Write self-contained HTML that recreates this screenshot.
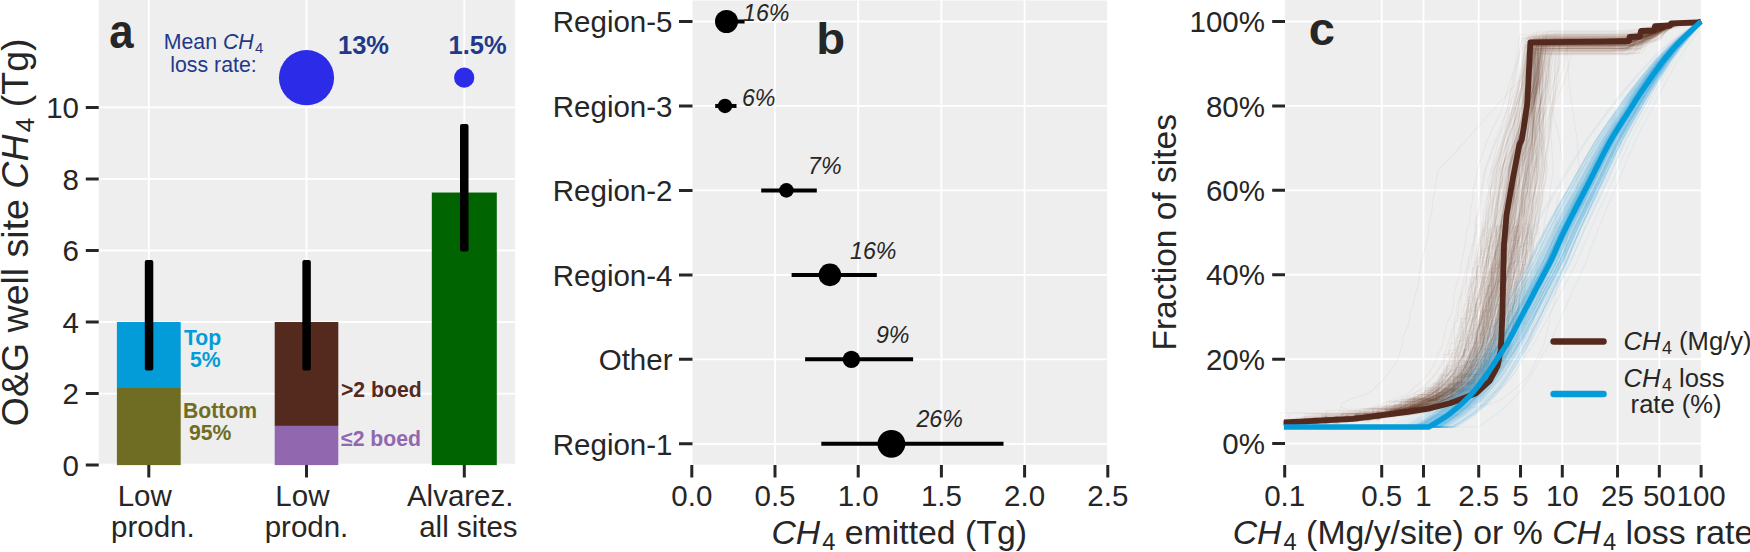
<!DOCTYPE html>
<html><head><meta charset="utf-8"><title>Figure</title>
<style>html,body{margin:0;padding:0;background:#fff;width:1750px;height:552px;overflow:hidden}svg{display:block}text{font-family:"Liberation Sans", Arial, Helvetica, sans-serif}</style>
</head><body>
<svg width="1750" height="552" viewBox="0 0 1750 552">
<defs><clipPath id="clipc"><rect x="1285.0" y="0" width="415.9" height="464.8"/></clipPath></defs>
<rect width="1750" height="552" fill="#fff"/>
<rect x="98.7" y="0" width="416.3" height="463.7" fill="#EEEEEE"/>
<path d="M98.7 393.56H515.0M98.7 322.02H515.0M98.7 250.48H515.0M98.7 178.94H515.0M98.7 107.4H515.0M148.8 0V463.7M306.5 0V463.7M464.3 0V463.7" stroke="#fff" stroke-width="1.8" fill="none"/>
<rect x="116.9" y="387.12" width="63.8" height="77.98" fill="#6F6D23"/>
<rect x="116.9" y="322.02" width="63.8" height="65.1" fill="#039CD9"/>
<rect x="274.7" y="425.9" width="63.6" height="39.2" fill="#9168B0"/>
<rect x="274.7" y="322.02" width="63.6" height="103.88" fill="#542A1E"/>
<rect x="431.8" y="192.53" width="65" height="272.57" fill="#006400"/>
<rect x="144.8" y="260.0" width="8.5" height="110.6" rx="2" fill="#000"/>
<rect x="302.35" y="260.0" width="8.5" height="110.4" rx="2" fill="#000"/>
<rect x="460" y="123.9" width="8.5" height="127.6" rx="2" fill="#000"/>
<circle cx="306.5" cy="77.7" r="27.6" fill="#2C2CE8"/>
<circle cx="464.2" cy="77.7" r="10.1" fill="#2C2CE8"/>
<path d="M85.8 465.1H98.7M85.8 393.56H98.7M85.8 322.02H98.7M85.8 250.48H98.7M85.8 178.94H98.7M85.8 107.4H98.7M148.8 465.1V477.6M306.5 465.1V477.6M464.3 465.1V477.6" stroke="#262626" stroke-width="3" fill="none"/>
<text x="79" y="475.7" text-anchor="end" font-size="29.5" fill="#262626">0</text>
<text x="79" y="404.16" text-anchor="end" font-size="29.5" fill="#262626">2</text>
<text x="79" y="332.62" text-anchor="end" font-size="29.5" fill="#262626">4</text>
<text x="79" y="261.08" text-anchor="end" font-size="29.5" fill="#262626">6</text>
<text x="79" y="189.54" text-anchor="end" font-size="29.5" fill="#262626">8</text>
<text x="79" y="118" text-anchor="end" font-size="29.5" fill="#262626">10</text>
<text x="148.8" y="505.7" text-anchor="middle" font-size="29.5" fill="#262626">Low&#160;</text>
<text x="148.8" y="536.9" text-anchor="middle" font-size="29.5" fill="#262626">&#160;prodn.</text>
<text x="306.5" y="505.7" text-anchor="middle" font-size="29.5" fill="#262626">Low&#160;</text>
<text x="306.5" y="536.9" text-anchor="middle" font-size="29.5" fill="#262626">prodn.</text>
<text x="464.3" y="505.7" text-anchor="middle" font-size="29.5" fill="#262626">Alvarez.&#160;</text>
<text x="464.3" y="536.9" text-anchor="middle" font-size="29.5" fill="#262626">&#160;all sites</text>
<text transform="translate(27.6 232.3) rotate(-90)" text-anchor="middle" font-size="37.5" fill="#262626">O&amp;G well site <tspan font-style="italic">CH</tspan><tspan font-size="26.25" dx="2.25" dy="6.26">4</tspan><tspan dy="-6.26"> (Tg)</tspan></text>
<text transform="translate(109.3 47.6) scale(0.93 1.03)" font-size="47" font-weight="bold" fill="#262626">a</text>
<text x="213.5" y="49" text-anchor="middle" font-size="21.3" fill="#22398A">Mean <tspan font-style="italic">CH</tspan><tspan font-size="14.91" dx="1.28" dy="3.56">4</tspan><tspan dy="-3.56"></tspan></text>
<text x="213.5" y="72.2" text-anchor="middle" font-size="21.3" fill="#22398A">loss rate:</text>
<text x="338" y="53.8" font-size="25.5" font-weight="bold" fill="#22398A">13%</text>
<text x="448.5" y="53.8" font-size="25.5" font-weight="bold" fill="#22398A">1.5%</text>
<text x="184" y="344.7" font-size="21.2" font-weight="bold" fill="#039CD9">Top</text>
<text x="184" y="367.1" font-size="21.2" font-weight="bold" fill="#039CD9">&#160;5%</text>
<text x="183" y="417.6" font-size="21.2" font-weight="bold" fill="#6F6D23">Bottom</text>
<text x="183" y="440" font-size="21.2" font-weight="bold" fill="#6F6D23">&#160;95%</text>
<text x="341" y="396.9" font-size="21.2" font-weight="bold" fill="#542A1E">&gt;2 boed</text>
<text x="341" y="445.5" font-size="21.2" font-weight="bold" fill="#9168B0">&#8804;2 boed</text>
<rect x="692.5" y="0.5" width="414.7" height="464.2" fill="#EEEEEE"/>
<path d="M692.5 21.5H1107.2M692.5 105.96H1107.2M692.5 190.42H1107.2M692.5 274.88H1107.2M692.5 359.34H1107.2M692.5 443.8H1107.2M775 0.5V464.7M858.2 0.5V464.7M941.4 0.5V464.7M1024.6 0.5V464.7" stroke="#fff" stroke-width="1.8" fill="none"/>
<path d="M717.0 21.5H744.6" stroke="#000" stroke-width="4"/>
<circle cx="726.5" cy="21.5" r="11.5" fill="#000"/>
<path d="M715.2 105.96H736.5" stroke="#000" stroke-width="4"/>
<circle cx="725.0" cy="105.96" r="7.2" fill="#000"/>
<path d="M761.2 190.42H816.8" stroke="#000" stroke-width="4"/>
<circle cx="786.4" cy="190.42" r="7.3" fill="#000"/>
<path d="M791.6 274.88H876.8" stroke="#000" stroke-width="4"/>
<circle cx="829.9" cy="274.88" r="11.3" fill="#000"/>
<path d="M805.1 359.34H913.1" stroke="#000" stroke-width="4"/>
<circle cx="851.4" cy="359.34" r="8.7" fill="#000"/>
<path d="M821.3 443.8H1003.5" stroke="#000" stroke-width="4"/>
<circle cx="891.4" cy="443.8" r="13.9" fill="#000"/>
<text x="743" y="21.4" font-size="23.2" font-style="italic" fill="#262626">16%</text>
<text x="741.9" y="106.2" font-size="23.2" font-style="italic" fill="#262626">6%</text>
<text x="808" y="173.9" font-size="23.2" font-style="italic" fill="#262626">7%</text>
<text x="850" y="258.5" font-size="23.2" font-style="italic" fill="#262626">16%</text>
<text x="875.9" y="343" font-size="23.2" font-style="italic" fill="#262626">9%</text>
<text x="916.4" y="427" font-size="23.2" font-style="italic" fill="#262626">26%</text>
<path d="M679 21.5H692.5M679 105.96H692.5M679 190.42H692.5M679 274.88H692.5M679 359.34H692.5M679 443.8H692.5M691.8 465.1V477.6M775 465.1V477.6M858.2 465.1V477.6M941.4 465.1V477.6M1024.6 465.1V477.6M1107.8 465.1V477.6" stroke="#262626" stroke-width="3" fill="none"/>
<text x="672.5" y="32.2" text-anchor="end" font-size="29.5" fill="#262626">Region-5</text>
<text x="672.5" y="116.66" text-anchor="end" font-size="29.5" fill="#262626">Region-3</text>
<text x="672.5" y="201.12" text-anchor="end" font-size="29.5" fill="#262626">Region-2</text>
<text x="672.5" y="285.58" text-anchor="end" font-size="29.5" fill="#262626">Region-4</text>
<text x="672.5" y="370.04" text-anchor="end" font-size="29.5" fill="#262626">Other</text>
<text x="672.5" y="454.5" text-anchor="end" font-size="29.5" fill="#262626">Region-1</text>
<text x="691.8" y="505.8" text-anchor="middle" font-size="29.5" fill="#262626">0.0</text>
<text x="775" y="505.8" text-anchor="middle" font-size="29.5" fill="#262626">0.5</text>
<text x="858.2" y="505.8" text-anchor="middle" font-size="29.5" fill="#262626">1.0</text>
<text x="941.4" y="505.8" text-anchor="middle" font-size="29.5" fill="#262626">1.5</text>
<text x="1024.6" y="505.8" text-anchor="middle" font-size="29.5" fill="#262626">2.0</text>
<text x="1107.8" y="505.8" text-anchor="middle" font-size="29.5" fill="#262626">2.5</text>
<text x="899.2" y="544.2" text-anchor="middle" font-size="33.8" fill="#262626"><tspan font-style="italic">CH</tspan><tspan font-size="23.66" dx="2.03" dy="5.64">4</tspan><tspan dy="-5.64"> emitted (Tg)</tspan></text>
<text transform="translate(816.2 53.9) scale(1.05 0.99)" font-size="45" font-weight="bold" fill="#262626">b</text>
<rect x="1285.0" y="0" width="415.9" height="464.8" fill="#EEEEEE"/>
<path d="M1285.0 443.6H1700.9M1285.0 359.18H1700.9M1285.0 274.76H1700.9M1285.0 190.34H1700.9M1285.0 105.92H1700.9M1285.0 21.5H1700.9M1381.72 0V464.8M1423.5 0V464.8M1478.73 0V464.8M1520.52 0V464.8M1562.3 0V464.8M1617.53 0V464.8M1659.32 0V464.8" stroke="#fff" stroke-width="1.8" fill="none"/>
<g stroke="#542A1E" stroke-opacity="0.042" stroke-width="1.1" fill="none"><path d="M1284.4 424.7 1294.9 422 1305.2 421.3 1315.4 420.6 1326.1 421.8 1336.9 420.1 1346.5 419.4 1358.5 420.1 1367.5 413.9 1379.6 418.7 1388.3 414 1397.7 413.2 1407 409.8 1415.9 406.9 1424.8 403.3 1434 399.2 1444 394.4 1452.5 388.5 1461.7 381.4 1467.8 373.2 1473.2 364.3 1477.9 354.8 1482.2 344.9 1483.2 334.8 1486.6 324.6 1488 314.4 1490.7 304.1 1493.1 293.9 1497.2 283.7 1498.1 273.4 1500 263.2 1501.9 252.9 1504.4 242.6 1507.6 232.3 1507.5 221.9 1509.6 211.6 1514 201.2 1514 190.8 1515.5 180.4 1516.4 170 1522 140 1525.4 110 1529.1 80 1535 41.6 1615.2 41.6 1644.4 32.5 1677.7 22.9 1701 21.5"/><path d="M1285 420 1293.3 422.7 1306.1 422.6 1313.9 417.3 1326.2 419.4 1335.5 421.2 1347.8 419.3 1357.6 418.9 1369.1 418.1 1378.7 416.7 1385.2 416.2 1394.8 413 1400.1 409.8 1408.6 406.9 1418.8 403.3 1426.3 399.2 1437.7 394.4 1447.3 388.5 1453.2 381.4 1462.1 373.2 1466.8 364.3 1470.7 354.8 1474.6 344.9 1477.6 334.8 1479.7 324.6 1483 314.4 1483.9 304.1 1486.5 293.9 1490 283.7 1491.6 273.4 1493.2 263.2 1496.8 252.9 1499.3 242.6 1499.6 232.3 1500.6 221.9 1503.3 211.6 1505 201.2 1506.4 190.8 1509.3 180.4 1508.9 170 1517.9 140 1528.5 110 1537.7 80 1542.8 36.7 1634 36.7 1648.9 32.5 1672.6 24.6 1701 21.5"/><path d="M1284.2 423.4 1294.8 422.1 1305.1 423.2 1314.7 421.8 1326.4 419.6 1337.1 421.9 1348 420.7 1357.3 417.6 1367.9 418.3 1378.7 415.6 1389.1 414.4 1396.8 414 1405.3 409.8 1415 406.9 1424.6 403.3 1434.5 399.2 1443.4 394.4 1453.5 388.5 1459.4 381.4 1466 373.2 1471.2 364.3 1475.9 354.8 1480.1 344.9 1482.6 334.8 1484 324.6 1487.6 314.4 1489.1 304.1 1492.4 293.9 1496 283.7 1498.5 273.4 1499.1 263.2 1502 252.9 1502.1 242.6 1505.3 232.3 1506.5 221.9 1508.1 211.6 1510.4 201.2 1512.2 190.8 1513.6 180.4 1515 170 1518.1 140 1523.9 110 1534 80 1537.3 38.6 1645.4 38.6 1645.2 32.4 1674.1 24.1 1701 21.5"/><path d="M1282.8 420.7 1295 420.9 1304.2 419.5 1316.5 422.2 1327.1 419.1 1336.4 418.1 1347.5 421.4 1356.7 420.5 1368.6 416.9 1376.7 418 1390.5 413.3 1403.6 412.8 1417 409.8 1427.4 406.9 1439.9 403.3 1449.8 399.2 1458.5 394.4 1465.8 388.5 1473.1 381.4 1481.1 373.2 1485.9 364.3 1490.4 354.8 1494.9 344.9 1496.4 334.8 1497.2 324.6 1501.2 314.4 1502.5 304.1 1506.9 293.9 1508.9 283.7 1510.5 273.4 1513.3 263.2 1516.2 252.9 1517.6 242.6 1520.5 232.3 1521.2 221.9 1523.7 211.6 1525.7 201.2 1527.4 190.8 1527.1 180.4 1529.9 170 1535 140 1546.3 110 1549.6 80 1556.8 37.6 1627.9 37.6 1647.8 31.9 1669.6 24.2 1701 21.5"/><path d="M1284 420.6 1294.7 421.1 1304.7 419.8 1315.3 421.3 1325.6 419.4 1336.2 419.3 1348.3 417.1 1357.3 418.4 1366.1 415.2 1378.6 414.1 1394 413.7 1410 410.5 1427.3 409.8 1445 406.9 1455.6 403.3 1467 399.2 1471.9 394.4 1481.8 388.5 1490.6 381.4 1497.6 373.2 1501.2 364.3 1506.5 354.8 1510 344.9 1512.2 334.8 1515.1 324.6 1517.5 314.4 1520.2 304.1 1521.5 293.9 1523.3 283.7 1527.3 273.4 1529 263.2 1531.2 252.9 1532.3 242.6 1536.4 232.3 1538.4 221.9 1539.4 211.6 1540.3 201.2 1542.8 190.8 1543.3 180.4 1542.7 170 1540.6 140 1538.7 110 1540 80 1538.4 44.5 1625.5 44.5 1644 36.9 1677.8 25.3 1701 21.5"/><path d="M1284.7 423.2 1293.8 421.1 1307.1 423.4 1316 417.2 1326.4 421.2 1337.8 420.4 1346.9 419.8 1355.8 419.8 1368.1 416.1 1379.3 418.6 1388 413.2 1400.2 412.5 1410.4 409.8 1420.6 406.9 1433.2 403.3 1442 399.2 1449.4 394.4 1457.9 388.5 1468.1 381.4 1474.1 373.2 1480.3 364.3 1483.9 354.8 1486.1 344.9 1489.8 334.8 1490.3 324.6 1493.9 314.4 1496.9 304.1 1499.7 293.9 1501.1 283.7 1503.9 273.4 1506.7 263.2 1508.9 252.9 1511.1 242.6 1512.6 232.3 1514 221.9 1516.6 211.6 1517.6 201.2 1518.5 190.8 1520.1 180.4 1522.2 170 1524.6 140 1526.8 110 1528.3 80 1530.1 43.8 1619.2 43.8 1654.3 36.2 1673.7 23.8 1701 21.5"/><path d="M1283.2 423.8 1293.8 420.1 1304.9 423.1 1315.4 422.3 1324.9 419.5 1335.8 419.5 1347.1 419.4 1357.6 418.1 1367.2 417.5 1378.5 417.5 1388.6 413.7 1401.3 412.3 1414.4 409.8 1424.9 406.9 1435.9 403.3 1444.9 399.2 1454.6 394.4 1465.1 388.5 1470.3 381.4 1476.8 373.2 1482.7 364.3 1488 354.8 1490.7 344.9 1493.6 334.8 1496.2 324.6 1498 314.4 1501.6 304.1 1502.8 293.9 1505.7 283.7 1508 273.4 1510.4 263.2 1512.6 252.9 1515 242.6 1516.3 232.3 1518.4 221.9 1520.7 211.6 1521.7 201.2 1523.3 190.8 1525.8 180.4 1524.9 170 1525.7 140 1531 110 1531.2 80 1534 38.6 1618.7 38.6 1653.7 38 1677.2 23.8 1701 21.5"/><path d="M1284.9 421.7 1294.3 419.6 1305.6 423.1 1313.9 421 1326.4 417.8 1335 418.2 1346.4 416.9 1357.4 418.6 1368.3 418.2 1379.5 417.6 1386.9 413.5 1396.5 410.6 1406.7 409.8 1416 406.9 1426 403.3 1434 399.2 1443.9 394.4 1453.5 388.5 1461.1 381.4 1467.6 373.2 1473.3 364.3 1477.2 354.8 1481.9 344.9 1484.4 334.8 1486.5 324.6 1488.6 314.4 1491.4 304.1 1491.7 293.9 1495.4 283.7 1498.6 273.4 1499.7 263.2 1503.3 252.9 1505.3 242.6 1505.9 232.3 1508.6 221.9 1510.2 211.6 1512.5 201.2 1514.2 190.8 1515.2 180.4 1516 170 1521.1 140 1523.7 110 1525.4 80 1529.1 42.7 1618.5 42.7 1643.6 34.1 1667.6 23.9 1701 21.5"/><path d="M1284.1 424.3 1296.6 422.6 1304.9 419.1 1315.8 422.7 1325.8 420.3 1337 420.8 1346.7 418.3 1357.2 414.5 1367.5 419 1379.4 412.8 1387.1 413.9 1395.1 413.6 1403.6 409.8 1412.6 406.9 1421.8 403.3 1430.6 399.2 1441.3 394.4 1449.8 388.5 1458.1 381.4 1463.8 373.2 1470.4 364.3 1474.3 354.8 1477.7 344.9 1480.6 334.8 1481.5 324.6 1486.8 314.4 1489.2 304.1 1489.8 293.9 1490.9 283.7 1494.8 273.4 1498 263.2 1497.2 252.9 1503.4 242.6 1502.8 232.3 1504.8 221.9 1506.3 211.6 1508.8 201.2 1510.4 190.8 1511.7 180.4 1513.5 170 1519.8 140 1525.7 110 1533.3 80 1536 46.5 1630.5 46.5 1660 38.5 1669.7 24.5 1701 21.5"/><path d="M1284.9 422.3 1294.4 421.9 1304.9 420.1 1315.5 419 1325.9 420.9 1336.8 419.4 1346.2 419.3 1357 420.6 1368.4 417 1377.9 414.8 1383.9 413.7 1390.5 413 1396.3 409.8 1403 406.9 1409 403.3 1419.2 399.2 1432.1 394.4 1437 388.5 1445.8 381.4 1452.9 373.2 1458.5 364.3 1463.2 354.8 1466.2 344.9 1469.4 334.8 1471.6 324.6 1474.7 314.4 1475 304.1 1478.1 293.9 1481.2 283.7 1482.7 273.4 1485.1 263.2 1488.6 252.9 1489.6 242.6 1492.5 232.3 1494.4 221.9 1495.7 211.6 1497.5 201.2 1498.6 190.8 1499.1 180.4 1501.7 170 1509.8 140 1518 110 1522.4 80 1529.3 40.4 1632.5 40.4 1644.7 37.4 1672.6 23.8 1701 21.5"/><path d="M1284.3 421 1294.7 423.9 1305 424.3 1314.8 423.6 1324.3 420.5 1336.8 420.8 1347.7 417.6 1355.6 417.8 1366.7 417.3 1377.4 415.5 1393.2 414.5 1408.6 414.1 1424.3 409.8 1440.3 406.9 1452.6 403.3 1461.9 399.2 1470.8 394.4 1478.3 388.5 1485.7 381.4 1493.5 373.2 1498.7 364.3 1502 354.8 1505.8 344.9 1509.2 334.8 1512.5 324.6 1514.6 314.4 1516.4 304.1 1516.7 293.9 1521.5 283.7 1522.4 273.4 1524.4 263.2 1527.4 252.9 1530.1 242.6 1531.9 232.3 1535.6 221.9 1535.1 211.6 1536.3 201.2 1539.4 190.8 1540.2 180.4 1541.2 170 1545.2 140 1545.3 110 1545.4 80 1547 42.7 1634.2 42.7 1640 35.2 1674.9 24.6 1701 21.5"/><path d="M1283.5 423 1295.2 422.1 1305.2 420.8 1315.7 423.6 1325.4 424 1335.9 419.8 1347 420.6 1356.4 415.1 1368.3 418.4 1378.8 419.8 1393.9 414.6 1410.9 412.8 1427.8 409.8 1441.5 406.9 1454.2 403.3 1461.4 399.2 1472.5 394.4 1480.2 388.5 1488.9 381.4 1496.5 373.2 1500.4 364.3 1504.6 354.8 1507.9 344.9 1510.4 334.8 1513.1 324.6 1516.6 314.4 1518.5 304.1 1520.8 293.9 1523 283.7 1526.3 273.4 1528.3 263.2 1530 252.9 1532.6 242.6 1533.8 232.3 1534.8 221.9 1538.6 211.6 1539.4 201.2 1539.9 190.8 1543 180.4 1544 170 1548.2 140 1552.2 110 1554.3 80 1556.5 51 1627 51 1653.8 35.9 1672.1 23.7 1701 21.5"/><path d="M1284.1 422.9 1295.8 423.5 1304.5 421.2 1317.5 420.2 1325.5 420.2 1335.7 419.8 1347 419.2 1355.6 415.8 1366.4 418.2 1378.3 412.2 1390 415.7 1401 412.2 1413.6 409.8 1422.2 406.9 1434.5 403.3 1444.6 399.2 1454.4 394.4 1461.6 388.5 1467.9 381.4 1476.2 373.2 1480.5 364.3 1485.7 354.8 1490.2 344.9 1491.4 334.8 1495.9 324.6 1497.8 314.4 1499.9 304.1 1502 293.9 1503.8 283.7 1507 273.4 1509.2 263.2 1510.6 252.9 1513.1 242.6 1516.8 232.3 1516.8 221.9 1519.3 211.6 1520.2 201.2 1522.2 190.8 1523.6 180.4 1523.7 170 1525.8 140 1525.1 110 1529.4 80 1529.6 39.5 1622.7 39.5 1653.1 30.3 1667.2 25.4 1701 21.5"/><path d="M1283.3 422.4 1294.4 421.4 1305 422.9 1316.4 423.7 1325.3 419.8 1334.4 422.6 1346.3 419 1357.8 416.2 1368.2 417.1 1376.8 416.3 1393.6 411.4 1408.4 412.5 1423 409.8 1437.8 406.9 1450 403.3 1458.5 399.2 1467.4 394.4 1475 388.5 1483.6 381.4 1489 373.2 1495.1 364.3 1501 354.8 1503.5 344.9 1505.8 334.8 1507.5 324.6 1510.3 314.4 1513.4 304.1 1516.4 293.9 1518.3 283.7 1520.8 273.4 1522.7 263.2 1526 252.9 1526.6 242.6 1528.4 232.3 1531.3 221.9 1532.3 211.6 1533.7 201.2 1535 190.8 1536.8 180.4 1539 170 1539.4 140 1538.8 110 1536.8 80 1538.1 37 1633.4 37 1646 31.4 1675.2 25.3 1701 21.5"/><path d="M1284.4 424.2 1294.3 421.1 1304.7 419.1 1316.3 422.5 1325.9 421.2 1337.6 419.8 1347 420.3 1356.9 418.9 1367.1 418.4 1377.7 416 1386.7 412.2 1394 412.8 1402 409.8 1409.2 406.9 1418.3 403.3 1428 399.2 1438.5 394.4 1447 388.5 1455.8 381.4 1461.8 373.2 1466.9 364.3 1470 354.8 1475.1 344.9 1478.3 334.8 1480.1 324.6 1484.1 314.4 1486.5 304.1 1488.4 293.9 1489.7 283.7 1493.9 273.4 1495.1 263.2 1495.4 252.9 1499.9 242.6 1499.6 232.3 1501.4 221.9 1504.9 211.6 1506.9 201.2 1507.4 190.8 1509.6 180.4 1511.2 170 1522.9 140 1529.4 110 1540.9 80 1547 44.4 1625.3 44.4 1648.2 36.4 1678.4 24.2 1701 21.5"/><path d="M1284 422.6 1294.7 421.7 1304.2 420.6 1315 420.2 1325 421.4 1335.4 420.8 1346.1 419.6 1358.5 418.5 1367.2 417.2 1378.4 413.3 1387.6 414.5 1397.4 412.3 1408 409.8 1417.5 406.9 1427.2 403.3 1436.6 399.2 1445.5 394.4 1454.4 388.5 1461.9 381.4 1468.4 373.2 1474.1 364.3 1477.3 354.8 1481.9 344.9 1485 334.8 1486.7 324.6 1489.9 314.4 1492.7 304.1 1494.5 293.9 1498.7 283.7 1497.3 273.4 1501.6 263.2 1502.5 252.9 1506.8 242.6 1510 232.3 1507.6 221.9 1511.4 211.6 1513.4 201.2 1514.3 190.8 1516.5 180.4 1515.8 170 1522.8 140 1527.8 110 1535.5 80 1539.2 44.9 1624.6 44.9 1644.9 36.4 1663 24 1701 21.5"/><path d="M1284.6 422.8 1294.7 422.7 1305.4 423.8 1315 421.8 1325.6 420.6 1336 417.7 1346.7 417.1 1358.6 416.3 1367.5 417.7 1378 418 1389.2 412.1 1401.2 411.8 1413.7 409.8 1421.4 406.9 1431.8 403.3 1441.9 399.2 1450.1 394.4 1460.2 388.5 1468.5 381.4 1475.3 373.2 1479.9 364.3 1483.9 354.8 1488.6 344.9 1491.3 334.8 1492.6 324.6 1494.8 314.4 1497 304.1 1500.2 293.9 1502.3 283.7 1505.3 273.4 1507.9 263.2 1508.3 252.9 1511.6 242.6 1513.5 232.3 1514.6 221.9 1516.7 211.6 1519.4 201.2 1519.8 190.8 1521.3 180.4 1522.6 170 1526.9 140 1527.2 110 1530.7 80 1534 40.8 1630.8 40.8 1644.8 36.6 1672.3 24.7 1701 21.5"/><path d="M1284.9 424.2 1295.5 420.5 1304.5 422.4 1316.6 421.3 1325.3 419.9 1335.9 418.5 1348.1 418.1 1357.4 421.5 1368.8 417.7 1377.8 416.5 1389.1 415.2 1398 412.4 1406.6 409.8 1415.1 406.9 1425.1 403.3 1435.5 399.2 1442.9 394.4 1452.7 388.5 1460.7 381.4 1466.6 373.2 1472.4 364.3 1477.7 354.8 1482.2 344.9 1483.9 334.8 1486.1 324.6 1487.1 314.4 1492.3 304.1 1493.1 293.9 1495.4 283.7 1496.9 273.4 1500.1 263.2 1501.4 252.9 1504.4 242.6 1506.6 232.3 1508 221.9 1509.9 211.6 1510.6 201.2 1514 190.8 1513.9 180.4 1514.5 170 1517.5 140 1522.2 110 1526.9 80 1529.5 39.2 1619.7 39.2 1656.6 32.8 1674.7 23.8 1701 21.5"/><path d="M1283.9 423.2 1295.8 424.7 1304.5 420.3 1316.9 420.6 1326.5 422.2 1335.8 419 1345.8 420.7 1357.3 419.4 1366.8 418.2 1377.6 415.6 1388 413.9 1400.3 411.8 1410.2 409.8 1421.4 406.9 1430.8 403.3 1441.1 399.2 1450 394.4 1459.3 388.5 1466 381.4 1473 373.2 1478.6 364.3 1484.1 354.8 1486.7 344.9 1488.4 334.8 1490.8 324.6 1494.1 314.4 1496.3 304.1 1498.3 293.9 1500.8 283.7 1504.2 273.4 1504.6 263.2 1508.4 252.9 1510 242.6 1513.3 232.3 1512.5 221.9 1515.9 211.6 1517 201.2 1518.8 190.8 1520.6 180.4 1523.3 170 1524.6 140 1530.3 110 1530.2 80 1534.3 45.7 1627.3 45.7 1656.2 37.2 1675.9 24.2 1701 21.5"/><path d="M1284.6 423.2 1294.2 424.7 1304.5 422.7 1316.4 420.7 1326.6 418.8 1337.2 420.1 1345.6 420 1356.7 420.1 1367.3 416.9 1378.5 415.4 1391.4 413.4 1405.1 412.2 1417.9 409.8 1428.6 406.9 1442.7 403.3 1451.4 399.2 1458.5 394.4 1468.7 388.5 1476.7 381.4 1483.7 373.2 1487.6 364.3 1494.1 354.8 1496.3 344.9 1501.1 334.8 1501.6 324.6 1504.7 314.4 1506.3 304.1 1508 293.9 1512.1 283.7 1514.4 273.4 1517.2 263.2 1518.9 252.9 1519.7 242.6 1520.7 232.3 1523.3 221.9 1525 211.6 1526.5 201.2 1529.2 190.8 1530.5 180.4 1531.6 170 1532.5 140 1533.9 110 1534.7 80 1533.7 42.3 1623.2 42.3 1656.6 31.6 1672.5 25.1 1701 21.5"/><path d="M1283.7 422.2 1293.9 422 1305.4 423 1314.5 421.1 1325.5 418.1 1336.9 419.1 1346.7 416 1357.8 418.3 1368.4 416.4 1379.4 416.4 1383.3 414.9 1388.5 411.4 1393.3 409.8 1397.1 406.9 1405.1 403.3 1415 399.2 1427.1 394.4 1433.8 388.5 1441.1 381.4 1448.5 373.2 1453.6 364.3 1456.4 354.8 1463.2 344.9 1464.8 334.8 1465.6 324.6 1468.9 314.4 1472 304.1 1473.9 293.9 1476.2 283.7 1479.1 273.4 1481.9 263.2 1484.2 252.9 1485.6 242.6 1487.6 232.3 1487.9 221.9 1489.6 211.6 1492.4 201.2 1493.5 190.8 1495.6 180.4 1496.3 170 1503.2 140 1513.2 110 1524.3 80 1530.2 42.4 1628 42.4 1649.3 32.6 1678.3 25.3 1701 21.5"/><path d="M1284.7 421.2 1293.9 421.1 1304.5 423.7 1316.1 422 1326.2 418.1 1336 419 1346.1 419.8 1356.8 417.1 1367 414.1 1378.7 417.9 1385.2 412.8 1389 412.5 1398.1 409.8 1403.3 406.9 1412.2 403.3 1422.3 399.2 1432.5 394.4 1439.9 388.5 1448.8 381.4 1455.2 373.2 1458.9 364.3 1464.3 354.8 1467 344.9 1470.8 334.8 1473.8 324.6 1475 314.4 1476.6 304.1 1481.6 293.9 1483.2 283.7 1486.5 273.4 1486.6 263.2 1490.7 252.9 1493.6 242.6 1495.4 232.3 1495.4 221.9 1497.4 211.6 1498.7 201.2 1501.2 190.8 1502.8 180.4 1503.5 170 1514.5 140 1525.9 110 1535 80 1542.4 46.7 1639.4 46.7 1645.3 39.1 1673.4 25.8 1701 21.5"/><path d="M1284.3 423.5 1293 421.2 1304.3 420.7 1315.2 422.5 1325.8 418.7 1335.3 420.5 1346.1 418.5 1358.3 420.2 1368.9 415.4 1379.5 415.7 1387.8 414.2 1396.2 412.3 1403.7 409.8 1411.7 406.9 1420.4 403.3 1430.8 399.2 1441.3 394.4 1448.5 388.5 1457.1 381.4 1462.8 373.2 1468.3 364.3 1472.4 354.8 1478.5 344.9 1480.1 334.8 1482.2 324.6 1485.7 314.4 1485.7 304.1 1489.7 293.9 1491.5 283.7 1494.9 273.4 1495.7 263.2 1499 252.9 1500.9 242.6 1503.9 232.3 1504.2 221.9 1506.2 211.6 1508.2 201.2 1509.8 190.8 1511.4 180.4 1512.6 170 1523.1 140 1527.2 110 1532.6 80 1538.6 49.2 1635.4 49.2 1649.7 36.4 1666.2 25.4 1701 21.5"/><path d="M1284.4 425.2 1293.2 421.9 1303.4 422.9 1314.9 420.7 1326 421.3 1336.2 419.8 1346.5 419.2 1356.4 418.3 1366.3 416.4 1379.8 416 1384.3 414.6 1390.9 409.7 1397.5 409.8 1404.9 406.9 1413.1 403.3 1422.4 399.2 1432.1 394.4 1440.7 388.5 1450.4 381.4 1456 373.2 1460.7 364.3 1464.2 354.8 1468.3 344.9 1474.2 334.8 1473.7 324.6 1477.1 314.4 1479.7 304.1 1481.7 293.9 1484 283.7 1485.5 273.4 1488.1 263.2 1492.5 252.9 1492.6 242.6 1495.7 232.3 1495.4 221.9 1498.3 211.6 1500.3 201.2 1502.5 190.8 1502.3 180.4 1505.2 170 1513.1 140 1517 110 1523.2 80 1529.2 39.3 1627.9 39.3 1647.3 27.7 1668 22.5 1701 21.5"/><path d="M1284.6 421.2 1293.9 422.5 1304.7 421.2 1313.8 420.7 1325.9 420.4 1336.5 421 1348.6 417.3 1356.6 419 1366.1 415.6 1377.5 414.3 1386.5 412.4 1395.4 412.7 1406 409.8 1412.1 406.9 1423.1 403.3 1432.8 399.2 1442.5 394.4 1452.2 388.5 1458.9 381.4 1466.2 373.2 1470.1 364.3 1474.2 354.8 1479.8 344.9 1481.7 334.8 1482.9 324.6 1486.4 314.4 1489.5 304.1 1490.5 293.9 1493.8 283.7 1494.9 273.4 1498.7 263.2 1500.7 252.9 1502.4 242.6 1504.1 232.3 1506 221.9 1508.9 211.6 1510.4 201.2 1509.4 190.8 1511.7 180.4 1513.9 170 1519.2 140 1525.1 110 1522.9 80 1527.1 37.9 1620.9 37.9 1654.9 32.8 1675.4 24.1 1701 21.5"/><path d="M1285.2 423.1 1296 425.1 1306.3 423.3 1315.6 421.3 1325.8 419.4 1336.4 418.8 1348.2 419.8 1357 415.3 1367.8 416.5 1377.4 414.2 1390.2 415.1 1406.3 416.1 1420.5 409.8 1434.4 406.9 1447 403.3 1455.6 399.2 1463.9 394.4 1472.1 388.5 1479.7 381.4 1487.9 373.2 1493.1 364.3 1498.1 354.8 1500 344.9 1503.1 334.8 1504.8 324.6 1508.8 314.4 1509.3 304.1 1513.2 293.9 1516 283.7 1518.6 273.4 1519 263.2 1522.9 252.9 1523.5 242.6 1525.3 232.3 1526.6 221.9 1530.3 211.6 1532.3 201.2 1532.1 190.8 1533.5 180.4 1535.3 170 1544.2 140 1550.3 110 1560 80 1567.5 48 1636.3 48 1646.4 41.2 1669.2 23.5 1701 21.5"/><path d="M1284.7 422.2 1293.5 424.5 1304.1 421.7 1315.5 421 1326.8 418.1 1335.7 420.1 1346.8 420.4 1356.1 419.5 1367.1 416.7 1379.8 416.7 1381.8 415.4 1386.1 413.9 1390.4 409.8 1393.5 406.9 1400.3 403.3 1410.5 399.2 1419.9 394.4 1430.5 388.5 1439.2 381.4 1444.3 373.2 1449.5 364.3 1454.9 354.8 1458.8 344.9 1461 334.8 1462.1 324.6 1465.6 314.4 1468.5 304.1 1471.2 293.9 1471.8 283.7 1475.6 273.4 1478.8 263.2 1481.3 252.9 1481 242.6 1483 232.3 1485.5 221.9 1486.9 211.6 1488.7 201.2 1490.7 190.8 1492.5 180.4 1493.4 170 1504.8 140 1514.5 110 1525.2 80 1533.3 38.3 1651 38.3 1646 34.6 1673.3 22.8 1701 21.5"/><path d="M1283.4 422.2 1294.3 422.3 1307.4 422.7 1316.1 419.8 1325.4 420 1336.6 418.2 1348.2 418.2 1358.2 414.7 1367.8 417.6 1378.4 416.8 1384.9 414.5 1388.8 411.1 1394 409.8 1401.8 406.9 1409.8 403.3 1419.1 399.2 1429.2 394.4 1438.1 388.5 1447.7 381.4 1454.2 373.2 1458.4 364.3 1463.9 354.8 1465.1 344.9 1467.6 334.8 1471.3 324.6 1473.4 314.4 1476.1 304.1 1479 293.9 1483.6 283.7 1483.1 273.4 1486 263.2 1488.4 252.9 1490.1 242.6 1492.8 232.3 1495.2 221.9 1494.5 211.6 1497.3 201.2 1498.5 190.8 1500.5 180.4 1500.5 170 1515.4 140 1526.7 110 1538.2 80 1547.5 31.4 1611.4 31.4 1643.5 28.5 1666.3 23.1 1701 21.5"/><path d="M1284.4 424.2 1295.1 422.9 1305.5 423.1 1316.4 423.5 1326 420.6 1336.6 420.7 1346.7 421.8 1356.7 418.8 1367.5 416.5 1378.4 418.5 1390.1 413.1 1402.9 410.7 1417.5 409.8 1427.7 406.9 1439.8 403.3 1449.6 399.2 1458.3 394.4 1467.8 388.5 1474.7 381.4 1480.4 373.2 1486.3 364.3 1491.3 354.8 1493.9 344.9 1496.8 334.8 1499.9 324.6 1501.9 314.4 1506.1 304.1 1506.6 293.9 1509.7 283.7 1510.9 273.4 1514 263.2 1516.5 252.9 1518 242.6 1520.3 232.3 1521.8 221.9 1524.5 211.6 1524.4 201.2 1526.9 190.8 1529.1 180.4 1529.6 170 1534.5 140 1541.3 110 1538.6 80 1541.3 44.4 1630.8 44.4 1644.9 35.3 1680.3 25.5 1701 21.5"/><path d="M1284.1 423 1294.7 421.1 1305 421.8 1315.9 419.5 1326.3 421.9 1336.9 419.2 1346.5 418.7 1358 420.5 1367.7 416.2 1378.6 416.2 1389.6 413.1 1402.6 413.2 1414 409.8 1426.2 406.9 1438.1 403.3 1446.3 399.2 1456.2 394.4 1465.1 388.5 1472.4 381.4 1478.3 373.2 1484.6 364.3 1488.8 354.8 1492.9 344.9 1494.7 334.8 1498.7 324.6 1499 314.4 1502.6 304.1 1505.1 293.9 1508.2 283.7 1509.3 273.4 1512.6 263.2 1513.9 252.9 1517 242.6 1519.6 232.3 1519.7 221.9 1522.1 211.6 1522.6 201.2 1525.7 190.8 1527.4 180.4 1528 170 1535.2 140 1539.6 110 1543.7 80 1546.1 45 1615.2 45 1656.5 34.6 1667.1 25.1 1701 21.5"/><path d="M1284.6 421.2 1294.5 420.5 1304.8 425.6 1315.7 421.3 1326.4 421.4 1336.8 419.9 1346.7 420.9 1358.1 418.3 1368 415.6 1377.6 413.6 1394.1 416.7 1412.4 412.1 1428.1 409.8 1445.8 406.9 1458 403.3 1466.4 399.2 1474.5 394.4 1483.8 388.5 1491.4 381.4 1498.2 373.2 1503.8 364.3 1507.8 354.8 1510.6 344.9 1512.6 334.8 1515.7 324.6 1519.5 314.4 1522.4 304.1 1524.2 293.9 1525.5 283.7 1526.9 273.4 1531.3 263.2 1531.9 252.9 1534.6 242.6 1537.9 232.3 1537.9 221.9 1539.8 211.6 1542.2 201.2 1542.9 190.8 1545.6 180.4 1547.8 170 1543.5 140 1542.9 110 1539.8 80 1538.3 50.8 1610.5 50.8 1652.2 38.4 1670.8 22.8 1701 21.5"/><path d="M1283.7 422.9 1293.6 423.1 1305.4 421.8 1316.8 420.6 1327 419.6 1337 416.9 1347.1 418.8 1357 417.3 1367.6 416.1 1376.5 415 1390.2 413.5 1402.5 412 1416.6 409.8 1428.2 406.9 1438.7 403.3 1449.9 399.2 1458.2 394.4 1466.9 388.5 1474.8 381.4 1480.1 373.2 1485.9 364.3 1491.3 354.8 1493.5 344.9 1496.6 334.8 1499.5 324.6 1502 314.4 1503.9 304.1 1507.2 293.9 1508.6 283.7 1511.7 273.4 1514.3 263.2 1516.2 252.9 1518.3 242.6 1518.7 232.3 1520.3 221.9 1522.6 211.6 1525.1 201.2 1527.5 190.8 1526.8 180.4 1529.6 170 1533 140 1537.7 110 1540.3 80 1542.6 39.3 1636.3 39.3 1653.3 31.2 1675.7 24.1 1701 21.5"/><path d="M1283.5 421.8 1294.5 423.6 1304.9 421.9 1315 423.9 1326.6 420 1336.5 418.6 1347.5 419 1357 418.8 1369.8 417.1 1377.8 415.2 1390.7 413.3 1401.1 413.9 1412.8 409.8 1424.5 406.9 1436.1 403.3 1445.9 399.2 1453.5 394.4 1462.1 388.5 1471.4 381.4 1477.3 373.2 1481.6 364.3 1488.9 354.8 1492.5 344.9 1495.5 334.8 1496.6 324.6 1498.2 314.4 1501 304.1 1504.8 293.9 1505.9 283.7 1507.3 273.4 1511.5 263.2 1513.8 252.9 1514.3 242.6 1516.3 232.3 1519.3 221.9 1519.2 211.6 1522.4 201.2 1523.4 190.8 1525.9 180.4 1525.9 170 1530.9 140 1531.7 110 1531.4 80 1534.6 39.2 1623.8 39.2 1646.9 33.5 1674.1 22.8 1701 21.5"/><path d="M1284.6 422.4 1295.3 420 1305.5 421.5 1313.9 422.6 1326.2 420.5 1335.6 419.1 1348.1 417.8 1354.6 416.9 1366.9 417 1377.9 414.5 1384.3 415.8 1389.8 415.2 1396.4 409.8 1401.8 406.9 1411.7 403.3 1421.2 399.2 1430.4 394.4 1440.5 388.5 1446.2 381.4 1453.5 373.2 1460.7 364.3 1464 354.8 1466.7 344.9 1471 334.8 1473.8 324.6 1475.5 314.4 1476.5 304.1 1480 293.9 1482.9 283.7 1485.6 273.4 1488.8 263.2 1489.3 252.9 1491.2 242.6 1493.4 232.3 1496.1 221.9 1496.1 211.6 1499.6 201.2 1497.9 190.8 1502.2 180.4 1502.6 170 1509 140 1517.4 110 1524.7 80 1529.7 46.4 1632.1 46.4 1642.1 34.9 1664.3 26.5 1701 21.5"/><path d="M1283.8 423.3 1293.8 422.3 1304.9 420.8 1316.9 419.2 1325.3 421 1337.3 418.7 1346.7 417.9 1356.6 420.2 1367.8 416.5 1378.5 417.3 1389.2 414.8 1397.9 413.1 1408.1 409.8 1417.1 406.9 1425.3 403.3 1436 399.2 1445.2 394.4 1455.5 388.5 1461.9 381.4 1467.8 373.2 1475.1 364.3 1478.1 354.8 1482.3 344.9 1484.7 334.8 1487.6 324.6 1490.6 314.4 1491.5 304.1 1493.9 293.9 1497.5 283.7 1499 273.4 1501.7 263.2 1504.5 252.9 1505 242.6 1508.4 232.3 1509.1 221.9 1510.6 211.6 1512.3 201.2 1516 190.8 1516.3 180.4 1517.7 170 1521.8 140 1527.6 110 1535 80 1536.9 50.4 1635.9 50.4 1652.3 38.1 1671.1 22.8 1701 21.5"/><path d="M1283.4 425.9 1293.1 422.6 1305 422.7 1315.1 421.9 1326.6 420.2 1336.1 419.5 1346.1 418.7 1357.1 418.5 1368.9 419.1 1377.9 416.8 1391.9 415.4 1405.7 412.6 1419.2 409.8 1432.6 406.9 1445.1 403.3 1455.1 399.2 1462.9 394.4 1471.4 388.5 1479 381.4 1485 373.2 1489.5 364.3 1495.9 354.8 1499 344.9 1501.2 334.8 1503.4 324.6 1507.6 314.4 1507.6 304.1 1512.8 293.9 1514.2 283.7 1518 273.4 1517.8 263.2 1520.6 252.9 1522.2 242.6 1524.6 232.3 1526.1 221.9 1527.4 211.6 1530.5 201.2 1530.5 190.8 1532.3 180.4 1534.7 170 1536.7 140 1536.8 110 1536.7 80 1539.5 40.8 1627.3 40.8 1658.2 33.5 1667.6 25 1701 21.5"/><path d="M1283.7 423.8 1294.7 423.1 1304.4 421.4 1315.1 419.8 1325.7 419.2 1336.4 421 1347.2 419.1 1357.8 418 1367.2 414.5 1379.3 416.4 1384.6 414.8 1393.4 412.2 1401.3 409.8 1407.9 406.9 1416.3 403.3 1426.5 399.2 1437.8 394.4 1445.1 388.5 1452.5 381.4 1460.1 373.2 1467.2 364.3 1469.4 354.8 1474.5 344.9 1476.6 334.8 1479.2 324.6 1482.5 314.4 1483.1 304.1 1486.1 293.9 1488.2 283.7 1491.3 273.4 1493.3 263.2 1495.6 252.9 1498.1 242.6 1499.1 232.3 1501.2 221.9 1502.3 211.6 1505.4 201.2 1506.6 190.8 1508.9 180.4 1507.8 170 1517.4 140 1521.9 110 1527.8 80 1534.4 42.8 1641.3 42.8 1648.8 34.9 1668.8 25.9 1701 21.5"/><path d="M1284.6 423.3 1295.6 424.1 1305.4 425 1315.5 420.5 1325.7 419 1336.4 417 1346.8 419.7 1358.2 417.7 1368.9 416.2 1378.1 413.1 1389.6 413.1 1403.6 413 1413.6 409.8 1426.8 406.9 1437.4 403.3 1446.5 399.2 1455.5 394.4 1463.9 388.5 1471.4 381.4 1477 373.2 1483.9 364.3 1489.5 354.8 1493.1 344.9 1494.5 334.8 1496.6 324.6 1499.5 314.4 1502.8 304.1 1504.7 293.9 1506.3 283.7 1509.5 273.4 1511.3 263.2 1514.1 252.9 1515.4 242.6 1516.5 232.3 1519.4 221.9 1521.7 211.6 1521.8 201.2 1524.2 190.8 1526.5 180.4 1527 170 1531.8 140 1535.1 110 1535.2 80 1538.9 52.9 1639.1 52.9 1645 36.7 1674.9 25.3 1701 21.5"/><path d="M1283.5 423.4 1294.1 422 1305.7 421.9 1315.7 420.9 1326.5 420 1335.6 420.8 1347.4 417.6 1357.5 418.5 1368.1 421.8 1378.4 415.9 1385.6 413.4 1390.7 411.6 1399.8 409.8 1406 406.9 1415.6 403.3 1425.6 399.2 1436.4 394.4 1445.9 388.5 1451.9 381.4 1457.7 373.2 1463.1 364.3 1469.5 354.8 1471.5 344.9 1474.7 334.8 1477.8 324.6 1479.8 314.4 1482.2 304.1 1484.7 293.9 1485.3 283.7 1489 273.4 1492 263.2 1492.7 252.9 1494.6 242.6 1498 232.3 1499.2 221.9 1501.4 211.6 1501.2 201.2 1504.2 190.8 1505.1 180.4 1507.9 170 1521.4 140 1528.8 110 1539.9 80 1548.4 41 1630.5 41 1655.5 32.7 1673.3 22.7 1701 21.5"/><path d="M1285.6 421 1293.5 422.4 1305.3 422.8 1315.2 420.8 1325.8 419.6 1334.4 421.2 1347.1 419.3 1356.9 418.6 1367.8 417.1 1379.1 413.4 1384.8 412.7 1389.8 414.4 1394.7 409.8 1400.8 406.9 1408.7 403.3 1419.5 399.2 1428.7 394.4 1436.8 388.5 1446.2 381.4 1452.1 373.2 1457.7 364.3 1463.3 354.8 1465.3 344.9 1468.4 334.8 1471.3 324.6 1474 314.4 1475.7 304.1 1479.2 293.9 1482.5 283.7 1482.8 273.4 1486.9 263.2 1486.1 252.9 1490.8 242.6 1491.3 232.3 1493.5 221.9 1494.8 211.6 1496.2 201.2 1497.3 190.8 1499.5 180.4 1502.3 170 1512.3 140 1521 110 1529.2 80 1538.1 41.3 1640.1 41.3 1648.7 35.4 1670.1 23 1701 21.5"/><path d="M1284.6 421.6 1294.1 420.5 1304.8 421.2 1315.7 422.4 1327.5 419.8 1336.3 420.5 1346.4 420.6 1357.9 418.2 1368.8 416.2 1378.1 415.2 1392.3 412.3 1407.2 413.6 1422.5 409.8 1437.4 406.9 1448.5 403.3 1458.4 399.2 1465.1 394.4 1474.2 388.5 1480.9 381.4 1490.6 373.2 1496 364.3 1498.8 354.8 1502 344.9 1505.5 334.8 1506.9 324.6 1511 314.4 1514.3 304.1 1513.5 293.9 1516.6 283.7 1520.4 273.4 1522.9 263.2 1524.6 252.9 1526.3 242.6 1527.9 232.3 1529.8 221.9 1531 211.6 1532.8 201.2 1534.3 190.8 1537.4 180.4 1536.2 170 1537.1 140 1538.5 110 1542.8 80 1546.1 35.7 1630.9 35.7 1647.8 30.4 1668.3 24.1 1701 21.5"/><path d="M1284.6 424 1294.3 418.7 1304.9 421.3 1315.2 420.7 1324.6 419.6 1337.8 422 1346.6 418 1357.7 419.7 1368.4 415.5 1378.4 416.1 1385.2 416 1389.4 414 1393.5 409.8 1399.8 406.9 1406.2 403.3 1416.5 399.2 1427.8 394.4 1435 388.5 1442.9 381.4 1448.7 373.2 1455.7 364.3 1460 354.8 1463.3 344.9 1466.7 334.8 1467.2 324.6 1471.3 314.4 1473.8 304.1 1475.8 293.9 1479 283.7 1482.1 273.4 1482.8 263.2 1484.6 252.9 1486.9 242.6 1489.3 232.3 1491.4 221.9 1492 211.6 1495.1 201.2 1495.1 190.8 1498 180.4 1499.3 170 1507.6 140 1515 110 1523.2 80 1528.4 53.4 1633.8 53.4 1649.6 37.6 1669.2 24.6 1701 21.5"/><path d="M1284 424.6 1294.6 422.8 1305 423.1 1316.4 420.9 1326.6 419.3 1336.4 418.1 1346.5 423.5 1356.7 420.1 1368 417.6 1376.6 416.2 1391.5 413.3 1407.1 411.7 1424 409.8 1438.6 406.9 1447.5 403.3 1458.2 399.2 1465.9 394.4 1475.3 388.5 1481.6 381.4 1488.4 373.2 1495 364.3 1498.9 354.8 1503.9 344.9 1505.6 334.8 1508.5 324.6 1510.4 314.4 1513.8 304.1 1516.4 293.9 1517.8 283.7 1519.9 273.4 1523 263.2 1524.9 252.9 1527.6 242.6 1528.8 232.3 1530.5 221.9 1532.8 211.6 1533.1 201.2 1534.4 190.8 1537.2 180.4 1538.2 170 1539.6 140 1539 110 1542.9 80 1541.2 46.9 1612.4 46.9 1640.7 35.4 1679.6 23.6 1701 21.5"/><path d="M1281.9 420.8 1293.6 424.4 1303.5 423.1 1316.3 421.8 1326.5 419.7 1336.4 420.1 1347.2 420 1357.2 417.2 1367.4 417.8 1377 414.1 1387.7 413.4 1397.4 408.4 1406.8 409.8 1416.2 406.9 1426.7 403.3 1434.2 399.2 1445 394.4 1454.3 388.5 1462 381.4 1469.2 373.2 1474.6 364.3 1477.5 354.8 1482.3 344.9 1484.3 334.8 1486.4 324.6 1490.7 314.4 1491.4 304.1 1493.6 293.9 1496.3 283.7 1498.3 273.4 1502.1 263.2 1503.8 252.9 1506.6 242.6 1507.7 232.3 1508.7 221.9 1511.7 211.6 1512 201.2 1513.7 190.8 1515.5 180.4 1517.2 170 1525.5 140 1531.5 110 1536.3 80 1543.3 40.1 1620.6 40.1 1650.3 33.1 1673.2 24.5 1701 21.5"/><path d="M1283.7 421.3 1294.9 420.7 1304.4 420.6 1314.6 419.9 1327.1 420.3 1337.7 420 1345.5 418.1 1358.7 419.8 1367.7 416.8 1379.2 416.6 1388.6 415.9 1399.3 410.8 1408.5 409.8 1418.3 406.9 1431.7 403.3 1439.7 399.2 1450.1 394.4 1457.6 388.5 1465.3 381.4 1471.9 373.2 1477.5 364.3 1480.8 354.8 1485.3 344.9 1488.9 334.8 1492.3 324.6 1492.7 314.4 1495.8 304.1 1498.3 293.9 1501.3 283.7 1502.9 273.4 1504.6 263.2 1508.4 252.9 1509.3 242.6 1511 232.3 1515 221.9 1513.3 211.6 1516 201.2 1516.8 190.8 1520.3 180.4 1520 170 1522.9 140 1526.1 110 1528.4 80 1531.3 45 1623.7 45 1649.4 34.4 1670.9 23.1 1701 21.5"/><path d="M1285.1 422.3 1294.6 423.5 1304.9 423.3 1315.5 422.1 1326 418.3 1335.7 424.4 1347.1 420.9 1358.3 420.7 1368.3 416.3 1378.3 413.1 1387.3 415.6 1394.6 412.5 1405.7 409.8 1414.7 406.9 1422.4 403.3 1432.2 399.2 1441 394.4 1450.4 388.5 1459.3 381.4 1467.1 373.2 1470.1 364.3 1476.5 354.8 1479.3 344.9 1481.4 334.8 1486 324.6 1484.8 314.4 1489.1 304.1 1491.6 293.9 1495.5 283.7 1497.6 273.4 1500.3 263.2 1500.8 252.9 1503.5 242.6 1505.7 232.3 1506.8 221.9 1508.4 211.6 1509.6 201.2 1511 190.8 1511.9 180.4 1515.9 170 1521.2 140 1525 110 1529.4 80 1532.5 32.9 1640.3 32.9 1646.5 29.7 1669.1 24 1701 21.5"/><path d="M1284.2 424.3 1294.4 422.9 1304.7 420.9 1315.5 420.3 1326.2 420.1 1336 419.7 1346 420.1 1357.9 414.8 1367.9 416.6 1378.7 418.9 1385.7 414.1 1392.6 412.7 1401 409.8 1407.7 406.9 1416.4 403.3 1425.2 399.2 1436.1 394.4 1444.2 388.5 1452.3 381.4 1460.4 373.2 1464.8 364.3 1468.6 354.8 1471.9 344.9 1474.3 334.8 1477.6 324.6 1482 314.4 1482.7 304.1 1485 293.9 1486.7 283.7 1489.6 273.4 1493 263.2 1495.2 252.9 1496.3 242.6 1497.7 232.3 1500.6 221.9 1503.6 211.6 1505.7 201.2 1506.1 190.8 1506.6 180.4 1508.6 170 1513.9 140 1520.1 110 1526.3 80 1529.5 39.3 1638 39.3 1650.8 35.7 1663.5 25.5 1701 21.5"/><path d="M1283.4 421.5 1293.6 426 1306.3 421.8 1316 419.7 1323.8 417.8 1336.5 421.9 1346.9 417.6 1357.2 416.7 1366.7 416.8 1377.9 414.7 1389.4 412.9 1402.2 414.3 1413.8 409.8 1427.5 406.9 1434.9 403.3 1446.1 399.2 1453.8 394.4 1463.3 388.5 1471.2 381.4 1478.1 373.2 1484.2 364.3 1487.3 354.8 1490.3 344.9 1493.9 334.8 1496.7 324.6 1498.4 314.4 1502.1 304.1 1505 293.9 1505 283.7 1508.7 273.4 1511.6 263.2 1511.5 252.9 1515.2 242.6 1516.7 232.3 1517.5 221.9 1521.4 211.6 1522.1 201.2 1523.2 190.8 1525.4 180.4 1527.1 170 1531.7 140 1532.7 110 1537.1 80 1540.3 45.8 1628.9 45.8 1660.5 31 1670.5 23 1701 21.5"/><path d="M1284.2 424.3 1295.5 421.1 1305.7 421.9 1316.2 420.3 1326.6 421.5 1336.5 419.3 1346.8 420.1 1358.5 418 1368.5 417.3 1379.8 417.7 1383.9 414.9 1386.8 409.9 1391.7 409.8 1394.3 406.9 1402 403.3 1413 399.2 1423.6 394.4 1431.1 388.5 1440.6 381.4 1446 373.2 1452.6 364.3 1455.4 354.8 1458.6 344.9 1462.1 334.8 1465.7 324.6 1466 314.4 1469.1 304.1 1473.1 293.9 1476.6 283.7 1476.8 273.4 1478.6 263.2 1481.2 252.9 1483 242.6 1486.7 232.3 1487.8 221.9 1488.2 211.6 1491.2 201.2 1490.4 190.8 1493.7 180.4 1495.2 170 1503 140 1508.4 110 1519.1 80 1524.3 38.3 1621.2 38.3 1653 33.8 1669.3 22.8 1701 21.5"/><path d="M1283.4 420.8 1294.3 422.6 1304.5 420 1315.6 418.6 1326.4 421.2 1337.7 421.1 1347.2 419.4 1357.4 416.3 1369 417.9 1378 414.2 1390 415 1398.5 413.2 1411.3 409.8 1420.1 406.9 1430.4 403.3 1439.5 399.2 1448.6 394.4 1458.6 388.5 1467.8 381.4 1472.1 373.2 1477.5 364.3 1482.7 354.8 1485.3 344.9 1488.9 334.8 1491.5 324.6 1492.5 314.4 1494.9 304.1 1498 293.9 1501 283.7 1503 273.4 1506.1 263.2 1506.2 252.9 1509.7 242.6 1510.7 232.3 1513 221.9 1514.9 211.6 1515.5 201.2 1517.7 190.8 1518.5 180.4 1521.1 170 1527 140 1530.4 110 1537.7 80 1539.8 40.6 1623.7 40.6 1649.6 35.4 1668 23.8 1701 21.5"/><path d="M1283.7 423.4 1293.8 421.7 1303.6 420.4 1315 422.6 1325.6 420.8 1336.2 417.8 1347.4 421.9 1357.9 420 1368.3 418.6 1379.9 413.4 1385.6 412 1393.6 411.6 1400.3 409.8 1408.5 406.9 1418.4 403.3 1427.7 399.2 1438.2 394.4 1445.5 388.5 1453.5 381.4 1460.9 373.2 1466.1 364.3 1470.6 354.8 1473 344.9 1475.7 334.8 1478 324.6 1482 314.4 1482.7 304.1 1485.9 293.9 1488.3 283.7 1490.4 273.4 1492.6 263.2 1495.4 252.9 1496.5 242.6 1499 232.3 1501.7 221.9 1502 211.6 1504.9 201.2 1506.6 190.8 1508.6 180.4 1507.9 170 1522.4 140 1531.9 110 1540.5 80 1548.8 48.2 1634.7 48.2 1645.3 38 1669.8 23.6 1701 21.5"/><path d="M1283.9 421.4 1294.3 421.7 1305.2 421.1 1317.8 418.8 1326.9 419.8 1336.2 421.1 1346.9 417.3 1357.7 417.9 1366.2 417.5 1377.4 414.8 1388.6 414.7 1397.9 415.4 1408.2 409.8 1417 406.9 1427.4 403.3 1436.8 399.2 1444.7 394.4 1453.8 388.5 1461.7 381.4 1470.9 373.2 1474.8 364.3 1479.2 354.8 1482.4 344.9 1486.4 334.8 1488.2 324.6 1491.9 314.4 1493.6 304.1 1496.6 293.9 1497.6 283.7 1500.4 273.4 1502.1 263.2 1504.5 252.9 1505.3 242.6 1508.1 232.3 1509.6 221.9 1511.5 211.6 1514.6 201.2 1515.4 190.8 1517.7 180.4 1518.9 170 1524.3 140 1531.6 110 1535.3 80 1539.9 47.8 1624.4 47.8 1660.5 39.7 1668.2 25.7 1701 21.5"/><path d="M1283.3 425.6 1295.4 423.7 1305.6 421 1315.4 420.2 1326 418.7 1336.2 419.1 1347.3 418.2 1357.7 419 1368.3 418.4 1377.6 416.1 1391 415.9 1403.9 412.7 1416.3 409.8 1430 406.9 1440.6 403.3 1450.8 399.2 1458.9 394.4 1468 388.5 1475.9 381.4 1481.6 373.2 1488.5 364.3 1491.9 354.8 1497.5 344.9 1499.5 334.8 1501.6 324.6 1503.7 314.4 1507.1 304.1 1508.6 293.9 1509.5 283.7 1513.6 273.4 1515.6 263.2 1515.7 252.9 1518.3 242.6 1522.6 232.3 1523.5 221.9 1524.4 211.6 1525.2 201.2 1527.4 190.8 1530.9 180.4 1529.5 170 1532.5 140 1533.2 110 1537.6 80 1538.6 54.8 1632.5 54.8 1647.1 41.7 1666 24.5 1701 21.5"/><path d="M1284.2 424 1293.4 425.9 1306.4 421.7 1314.5 421.3 1326.3 417.2 1336.4 417.6 1347.3 421 1358.2 416 1368.9 418.5 1378 416.6 1392.1 413.8 1403.9 411.4 1417.7 409.8 1427.9 406.9 1441.4 403.3 1449.3 399.2 1459.3 394.4 1466 388.5 1474.3 381.4 1481.1 373.2 1487.8 364.3 1490.3 354.8 1495.6 344.9 1497.4 334.8 1501.3 324.6 1502.6 314.4 1505.6 304.1 1507.4 293.9 1511.3 283.7 1512 273.4 1514.6 263.2 1518.4 252.9 1518.9 242.6 1521.3 232.3 1521.9 221.9 1524.4 211.6 1524.1 201.2 1527.5 190.8 1528.4 180.4 1529.3 170 1536.1 140 1538.5 110 1548.5 80 1550 48.5 1623.3 48.5 1649.4 37 1667.6 22.4 1701 21.5"/><path d="M1284.9 423 1294.4 422.1 1305 423.8 1316.4 419.3 1326.5 419.2 1336.6 420.1 1347.6 420.2 1356.5 418 1368.2 416.9 1379.5 413.8 1386.9 414.5 1393.8 412 1401.6 409.8 1409.6 406.9 1417.9 403.3 1427.8 399.2 1440.1 394.4 1446.4 388.5 1454.9 381.4 1461.9 373.2 1465.9 364.3 1471.7 354.8 1474.1 344.9 1475.4 334.8 1479.9 324.6 1479.9 314.4 1484.6 304.1 1487.6 293.9 1490.8 283.7 1492.3 273.4 1495 263.2 1496.8 252.9 1498.4 242.6 1501.1 232.3 1501.7 221.9 1503.9 211.6 1504.8 201.2 1506.7 190.8 1508.7 180.4 1508.5 170 1516.1 140 1525.5 110 1527.7 80 1534.3 38.2 1626.6 38.2 1643.4 31.9 1669 24.9 1701 21.5"/><path d="M1283.5 421.9 1293.3 422.1 1305.8 420.8 1314 424.2 1327.4 421.5 1336 418 1345.6 419.8 1358.4 416.7 1367.8 416.8 1378.1 416.6 1389.5 413.3 1397.9 413.8 1406.4 409.8 1415.7 406.9 1424.4 403.3 1435.9 399.2 1444.3 394.4 1452.8 388.5 1461.1 381.4 1467 373.2 1472.4 364.3 1477.4 354.8 1482.3 344.9 1483.8 334.8 1486.8 324.6 1487.8 314.4 1489.8 304.1 1495 293.9 1495.7 283.7 1497.2 273.4 1500.6 263.2 1503.4 252.9 1503.6 242.6 1506.1 232.3 1508.8 221.9 1509.6 211.6 1512.5 201.2 1514.2 190.8 1515.3 180.4 1516.2 170 1519.4 140 1523 110 1524.9 80 1527.7 39.9 1634.6 39.9 1644.8 38.5 1673.3 24.8 1701 21.5"/><path d="M1283.8 422.3 1294.6 422.3 1305.8 418.8 1316.8 421 1326.5 421.8 1336 420.9 1345.9 419.3 1356.7 419.7 1368.9 415.3 1378.4 414.7 1389.3 414 1403.8 413.8 1415 409.8 1427.5 406.9 1439.6 403.3 1448 399.2 1458.2 394.4 1467 388.5 1473.6 381.4 1479.1 373.2 1485.1 364.3 1490.4 354.8 1493.1 344.9 1496.1 334.8 1498.9 324.6 1499.8 314.4 1503.1 304.1 1505.5 293.9 1507.4 283.7 1510.7 273.4 1512.5 263.2 1514.7 252.9 1518.2 242.6 1520.1 232.3 1520.5 221.9 1522 211.6 1522.8 201.2 1524.2 190.8 1528.4 180.4 1528.7 170 1534.7 140 1536.1 110 1541.1 80 1543.2 35.9 1634 35.9 1639.2 29.7 1671.2 24.4 1701 21.5"/><path d="M1284.8 423.6 1292.9 422.3 1304.5 420 1314.6 422.2 1325.7 423.3 1336.8 417 1347.6 420.9 1357.4 416.4 1369.2 415.3 1378.2 413.1 1386.7 411.8 1397.7 413.9 1405.7 409.8 1413.9 406.9 1424.4 403.3 1434.4 399.2 1442.6 394.4 1451.6 388.5 1460.1 381.4 1467.3 373.2 1472.4 364.3 1477.1 354.8 1479.3 344.9 1481.1 334.8 1485.8 324.6 1487.3 314.4 1490.3 304.1 1492.5 293.9 1495.5 283.7 1496.9 273.4 1501 263.2 1502.1 252.9 1504.5 242.6 1506.4 232.3 1508.5 221.9 1509.7 211.6 1509.7 201.2 1512.1 190.8 1515.6 180.4 1516 170 1520.6 140 1525.2 110 1529.8 80 1534.5 45.3 1635.9 45.3 1658.4 36.9 1673.9 25.8 1701 21.5"/><path d="M1283.1 423.1 1294.3 420.8 1304.9 423.7 1315.9 420.8 1324.9 419 1337 418.9 1346.6 422.4 1355.4 419.5 1365.9 415.1 1380.3 417.4 1391.7 415.3 1405.5 411.3 1417.2 409.8 1430.8 406.9 1442.8 403.3 1452.5 399.2 1461.4 394.4 1469.2 388.5 1477.6 381.4 1483.5 373.2 1488.2 364.3 1493.2 354.8 1497.4 344.9 1499.8 334.8 1501.9 324.6 1504.8 314.4 1508.3 304.1 1509 293.9 1510 283.7 1514.4 273.4 1514.8 263.2 1520 252.9 1520.3 242.6 1522.8 232.3 1524.3 221.9 1526.3 211.6 1528 201.2 1530.3 190.8 1530 180.4 1532.1 170 1535 140 1533 110 1534.6 80 1539.5 41.2 1627.3 41.2 1650.5 34.6 1675.3 25.5 1701 21.5"/><path d="M1284.3 423.4 1295.3 424.5 1302.6 422.6 1316.7 419.7 1324.5 420.9 1336.7 420.3 1346 418.3 1357.5 419.3 1369.6 417.6 1377.8 412.4 1386.2 414 1391.8 410.7 1398.8 409.8 1403.1 406.9 1413.2 403.3 1422.8 399.2 1433.4 394.4 1442.8 388.5 1449.4 381.4 1456.2 373.2 1462.4 364.3 1464.9 354.8 1469.4 344.9 1472.5 334.8 1475.7 324.6 1476.7 314.4 1480.4 304.1 1482.4 293.9 1483.3 283.7 1485.7 273.4 1488 263.2 1491.5 252.9 1493.6 242.6 1495.9 232.3 1497.7 221.9 1498.3 211.6 1501.2 201.2 1502.6 190.8 1503.9 180.4 1505.4 170 1514.7 140 1523.6 110 1533.9 80 1541.7 44.8 1629 44.8 1646 35.8 1668 24.2 1701 21.5"/><path d="M1282.9 421.6 1293.5 421.6 1305.1 423.4 1314.9 422.1 1326.2 421.5 1336.4 417.7 1347.8 420 1356.4 418.2 1367.6 420.6 1379.5 416 1386.2 415.3 1394.2 413.2 1401.4 409.8 1408.3 406.9 1416.5 403.3 1426.6 399.2 1436.4 394.4 1446.5 388.5 1454.7 381.4 1462.1 373.2 1466.5 364.3 1472.5 354.8 1475.6 344.9 1477 334.8 1479.1 324.6 1482.2 314.4 1484 304.1 1486.4 293.9 1489.1 283.7 1491.9 273.4 1492.2 263.2 1496.1 252.9 1498.1 242.6 1500.6 232.3 1500.9 221.9 1503.8 211.6 1504.2 201.2 1505.8 190.8 1507.4 180.4 1509.8 170 1516.6 140 1520.8 110 1527.8 80 1530.5 48.9 1639.6 48.9 1659.2 38.1 1673.1 24.4 1701 21.5"/><path d="M1283.7 422.2 1294.1 422.7 1306 421.5 1315.2 421.6 1325.8 417.6 1336.6 419.2 1346.4 420 1357.4 417.4 1366.1 414.6 1378.3 415.7 1385.9 414.6 1391.8 410.3 1397.8 409.8 1405.1 406.9 1412.8 403.3 1424 399.2 1432.7 394.4 1441 388.5 1450 381.4 1455.3 373.2 1463.6 364.3 1466 354.8 1470.2 344.9 1472.9 334.8 1474.9 324.6 1476.6 314.4 1478.9 304.1 1483.5 293.9 1485.9 283.7 1489.2 273.4 1488.7 263.2 1492.5 252.9 1494.1 242.6 1496.6 232.3 1497.3 221.9 1500 211.6 1501.7 201.2 1503.1 190.8 1505.3 180.4 1505.5 170 1520 140 1523.4 110 1537.6 80 1545.6 39.5 1622.4 39.5 1654.2 33.3 1674.9 24.1 1701 21.5"/><path d="M1282.8 423.3 1293.1 424.4 1304.1 421 1315.4 421.7 1325.3 419.5 1335.9 416 1346.4 420 1358.2 417.1 1367 418.6 1377.9 417.9 1393.1 414.9 1410.1 412.5 1427.2 409.8 1442.7 406.9 1454.6 403.3 1464.2 399.2 1473.2 394.4 1481.1 388.5 1488.3 381.4 1493.8 373.2 1501 364.3 1504.5 354.8 1507.2 344.9 1511.3 334.8 1513.1 324.6 1516.2 314.4 1518.8 304.1 1520.7 293.9 1522.8 283.7 1525.5 273.4 1530.1 263.2 1529.5 252.9 1531.4 242.6 1533.5 232.3 1535 221.9 1537.3 211.6 1538.6 201.2 1541 190.8 1542.4 180.4 1544.6 170 1542.5 140 1535.8 110 1537.7 80 1535.8 44.5 1625.9 44.5 1648.5 34.3 1669.5 24.7 1701 21.5"/><path d="M1283.7 421.5 1294.4 421.7 1305.6 421.2 1315.6 420.8 1326.2 419.5 1337.3 417.6 1346.6 418 1357.9 418.3 1368.2 416.7 1377.7 414.2 1389.9 413.4 1402.5 412.7 1415.1 409.8 1426 406.9 1436 403.3 1445.4 399.2 1455.2 394.4 1464.1 388.5 1473.1 381.4 1478.2 373.2 1485.1 364.3 1489.6 354.8 1490.8 344.9 1495.4 334.8 1497.8 324.6 1500.4 314.4 1501.8 304.1 1504.9 293.9 1506.1 283.7 1508.8 273.4 1511.2 263.2 1514.8 252.9 1515.2 242.6 1518 232.3 1519.1 221.9 1520.2 211.6 1522.6 201.2 1524.5 190.8 1524.9 180.4 1527.5 170 1531.6 140 1534 110 1536 80 1539.9 38.6 1616.6 38.6 1649.5 32.9 1670.2 24.2 1701 21.5"/><path d="M1284.3 424.3 1295.1 422.9 1305.5 421 1315.6 422.4 1326.3 417 1336.8 419.2 1346.8 419.5 1358.7 415.4 1367.2 420 1377.9 418.7 1380.6 413.1 1378.6 413.7 1379.4 409.8 1377.4 406.9 1383.6 403.3 1392.8 399.2 1407.2 394.4 1412.8 388.5 1422.1 381.4 1429.1 373.2 1434.3 364.3 1438.1 354.8 1442.4 344.9 1444.3 334.8 1446.5 324.6 1451.3 314.4 1453.6 304.1 1453.9 293.9 1456.8 283.7 1460.2 273.4 1461.5 263.2 1463.4 252.9 1465.6 242.6 1466.2 232.3 1469.5 221.9 1470.4 211.6 1472.5 201.2 1473.1 190.8 1475.7 180.4 1477 170 1487.2 140 1501.8 110 1510.4 80 1522.5 47 1617.8 47 1649.8 40.2 1674.6 22.2 1701 21.5"/><path d="M1284 423.4 1294.1 422.7 1305.5 424.1 1313.8 419.3 1325 421.8 1338.4 420.1 1347 420.7 1355.4 417.9 1365.4 417.4 1377.9 415.2 1381.4 413.4 1383.3 412.2 1384.1 409.8 1387.1 406.9 1391.5 403.3 1402.2 399.2 1412.7 394.4 1423 388.5 1430.5 381.4 1436.4 373.2 1442.6 364.3 1447.6 354.8 1450.9 344.9 1452.6 334.8 1455 324.6 1458.4 314.4 1458.8 304.1 1461.8 293.9 1465 283.7 1467.5 273.4 1470.8 263.2 1473 252.9 1473.9 242.6 1475.8 232.3 1476.2 221.9 1478.8 211.6 1480.8 201.2 1482 190.8 1483.7 180.4 1485.7 170 1496.8 140 1512.6 110 1520.8 80 1531.5 40.2 1616.2 40.2 1646.7 35.1 1675.8 23.6 1701 21.5"/><path d="M1284.6 424.2 1294.6 421.4 1307 422.8 1314.9 418.2 1325.7 421.2 1335.3 419 1346.9 419.1 1358.6 415.9 1367.1 420.3 1377 416.1 1401.6 415.8 1426.2 413.2 1453.2 409.8 1477 406.9 1492.8 403.3 1501.3 399.2 1507.8 394.4 1515.6 388.5 1523.1 381.4 1529.9 373.2 1534.5 364.3 1538.9 354.8 1543.7 344.9 1546.4 334.8 1548.7 324.6 1550.1 314.4 1553.9 304.1 1555.7 293.9 1557.3 283.7 1561.6 273.4 1564.9 263.2 1565.4 252.9 1566.7 242.6 1567.4 232.3 1571.8 221.9 1572.9 211.6 1575.1 201.2 1577.5 190.8 1577 180.4 1579 170 1577.2 140 1572.6 110 1568.7 80 1567.1 38.3 1628.8 38.3 1647.8 34 1673.1 24.7 1701 21.5"/><path d="M1284.9 423.9 1295.5 421.7 1304.2 423.6 1315 421.5 1325.8 420.5 1336.2 419 1345.5 421.8 1357.5 415.4 1367.1 415.5 1377.7 412.1 1391.4 416.7 1403.9 413.3 1417.5 409.8 1428.8 406.9 1441.6 403.3 1449 399.2 1458.5 394.4 1467.3 388.5 1476.3 381.4 1482 373.2 1487.4 364.3 1491.3 354.8 1495.5 344.9 1498.2 334.8 1501.2 324.6 1504.2 314.4 1506.1 304.1 1507.9 293.9 1510.1 283.7 1513.9 273.4 1515.1 263.2 1517.2 252.9 1520.6 242.6 1522.3 232.3 1523.3 221.9 1524.4 211.6 1525.7 201.2 1528.6 190.8 1528.9 180.4 1531.5 170 1535.2 140 1537.4 110 1540 80 1541.7 43.5 1630.6 43.5 1641.5 33.1 1671.4 25.8 1701 21.5"/><path d="M1283.3 424.3 1296.2 421.9 1304.9 423 1316.5 419.3 1326.8 420.8 1337.8 420 1346.6 418.2 1357.1 417.5 1366.4 417.4 1377.7 417.7 1388.9 413.5 1398 412.9 1408.9 409.8 1418.5 406.9 1428 403.3 1437 399.2 1447.1 394.4 1454.2 388.5 1463.3 381.4 1469.4 373.2 1474.8 364.3 1479.3 354.8 1482.4 344.9 1485.4 334.8 1489.3 324.6 1490.3 314.4 1492 304.1 1495.9 293.9 1497.5 283.7 1499.7 273.4 1503.6 263.2 1504.7 252.9 1507.2 242.6 1508.8 232.3 1511.7 221.9 1512.6 211.6 1512.6 201.2 1516.6 190.8 1516.4 180.4 1518 170 1523.8 140 1529 110 1534.3 80 1538.9 42.7 1636 42.7 1656.1 35.6 1679.5 24.8 1701 21.5"/><path d="M1284.7 424.2 1293.7 422.2 1304.8 419.9 1315.5 420.4 1326.7 421.1 1335.8 419.9 1346.6 418.1 1357 419.8 1367.5 414.7 1377.7 417.1 1388 412.7 1393.5 411.7 1400.2 409.8 1408.9 406.9 1417.5 403.3 1427.4 399.2 1439 394.4 1445.7 388.5 1454.3 381.4 1460.9 373.2 1465.3 364.3 1469.8 354.8 1475 344.9 1477.1 334.8 1479.1 324.6 1480.7 314.4 1484.6 304.1 1486.7 293.9 1490.3 283.7 1492.1 273.4 1493.9 263.2 1495.7 252.9 1497.6 242.6 1499 232.3 1501.4 221.9 1503.1 211.6 1505 201.2 1506.9 190.8 1507.9 180.4 1508.7 170 1515.7 140 1524.3 110 1531.3 80 1536 50.5 1631.7 50.5 1647.5 39.8 1671.6 25.6 1701 21.5"/><path d="M1282.9 425 1294.2 422 1305.8 421.2 1314.2 421.8 1326.3 421.1 1336.3 420.3 1346.2 419 1358 413.7 1368.3 418.9 1379.5 415.5 1394.2 414.2 1409.4 412.8 1427.1 409.8 1443.1 406.9 1453 403.3 1464 399.2 1471.7 394.4 1480.5 388.5 1487 381.4 1496.3 373.2 1499.1 364.3 1504 354.8 1509.6 344.9 1511.3 334.8 1512.9 324.6 1515.4 314.4 1518.9 304.1 1520.2 293.9 1523.7 283.7 1525.9 273.4 1528.1 263.2 1530.7 252.9 1531.5 242.6 1532.8 232.3 1534.4 221.9 1537.3 211.6 1538.4 201.2 1541.8 190.8 1541.4 180.4 1544.9 170 1539.4 140 1539.9 110 1539.9 80 1535.9 43.3 1618.2 43.3 1653 37.7 1675.7 23 1701 21.5"/><path d="M1284.9 420.6 1294.8 421.8 1306.2 420.8 1314.9 419.2 1327.5 421.4 1335.6 419.3 1346.2 421.3 1357.7 415.2 1368 418.5 1378.3 416.6 1393.3 414.5 1409.6 411.2 1425.6 409.8 1441.2 406.9 1452.9 403.3 1462.1 399.2 1469.6 394.4 1479.2 388.5 1487.4 381.4 1491.4 373.2 1498.5 364.3 1504.4 354.8 1507.6 344.9 1509.1 334.8 1513.2 324.6 1513.8 314.4 1516.4 304.1 1520.8 293.9 1521.4 283.7 1523.9 273.4 1525.1 263.2 1527.8 252.9 1529.7 242.6 1532.4 232.3 1532.8 221.9 1536.8 211.6 1537.3 201.2 1538.7 190.8 1540.2 180.4 1542.8 170 1548.8 140 1551.9 110 1554.6 80 1555.1 41 1630 41 1651.9 31.1 1670.4 24.2 1701 21.5"/><path d="M1283.8 422.3 1294.9 422.3 1303.5 422.3 1317.1 422.7 1325.9 418.7 1337.3 420.7 1346.7 418.6 1358.1 418.1 1367.3 415.5 1378 415.5 1382.7 420.7 1385.8 409.7 1389.9 409.8 1394.8 406.9 1403.2 403.3 1410 399.2 1422 394.4 1431.7 388.5 1438.3 381.4 1445.9 373.2 1450.8 364.3 1456.4 354.8 1459.1 344.9 1463.1 334.8 1463.2 324.6 1467.6 314.4 1468.9 304.1 1472.4 293.9 1473.4 283.7 1476.9 273.4 1479.4 263.2 1481 252.9 1482 242.6 1484.1 232.3 1486 221.9 1488 211.6 1490.5 201.2 1490.4 190.8 1492.7 180.4 1494.4 170 1504.6 140 1509.4 110 1515.1 80 1521.7 38.7 1627.7 38.7 1651.7 35.3 1676.9 24.6 1701 21.5"/><path d="M1283.8 420.5 1294.2 420.1 1304.8 424.6 1315.7 420.9 1326.8 419.9 1336.7 420.1 1347.3 416.9 1357.9 419.5 1366 413.2 1377.6 418.1 1387.5 415.2 1396.9 413.5 1404.8 409.8 1413.6 406.9 1423.7 403.3 1433.6 399.2 1443.3 394.4 1451.8 388.5 1458.8 381.4 1466.6 373.2 1471.7 364.3 1476.6 354.8 1477.3 344.9 1482.9 334.8 1482.6 324.6 1487.2 314.4 1488.9 304.1 1491.9 293.9 1493.8 283.7 1496.3 273.4 1499 263.2 1501.3 252.9 1502.5 242.6 1503 232.3 1506.1 221.9 1508.8 211.6 1509.4 201.2 1512 190.8 1512.9 180.4 1513.9 170 1522.4 140 1529.6 110 1538.3 80 1542.6 51.2 1618.8 51.2 1654.7 37.4 1675.6 23.5 1701 21.5"/><path d="M1284.3 421.7 1293.4 423.2 1304.8 419.8 1316.6 421.6 1324.9 419.9 1335.8 421.6 1346.6 418.3 1357.7 420.6 1369 417.3 1378.1 415.1 1387.1 412.8 1393.9 413.3 1400.9 409.8 1406.9 406.9 1417.3 403.3 1426.7 399.2 1436.7 394.4 1445.7 388.5 1454.5 381.4 1459.3 373.2 1465 364.3 1470.3 354.8 1474.7 344.9 1476.1 334.8 1479.6 324.6 1482.5 314.4 1483.5 304.1 1486.3 293.9 1489.4 283.7 1491.3 273.4 1493 263.2 1495.6 252.9 1497.5 242.6 1499.6 232.3 1501.6 221.9 1503.2 211.6 1504.2 201.2 1506.2 190.8 1508 180.4 1509.1 170 1517.5 140 1532.1 110 1539.4 80 1547.7 41 1630.7 41 1653.7 33.6 1670.1 24.6 1701 21.5"/><path d="M1283.7 423.4 1295.4 420.6 1303.2 419.4 1315.7 421.2 1326.1 420.7 1336.1 417.7 1347.3 419.6 1357.8 420.1 1366.8 413.7 1376.8 419.1 1392.6 414.8 1409.2 413.3 1427.6 409.8 1440.2 406.9 1452.3 403.3 1461.6 399.2 1470.1 394.4 1479 388.5 1485.5 381.4 1493.9 373.2 1499.4 364.3 1503.2 354.8 1506.3 344.9 1509 334.8 1510.3 324.6 1514.7 314.4 1515.8 304.1 1518.5 293.9 1522 283.7 1522.9 273.4 1525.5 263.2 1528.8 252.9 1531.7 242.6 1531.5 232.3 1534.7 221.9 1535 211.6 1537.5 201.2 1539.1 190.8 1539.3 180.4 1542.6 170 1548 140 1550 110 1558.6 80 1559.3 43.3 1628.4 43.3 1652.6 32.6 1666.2 23.3 1701 21.5"/><path d="M1285.1 424.9 1294 421.8 1305.7 421.4 1317.2 421.8 1324.6 422.4 1334.2 419.3 1346.3 419.1 1356.8 417.5 1367.5 418.3 1377.5 415.4 1384 417.2 1385.7 412.3 1387 409.8 1390 406.9 1396.1 403.3 1407.7 399.2 1417.7 394.4 1425.3 388.5 1435.5 381.4 1442.4 373.2 1447.6 364.3 1451.8 354.8 1455.2 344.9 1458.8 334.8 1461.1 324.6 1461.3 314.4 1465.4 304.1 1467.2 293.9 1470.9 283.7 1471.8 273.4 1474 263.2 1475.3 252.9 1478.6 242.6 1480.7 232.3 1483.3 221.9 1483.8 211.6 1486.3 201.2 1488.8 190.8 1487.7 180.4 1491 170 1498.5 140 1507 110 1512.5 80 1519.9 34.8 1632.6 34.8 1654.5 29.4 1670.6 25.2 1701 21.5"/><path d="M1283.9 422.6 1295.5 422.2 1304.9 420.9 1315 420 1326 423.2 1337.3 420.1 1348.2 420.6 1357.5 418 1367 417.5 1378 413.5 1391 417.1 1406.6 413 1420.8 409.8 1434.4 406.9 1446.4 403.3 1456.6 399.2 1463.7 394.4 1473 388.5 1481.1 381.4 1486.5 373.2 1492.6 364.3 1496.3 354.8 1500.9 344.9 1502.9 334.8 1506.6 324.6 1507.6 314.4 1511.9 304.1 1512.7 293.9 1514.6 283.7 1516.9 273.4 1520.5 263.2 1521.5 252.9 1525.6 242.6 1527.1 232.3 1528.2 221.9 1528.4 211.6 1531.1 201.2 1532.2 190.8 1532.8 180.4 1536.1 170 1545.5 140 1553 110 1556.4 80 1563.2 40.3 1625.6 40.3 1650.8 34.2 1667.4 24.2 1701 21.5"/><path d="M1284.8 423.1 1293.4 424 1306.4 419.2 1317 421.9 1325.9 417.1 1335.4 418.4 1347.6 418.9 1357.6 418.4 1368.2 416.7 1379.4 412.5 1387.6 413.7 1397.5 414.2 1407.7 409.8 1416.2 406.9 1427.1 403.3 1436.8 399.2 1446 394.4 1454.8 388.5 1462.6 381.4 1470.2 373.2 1475.1 364.3 1479.9 354.8 1483.1 344.9 1486.9 334.8 1488.5 324.6 1491.1 314.4 1494.2 304.1 1496.7 293.9 1499 283.7 1499.8 273.4 1501.6 263.2 1507.1 252.9 1505.8 242.6 1508.2 232.3 1509.4 221.9 1512.5 211.6 1513.9 201.2 1513.6 190.8 1517.9 180.4 1518.1 170 1526.1 140 1534.2 110 1537.9 80 1544.3 48.2 1628.5 48.2 1649.1 37.3 1674.4 24.2 1701 21.5"/><path d="M1283.8 426.1 1293.8 422.2 1305.8 421.4 1315.4 420.6 1327 416.8 1337.4 421.4 1346.8 419.9 1356.6 419.9 1370.3 415.8 1379.4 415.8 1387.1 413.5 1396.1 410.3 1404 409.8 1415 406.9 1423.1 403.3 1433.2 399.2 1442.7 394.4 1451.6 388.5 1457.7 381.4 1464.7 373.2 1471.5 364.3 1476.3 354.8 1478.1 344.9 1481.3 334.8 1483.4 324.6 1487.3 314.4 1489.4 304.1 1491.5 293.9 1493.3 283.7 1496.5 273.4 1498.6 263.2 1500.2 252.9 1503 242.6 1504.1 232.3 1507.2 221.9 1508.6 211.6 1509.2 201.2 1511.8 190.8 1512.9 180.4 1513.8 170 1519.7 140 1528.3 110 1536 80 1539.2 34.7 1623.6 34.7 1650.1 31.2 1675.1 24.4 1701 21.5"/><path d="M1284.6 422.4 1295.4 423.4 1304.7 422.5 1316 419.6 1327.5 420 1335.6 420 1347.1 421.1 1358.5 417.7 1367.5 416.8 1378.1 414.5 1392.3 416.2 1407.9 411.8 1420.8 409.8 1436.7 406.9 1448.6 403.3 1456.1 399.2 1465.8 394.4 1475.4 388.5 1482.6 381.4 1488.8 373.2 1493.9 364.3 1497.9 354.8 1502.1 344.9 1505.6 334.8 1507.7 324.6 1510.3 314.4 1511.9 304.1 1514.2 293.9 1517.8 283.7 1519.2 273.4 1522.2 263.2 1523.2 252.9 1524.8 242.6 1527.6 232.3 1529.5 221.9 1528.6 211.6 1531.9 201.2 1534.4 190.8 1535.5 180.4 1536.3 170 1537.4 140 1531.7 110 1533.7 80 1533 45.6 1623.7 45.6 1650.7 40.8 1667.8 24.7 1701 21.5"/><path d="M1283.5 420.9 1292.6 420.4 1306.2 422.4 1315.6 420.4 1325.8 420.9 1335.3 418.6 1346.2 420.9 1356.5 420 1367.5 421.3 1378.2 415.9 1392.4 415.6 1405.6 410.6 1419.2 409.8 1432.8 406.9 1442.4 403.3 1451.8 399.2 1459.7 394.4 1470.1 388.5 1477.2 381.4 1483.6 373.2 1488.2 364.3 1494.9 354.8 1497.8 344.9 1499.9 334.8 1503.6 324.6 1504.1 314.4 1508 304.1 1508.8 293.9 1513.1 283.7 1514.1 273.4 1517.6 263.2 1518.5 252.9 1521.2 242.6 1523.7 232.3 1523.8 221.9 1526.3 211.6 1527.2 201.2 1530.1 190.8 1530.5 180.4 1532.2 170 1531.3 140 1533.3 110 1533.4 80 1534.3 48.8 1624.2 48.8 1647 36.3 1672.8 22.5 1701 21.5"/><path d="M1283.1 424.6 1294.1 421.5 1305.4 419.8 1316.2 421.8 1325.1 420.3 1335.9 418.4 1347.1 418.5 1358.1 418.3 1366.5 417.5 1378.8 416.4 1388.2 413.3 1399.5 411.8 1411 409.8 1423.2 406.9 1432.9 403.3 1444.3 399.2 1451.8 394.4 1458.9 388.5 1467.6 381.4 1475.8 373.2 1479.6 364.3 1484.5 354.8 1488.6 344.9 1491.8 334.8 1494.1 324.6 1495.6 314.4 1497.1 304.1 1500 293.9 1503.2 283.7 1503.9 273.4 1507.6 263.2 1510.9 252.9 1510.7 242.6 1514.1 232.3 1514.7 221.9 1516.4 211.6 1519 201.2 1520.7 190.8 1521.7 180.4 1523.6 170 1526.7 140 1530.3 110 1538 80 1538.4 51.6 1633.7 51.6 1651.7 38 1678.4 23.6 1701 21.5"/><path d="M1283.3 423.6 1294 421.7 1305.8 421.9 1315.4 421.3 1325 422.3 1335.8 421.7 1346.5 418.3 1358.6 418.5 1367.3 416.4 1378.7 418.7 1390.2 413.7 1400.4 411.2 1412.7 409.8 1424.3 406.9 1434 403.3 1445.2 399.2 1452.4 394.4 1461.2 388.5 1469.9 381.4 1476.5 373.2 1481.4 364.3 1486.9 354.8 1488.5 344.9 1493.7 334.8 1496.6 324.6 1498.9 314.4 1499.9 304.1 1503.7 293.9 1504.5 283.7 1507.9 273.4 1509 263.2 1511.5 252.9 1513.8 242.6 1513.9 232.3 1516.9 221.9 1520.1 211.6 1518 201.2 1522.3 190.8 1524.2 180.4 1525.3 170 1527.8 140 1526.2 110 1529.3 80 1532.1 49.9 1625.9 49.9 1645.3 38.8 1671.6 25.7 1701 21.5"/><path d="M1284.9 422 1294.6 423 1305 423 1315.9 419.5 1326.3 419.9 1337.6 415.6 1346.7 419.9 1358.2 416.8 1367.9 417.8 1377.8 416.9 1370.4 413.2 1361 411.1 1349.1 409.8 1340.4 406.9 1342.2 403.3 1350.6 399.2 1366.3 394.4 1374.2 388.5 1381.6 381.4 1388.7 373.2 1395.2 364.3 1399.4 354.8 1401.9 344.9 1403.6 334.8 1408.8 324.6 1409.8 314.4 1413.3 304.1 1415.6 293.9 1418.4 283.7 1419.3 273.4 1421.3 263.2 1423.8 252.9 1426.6 242.6 1428.4 232.3 1429.1 221.9 1432 211.6 1432.6 201.2 1434.8 190.8 1436.2 180.4 1438.3 170 1466.8 140 1492.6 110 1519.8 80 1540.1 39.9 1629.4 39.9 1642.4 34.6 1667.1 23.9 1701 21.5"/><path d="M1283.6 422.4 1293.8 422.3 1304.6 421.5 1314.4 421.3 1326.4 421.4 1336 418.1 1345.9 417.3 1356.9 417.7 1366.4 418.2 1377 414.9 1392.4 415.5 1409.9 411.7 1423.6 409.8 1438.7 406.9 1450.5 403.3 1460.2 399.2 1470.2 394.4 1476.1 388.5 1484.5 381.4 1490.6 373.2 1497.1 364.3 1500.8 354.8 1505.2 344.9 1506.7 334.8 1511.7 324.6 1512.6 314.4 1513.5 304.1 1517.8 293.9 1519.2 283.7 1521 273.4 1524.6 263.2 1526.1 252.9 1529.1 242.6 1530 232.3 1532.9 221.9 1534 211.6 1535.8 201.2 1537.2 190.8 1538.3 180.4 1539.8 170 1539.2 140 1543.2 110 1542.4 80 1539.9 46.5 1620.1 46.5 1647.6 38.9 1672.9 23.2 1701 21.5"/><path d="M1283.3 423.1 1294.8 424.1 1304.5 419.5 1314.4 422.6 1326.9 417.9 1336.7 418.8 1347.1 420.2 1357.2 418.1 1366.3 417.2 1379.5 415 1393.9 415 1411.7 411 1426.5 409.8 1441.5 406.9 1453.6 403.3 1463.3 399.2 1469.7 394.4 1480.2 388.5 1486.9 381.4 1494.2 373.2 1500.3 364.3 1503.9 354.8 1506.3 344.9 1509.5 334.8 1513.3 324.6 1516.3 314.4 1519.1 304.1 1519 293.9 1522.5 283.7 1524.8 273.4 1526.5 263.2 1529.1 252.9 1530.5 242.6 1533.3 232.3 1534.6 221.9 1536.4 211.6 1539.4 201.2 1539 190.8 1541.4 180.4 1542.4 170 1541.4 140 1540.9 110 1538.6 80 1539 42.7 1632.3 42.7 1641.2 32.6 1668.7 25.2 1701 21.5"/><path d="M1284.9 421 1293.8 419.9 1303.9 422.6 1316 420.8 1326.6 421.4 1336 419.7 1347.2 422 1357 418.8 1368.3 419 1378.6 417.5 1391.5 413.9 1405.6 412.2 1423.5 409.8 1436.3 406.9 1447.6 403.3 1457.4 399.2 1465.5 394.4 1473 388.5 1481.2 381.4 1488.2 373.2 1494 364.3 1497.7 354.8 1501.8 344.9 1504.1 334.8 1506.1 324.6 1509.1 314.4 1511.3 304.1 1515 293.9 1517.7 283.7 1519.5 273.4 1521.2 263.2 1523.2 252.9 1524.4 242.6 1527.1 232.3 1530.5 221.9 1531.9 211.6 1532.8 201.2 1534 190.8 1535.7 180.4 1537.5 170 1535 140 1535.1 110 1533.3 80 1532.9 45.1 1635.4 45.1 1655.6 33.6 1671.7 23.5 1701 21.5"/><path d="M1284.1 424.8 1295.3 423.3 1302.4 421.8 1315.7 421.2 1325.1 421.8 1336.1 419.6 1347.2 420.7 1357.1 416.7 1368.1 417.5 1376.8 415 1388.8 411.6 1400 410.4 1410 409.8 1418.7 406.9 1429.1 403.3 1438.6 399.2 1448.2 394.4 1455.6 388.5 1464.3 381.4 1472.1 373.2 1477.3 364.3 1483 354.8 1483.4 344.9 1488.8 334.8 1490.3 324.6 1491.6 314.4 1493.9 304.1 1497 293.9 1499.8 283.7 1501.8 273.4 1505.7 263.2 1506.6 252.9 1508.2 242.6 1509.9 232.3 1511.4 221.9 1514 211.6 1515.5 201.2 1516.6 190.8 1519 180.4 1519.7 170 1526 140 1527.7 110 1534.8 80 1535.4 48.2 1625 48.2 1649.1 39.9 1670.1 24 1701 21.5"/><path d="M1285.3 423.4 1294.1 423.1 1304.2 422.8 1315.1 421.5 1325.3 420.3 1337.2 419.5 1346.4 419.5 1358.1 417.9 1366.9 414.9 1377.2 417.5 1387.4 415 1397.3 412.6 1405.7 409.8 1413.7 406.9 1422.3 403.3 1433.7 399.2 1442.8 394.4 1452 388.5 1458.5 381.4 1465.8 373.2 1473 364.3 1475.3 354.8 1479.5 344.9 1483.2 334.8 1484.5 324.6 1487.3 314.4 1487.9 304.1 1492.5 293.9 1493.9 283.7 1497.6 273.4 1498.9 263.2 1500.9 252.9 1503.5 242.6 1504.9 232.3 1506.4 221.9 1509.7 211.6 1510.9 201.2 1511.8 190.8 1513.9 180.4 1515.4 170 1521.3 140 1526.5 110 1531.5 80 1534.5 43.3 1630.5 43.3 1647.6 34.1 1673.8 23.1 1701 21.5"/><path d="M1284.6 425.4 1294.9 425.3 1306.1 420 1316 421.6 1325.7 422.6 1336.9 417.7 1346.2 418.7 1358.3 418.8 1368.6 416.8 1379.3 415.5 1389.2 413.8 1398.6 412.8 1408.2 409.8 1419.2 406.9 1429.4 403.3 1437.7 399.2 1448 394.4 1456.5 388.5 1463.6 381.4 1469.5 373.2 1477.4 364.3 1480.7 354.8 1486.7 344.9 1489.2 334.8 1488.2 324.6 1492.8 314.4 1494.4 304.1 1497.4 293.9 1498.3 283.7 1502.5 273.4 1506.7 263.2 1505.4 252.9 1507.1 242.6 1509.9 232.3 1511.8 221.9 1513.9 211.6 1514.9 201.2 1516.8 190.8 1519.5 180.4 1520.2 170 1526.3 140 1532.1 110 1537.5 80 1542.6 42.5 1618 42.5 1647.3 35.2 1670.9 24.9 1701 21.5"/><path d="M1283.3 423.7 1294.1 420 1304.5 420.5 1314.6 420.4 1326.7 423.8 1337.8 419.2 1347.8 419 1357.7 417.3 1367.8 414.8 1379.7 414.8 1396.2 413.4 1414.8 410.6 1433 409.8 1452.5 406.9 1465.1 403.3 1472.8 399.2 1481.9 394.4 1489 388.5 1497.9 381.4 1504.6 373.2 1509.3 364.3 1514 354.8 1517.6 344.9 1520.9 334.8 1523.7 324.6 1526.6 314.4 1528.2 304.1 1531.8 293.9 1531.9 283.7 1536.4 273.4 1537.1 263.2 1540.1 252.9 1541.5 242.6 1543.5 232.3 1544.5 221.9 1547.2 211.6 1550.1 201.2 1550.2 190.8 1551.6 180.4 1553.2 170 1551.3 140 1550.1 110 1550.1 80 1547 42.1 1634.4 42.1 1644.5 32.5 1672.1 24.8 1701 21.5"/><path d="M1283.9 423.6 1294.2 422.5 1304.8 421.1 1314 420.5 1325 420.8 1336 418.6 1346.8 418.2 1357.7 417.7 1366.8 417.6 1377.2 413.1 1390.4 415 1404.3 410.6 1420.5 409.8 1432 406.9 1443.6 403.3 1452.4 399.2 1462.5 394.4 1471.1 388.5 1477.3 381.4 1483.4 373.2 1488.3 364.3 1494.5 354.8 1497.1 344.9 1499.4 334.8 1503.5 324.6 1505.5 314.4 1508.4 304.1 1509.3 293.9 1511.7 283.7 1515.1 273.4 1518.7 263.2 1520 252.9 1521.4 242.6 1524.2 232.3 1526 221.9 1526 211.6 1530.3 201.2 1531.1 190.8 1531.7 180.4 1533.6 170 1542.3 140 1543.3 110 1547.9 80 1550.8 49.2 1626.7 49.2 1641.9 38.2 1672.5 25 1701 21.5"/><path d="M1284.2 421 1294.5 423.6 1304.2 421.8 1314.9 419.7 1325.5 422.3 1337 419.8 1346.8 419.2 1357.6 418.5 1366.5 418.5 1377.6 412.2 1388.3 412.5 1396.9 412.1 1405.7 409.8 1415.6 406.9 1424.5 403.3 1434.2 399.2 1443.3 394.4 1452.5 388.5 1459.6 381.4 1467 373.2 1473.6 364.3 1477.8 354.8 1480.9 344.9 1482.3 334.8 1486.6 324.6 1489 314.4 1492.3 304.1 1491.3 293.9 1495.4 283.7 1497.5 273.4 1500.9 263.2 1501.5 252.9 1504 242.6 1508 232.3 1508.7 221.9 1508.1 211.6 1511.3 201.2 1513.9 190.8 1513.9 180.4 1516.4 170 1519 140 1524.5 110 1527.6 80 1528.2 36.1 1624.1 36.1 1644 33.8 1673 24 1701 21.5"/><path d="M1284.3 425.1 1294.3 420.3 1305.1 419.4 1315.2 421.4 1325.9 419.1 1337.9 422.2 1347.4 421.2 1357.6 418.6 1367.3 416.4 1378.6 415.4 1384 413.2 1390.4 409 1395.6 409.8 1402.7 406.9 1408.8 403.3 1420.4 399.2 1431.9 394.4 1439.1 388.5 1447.8 381.4 1454.1 373.2 1459 364.3 1462.6 354.8 1467 344.9 1470.4 334.8 1472.6 324.6 1475.1 314.4 1478.5 304.1 1480.4 293.9 1482.1 283.7 1485.1 273.4 1486.3 263.2 1487.4 252.9 1490.7 242.6 1493.8 232.3 1495.1 221.9 1496.8 211.6 1498.5 201.2 1499.3 190.8 1502.5 180.4 1502.5 170 1508 140 1517.5 110 1524 80 1526.7 44.9 1630.1 44.9 1658.2 34.7 1669.3 24 1701 21.5"/><path d="M1284.2 422.4 1294.6 419.8 1304 419.6 1316.2 421 1326.9 417.5 1336 421.9 1346.3 416.4 1356.8 417.7 1367.8 419 1379.3 418.1 1389.2 413.5 1398.8 410.1 1410.6 409.8 1420.8 406.9 1429.9 403.3 1438.8 399.2 1449.3 394.4 1457.8 388.5 1465.3 381.4 1470.8 373.2 1477.5 364.3 1481.3 354.8 1485.8 344.9 1488.5 334.8 1490.9 324.6 1492.7 314.4 1496.6 304.1 1498.3 293.9 1501.1 283.7 1503.1 273.4 1505.3 263.2 1507.3 252.9 1508.2 242.6 1509.5 232.3 1511.9 221.9 1514.8 211.6 1516.7 201.2 1517.7 190.8 1519.2 180.4 1522 170 1523.2 140 1528 110 1532.3 80 1533.6 34.5 1632.9 34.5 1652.7 30.3 1671.8 23.3 1701 21.5"/><path d="M1284.6 421.9 1293.8 419.9 1306.2 423.3 1315.1 418.4 1325.3 420.4 1337 421.2 1347.5 419.1 1356.9 414 1368.8 415.7 1378.4 417.6 1386.1 413.7 1396.8 410.6 1404.4 409.8 1415.2 406.9 1423 403.3 1432.9 399.2 1443.8 394.4 1451.4 388.5 1460.2 381.4 1464.2 373.2 1471.8 364.3 1477.4 354.8 1478.4 344.9 1480.2 334.8 1485 324.6 1488.3 314.4 1491 304.1 1490.9 293.9 1493 283.7 1494.5 273.4 1500.2 263.2 1502.7 252.9 1503.5 242.6 1505.4 232.3 1506.1 221.9 1508.8 211.6 1509.7 201.2 1511.8 190.8 1512.4 180.4 1514.4 170 1517.2 140 1527.3 110 1530.2 80 1531.5 45.5 1629.2 45.5 1641.2 38.2 1674.7 25.9 1701 21.5"/><path d="M1283.7 423.5 1295.4 423.1 1304.2 420.9 1316.3 420.9 1325.5 421.7 1337.3 422.9 1346.1 418 1356.8 418.7 1367.5 418.8 1376.2 417.3 1383.5 413.8 1389.2 412.5 1392.7 409.8 1399.3 406.9 1406.6 403.3 1415.4 399.2 1426.8 394.4 1434.5 388.5 1442.1 381.4 1449.4 373.2 1455.5 364.3 1459.7 354.8 1462.6 344.9 1464.9 334.8 1467.1 324.6 1472.1 314.4 1473.6 304.1 1475 293.9 1478.9 283.7 1480.8 273.4 1482.4 263.2 1484.5 252.9 1487.8 242.6 1489.1 232.3 1491.9 221.9 1492.6 211.6 1493.5 201.2 1495 190.8 1496.5 180.4 1498.7 170 1507.4 140 1511.9 110 1519.8 80 1525.5 45.9 1621.7 45.9 1640.4 37.4 1669.7 23.2 1701 21.5"/><path d="M1283.8 422.1 1293.6 421.9 1304.7 421.2 1316 421.2 1325.8 417.6 1337 420.3 1345.7 418.7 1357.9 417.8 1367.2 416.9 1377.5 416 1385.8 416 1392.8 409 1404.6 409.8 1412.6 406.9 1420.2 403.3 1430.7 399.2 1439.9 394.4 1447.3 388.5 1457 381.4 1462.5 373.2 1468.7 364.3 1472.9 354.8 1475.2 344.9 1479 334.8 1480.5 324.6 1485.3 314.4 1486.7 304.1 1488.9 293.9 1491.9 283.7 1494 273.4 1495.8 263.2 1497.3 252.9 1498.8 242.6 1501.3 232.3 1503 221.9 1505.2 211.6 1505.8 201.2 1508.8 190.8 1511 180.4 1510.5 170 1520.2 140 1525.6 110 1533.6 80 1538.7 44.4 1621.4 44.4 1644.7 38.3 1670.8 23.9 1701 21.5"/><path d="M1284.2 423.5 1294.5 424.2 1304.8 424.8 1316.1 420.7 1325.9 418.1 1335.9 419.4 1348.8 417.9 1358.1 418.3 1367.6 418.1 1376.7 417.2 1388.6 414.7 1395.6 412.4 1404.6 409.8 1412.1 406.9 1421.8 403.3 1431.8 399.2 1440.9 394.4 1450.2 388.5 1457.8 381.4 1464.7 373.2 1469 364.3 1473.8 354.8 1477.4 344.9 1481.4 334.8 1483.2 324.6 1484.2 314.4 1486.9 304.1 1491.7 293.9 1492.8 283.7 1493.9 273.4 1496.5 263.2 1499.6 252.9 1502.6 242.6 1504.6 232.3 1504.8 221.9 1506.6 211.6 1509.9 201.2 1509.3 190.8 1512.8 180.4 1513.3 170 1518.2 140 1519.8 110 1522.3 80 1527.4 49.2 1628.1 49.2 1655.9 39.1 1661.9 25.3 1701 21.5"/><path d="M1285.2 422.9 1294.9 423.5 1305.8 423 1316.7 422.8 1326.6 421 1336.1 420.3 1348.2 415.6 1357.7 417.4 1368.5 418.5 1378.1 419 1391.9 414.8 1407.9 412.9 1421.3 409.8 1436.6 406.9 1446.1 403.3 1456.8 399.2 1463.9 394.4 1475.3 388.5 1482.5 381.4 1489.1 373.2 1494.4 364.3 1497.8 354.8 1500.8 344.9 1503.9 334.8 1506 324.6 1509.2 314.4 1511.4 304.1 1514.7 293.9 1516 283.7 1519 273.4 1520.2 263.2 1523.5 252.9 1524.6 242.6 1527 232.3 1528.8 221.9 1530.3 211.6 1532.2 201.2 1534.5 190.8 1534.4 180.4 1534.9 170 1538.2 140 1545.2 110 1548 80 1549.9 54.8 1626.7 54.8 1661.6 38.2 1672.9 22.8 1701 21.5"/><path d="M1284 423.4 1295 421.8 1305.4 421.9 1316.8 421 1326.1 421.3 1337.4 418.5 1346.5 418.6 1355.7 420.1 1368.7 417.2 1380.9 417.7 1391.7 416.5 1403 410.2 1415.5 409.8 1426.5 406.9 1435.8 403.3 1446.4 399.2 1455.8 394.4 1464.7 388.5 1471.7 381.4 1477.8 373.2 1484.4 364.3 1487.6 354.8 1491.7 344.9 1495.1 334.8 1495.9 324.6 1499.8 314.4 1500.3 304.1 1503.5 293.9 1505.6 283.7 1508.9 273.4 1511.8 263.2 1513.4 252.9 1516.2 242.6 1517.4 232.3 1519 221.9 1521.2 211.6 1522.3 201.2 1524.1 190.8 1526.4 180.4 1526.7 170 1532 140 1534.6 110 1541.1 80 1545.6 37.7 1638.7 37.7 1655.3 33 1666.3 23 1701 21.5"/><path d="M1284.6 424.4 1292.4 423.1 1305.3 423.6 1316.3 421.1 1324.8 420.8 1335.5 416.7 1346.2 417.7 1356.4 416.7 1367.3 417.3 1377.2 417 1390.6 412.8 1402.4 410.9 1413.5 409.8 1424.8 406.9 1436.5 403.3 1444.1 399.2 1456 394.4 1463.3 388.5 1471 381.4 1477.3 373.2 1482.2 364.3 1486.5 354.8 1491.3 344.9 1493.4 334.8 1496.7 324.6 1500.3 314.4 1501.3 304.1 1504.1 293.9 1505.6 283.7 1507.5 273.4 1510.7 263.2 1514.3 252.9 1515.4 242.6 1516.9 232.3 1517.9 221.9 1520.1 211.6 1523 201.2 1523.6 190.8 1524 180.4 1525.9 170 1526.2 140 1532.1 110 1533.7 80 1536.4 46 1611.1 46 1646.6 33.3 1667.7 24.2 1701 21.5"/><path d="M1285.3 424.1 1294 420.9 1306.4 419.5 1315.2 420.7 1325.2 419.6 1336.4 423.2 1346.9 418.3 1357.5 419.6 1367.2 416.6 1376.9 416.9 1390 416.4 1399.9 415.4 1412.7 409.8 1422.9 406.9 1433 403.3 1442.7 399.2 1451.1 394.4 1461.3 388.5 1468 381.4 1474.5 373.2 1481 364.3 1485.1 354.8 1488.1 344.9 1491.1 334.8 1493.4 324.6 1497.3 314.4 1499.5 304.1 1500.5 293.9 1503.3 283.7 1506.8 273.4 1507.9 263.2 1511.7 252.9 1512.7 242.6 1514.7 232.3 1514.3 221.9 1518.3 211.6 1519.6 201.2 1521.3 190.8 1522.8 180.4 1524.3 170 1527.9 140 1529.2 110 1532.2 80 1536 47.4 1629.1 47.4 1635.2 37.8 1664 25 1701 21.5"/><path d="M1286.2 422.4 1293.8 422.3 1305.4 422.8 1315 420.6 1325.1 419.5 1336.3 420.4 1347.6 418.2 1356.5 420.6 1367.9 416.6 1378.4 415.8 1389.1 415.1 1398 411.7 1409.6 409.8 1418.9 406.9 1429.6 403.3 1437.8 399.2 1449.1 394.4 1457 388.5 1463.2 381.4 1471.8 373.2 1475.7 364.3 1481.1 354.8 1484.6 344.9 1487.6 334.8 1490.3 324.6 1490.8 314.4 1494.4 304.1 1496.2 293.9 1498.9 283.7 1501.8 273.4 1506.3 263.2 1506.2 252.9 1507.5 242.6 1512.3 232.3 1512.5 221.9 1513.5 211.6 1516.8 201.2 1517.7 190.8 1519.1 180.4 1518.8 170 1529.1 140 1537.4 110 1547.1 80 1551 42.3 1638 42.3 1646 34.3 1669 23.9 1701 21.5"/><path d="M1285.1 423.6 1294.2 423.1 1303.3 423.1 1315.5 422 1325.1 418.9 1335.9 419.7 1347.2 418.5 1357.7 419.2 1366.9 417 1377 415.1 1390.6 413.2 1403.2 413 1414.2 409.8 1425.1 406.9 1436.1 403.3 1446 399.2 1454.1 394.4 1462.3 388.5 1470 381.4 1478.5 373.2 1482.4 364.3 1486.7 354.8 1490 344.9 1492 334.8 1495.4 324.6 1498.5 314.4 1500.3 304.1 1502.4 293.9 1505.7 283.7 1508.1 273.4 1509.7 263.2 1512.5 252.9 1513.6 242.6 1516.9 232.3 1517.2 221.9 1519.4 211.6 1521.4 201.2 1522.5 190.8 1523.5 180.4 1527.5 170 1534.6 140 1538.3 110 1546.3 80 1550.4 34.5 1619.1 34.5 1651.1 31.9 1678.7 25.2 1701 21.5"/><path d="M1284.7 424.9 1295.2 423.1 1303.6 422.7 1315 422.7 1327 420 1335.7 419.3 1347.3 419.9 1356.6 418.7 1367.2 416.4 1379.1 415.8 1385.6 412.9 1397 409.8 1405.5 409.8 1413.2 406.9 1421.4 403.3 1431.7 399.2 1442.4 394.4 1451.6 388.5 1457.3 381.4 1464.7 373.2 1470.7 364.3 1475.6 354.8 1480.3 344.9 1482.6 334.8 1484 324.6 1485.1 314.4 1488.3 304.1 1490.1 293.9 1493 283.7 1495.3 273.4 1497.8 263.2 1500.4 252.9 1502 242.6 1504.8 232.3 1506.7 221.9 1506.6 211.6 1508 201.2 1510 190.8 1510.5 180.4 1513.8 170 1520.4 140 1522.1 110 1525.8 80 1526.9 43.7 1628.5 43.7 1635.3 34.2 1670.5 24 1701 21.5"/><path d="M1283.6 426.8 1294.7 420.1 1304.5 424 1314 421.3 1324.9 422.8 1336.1 418.3 1345.6 418 1355.4 417.5 1369.5 417.3 1378.1 414.2 1385.9 413.6 1391.6 414.2 1399.2 409.8 1404.7 406.9 1415.2 403.3 1423.6 399.2 1434.4 394.4 1442.8 388.5 1451.3 381.4 1457.5 373.2 1462.3 364.3 1467.6 354.8 1470.2 344.9 1473.4 334.8 1477.1 324.6 1477.4 314.4 1479.9 304.1 1482.7 293.9 1485 283.7 1488.8 273.4 1488.8 263.2 1494.1 252.9 1495.6 242.6 1495.8 232.3 1498.1 221.9 1499.4 211.6 1501.8 201.2 1503.4 190.8 1505 180.4 1506.5 170 1520.7 140 1530.4 110 1541.8 80 1550.5 42.2 1629.5 42.2 1650 34.5 1668.7 23.9 1701 21.5"/><path d="M1283.1 422.2 1295.7 421.5 1303.8 420.1 1315.6 421 1326.2 418.4 1336.7 420.9 1348.4 421.2 1356.3 418.9 1367 417.7 1378.8 415.5 1384.5 414.4 1395.1 411.4 1403.7 409.8 1410.8 406.9 1420 403.3 1430.3 399.2 1439.3 394.4 1449.1 388.5 1455.9 381.4 1462.6 373.2 1468.9 364.3 1473.9 354.8 1476.1 344.9 1479.3 334.8 1481.4 324.6 1482.8 314.4 1486.1 304.1 1490.7 293.9 1491 283.7 1494.2 273.4 1496.4 263.2 1499.1 252.9 1500.1 242.6 1502.6 232.3 1503.6 221.9 1507.4 211.6 1507.4 201.2 1508.6 190.8 1511.2 180.4 1511 170 1518.2 140 1527.7 110 1533.3 80 1539.8 54.1 1628.6 54.1 1635.5 40.2 1676.8 24 1701 21.5"/><path d="M1284.1 425.3 1294.3 421.8 1305.2 421.5 1315.2 419.8 1326.1 420.9 1337.9 419.7 1345.5 419.7 1359.2 417.6 1367.2 416.9 1376 415.4 1391.4 412 1405.7 410.9 1417.5 409.8 1431.8 406.9 1444 403.3 1454.6 399.2 1462.5 394.4 1470.4 388.5 1477.5 381.4 1484.3 373.2 1490.8 364.3 1494.1 354.8 1498.4 344.9 1501.6 334.8 1502.6 324.6 1505.3 314.4 1508.5 304.1 1510.5 293.9 1512.8 283.7 1514.8 273.4 1517.5 263.2 1521.2 252.9 1522.9 242.6 1522.4 232.3 1525.5 221.9 1527.2 211.6 1528.8 201.2 1529.3 190.8 1531.8 180.4 1533.5 170 1532.2 140 1535.5 110 1539.7 80 1541.1 44.5 1630.7 44.5 1645.3 35.4 1672.7 25.1 1701 21.5"/><path d="M1283.9 422.1 1294.6 420.5 1305.7 420.5 1316.7 421.4 1326.3 419.3 1335.8 420.4 1346.7 419 1356.2 417.7 1368.1 415.2 1377.4 414.2 1391.5 413.4 1403.8 411.4 1418.4 409.8 1430.4 406.9 1442.6 403.3 1454.1 399.2 1458.9 394.4 1468.5 388.5 1476.6 381.4 1483.6 373.2 1490.1 364.3 1493.4 354.8 1496.4 344.9 1498.7 334.8 1499.4 324.6 1503.3 314.4 1508.3 304.1 1508.4 293.9 1512.3 283.7 1514.6 273.4 1516.1 263.2 1517.4 252.9 1522.7 242.6 1523.3 232.3 1524.7 221.9 1524.8 211.6 1527.9 201.2 1528 190.8 1529.5 180.4 1532.3 170 1532.4 140 1531.9 110 1532.3 80 1532.1 44.2 1618.2 44.2 1651.5 35.2 1679.5 21.8 1701 21.5"/><path d="M1283.3 421.7 1294.4 425 1305.6 421.8 1314.7 423.9 1325.7 420.5 1336.1 421.7 1347 418.4 1357.5 416.7 1367 416.9 1376 417.6 1394.2 412.6 1407.5 409.9 1422.7 409.8 1437.4 406.9 1449.4 403.3 1457.4 399.2 1466 394.4 1474.7 388.5 1482.7 381.4 1491.2 373.2 1494.9 364.3 1499.4 354.8 1502.6 344.9 1506.4 334.8 1510.3 324.6 1511.6 314.4 1514.3 304.1 1514.6 293.9 1518.6 283.7 1520.2 273.4 1523.5 263.2 1525.6 252.9 1527.3 242.6 1527.3 232.3 1530.5 221.9 1531.7 211.6 1534.1 201.2 1535.3 190.8 1537.6 180.4 1537.1 170 1539.4 140 1539.9 110 1542 80 1543.3 42.6 1628.4 42.6 1647.3 36.9 1673 22.2 1701 21.5"/><path d="M1282.9 426.5 1293.6 424.5 1305.6 421.9 1316.2 418.7 1328 421.9 1336.7 423.4 1348.9 416.7 1357.4 415.7 1367.7 416.4 1379 415.8 1379.6 415.2 1381.4 413.6 1381.8 409.8 1383.2 406.9 1390.2 403.3 1399.9 399.2 1412 394.4 1421.4 388.5 1428.9 381.4 1435.3 373.2 1440.8 364.3 1444.8 354.8 1447.4 344.9 1451 334.8 1453.5 324.6 1456.1 314.4 1457.3 304.1 1460.7 293.9 1463.1 283.7 1465.1 273.4 1467.8 263.2 1470.3 252.9 1472.9 242.6 1475 232.3 1475.2 221.9 1478.2 211.6 1479.2 201.2 1480.8 190.8 1483.4 180.4 1484.6 170 1495.5 140 1507 110 1513.7 80 1522.3 37.4 1622 37.4 1649.3 30.2 1668.3 26.8 1701 21.5"/><path d="M1284.3 423.5 1294.7 424.5 1305.1 422 1315.4 421.1 1325.9 421.9 1336.4 419.9 1346.9 420.2 1357 419.6 1367.4 418.2 1379.8 416.2 1388.6 412.5 1399.6 412.2 1410 409.8 1418.9 406.9 1429.7 403.3 1440.4 399.2 1448.6 394.4 1456.7 388.5 1463.6 381.4 1471.2 373.2 1477.3 364.3 1481.7 354.8 1483.9 344.9 1486.8 334.8 1489.3 324.6 1491.7 314.4 1494.7 304.1 1497.5 293.9 1501.1 283.7 1502.2 273.4 1505.5 263.2 1505.2 252.9 1509.8 242.6 1511.1 232.3 1512.5 221.9 1514.5 211.6 1516 201.2 1518.6 190.8 1519.3 180.4 1518.8 170 1528.7 140 1539.1 110 1545 80 1552.2 50.9 1623.5 50.9 1649.9 38.3 1672.7 23.4 1701 21.5"/><path d="M1284.5 421.8 1293.7 423.9 1303.9 422.2 1316.4 421.7 1326.5 420.8 1336.7 417.9 1348.3 418.7 1357.1 418.6 1368.9 416.8 1378.2 417.5 1390.8 413.7 1402.3 412.4 1414 409.8 1425.7 406.9 1436.6 403.3 1445.7 399.2 1457.2 394.4 1463.6 388.5 1472.4 381.4 1477 373.2 1483.7 364.3 1489.9 354.8 1491.9 344.9 1493.6 334.8 1497 324.6 1498.5 314.4 1500.6 304.1 1505.9 293.9 1506.6 283.7 1509.5 273.4 1512.6 263.2 1513.3 252.9 1516 242.6 1517.8 232.3 1518.9 221.9 1520.9 211.6 1521.9 201.2 1523.2 190.8 1526.5 180.4 1527 170 1540.5 140 1551.5 110 1565.1 80 1571.9 52 1611.4 52 1642.7 39.6 1673.2 25.1 1701 21.5"/><path d="M1283.9 423.7 1294.2 422.4 1305.4 423.2 1314.9 422.6 1325.2 420.2 1336.5 420 1344.9 417.6 1357.2 419.6 1367.3 419.4 1376.8 416 1389.6 414.3 1400.4 413.6 1410.4 409.8 1422.2 406.9 1432.7 403.3 1441.3 399.2 1448.9 394.4 1458.4 388.5 1466.4 381.4 1472.8 373.2 1479.6 364.3 1483 354.8 1489.2 344.9 1490.4 334.8 1491.4 324.6 1494.7 314.4 1498.5 304.1 1500.2 293.9 1501.2 283.7 1505.2 273.4 1506.4 263.2 1510.7 252.9 1510.5 242.6 1513.3 232.3 1515 221.9 1516 211.6 1517.8 201.2 1520.4 190.8 1521.4 180.4 1522.5 170 1527.6 140 1530 110 1532.9 80 1534.9 51.6 1617.2 51.6 1645.1 39.6 1674.9 23.4 1701 21.5"/><path d="M1283.2 421.9 1294.6 423.4 1305.7 422.6 1315.6 422.5 1325.2 421 1336.1 418.1 1347 419.9 1357.8 420.3 1367.2 415.1 1378.2 418.3 1388.4 413.8 1401.7 412.8 1413.3 409.8 1425.4 406.9 1436.2 403.3 1444.4 399.2 1454.3 394.4 1462.1 388.5 1470.9 381.4 1478.1 373.2 1483.9 364.3 1486.7 354.8 1490.7 344.9 1494.6 334.8 1494.5 324.6 1500.6 314.4 1499.9 304.1 1504 293.9 1506 283.7 1507.5 273.4 1510.6 263.2 1512.5 252.9 1512.9 242.6 1517.1 232.3 1519 221.9 1521.6 211.6 1521.2 201.2 1522.8 190.8 1524.8 180.4 1525.3 170 1527 140 1529.4 110 1536.8 80 1534.3 43.7 1637.6 43.7 1656.3 35.6 1675.7 22 1701 21.5"/><path d="M1284.4 422.2 1294.8 422.6 1305.7 422.4 1316.2 420.9 1325.9 420.1 1335.4 419.6 1347.8 420.2 1356.7 418.7 1368.4 415.2 1378.5 416.4 1392.4 414.6 1404.5 409.2 1421.5 409.8 1433.4 406.9 1445.9 403.3 1455.6 399.2 1462.9 394.4 1470.7 388.5 1480.3 381.4 1485.8 373.2 1491.8 364.3 1496.2 354.8 1500.1 344.9 1503 334.8 1503.5 324.6 1506 314.4 1509.6 304.1 1511.9 293.9 1514.8 283.7 1516.5 273.4 1518.8 263.2 1522.7 252.9 1524.2 242.6 1525.9 232.3 1527.6 221.9 1527.9 211.6 1530.1 201.2 1531.6 190.8 1532.4 180.4 1534.1 170 1534.9 140 1534.9 110 1533.9 80 1534.3 37 1625.7 37 1650.8 33.2 1673.4 22.8 1701 21.5"/><path d="M1285.6 423.1 1295.5 423.3 1304.4 419.9 1315.9 423.2 1325.9 421.3 1337.4 419 1347.7 419 1357.2 416.9 1367.8 414.9 1377.4 413.8 1384 414 1388.9 410.4 1392.7 409.8 1397.5 406.9 1406.4 403.3 1414 399.2 1425.7 394.4 1434.3 388.5 1443.6 381.4 1450.2 373.2 1453.1 364.3 1458.7 354.8 1462.5 344.9 1464.9 334.8 1467.3 324.6 1470.7 314.4 1471.4 304.1 1474.2 293.9 1477.8 283.7 1479.2 273.4 1481.3 263.2 1483 252.9 1487 242.6 1487.4 232.3 1488.6 221.9 1491.7 211.6 1493.3 201.2 1494.5 190.8 1496.2 180.4 1496.9 170 1507.7 140 1519.8 110 1527.2 80 1535.8 48.7 1622.3 48.7 1634.3 37.6 1674.1 23.9 1701 21.5"/><path d="M1284.4 425 1293.6 422.3 1306.2 420.6 1315.6 421.3 1325.6 418.5 1335.9 418.3 1347.8 419.4 1357.9 416.5 1368.2 417.4 1379.1 414.8 1389.3 416.3 1400.4 410.9 1408.3 409.8 1418.2 406.9 1430 403.3 1439.3 399.2 1448.5 394.4 1456.2 388.5 1465.6 381.4 1472.4 373.2 1476.7 364.3 1481.1 354.8 1485.6 344.9 1487.9 334.8 1491 324.6 1492.1 314.4 1495.1 304.1 1496.9 293.9 1499.1 283.7 1501.7 273.4 1504 263.2 1506.9 252.9 1508.2 242.6 1510.4 232.3 1511.5 221.9 1512.9 211.6 1516.6 201.2 1516.2 190.8 1520 180.4 1520.8 170 1531.9 140 1542.2 110 1551.6 80 1559.7 39.9 1623.9 39.9 1647.3 35.9 1675.8 23.3 1701 21.5"/><path d="M1285 421.8 1294.6 420.3 1305.6 421.9 1315.9 418.9 1326.1 421.5 1336.7 420.9 1346.8 419.2 1356.7 419.7 1368.3 418.9 1377.2 418.1 1386.9 413 1393.8 411.3 1401.4 409.8 1410.4 406.9 1420 403.3 1429.1 399.2 1439.1 394.4 1447.9 388.5 1454.2 381.4 1460.3 373.2 1467.1 364.3 1470.8 354.8 1475.1 344.9 1477.7 334.8 1480.3 324.6 1482.7 314.4 1485.4 304.1 1489.3 293.9 1489.9 283.7 1492 273.4 1494.3 263.2 1497.3 252.9 1498.4 242.6 1501.1 232.3 1501.4 221.9 1503.2 211.6 1505 201.2 1507.2 190.8 1510.5 180.4 1509.2 170 1514.9 140 1520.3 110 1527.8 80 1531.6 45 1640.7 45 1645.3 37.9 1667.7 22 1701 21.5"/><path d="M1283.2 424.8 1293.6 422 1304.9 422.8 1315.1 419.9 1327.5 419.2 1337.1 419.6 1346.5 419 1357.2 418.7 1365.8 417.1 1378.3 414.5 1384.8 417.7 1392.7 413.2 1397.6 409.8 1403.1 406.9 1412.9 403.3 1421.1 399.2 1431.3 394.4 1441.2 388.5 1447.6 381.4 1454.3 373.2 1461.6 364.3 1463.7 354.8 1468.4 344.9 1471.3 334.8 1473.9 324.6 1475.1 314.4 1478.4 304.1 1480.7 293.9 1484.8 283.7 1486.4 273.4 1487.4 263.2 1490.9 252.9 1492.8 242.6 1494 232.3 1495.7 221.9 1497.3 211.6 1498 201.2 1500.3 190.8 1503 180.4 1504.9 170 1519.1 140 1525.7 110 1539.9 80 1549.2 41.2 1619.4 41.2 1638.3 35.7 1667.9 22.9 1701 21.5"/><path d="M1284.7 424.7 1293.4 421.2 1307.4 422.2 1315.6 420.8 1326.2 421.8 1336.2 417.5 1347.9 417 1357.1 416.7 1368.2 418.3 1378.1 414.2 1389.7 414.8 1401.9 409.5 1413.1 409.8 1424.4 406.9 1435.2 403.3 1445.1 399.2 1453.5 394.4 1462.5 388.5 1469.9 381.4 1476.4 373.2 1481.8 364.3 1486.6 354.8 1491 344.9 1493 334.8 1494.6 324.6 1497.2 314.4 1500.7 304.1 1502 293.9 1504.9 283.7 1507.9 273.4 1509.6 263.2 1512.6 252.9 1514.7 242.6 1515.1 232.3 1518.6 221.9 1520.4 211.6 1521.2 201.2 1521.3 190.8 1525.4 180.4 1525.3 170 1532.5 140 1535 110 1542.2 80 1543.7 40.5 1618.7 40.5 1646.3 35.4 1676.3 22.5 1701 21.5"/><path d="M1283.7 423.3 1294.8 422.9 1305.2 422.6 1315.1 420 1326.4 419.9 1336.4 420.7 1347.7 420.8 1356.8 417.7 1368.3 415.1 1377.3 416.8 1386.5 412.9 1395.9 413 1404.2 409.8 1411.3 406.9 1420.5 403.3 1430.1 399.2 1440.6 394.4 1447.4 388.5 1456.2 381.4 1463.8 373.2 1468.2 364.3 1473.3 354.8 1476.9 344.9 1480 334.8 1481.7 324.6 1483.7 314.4 1488.9 304.1 1488.7 293.9 1493 283.7 1492.7 273.4 1496.4 263.2 1498.4 252.9 1502.1 242.6 1504 232.3 1505 221.9 1505.1 211.6 1506.9 201.2 1508.5 190.8 1510.3 180.4 1512.4 170 1521.8 140 1527.8 110 1529 80 1536.5 41.8 1621.5 41.8 1655.6 33.7 1670.7 25.9 1701 21.5"/><path d="M1285.1 422.7 1294.8 420.5 1305.1 422.2 1315 421.6 1326.6 420.8 1335.9 419.5 1346.8 421.1 1358 417.5 1367.8 413.7 1378.6 414.4 1390.4 412.7 1401.8 415.2 1413.4 409.8 1423.6 406.9 1434.3 403.3 1444.2 399.2 1453.8 394.4 1463.4 388.5 1469 381.4 1475.5 373.2 1482.6 364.3 1485.8 354.8 1489.6 344.9 1493.8 334.8 1495.3 324.6 1498.1 314.4 1500.8 304.1 1502.4 293.9 1504.6 283.7 1507.6 273.4 1510.3 263.2 1509.7 252.9 1512 242.6 1514.9 232.3 1516.4 221.9 1520.9 211.6 1520.7 201.2 1520.5 190.8 1523.7 180.4 1526.6 170 1529.7 140 1531.5 110 1534.7 80 1536.4 39.5 1623.7 39.5 1646.9 32.6 1669.6 23.5 1701 21.5"/><path d="M1284.6 422.6 1294.2 421 1306.1 420 1315.6 419.1 1325.8 423.7 1338.3 419.1 1346.1 421.4 1356.7 415.6 1368.1 415.6 1377.1 417.5 1384.2 412.7 1390.5 411.9 1396.9 409.8 1401.6 406.9 1411.1 403.3 1420.3 399.2 1431.5 394.4 1439.6 388.5 1446.5 381.4 1453.5 373.2 1458.7 364.3 1461.9 354.8 1465.7 344.9 1470 334.8 1470 324.6 1473.7 314.4 1475.7 304.1 1479 293.9 1480.6 283.7 1484 273.4 1486 263.2 1488 252.9 1489.7 242.6 1490.5 232.3 1494.1 221.9 1494.7 211.6 1497.1 201.2 1499.2 190.8 1501.3 180.4 1502.5 170 1515.8 140 1527.3 110 1535.9 80 1543.5 36.1 1620.5 36.1 1645 32.4 1669.5 25 1701 21.5"/><path d="M1283.1 424 1293.9 421.4 1305.2 419.4 1315.6 419.7 1326.8 420.2 1336.4 421 1346.8 415.4 1356.8 418.4 1368.1 417.4 1378.7 417 1387.4 415.4 1398.1 411.3 1407.5 409.8 1416.5 406.9 1428.4 403.3 1435.9 399.2 1446.1 394.4 1454.3 388.5 1462.1 381.4 1467.7 373.2 1474.3 364.3 1479.8 354.8 1482.9 344.9 1484.7 334.8 1488.9 324.6 1488.8 314.4 1491.4 304.1 1494.5 293.9 1496.9 283.7 1500.1 273.4 1503.1 263.2 1504.3 252.9 1505.9 242.6 1507.5 232.3 1510.1 221.9 1509.9 211.6 1513.5 201.2 1513.5 190.8 1515.8 180.4 1517.8 170 1523.1 140 1527.4 110 1534.8 80 1538.6 39.4 1625.9 39.4 1649.9 32.2 1670 23.2 1701 21.5"/><path d="M1282.7 425.7 1296.4 423.2 1305 422.1 1315.5 420.2 1325.9 420.3 1337 420.8 1347.7 419.9 1356.6 420.2 1365.8 417.3 1378.5 415.1 1395.5 412.7 1409.9 411.5 1427.8 409.8 1444.5 406.9 1456.2 403.3 1466.2 399.2 1472.7 394.4 1481.5 388.5 1489.8 381.4 1495.2 373.2 1502 364.3 1505.9 354.8 1510.3 344.9 1511.8 334.8 1514.6 324.6 1517.1 314.4 1519.6 304.1 1521.5 293.9 1524.4 283.7 1525.9 273.4 1529.7 263.2 1532 252.9 1533.5 242.6 1535.3 232.3 1536.5 221.9 1538.1 211.6 1540.3 201.2 1541.4 190.8 1542.7 180.4 1545.3 170 1541 140 1539.6 110 1536.1 80 1535 41.1 1625.1 41.1 1652.2 34.4 1675 23.4 1701 21.5"/><path d="M1283.1 422.8 1294.5 424.3 1304.5 423.1 1316.1 418.9 1326 419.7 1338.1 419.4 1346.7 420.3 1355.9 417.4 1369 419.1 1377 418.5 1392.9 414.3 1408.3 411.6 1420.5 409.8 1436.8 406.9 1446.1 403.3 1458.7 399.2 1464.7 394.4 1472.3 388.5 1480.6 381.4 1487.4 373.2 1492.6 364.3 1496.8 354.8 1501.3 344.9 1504.2 334.8 1507.2 324.6 1509.9 314.4 1510.2 304.1 1513.4 293.9 1515 283.7 1517.5 273.4 1520.8 263.2 1523 252.9 1525 242.6 1525 232.3 1529.4 221.9 1530.7 211.6 1532.9 201.2 1534.1 190.8 1535.4 180.4 1536.8 170 1533.9 140 1537 110 1535.2 80 1535.9 45.7 1634.1 45.7 1634 35.5 1675 22.5 1701 21.5"/><path d="M1284.6 423 1295.7 424.1 1305 425.5 1315.2 420.2 1325.8 419.2 1336.1 419.7 1347.6 416.7 1356.3 417.1 1367.6 417.8 1377.7 418.1 1385.7 413.9 1393.5 413.9 1400.9 409.8 1407.8 406.9 1416.2 403.3 1426.4 399.2 1436.8 394.4 1444.9 388.5 1452.8 381.4 1458 373.2 1464.6 364.3 1470.4 354.8 1474.1 344.9 1475.7 334.8 1476.5 324.6 1482.1 314.4 1483 304.1 1487.4 293.9 1487.5 283.7 1490.9 273.4 1492 263.2 1495.8 252.9 1497.6 242.6 1497.8 232.3 1501.4 221.9 1504.3 211.6 1503.5 201.2 1504.3 190.8 1507 180.4 1508 170 1519.4 140 1526 110 1539 80 1544.8 37.9 1631.1 37.9 1656.2 32.1 1668.5 24.7 1701 21.5"/><path d="M1283.7 422.8 1295.1 422.7 1305.3 423.7 1314 422.1 1326.5 422.9 1335.5 424.4 1346.6 418.8 1357.7 418.2 1368.8 418.3 1378.3 413.6 1384.9 414.7 1390.7 411.9 1396.3 409.8 1401.7 406.9 1410 403.3 1419.9 399.2 1428.4 394.4 1440.1 388.5 1446.8 381.4 1453.6 373.2 1457.6 364.3 1462.5 354.8 1467.9 344.9 1469.5 334.8 1471.9 324.6 1474.8 314.4 1476.5 304.1 1480.1 293.9 1480.7 283.7 1484.1 273.4 1486.2 263.2 1488 252.9 1489.9 242.6 1491.6 232.3 1492.9 221.9 1495.7 211.6 1498.2 201.2 1499.2 190.8 1501.9 180.4 1501 170 1512 140 1523.7 110 1529.4 80 1538.7 41.7 1618.7 41.7 1637.9 34.1 1672.3 23.2 1701 21.5"/><path d="M1284 423.1 1292.9 422 1304.9 420.7 1314.4 421 1325.2 419.7 1335.2 419.6 1347.6 417.8 1357.6 416 1368.3 418 1378 417.2 1387.5 414.3 1399.1 412.2 1406.6 409.8 1417.9 406.9 1427.1 403.3 1436.1 399.2 1444.4 394.4 1453 388.5 1461 381.4 1469.9 373.2 1474.6 364.3 1478.1 354.8 1483.2 344.9 1486.2 334.8 1486.9 324.6 1490.4 314.4 1491.2 304.1 1495.1 293.9 1498.5 283.7 1498.4 273.4 1501.9 263.2 1503.6 252.9 1506 242.6 1508 232.3 1509.9 221.9 1512.1 211.6 1513.4 201.2 1515.4 190.8 1516.9 180.4 1518.5 170 1523.3 140 1527.1 110 1535.6 80 1536.3 45 1630 45 1635.7 36.1 1671.1 24.8 1701 21.5"/><path d="M1283.6 421.9 1293.7 423.5 1305.2 418 1316.5 422.3 1326.8 424 1337.4 419.7 1345.4 419 1356.9 418.2 1368.1 416.6 1378.2 416.2 1388.5 416.6 1397 411.3 1409.3 409.8 1416.9 406.9 1426.7 403.3 1434.9 399.2 1446.5 394.4 1455.4 388.5 1462.7 381.4 1467.1 373.2 1473.7 364.3 1478.4 354.8 1482.2 344.9 1485.9 334.8 1488 324.6 1488.4 314.4 1492.1 304.1 1494.7 293.9 1497.5 283.7 1499.6 273.4 1503.1 263.2 1503.6 252.9 1505.4 242.6 1507.6 232.3 1509.2 221.9 1510.5 211.6 1512.9 201.2 1514.5 190.8 1514.6 180.4 1517.2 170 1523.3 140 1527.3 110 1531.9 80 1535.8 49.9 1635.9 49.9 1643.3 34.8 1675.7 22.7 1701 21.5"/><path d="M1282.6 422.7 1294.3 422.4 1304.2 421.3 1315.1 422.4 1326.1 421.7 1336.4 416.7 1345.4 419.8 1358.1 419.5 1367.8 414.6 1377.9 416.5 1384.1 413.7 1386.2 411.1 1391 409.8 1394.5 406.9 1399.9 403.3 1411.9 399.2 1421.5 394.4 1429.7 388.5 1437.4 381.4 1444.6 373.2 1452.5 364.3 1457.2 354.8 1457.7 344.9 1460.9 334.8 1464.1 324.6 1466.7 314.4 1468.5 304.1 1469.9 293.9 1473.2 283.7 1475.4 273.4 1476.9 263.2 1480.5 252.9 1481.4 242.6 1483 232.3 1487.3 221.9 1488.5 211.6 1490.5 201.2 1491.1 190.8 1492.2 180.4 1494 170 1507.9 140 1518.3 110 1527.3 80 1538.9 46.6 1627.2 46.6 1656.5 39.9 1675.4 23.7 1701 21.5"/><path d="M1284.4 420.9 1295.1 424.1 1304.6 423.3 1315.2 421.1 1325.9 420.2 1336.5 421.6 1348 420 1357.8 416.4 1367.7 417.9 1378.3 415.2 1388.3 415.7 1400.4 408.1 1412.9 409.8 1421.7 406.9 1431.4 403.3 1441.8 399.2 1450.6 394.4 1460.2 388.5 1466.2 381.4 1473.9 373.2 1479.3 364.3 1481.7 354.8 1488.4 344.9 1489.1 334.8 1490.8 324.6 1494.3 314.4 1497.6 304.1 1498.3 293.9 1501.3 283.7 1503.5 273.4 1506 263.2 1506.3 252.9 1511.5 242.6 1511.5 232.3 1514.6 221.9 1515.8 211.6 1515.9 201.2 1518.9 190.8 1519.7 180.4 1521.9 170 1526.4 140 1530.9 110 1535.4 80 1537.6 42.3 1621.1 42.3 1660.2 37.3 1673.1 26.1 1701 21.5"/><path d="M1282.8 421.1 1295.3 421.8 1305.1 421.4 1315.7 419 1326 419.6 1337.3 420.7 1345.9 417.6 1357.8 420 1368.4 416.9 1379.1 412.4 1392.3 412.8 1407 413 1423 409.8 1437.8 406.9 1449.1 403.3 1459.3 399.2 1467.4 394.4 1475.1 388.5 1483.9 381.4 1489.1 373.2 1496.7 364.3 1498.8 354.8 1503.1 344.9 1505.3 334.8 1508.6 324.6 1512.1 314.4 1512.9 304.1 1517.2 293.9 1519.3 283.7 1520.8 273.4 1522.4 263.2 1525.8 252.9 1524.9 242.6 1528.4 232.3 1531.5 221.9 1532.4 211.6 1536 201.2 1535.1 190.8 1536.2 180.4 1538.5 170 1536.8 140 1540.2 110 1542.5 80 1541.2 51.3 1623.4 51.3 1640.9 38.3 1675 24.8 1701 21.5"/><path d="M1284.2 422.4 1294.8 421.9 1305.1 420.9 1315.1 421.5 1327.1 420.7 1336.4 419.3 1345.9 417.5 1357.4 419.6 1367.9 415.8 1378.2 417.3 1390.4 415.8 1401.6 412.7 1414.2 409.8 1425.7 406.9 1437.9 403.3 1448 399.2 1456.7 394.4 1465.9 388.5 1472.8 381.4 1477.4 373.2 1485.4 364.3 1490 354.8 1492.5 344.9 1495.2 334.8 1498.1 324.6 1500.6 314.4 1502 304.1 1506.1 293.9 1509.1 283.7 1510.5 273.4 1512.5 263.2 1511.9 252.9 1517 242.6 1518.9 232.3 1520.7 221.9 1522.1 211.6 1522.8 201.2 1525.3 190.8 1526.6 180.4 1528.2 170 1531.9 140 1534.5 110 1536.7 80 1542.3 44.3 1640.5 44.3 1654.5 35.1 1673.4 24.1 1701 21.5"/><path d="M1283.9 421 1294.9 423.3 1306.6 423.1 1315.5 419.4 1328.1 419.5 1336.6 420.9 1347.3 421 1356.6 417.2 1368 415.3 1377.8 417.9 1390.4 414.1 1401.8 412.3 1414.3 409.8 1425.3 406.9 1437.3 403.3 1445.3 399.2 1456.2 394.4 1463.5 388.5 1469.7 381.4 1476.9 373.2 1483.9 364.3 1487.4 354.8 1493.1 344.9 1495.5 334.8 1498.6 324.6 1500.1 314.4 1502.8 304.1 1503.6 293.9 1507.5 283.7 1508.5 273.4 1511.1 263.2 1512.3 252.9 1515.5 242.6 1517.6 232.3 1519 221.9 1519.9 211.6 1523.1 201.2 1524.7 190.8 1525.4 180.4 1527.6 170 1532.4 140 1533.7 110 1539 80 1543.8 38.1 1631 38.1 1650.3 30.9 1673.5 22 1701 21.5"/><path d="M1285.2 425.3 1294.5 422.6 1304.3 424.1 1315.4 420 1327.2 420.9 1336.1 421.1 1346.5 418.8 1358.1 416.4 1367.7 417 1378.5 414.3 1386.3 413.7 1395.1 412.4 1404.3 409.8 1412.9 406.9 1422.2 403.3 1430.9 399.2 1441.3 394.4 1450.4 388.5 1458.9 381.4 1464.8 373.2 1470.1 364.3 1476.2 354.8 1477.7 344.9 1481.9 334.8 1483.8 324.6 1484.8 314.4 1488.2 304.1 1491.2 293.9 1491.9 283.7 1496.4 273.4 1497.2 263.2 1500.2 252.9 1501.7 242.6 1504 232.3 1504.9 221.9 1508.4 211.6 1508.1 201.2 1511.7 190.8 1511.6 180.4 1512.7 170 1519.5 140 1524.2 110 1531.6 80 1537 43.4 1626.7 43.4 1640.3 33.4 1668 22.9 1701 21.5"/><path d="M1283.3 424.3 1293 422.7 1304.9 423 1314.6 422.5 1327.2 423.9 1335.1 419.7 1346.7 419.2 1356.6 419.5 1369.7 419.4 1377.5 415 1392.3 414.4 1405.1 414.1 1420 409.8 1434.1 406.9 1444.4 403.3 1455.2 399.2 1462.1 394.4 1470.3 388.5 1478.9 381.4 1484.3 373.2 1492 364.3 1496.1 354.8 1497.6 344.9 1501.9 334.8 1504.9 324.6 1506.4 314.4 1509.5 304.1 1511 293.9 1513.8 283.7 1516.1 273.4 1518.9 263.2 1520 252.9 1521.9 242.6 1524.9 232.3 1526 221.9 1528.5 211.6 1529.3 201.2 1530.2 190.8 1533.4 180.4 1534.6 170 1536.4 140 1540.8 110 1538.3 80 1542.4 41.3 1640.2 41.3 1647.7 35.2 1672.4 24.6 1701 21.5"/><path d="M1284.2 423.4 1294.3 423.1 1305 421.4 1315.9 419.8 1326.3 419.9 1334.4 421.3 1346.8 418.5 1357 415.8 1366.8 417.8 1378 417.5 1387.8 413.4 1392.6 414.1 1401.8 409.8 1410 406.9 1417.8 403.3 1427.5 399.2 1436.7 394.4 1447.4 388.5 1453.8 381.4 1461.5 373.2 1465.9 364.3 1469.9 354.8 1474.4 344.9 1477.5 334.8 1477.2 324.6 1481.2 314.4 1484.4 304.1 1487.2 293.9 1488.7 283.7 1490.4 273.4 1493.7 263.2 1495.3 252.9 1495.4 242.6 1498 232.3 1501.6 221.9 1502.3 211.6 1505.1 201.2 1506.9 190.8 1505.7 180.4 1509.3 170 1517.6 140 1531.7 110 1538.8 80 1546.9 48.2 1627.4 48.2 1642.5 37.8 1671.4 27.2 1701 21.5"/><path d="M1284.1 422.9 1293.6 424.4 1304.4 419.8 1315.1 421.2 1326.6 418.2 1335.4 420 1347.2 417.4 1356.5 418.5 1367.7 414.7 1377.6 418.1 1387.8 415.8 1397.8 414.5 1410.5 409.8 1418.8 406.9 1428.7 403.3 1439.4 399.2 1447.2 394.4 1457.4 388.5 1465.6 381.4 1471.4 373.2 1477 364.3 1481.1 354.8 1485.5 344.9 1486.9 334.8 1491.3 324.6 1492.5 314.4 1494.6 304.1 1495.9 293.9 1499.2 283.7 1502.1 273.4 1505.3 263.2 1505.2 252.9 1508.4 242.6 1509.8 232.3 1511.2 221.9 1513.8 211.6 1514.9 201.2 1517.7 190.8 1516.4 180.4 1520.7 170 1531.7 140 1538.9 110 1548.2 80 1554.8 33.2 1621.2 33.2 1643.6 28 1671.8 23.2 1701 21.5"/><path d="M1283.3 420.8 1294.5 423.6 1305 424.9 1315.5 419 1325.8 422 1335 416.4 1348.5 417.2 1358.2 418.9 1367.2 415.9 1378.6 415 1388.1 414.5 1395.9 414.9 1404.8 409.8 1412.4 406.9 1422.4 403.3 1432.1 399.2 1443.5 394.4 1451.5 388.5 1458.1 381.4 1464.6 373.2 1470.8 364.3 1475.2 354.8 1480.3 344.9 1481 334.8 1483.3 324.6 1486.2 314.4 1488.5 304.1 1492 293.9 1493.6 283.7 1495.5 273.4 1498.1 263.2 1499.8 252.9 1502.3 242.6 1504.3 232.3 1507.5 221.9 1507 211.6 1510.5 201.2 1511.1 190.8 1511.8 180.4 1515.6 170 1519.8 140 1523.7 110 1526.7 80 1531.7 36.8 1628.8 36.8 1656.1 31.7 1670.9 22.2 1701 21.5"/><path d="M1283.9 422.9 1293.9 421.3 1303.6 420.5 1316.5 423.2 1325.7 421.5 1336.8 419.9 1346.8 420.9 1357.8 417.9 1367.6 418.6 1377.8 414.8 1392 413.5 1407.9 412.8 1421.3 409.8 1435.3 406.9 1448.3 403.3 1457.1 399.2 1466.6 394.4 1474.3 388.5 1481.1 381.4 1487.4 373.2 1493.2 364.3 1498.1 354.8 1502.1 344.9 1504.6 334.8 1507.9 324.6 1507.9 314.4 1511.6 304.1 1512.8 293.9 1515.4 283.7 1518.2 273.4 1520.4 263.2 1522.4 252.9 1524 242.6 1528 232.3 1528.6 221.9 1531.3 211.6 1531.3 201.2 1531.9 190.8 1534.8 180.4 1537.5 170 1536.8 140 1541.3 110 1540.6 80 1540.5 45 1635.4 45 1655.7 35.4 1672.3 23.5 1701 21.5"/><path d="M1284 422.5 1294 422.5 1305.6 420.2 1316.9 423 1324.9 419.2 1337 420.3 1347.8 419.7 1357.3 417.4 1368.2 417.9 1377.7 415.4 1386.7 413.6 1393.8 413 1401.4 409.8 1410.4 406.9 1418.9 403.3 1429.2 399.2 1440.2 394.4 1449.6 388.5 1456.1 381.4 1461.9 373.2 1466.8 364.3 1471.9 354.8 1475.9 344.9 1477.1 334.8 1480.4 324.6 1483.7 314.4 1486 304.1 1487.8 293.9 1489.7 283.7 1493.1 273.4 1494.4 263.2 1499 252.9 1499.2 242.6 1500.9 232.3 1503.9 221.9 1504 211.6 1505.9 201.2 1508.5 190.8 1508.3 180.4 1511.3 170 1518.4 140 1524.2 110 1530.3 80 1535.2 36.7 1630.9 36.7 1654.4 29.9 1678.6 22.5 1701 21.5"/><path d="M1282.7 420.7 1295.2 422.8 1305.6 423.6 1315.5 421.5 1326.3 421.2 1335.6 419.4 1346.8 419.1 1356.8 418 1368.1 417.4 1378.7 417.1 1387.4 415.7 1395.8 414.3 1403.8 409.8 1410.9 406.9 1422.4 403.3 1431.1 399.2 1441.1 394.4 1449.4 388.5 1456.6 381.4 1462.2 373.2 1469 364.3 1472.9 354.8 1476.3 344.9 1477.7 334.8 1483.1 324.6 1483.4 314.4 1485.9 304.1 1489.5 293.9 1491.9 283.7 1493.2 273.4 1496.2 263.2 1498.6 252.9 1500.6 242.6 1502.7 232.3 1504.7 221.9 1505.5 211.6 1506.1 201.2 1510.7 190.8 1510.2 180.4 1511.2 170 1517.8 140 1528.5 110 1527.7 80 1536.3 45.9 1637 45.9 1649.9 36.4 1673.3 23.8 1701 21.5"/><path d="M1283 423.8 1293.8 424.3 1304.9 425 1314.8 419.5 1326.8 420.2 1335.3 422 1347.1 419.1 1356.9 418.7 1368 416.5 1378.2 416.8 1388.9 416.7 1401 411.4 1412.6 409.8 1422.6 406.9 1434.4 403.3 1444.7 399.2 1451.3 394.4 1461.2 388.5 1469.1 381.4 1474.9 373.2 1480.1 364.3 1484.7 354.8 1487.9 344.9 1492.3 334.8 1493.3 324.6 1497 314.4 1498.9 304.1 1502.7 293.9 1503.5 283.7 1506.7 273.4 1508.9 263.2 1510.4 252.9 1512.3 242.6 1515.3 232.3 1516.3 221.9 1517.3 211.6 1519.9 201.2 1522 190.8 1522.7 180.4 1525.5 170 1529.3 140 1537.1 110 1538.1 80 1543.3 32 1626 32 1649.6 29.3 1677.7 25.1 1701 21.5"/><path d="M1282.9 424.8 1295.2 420.3 1304 422.4 1317.3 420.8 1325.7 420.1 1336.6 419.5 1347.8 420.5 1357.8 420.6 1367.6 416.3 1380.6 413 1390.3 410.7 1405.6 410.6 1419.8 409.8 1430.8 406.9 1443.5 403.3 1452.9 399.2 1460.7 394.4 1471.2 388.5 1477.7 381.4 1484.9 373.2 1489.7 364.3 1494.7 354.8 1497.7 344.9 1501 334.8 1503.3 324.6 1505.3 314.4 1508.6 304.1 1510.4 293.9 1512.2 283.7 1514.5 273.4 1518 263.2 1520.9 252.9 1520.8 242.6 1523.4 232.3 1525.9 221.9 1528.1 211.6 1529.4 201.2 1529.5 190.8 1532 180.4 1534.2 170 1532.7 140 1534.9 110 1534.8 80 1535.1 41.9 1628.2 41.9 1655.1 37.4 1668.8 24.2 1701 21.5"/><path d="M1284.1 424.2 1293.3 422.8 1305.6 422.9 1315.8 418.6 1325.8 417.6 1336.4 421.7 1346.9 419.8 1357.5 417.8 1367.5 417.6 1378.1 420.6 1387.6 412.7 1395.4 411.6 1402.5 409.8 1410.3 406.9 1420.4 403.3 1429.3 399.2 1438 394.4 1447.9 388.5 1455.3 381.4 1460.6 373.2 1468.3 364.3 1472.7 354.8 1476.5 344.9 1476.7 334.8 1479.4 324.6 1484.8 314.4 1486.2 304.1 1487.4 293.9 1490.9 283.7 1493.3 273.4 1495.1 263.2 1497.1 252.9 1499.2 242.6 1501.6 232.3 1502 221.9 1504.6 211.6 1506.9 201.2 1508.3 190.8 1508.5 180.4 1510 170 1517 140 1522.5 110 1527.1 80 1534.6 46.6 1626.5 46.6 1642.2 41.1 1681.2 21.7 1701 21.5"/><path d="M1284.2 421.6 1293.5 422.9 1305.3 420.3 1315.9 420.5 1325.5 420.3 1336.7 420.9 1347.9 419.6 1356.8 417.2 1368.1 415.4 1378.1 415.3 1384.5 414.5 1391 414.7 1396.3 409.8 1401.8 406.9 1408.4 403.3 1419.7 399.2 1430.6 394.4 1437.1 388.5 1448 381.4 1452.1 373.2 1456.2 364.3 1463.9 354.8 1466.1 344.9 1468.2 334.8 1470.8 324.6 1474.6 314.4 1476.4 304.1 1478.2 293.9 1481.8 283.7 1482.5 273.4 1484.9 263.2 1487.3 252.9 1489.2 242.6 1492.2 232.3 1493.3 221.9 1494.3 211.6 1496.4 201.2 1496.8 190.8 1500 180.4 1501.5 170 1511.1 140 1516.5 110 1525.4 80 1531.4 41.8 1629.1 41.8 1651.5 32 1672.6 24.1 1701 21.5"/><path d="M1285.6 422.9 1295.3 420.3 1305.6 421.4 1316.2 420 1325.9 418.2 1337 419.3 1346.9 417.9 1358.2 418.4 1368.6 415.8 1378 417.1 1388.7 417.2 1396.5 413.8 1404.8 409.8 1411.9 406.9 1421.7 403.3 1430.4 399.2 1440.2 394.4 1450 388.5 1458.1 381.4 1464.9 373.2 1471.5 364.3 1473.3 354.8 1477.1 344.9 1480.2 334.8 1483.6 324.6 1485.3 314.4 1487.1 304.1 1490.8 293.9 1492.5 283.7 1494.5 273.4 1498.5 263.2 1500.4 252.9 1501.2 242.6 1503.7 232.3 1505 221.9 1506.6 211.6 1508.1 201.2 1510 190.8 1511.1 180.4 1513.5 170 1518 140 1527.4 110 1531 80 1536.4 41.7 1639.7 41.7 1647.6 35.8 1678.4 22.9 1701 21.5"/><path d="M1284.2 425.5 1292.9 423.1 1305.3 420 1315.5 421.1 1325.1 421.5 1338 420.8 1347.5 420.6 1357.3 419.7 1367.2 417.4 1378.8 417.8 1388.9 413.8 1400.3 412.1 1410.8 409.8 1421.9 406.9 1430.8 403.3 1441.7 399.2 1450.5 394.4 1458.7 388.5 1465.6 381.4 1472.7 373.2 1478.7 364.3 1484 354.8 1485.2 344.9 1490.1 334.8 1492.1 324.6 1493.6 314.4 1497.5 304.1 1499.5 293.9 1501.9 283.7 1503.2 273.4 1505.4 263.2 1509.2 252.9 1511.6 242.6 1512.7 232.3 1514 221.9 1515.5 211.6 1516.1 201.2 1519.8 190.8 1520.5 180.4 1523.1 170 1526.7 140 1532.5 110 1537.6 80 1538.6 48.2 1623.1 48.2 1648 39.4 1668.3 24.2 1701 21.5"/><path d="M1283.4 423.8 1295.4 422 1306.7 419.3 1316.9 419.9 1325.6 417.2 1335.8 418.8 1345.5 417.1 1356.9 420 1369 415.8 1377.4 415 1391.8 412.9 1403.1 414.8 1415.6 409.8 1427.4 406.9 1437.4 403.3 1448.1 399.2 1456.4 394.4 1467.5 388.5 1473 381.4 1479.7 373.2 1484.9 364.3 1489.9 354.8 1493.6 344.9 1497.6 334.8 1497.9 324.6 1500.6 314.4 1503.3 304.1 1506.1 293.9 1508.3 283.7 1510.3 273.4 1513.5 263.2 1514.8 252.9 1516.9 242.6 1517.9 232.3 1520 221.9 1522.4 211.6 1524.6 201.2 1527.4 190.8 1527.6 180.4 1528.1 170 1529.9 140 1534.3 110 1532.4 80 1533.5 45.3 1633.9 45.3 1640.3 36.7 1672.9 24.2 1701 21.5"/><path d="M1284.4 422.9 1294.4 423 1304.8 422.7 1316.9 421.6 1325.7 422.9 1337 417.3 1348 419.3 1358.1 416.5 1367.2 416.2 1378.7 414.2 1392.4 415.7 1407.8 412.4 1422.9 409.8 1437.4 406.9 1450.4 403.3 1460 399.2 1466.9 394.4 1477.4 388.5 1485 381.4 1491.7 373.2 1496.1 364.3 1500.1 354.8 1504.4 344.9 1507.4 334.8 1509.6 324.6 1511.8 314.4 1513.9 304.1 1516.4 293.9 1519.3 283.7 1521.3 273.4 1525.4 263.2 1526 252.9 1528.6 242.6 1529.8 232.3 1531.8 221.9 1532.8 211.6 1534.9 201.2 1535.6 190.8 1536.7 180.4 1540.9 170 1542.9 140 1544 110 1547.7 80 1548.1 45.1 1624.2 45.1 1645.8 36.9 1675.8 24.9 1701 21.5"/><path d="M1284.9 422.6 1293.2 422.1 1304.6 423.6 1315.8 423.2 1326.6 417.1 1335.9 420.7 1345.8 419.9 1356.5 418.1 1368.1 416.5 1377.1 414.7 1388.1 411 1399.9 411.6 1410.1 409.8 1421.4 406.9 1429.7 403.3 1441.6 399.2 1447.6 394.4 1457.3 388.5 1465.6 381.4 1471.1 373.2 1477.6 364.3 1480.9 354.8 1486.4 344.9 1488.3 334.8 1492.9 324.6 1493.4 314.4 1496.3 304.1 1498.3 293.9 1499.8 283.7 1502.6 273.4 1504.4 263.2 1506.5 252.9 1509.8 242.6 1511.2 232.3 1514.4 221.9 1516.3 211.6 1515.6 201.2 1517.9 190.8 1519.5 180.4 1519.7 170 1523.7 140 1531.3 110 1533.1 80 1536.7 31 1627.5 31 1653.5 31 1673.6 24 1701 21.5"/><path d="M1282.3 422.2 1294.3 421.8 1304.4 422.2 1315.8 419.7 1324.4 421.5 1336.2 421.3 1347.6 418.9 1356.3 417.7 1367.3 419 1376.9 417.2 1384.8 413.4 1392.1 411.2 1399.9 409.8 1407.6 406.9 1415.6 403.3 1426.3 399.2 1437.3 394.4 1444.7 388.5 1451.4 381.4 1458.7 373.2 1464.4 364.3 1468.6 354.8 1473.3 344.9 1476.1 334.8 1479.2 324.6 1480.6 314.4 1480.5 304.1 1484.8 293.9 1487.8 283.7 1489 273.4 1491.5 263.2 1494.9 252.9 1496.3 242.6 1497.2 232.3 1499.4 221.9 1499.1 211.6 1503.2 201.2 1503.8 190.8 1506.2 180.4 1506.9 170 1520.1 140 1521.9 110 1529.5 80 1537.4 40.5 1624.3 40.5 1652.7 35.8 1674.7 23.7 1701 21.5"/><path d="M1283.4 422.6 1295.5 422.4 1304.8 422.7 1314.6 421.2 1326.6 418.1 1336 420 1347.2 419.3 1358.5 416.1 1368.6 417 1377.5 415.2 1388.8 412.6 1399 412.4 1411.6 409.8 1422.2 406.9 1432.5 403.3 1438.8 399.2 1449.3 394.4 1458.2 388.5 1465.7 381.4 1472.6 373.2 1477.2 364.3 1481.9 354.8 1487.1 344.9 1489.2 334.8 1490.3 324.6 1494.4 314.4 1498.5 304.1 1499.5 293.9 1500.7 283.7 1505.8 273.4 1504.7 263.2 1507.8 252.9 1510.5 242.6 1512 232.3 1514.6 221.9 1515.8 211.6 1517.5 201.2 1518.6 190.8 1520 180.4 1521 170 1524.9 140 1529.2 110 1534.5 80 1537.7 42 1641.9 42 1644.6 34.9 1674.5 24.9 1701 21.5"/><path d="M1284.5 424.2 1295.5 420.4 1305.7 418.7 1315.5 421.6 1326.7 422 1335.7 419.4 1346.8 418 1356.7 417.2 1368.7 419.2 1378.8 418.4 1387.5 412.6 1395.9 412.5 1406 409.8 1414.9 406.9 1422.7 403.3 1433.8 399.2 1442.3 394.4 1451.9 388.5 1459.8 381.4 1466.9 373.2 1470.9 364.3 1475.9 354.8 1479.6 344.9 1481.7 334.8 1484.6 324.6 1487.5 314.4 1488.1 304.1 1491.2 293.9 1495.9 283.7 1496.8 273.4 1498.3 263.2 1499.6 252.9 1502.3 242.6 1505.3 232.3 1507.2 221.9 1508.7 211.6 1510.4 201.2 1511.1 190.8 1514.3 180.4 1513.7 170 1517.1 140 1525.8 110 1528.9 80 1533.3 41.7 1632.9 41.7 1649 36.8 1669.4 23.8 1701 21.5"/><path d="M1285.1 423.7 1292.9 421.7 1305.2 420.6 1315.2 423 1326.7 419.3 1336.2 419.8 1348.2 420.2 1357 417.3 1367.5 415.2 1378.5 415.2 1389.4 413.8 1398.3 413.4 1408.9 409.8 1418.7 406.9 1428.7 403.3 1436.7 399.2 1446.4 394.4 1456.5 388.5 1462.7 381.4 1470 373.2 1475.2 364.3 1481.3 354.8 1482.2 344.9 1485 334.8 1488 324.6 1490.4 314.4 1493.4 304.1 1496.5 293.9 1499.1 283.7 1500.4 273.4 1501.7 263.2 1506 252.9 1506.7 242.6 1509.9 232.3 1510.7 221.9 1513.5 211.6 1514.4 201.2 1514.5 190.8 1517 180.4 1518.9 170 1521.5 140 1526.6 110 1526.9 80 1530.8 42.4 1633.6 42.4 1648.6 36.5 1669.2 24.3 1701 21.5"/><path d="M1283 421.7 1293 420.3 1305 422.2 1314.7 420.8 1325.3 421.4 1336.9 419 1346.5 417.2 1357 421.4 1367.8 418.4 1378.7 418.1 1388.1 412.9 1399.1 413.6 1407.7 409.8 1418.8 406.9 1427.7 403.3 1437.4 399.2 1448.2 394.4 1455.9 388.5 1463.4 381.4 1469.5 373.2 1475.5 364.3 1480.6 354.8 1483.7 344.9 1485.5 334.8 1488.9 324.6 1491 314.4 1493.7 304.1 1495.6 293.9 1496.4 283.7 1499.3 273.4 1502.6 263.2 1503.3 252.9 1505.9 242.6 1510.6 232.3 1511.3 221.9 1512.1 211.6 1514.3 201.2 1513.9 190.8 1517.3 180.4 1519.5 170 1524 140 1524.5 110 1527 80 1530 36.5 1629.4 36.5 1660.1 31.1 1671.4 26.1 1701 21.5"/><path d="M1283 423.8 1294.5 424.2 1303.2 422.9 1315.3 422.6 1325.6 418.2 1337.7 420.7 1345.8 418.9 1357.7 418.7 1368.4 417.9 1379.2 415.5 1390.4 415.3 1401.2 412.4 1413.5 409.8 1424.9 406.9 1435.4 403.3 1445 399.2 1454 394.4 1461.7 388.5 1470.7 381.4 1476.5 373.2 1482.5 364.3 1488.2 354.8 1488.8 344.9 1494.1 334.8 1494.1 324.6 1499.1 314.4 1500.6 304.1 1502.3 293.9 1505.2 283.7 1507.9 273.4 1509.6 263.2 1512.5 252.9 1515.2 242.6 1513.9 232.3 1517.3 221.9 1519.7 211.6 1521.4 201.2 1521.6 190.8 1525.5 180.4 1526.7 170 1528.8 140 1532.7 110 1538.6 80 1539.2 35.3 1645.9 35.3 1643 29.6 1670.6 23.1 1701 21.5"/><path d="M1283.6 421.7 1294.3 421 1305 422.4 1315 420.8 1325.8 421.7 1335.9 420.9 1347.9 418.7 1356.6 417.7 1366.4 416.4 1377.3 415.6 1384.4 415 1390.3 412.8 1395.7 409.8 1401.5 406.9 1408.6 403.3 1419.7 399.2 1430.8 394.4 1439.3 388.5 1445.1 381.4 1453.1 373.2 1457 364.3 1463.4 354.8 1466.1 344.9 1468.7 334.8 1470.9 324.6 1473.8 314.4 1476.4 304.1 1478 293.9 1481.1 283.7 1483.7 273.4 1486.2 263.2 1488 252.9 1490 242.6 1493.8 232.3 1494.5 221.9 1495.6 211.6 1495.9 201.2 1499.1 190.8 1500.6 180.4 1499.5 170 1507.3 140 1513.9 110 1519.9 80 1525.3 44.9 1637.7 44.9 1646.3 36.7 1671 26.1 1701 21.5"/><path d="M1283.6 424 1294.7 422 1304.8 419 1315.4 422.4 1326 418.7 1337 419.6 1345.7 417.8 1357.7 417 1367.2 418.8 1377.8 414 1382.8 412.5 1387.6 411.2 1390.6 409.8 1396.2 406.9 1403.3 403.3 1410.8 399.2 1424.1 394.4 1433.1 388.5 1439.4 381.4 1446.8 373.2 1453 364.3 1456.2 354.8 1460.9 344.9 1462.7 334.8 1466 324.6 1467.2 314.4 1470.8 304.1 1473.9 293.9 1476 283.7 1477.6 273.4 1479.5 263.2 1482.2 252.9 1484.5 242.6 1485 232.3 1488.1 221.9 1488.7 211.6 1491.8 201.2 1492.6 190.8 1494.2 180.4 1496.8 170 1504.7 140 1512.2 110 1521.2 80 1526.8 50 1634.8 50 1648.5 40.6 1668 24.7 1701 21.5"/><path d="M1284.1 421.5 1295.1 421.4 1305.5 421.9 1316.4 419.6 1326.5 421.1 1335.7 420.8 1348.7 419.6 1356.8 418 1368.9 417.5 1379.4 414.9 1390.9 411.9 1401.5 411.8 1413 409.8 1425.9 406.9 1434.8 403.3 1445.2 399.2 1455.4 394.4 1463.2 388.5 1469.9 381.4 1476.3 373.2 1480.8 364.3 1487.2 354.8 1491.1 344.9 1494.1 334.8 1495.8 324.6 1499.9 314.4 1501.1 304.1 1501 293.9 1504.5 283.7 1508.2 273.4 1509.6 263.2 1512.8 252.9 1516.2 242.6 1515.4 232.3 1519.6 221.9 1519.4 211.6 1520 201.2 1522.8 190.8 1524.9 180.4 1525.3 170 1532.8 140 1541.1 110 1545.9 80 1551.4 38.6 1624.1 38.6 1651.9 32.8 1678.8 25.4 1701 21.5"/><path d="M1284 422.9 1293.3 420.7 1305.3 422.5 1315.9 420.3 1326.6 419.9 1335.9 420 1348.5 419.7 1355.6 418.4 1367.3 414.3 1378.4 416.3 1393.7 412.3 1411.3 413.3 1428.1 409.8 1444.6 406.9 1455.7 403.3 1465.6 399.2 1474.4 394.4 1482 388.5 1490.3 381.4 1498.2 373.2 1503.3 364.3 1507.2 354.8 1509.7 344.9 1513.5 334.8 1514.3 324.6 1517.8 314.4 1519.4 304.1 1523.3 293.9 1525.4 283.7 1528.6 273.4 1529.8 263.2 1532.6 252.9 1533.1 242.6 1537.1 232.3 1538.6 221.9 1540.8 211.6 1542 201.2 1542.5 190.8 1545.1 180.4 1545.7 170 1549.2 140 1553.8 110 1556.6 80 1560.5 40.3 1631.1 40.3 1648.8 31.1 1666.5 25.5 1701 21.5"/><path d="M1283.1 422 1294.3 423.6 1305.4 419.1 1316.6 420.6 1325.1 420.4 1336.1 417.7 1348.1 418.2 1356.9 419 1369.2 417.9 1377.5 416.5 1389.1 414.8 1398.5 411.5 1407.7 409.8 1416 406.9 1426.5 403.3 1435.8 399.2 1446.2 394.4 1456.1 388.5 1460.8 381.4 1468.1 373.2 1474 364.3 1479.1 354.8 1483.6 344.9 1484.8 334.8 1487.3 324.6 1491.4 314.4 1493.1 304.1 1495.6 293.9 1498.2 283.7 1499.3 273.4 1502.4 263.2 1503.9 252.9 1505.9 242.6 1508.4 232.3 1510.4 221.9 1510.8 211.6 1512.8 201.2 1515.5 190.8 1516.7 180.4 1518.6 170 1523.7 140 1526.8 110 1524.9 80 1531.9 39 1634.1 39 1652 31.5 1678.3 23.7 1701 21.5"/><path d="M1284.2 424 1295.2 421.9 1304.7 420.8 1315.5 420 1325.5 419.1 1335.2 418.6 1347.3 419.9 1357.6 416.2 1366.8 419.8 1379.9 417.1 1385.3 412.1 1392.2 411.5 1399.9 409.8 1405.7 406.9 1413.6 403.3 1423.2 399.2 1434.9 394.4 1443.8 388.5 1451.5 381.4 1457.3 373.2 1463.5 364.3 1466.3 354.8 1470.8 344.9 1472.9 334.8 1476.1 324.6 1478.3 314.4 1480.4 304.1 1484 293.9 1485.8 283.7 1489.2 273.4 1490.6 263.2 1492.5 252.9 1494 242.6 1496.1 232.3 1498.8 221.9 1500.2 211.6 1503.2 201.2 1503.7 190.8 1504.4 180.4 1505.5 170 1514.8 140 1514.7 110 1524.5 80 1530.3 48.5 1640.8 48.5 1647.8 35.4 1673.9 24.2 1701 21.5"/><path d="M1284.6 425.1 1294.8 422.6 1305.6 420.4 1313.4 422.3 1326.1 419.4 1336.2 418.4 1346.2 419.3 1357.5 419.5 1367.8 418.1 1378.8 414.8 1385.9 413.2 1395.8 411.4 1406.4 409.8 1412.6 406.9 1422.8 403.3 1431.5 399.2 1442.5 394.4 1449.6 388.5 1459.1 381.4 1465 373.2 1470.1 364.3 1473.9 354.8 1479.7 344.9 1480.7 334.8 1484.8 324.6 1484.2 314.4 1487.6 304.1 1492.3 293.9 1494.7 283.7 1495.6 273.4 1498.7 263.2 1500.6 252.9 1501.9 242.6 1504.2 232.3 1504.9 221.9 1506.5 211.6 1509.2 201.2 1511.3 190.8 1512.4 180.4 1512.8 170 1521.5 140 1526.3 110 1532.7 80 1538.2 43.5 1635.4 43.5 1640.9 38 1667.6 25 1701 21.5"/><path d="M1284.1 422.5 1294.2 425.2 1305.4 421.9 1315.7 421.6 1326.1 420 1337.5 419.1 1346.4 417.7 1357.3 417.6 1367.6 417.1 1378.2 416.8 1389.5 413.3 1401.2 411.1 1413.1 409.8 1423.3 406.9 1433.5 403.3 1445.4 399.2 1451.4 394.4 1460.9 388.5 1469.8 381.4 1475.8 373.2 1482.3 364.3 1484 354.8 1489.6 344.9 1493.7 334.8 1495.4 324.6 1496.9 314.4 1500.8 304.1 1502 293.9 1505.8 283.7 1506.2 273.4 1509.2 263.2 1511.4 252.9 1513.5 242.6 1516.8 232.3 1518.1 221.9 1519.5 211.6 1520.8 201.2 1521.9 190.8 1523.3 180.4 1525.5 170 1527.5 140 1528.1 110 1530.8 80 1533.4 48.2 1635 48.2 1648 38.9 1664.9 23.9 1701 21.5"/><path d="M1283.2 424 1295.8 423 1305.8 422.9 1315.4 422 1327 419.8 1336.3 417.7 1345.4 417.8 1358.1 418.8 1368 419.1 1376.8 418 1384.2 415.4 1390.1 411 1393.1 409.8 1398.9 406.9 1406.5 403.3 1415.8 399.2 1427 394.4 1435.2 388.5 1443.6 381.4 1449.8 373.2 1457 364.3 1459.3 354.8 1464.1 344.9 1466.4 334.8 1470.1 324.6 1470.6 314.4 1473.4 304.1 1477.5 293.9 1477.9 283.7 1480.5 273.4 1482.8 263.2 1484.6 252.9 1488.3 242.6 1490.5 232.3 1490.9 221.9 1492.1 211.6 1493.2 201.2 1496.4 190.8 1497 180.4 1499.4 170 1517.3 140 1531.2 110 1540.4 80 1556 41 1630.1 41 1648 34.2 1670.6 23.6 1701 21.5"/><path d="M1284.4 426.9 1294.4 420.2 1306.2 421.5 1315.2 422.1 1325.6 421.3 1336.4 421.2 1346.3 418.1 1357.3 415.7 1367.9 413.2 1377.5 412.7 1388.7 415.9 1400.9 409.7 1409.7 409.8 1420.8 406.9 1432.1 403.3 1441.2 399.2 1449.6 394.4 1457.8 388.5 1467.7 381.4 1472.6 373.2 1477.9 364.3 1484.5 354.8 1486.8 344.9 1488.9 334.8 1492.2 324.6 1494.1 314.4 1497.1 304.1 1499.9 293.9 1500.3 283.7 1505 273.4 1505.9 263.2 1508.8 252.9 1511.1 242.6 1512.3 232.3 1514.1 221.9 1515.5 211.6 1517.8 201.2 1519.3 190.8 1521.1 180.4 1521.8 170 1523.7 140 1527.8 110 1530.7 80 1532.1 46.6 1621.6 46.6 1645.1 36.5 1672 23.3 1701 21.5"/><path d="M1282.5 423 1294.1 421.9 1304.7 421.3 1315.5 421.3 1325.5 420.3 1336.4 420.5 1347.3 418.5 1356.7 415.8 1366.8 417.8 1377.5 418.3 1394.2 413.7 1411.2 411.4 1427.8 409.8 1445 406.9 1456.1 403.3 1467 399.2 1474.3 394.4 1482.3 388.5 1491.6 381.4 1497.6 373.2 1503.8 364.3 1506.8 354.8 1509.9 344.9 1512.7 334.8 1514.9 324.6 1517.1 314.4 1522.3 304.1 1523 293.9 1525.9 283.7 1527.7 273.4 1530.3 263.2 1533.9 252.9 1533.3 242.6 1535.7 232.3 1538.4 221.9 1539.3 211.6 1542.2 201.2 1544.2 190.8 1545.4 180.4 1546.8 170 1542.9 140 1540 110 1539 80 1537.6 48 1626.3 48 1642.2 40 1676.6 23.2 1701 21.5"/><path d="M1282.7 422.7 1294.3 424.7 1305.2 422.6 1314.8 421.5 1326.8 421.8 1335.3 420.5 1347.3 419.7 1358.7 418.2 1369.5 416.3 1378.5 415.2 1385 414.5 1390.4 411 1396.6 409.8 1402.4 406.9 1410.2 403.3 1421.4 399.2 1430.3 394.4 1437.6 388.5 1447.5 381.4 1454.7 373.2 1458.1 364.3 1463.2 354.8 1465.9 344.9 1468.4 334.8 1472 324.6 1472.9 314.4 1475.7 304.1 1480.1 293.9 1483.3 283.7 1484.1 273.4 1485.6 263.2 1489 252.9 1490.1 242.6 1491.7 232.3 1495 221.9 1496.6 211.6 1497.5 201.2 1499.9 190.8 1499.8 180.4 1502.8 170 1507.9 140 1518.8 110 1522 80 1528.7 37.6 1633.3 37.6 1644.3 29.9 1671.2 21.3 1701 21.5"/><path d="M1284.7 423.3 1294.6 425.2 1305.5 424.1 1315.7 422.4 1326.4 420.3 1335.9 419.2 1346.9 418.5 1357.1 417.2 1368.5 416.8 1378.2 415.6 1388.7 413.5 1398 410.9 1407.2 409.8 1415.4 406.9 1424 403.3 1434.4 399.2 1444.6 394.4 1451.6 388.5 1459.9 381.4 1466.9 373.2 1472.1 364.3 1476.5 354.8 1480.2 344.9 1483.2 334.8 1486.1 324.6 1489.1 314.4 1490.1 304.1 1495 293.9 1494.8 283.7 1498.8 273.4 1499.6 263.2 1500.8 252.9 1503.6 242.6 1505.6 232.3 1508.5 221.9 1507.7 211.6 1510.4 201.2 1512.4 190.8 1514.6 180.4 1515.9 170 1522.4 140 1530.3 110 1536.8 80 1538.8 42.2 1630.7 42.2 1642.9 34.9 1680.4 24.4 1701 21.5"/><path d="M1282.7 425.1 1294.2 426.5 1305.4 421.4 1315 422.7 1325.3 420.2 1336.3 420.4 1348.3 420 1357.4 420 1368.3 418.9 1379.3 413.4 1390.9 417.7 1402 412.7 1416.2 409.8 1428 406.9 1437.8 403.3 1448.8 399.2 1456.6 394.4 1465.1 388.5 1472.8 381.4 1479.7 373.2 1484.7 364.3 1488.7 354.8 1493.9 344.9 1496.3 334.8 1498.2 324.6 1501.3 314.4 1504 304.1 1505.9 293.9 1507 283.7 1510.2 273.4 1511.5 263.2 1515.2 252.9 1518 242.6 1519.7 232.3 1520.8 221.9 1521.9 211.6 1523.7 201.2 1525.8 190.8 1526.6 180.4 1527.6 170 1532.9 140 1532.9 110 1536.2 80 1538 44.3 1636 44.3 1652 37.4 1666.6 25 1701 21.5"/><path d="M1284.6 421.3 1294 422.2 1305 422.4 1316.1 422.1 1325.7 422.3 1336.7 418.7 1348.1 417.3 1357.8 420.1 1367.9 417.7 1378.4 416.9 1385.4 414.3 1392.1 409.4 1397.9 409.8 1403.6 406.9 1413.8 403.3 1422.2 399.2 1431.9 394.4 1441.6 388.5 1448.5 381.4 1454.4 373.2 1460.7 364.3 1465.8 354.8 1469.9 344.9 1472.5 334.8 1474.4 324.6 1476.5 314.4 1479.2 304.1 1482.3 293.9 1483.6 283.7 1487 273.4 1487.8 263.2 1490.7 252.9 1493.3 242.6 1495.1 232.3 1496.5 221.9 1497.6 211.6 1498.2 201.2 1500.9 190.8 1502.1 180.4 1504 170 1517.7 140 1526.8 110 1535.6 80 1545.6 39.2 1628.8 39.2 1641 34.6 1667.4 23.6 1701 21.5"/><path d="M1283.5 423.5 1295 425.8 1306.2 419.2 1315 419.4 1326.2 420.9 1338.1 418.4 1347.3 418.9 1355.8 419.9 1367.8 414.7 1378.9 415 1391.1 413 1403.8 412.1 1417.9 409.8 1428.5 406.9 1440.9 403.3 1449.5 399.2 1458.6 394.4 1467.2 388.5 1473.3 381.4 1480.9 373.2 1485.7 364.3 1491.7 354.8 1495.6 344.9 1498.2 334.8 1498.8 324.6 1501.5 314.4 1504.3 304.1 1507.4 293.9 1509.8 283.7 1512 273.4 1514.2 263.2 1516.5 252.9 1519.3 242.6 1520 232.3 1521 221.9 1525.1 211.6 1524.1 201.2 1527 190.8 1529.2 180.4 1530.6 170 1535.6 140 1534 110 1537 80 1539.5 53.2 1642.4 53.2 1648.3 41.6 1678.9 24.2 1701 21.5"/><path d="M1283.4 422.7 1293.3 421.3 1305 422.5 1314.7 421 1325.2 420.9 1336.6 420.4 1346.7 416.9 1356.9 416.2 1367.3 417.1 1379.1 414.9 1390.3 414.5 1402.4 415.2 1415.7 409.8 1430.5 406.9 1441.3 403.3 1451 399.2 1458.7 394.4 1468.1 388.5 1474.9 381.4 1482.5 373.2 1486.8 364.3 1491.2 354.8 1495.6 344.9 1497.7 334.8 1501.1 324.6 1502.4 314.4 1505.7 304.1 1507 293.9 1510.1 283.7 1514.2 273.4 1514 263.2 1516.1 252.9 1517.8 242.6 1520.8 232.3 1524 221.9 1524.1 211.6 1526.8 201.2 1527.5 190.8 1528.7 180.4 1532.3 170 1534.9 140 1540.3 110 1544 80 1545.7 33.9 1626.5 33.9 1651.2 31.1 1670.6 25 1701 21.5"/><path d="M1284.6 422 1295.3 424 1305.3 423.5 1314.8 423.9 1325.4 420.1 1336.4 421.6 1347.3 419.8 1356.8 419.9 1368.8 415.5 1378 417.2 1384.4 412.1 1387.5 412.7 1392.2 409.8 1397 406.9 1403.8 403.3 1413.4 399.2 1425.4 394.4 1434.1 388.5 1440.6 381.4 1448.8 373.2 1454 364.3 1458.1 354.8 1461.7 344.9 1465.1 334.8 1467.1 324.6 1469.3 314.4 1471.7 304.1 1475.2 293.9 1477.7 283.7 1476.6 273.4 1480.5 263.2 1481.4 252.9 1484.8 242.6 1486.9 232.3 1488.2 221.9 1491.1 211.6 1492.5 201.2 1494.2 190.8 1494.3 180.4 1496.8 170 1504 140 1514.9 110 1528.1 80 1529.6 35.7 1623.3 35.7 1651.9 31 1677.7 24.6 1701 21.5"/><path d="M1284.3 423.8 1294.6 423.9 1305.1 423.9 1315.5 422.3 1325.5 420.9 1336.8 420 1348.1 419.1 1358.2 418.7 1368.7 415.8 1378 417.3 1387.1 414.8 1397.4 412.5 1406.5 409.8 1415.6 406.9 1424.5 403.3 1434.7 399.2 1443.6 394.4 1452.3 388.5 1459.2 381.4 1466.9 373.2 1471.2 364.3 1477 354.8 1480.7 344.9 1482.4 334.8 1485.8 324.6 1488.5 314.4 1490.4 304.1 1492.3 293.9 1495.3 283.7 1498 273.4 1500.8 263.2 1503.8 252.9 1502.8 242.6 1506.4 232.3 1508.3 221.9 1509.1 211.6 1511.5 201.2 1514.5 190.8 1514.4 180.4 1517 170 1520.9 140 1532.1 110 1538.7 80 1541.3 40.8 1615.9 40.8 1643.9 33.5 1672.8 24.1 1701 21.5"/><path d="M1283.5 424.1 1294.3 423.5 1304.9 422.3 1316 424.7 1325.9 419.4 1337.2 421 1345.6 420.2 1356.9 418.4 1368.8 419.1 1377.8 416.6 1391.6 410.9 1406.2 409.8 1419.9 409.8 1434.8 406.9 1444.9 403.3 1455 399.2 1462.5 394.4 1471.4 388.5 1480.4 381.4 1487.2 373.2 1490.6 364.3 1497.4 354.8 1500.1 344.9 1502.5 334.8 1504.5 324.6 1508.2 314.4 1509.8 304.1 1512 293.9 1515.1 283.7 1517.8 273.4 1518.5 263.2 1522.3 252.9 1523.9 242.6 1526.5 232.3 1528.4 221.9 1529.4 211.6 1530.2 201.2 1533.4 190.8 1534.5 180.4 1534.9 170 1538.4 140 1539.2 110 1543.4 80 1542.1 42.4 1619.9 42.4 1643.9 36.8 1671.1 23.7 1701 21.5"/><path d="M1284.4 422.6 1294.5 423.1 1305.3 423.1 1315.1 417.8 1325.6 420 1336.1 420.4 1346.7 421 1356.9 418.2 1367.6 420.3 1377.5 414.4 1392.8 415.4 1408.7 412 1423 409.8 1437.7 406.9 1450.9 403.3 1460.6 399.2 1470 394.4 1477.6 388.5 1485.3 381.4 1492.4 373.2 1496.5 364.3 1500.6 354.8 1504.8 344.9 1509.1 334.8 1511.2 324.6 1512.4 314.4 1514.3 304.1 1518.3 293.9 1520.8 283.7 1521.5 273.4 1525.9 263.2 1526.3 252.9 1529.5 242.6 1530.6 232.3 1532.3 221.9 1533.8 211.6 1536.4 201.2 1537.9 190.8 1539.6 180.4 1540.3 170 1544.3 140 1542.7 110 1542.6 80 1545.3 53.7 1638.4 53.7 1648.3 40.6 1675.3 24.3 1701 21.5"/><path d="M1285.6 424 1293.7 421.4 1305.5 423.3 1315.7 424.9 1325.3 421.1 1336.3 417.1 1347.4 419.3 1357.6 418.4 1368.2 417 1377 416.4 1388.9 413.5 1398.3 412.5 1410.6 409.8 1422.1 406.9 1430.6 403.3 1440.9 399.2 1449.9 394.4 1458.1 388.5 1465.6 381.4 1472.2 373.2 1478.4 364.3 1483.4 354.8 1486.7 344.9 1487.5 334.8 1491 324.6 1494.7 314.4 1496.3 304.1 1499.6 293.9 1501.4 283.7 1503.7 273.4 1506.3 263.2 1509.1 252.9 1509.7 242.6 1511.3 232.3 1512.6 221.9 1515.6 211.6 1518.1 201.2 1518.8 190.8 1519.9 180.4 1521.9 170 1529.2 140 1532 110 1535.1 80 1539.3 45.2 1630.7 45.2 1650 38.3 1676.6 24.2 1701 21.5"/><path d="M1284.1 423.9 1292.8 420.4 1304 422.1 1315 418.3 1326.6 420.2 1337.2 422.8 1345.6 417.1 1358.2 420.3 1368.1 417.7 1378.8 416.9 1387.6 415.4 1399.6 411.6 1408.3 409.8 1418.7 406.9 1428.5 403.3 1439 399.2 1448.6 394.4 1456.6 388.5 1464.1 381.4 1469.5 373.2 1476.1 364.3 1480.1 354.8 1484 344.9 1487.5 334.8 1489.8 324.6 1495 314.4 1493.9 304.1 1496.5 293.9 1498.4 283.7 1501.4 273.4 1503.8 263.2 1507 252.9 1506.7 242.6 1510.8 232.3 1512.4 221.9 1513.1 211.6 1514.6 201.2 1516.9 190.8 1518.7 180.4 1519.7 170 1521.2 140 1525.8 110 1528.9 80 1530.1 43.1 1628.4 43.1 1648 32.8 1671.6 24.3 1701 21.5"/><path d="M1284.7 422.1 1294.2 420.1 1304.7 423.5 1315.5 419 1324.7 419.4 1335 419.2 1346.4 420 1356.1 414.8 1368 420.3 1378.8 414.7 1386.9 414.5 1393 412 1400.7 409.8 1409.8 406.9 1417.1 403.3 1426.5 399.2 1437.3 394.4 1446.5 388.5 1454.2 381.4 1457.9 373.2 1465 364.3 1469.4 354.8 1473.9 344.9 1475.8 334.8 1479.3 324.6 1480.5 314.4 1482.1 304.1 1484.9 293.9 1487.5 283.7 1490.4 273.4 1492.5 263.2 1495.3 252.9 1497.8 242.6 1500.2 232.3 1500.2 221.9 1502.2 211.6 1505.7 201.2 1504.3 190.8 1507.1 180.4 1507.7 170 1515.3 140 1524.3 110 1536.7 80 1540.3 50.8 1623.7 50.8 1652.7 41.7 1676.8 23 1701 21.5"/><path d="M1282.4 425.5 1295.5 424 1304.9 421.5 1315.1 421.3 1326.3 420.5 1335.8 418.4 1348.2 421.5 1356.4 417.3 1367.8 418 1378.2 416.2 1398.2 415.9 1418.2 413.8 1440.8 409.8 1461.8 406.9 1473.9 403.3 1484.6 399.2 1490.9 394.4 1500.3 388.5 1508 381.4 1514.6 373.2 1518.6 364.3 1525 354.8 1527.6 344.9 1531.1 334.8 1532.8 324.6 1534.8 314.4 1539.8 304.1 1540.6 293.9 1543 283.7 1544.4 273.4 1546.9 263.2 1550.2 252.9 1551.7 242.6 1554.6 232.3 1555.9 221.9 1555.9 211.6 1557.1 201.2 1560.8 190.8 1561.9 180.4 1562.7 170 1559.8 140 1552.3 110 1545.8 80 1544.2 40.3 1634.2 40.3 1650.1 33.5 1670.4 24 1701 21.5"/><path d="M1284.4 422.9 1295 420.7 1304.6 422.5 1315.2 419.5 1326.1 419.8 1336.8 418.4 1347.6 419.5 1358 414.7 1367.5 415.8 1378.3 417.7 1383.1 413.8 1386.8 410.2 1390.1 409.8 1392.6 406.9 1401.9 403.3 1410.3 399.2 1421.5 394.4 1431.3 388.5 1438.4 381.4 1443.9 373.2 1449.6 364.3 1454.8 354.8 1459 344.9 1460.8 334.8 1462.7 324.6 1465.4 314.4 1468.3 304.1 1470.1 293.9 1472.4 283.7 1476.8 273.4 1477.8 263.2 1480.7 252.9 1479.8 242.6 1485 232.3 1485.2 221.9 1486.7 211.6 1489.1 201.2 1490.3 190.8 1491.3 180.4 1493.4 170 1502 140 1511.9 110 1519.3 80 1526.9 36.8 1630.8 36.8 1656.6 34.6 1678.1 25.3 1701 21.5"/><path d="M1282.7 422 1293.8 424.2 1303.6 419.8 1315.7 418.9 1324.3 419.6 1335.5 418.4 1346.8 419.7 1356.8 417.8 1368.4 417 1378.8 415.1 1387.1 416.1 1393.7 416.5 1402.5 409.8 1410.5 406.9 1419.7 403.3 1429.8 399.2 1438.5 394.4 1448.2 388.5 1455.3 381.4 1463.5 373.2 1466.6 364.3 1472.9 354.8 1475.7 344.9 1478.2 334.8 1481.3 324.6 1483.5 314.4 1486.1 304.1 1488.6 293.9 1491.7 283.7 1492.8 273.4 1496.8 263.2 1495.6 252.9 1501.2 242.6 1502.5 232.3 1504.6 221.9 1505.2 211.6 1506.9 201.2 1507.5 190.8 1510.8 180.4 1510.4 170 1518.7 140 1525.5 110 1529.9 80 1536.9 43.1 1625.8 43.1 1654.8 36 1675 24.4 1701 21.5"/><path d="M1283.6 425.1 1295.7 423.2 1306.8 425.1 1314.4 420.7 1327.1 424.1 1337.3 419.6 1346.7 419.5 1357.7 416.2 1369.4 417.5 1377.6 416 1387.7 412.8 1396.9 415.2 1407.1 409.8 1414 406.9 1422.7 403.3 1433.9 399.2 1443.4 394.4 1453.5 388.5 1461.3 381.4 1468 373.2 1472.2 364.3 1476.6 354.8 1480.1 344.9 1483.4 334.8 1486.1 324.6 1488.6 314.4 1491.4 304.1 1493.4 293.9 1495.7 283.7 1498 273.4 1497.7 263.2 1502 252.9 1503.1 242.6 1506.8 232.3 1509.7 221.9 1508.7 211.6 1512.5 201.2 1513.1 190.8 1515.2 180.4 1515.5 170 1521.9 140 1523.8 110 1521.8 80 1528.6 42.6 1624.3 42.6 1640.2 33.2 1673 22.1 1701 21.5"/><path d="M1284.9 422.6 1294.3 422.5 1304.6 423.3 1316.3 421.2 1326.4 421.2 1337.8 417.6 1347.7 420.3 1357.1 418.2 1367.5 418.9 1377.3 416.8 1385.9 415.1 1390.4 411.6 1394.9 409.8 1401.6 406.9 1411.6 403.3 1419.7 399.2 1429.7 394.4 1439.5 388.5 1446.2 381.4 1454.3 373.2 1458.8 364.3 1464.7 354.8 1467.4 344.9 1469.2 334.8 1472.1 324.6 1474.7 314.4 1476.9 304.1 1480.9 293.9 1481.5 283.7 1485 273.4 1486.5 263.2 1489.7 252.9 1490.1 242.6 1492 232.3 1495.3 221.9 1497.7 211.6 1497.1 201.2 1499.6 190.8 1500.9 180.4 1502.1 170 1510.4 140 1520.8 110 1531.6 80 1536.5 43.3 1623.4 43.3 1643.4 34.1 1672.6 23.5 1701 21.5"/><path d="M1283.4 422.3 1293.6 423.1 1305 423.6 1315.9 421.3 1326.5 422.3 1336.4 419.4 1347.6 419.2 1358 420.9 1369.5 417 1377.5 419.1 1392.6 414.8 1404.5 413.5 1417.3 409.8 1432.1 406.9 1442.1 403.3 1451.8 399.2 1460.4 394.4 1468.5 388.5 1476.4 381.4 1483.7 373.2 1488.5 364.3 1493.9 354.8 1496.3 344.9 1500.1 334.8 1500.9 324.6 1505.5 314.4 1506.5 304.1 1508.9 293.9 1512.1 283.7 1514.1 273.4 1516.7 263.2 1518.4 252.9 1521.3 242.6 1522.5 232.3 1524.2 221.9 1525 211.6 1527.6 201.2 1529.8 190.8 1531.7 180.4 1532.5 170 1541.6 140 1543.9 110 1550.1 80 1553.7 48 1630.8 48 1651.5 38.6 1674.6 25 1701 21.5"/><path d="M1284 422.4 1295.9 424 1304.7 422.6 1316 423.4 1326.7 420.2 1336.2 418.2 1347.1 420.3 1357.1 419.2 1367.9 416.5 1377.3 417.5 1390.1 415 1396.9 410.8 1407.5 409.8 1417.3 406.9 1427.7 403.3 1434.3 399.2 1447.1 394.4 1454.5 388.5 1462.1 381.4 1468.9 373.2 1473.9 364.3 1478.4 354.8 1483 344.9 1483.6 334.8 1487.3 324.6 1490.3 314.4 1491 304.1 1494.5 293.9 1498.2 283.7 1499.7 273.4 1502.2 263.2 1504.4 252.9 1506.1 242.6 1508.1 232.3 1508.9 221.9 1511.1 211.6 1514.4 201.2 1513.5 190.8 1515.8 180.4 1516.6 170 1520.2 140 1527 110 1529.8 80 1534.9 39.4 1631.6 39.4 1633.6 36.8 1671.3 22 1701 21.5"/><path d="M1284.3 420.4 1294.5 422 1303.2 422 1314.8 422.7 1326.3 419 1337.8 421.3 1346.4 419.4 1356.1 416.6 1367.7 419.7 1377.8 411.9 1387.2 415.8 1399.2 411 1407.6 409.8 1418.1 406.9 1427.9 403.3 1437.1 399.2 1445.9 394.4 1456.8 388.5 1461.2 381.4 1469.6 373.2 1475.8 364.3 1478.5 354.8 1482.8 344.9 1486 334.8 1488.5 324.6 1491.9 314.4 1492.4 304.1 1496.1 293.9 1497.3 283.7 1499.7 273.4 1502.3 263.2 1503.6 252.9 1507 242.6 1508.7 232.3 1510.2 221.9 1511.7 211.6 1513.3 201.2 1515.6 190.8 1516.5 180.4 1517.7 170 1527.9 140 1532.5 110 1540.9 80 1546.1 44.5 1626 44.5 1643.8 36.2 1661.7 23 1701 21.5"/><path d="M1284.8 424.9 1294.4 421.7 1304.7 422.3 1315.4 420.9 1326.1 420.1 1336.7 418.9 1345.7 418.6 1358.9 417.1 1368.6 419.1 1377.8 416.3 1386 415.1 1398.4 412.5 1404.9 409.8 1415.2 406.9 1424.6 403.3 1434.9 399.2 1444.7 394.4 1452.8 388.5 1460.6 381.4 1466.8 373.2 1473.5 364.3 1477.6 354.8 1481.2 344.9 1483.4 334.8 1486.6 324.6 1488.5 314.4 1491.3 304.1 1493.3 293.9 1495.3 283.7 1497.3 273.4 1499 263.2 1501.7 252.9 1505.1 242.6 1509.1 232.3 1507.1 221.9 1509.5 211.6 1511.7 201.2 1516 190.8 1514.6 180.4 1515.4 170 1516.5 140 1523.3 110 1531.2 80 1532.8 53.1 1620.2 53.1 1644.4 39.8 1675.1 22.6 1701 21.5"/><path d="M1284.2 423.5 1295.8 422.6 1303.7 419.3 1316.8 421.7 1326.4 419.4 1336.7 419.5 1345.4 419 1356.7 417.1 1367.5 415.4 1378 417.5 1391.8 415.2 1401.8 413.1 1415.8 409.8 1427.7 406.9 1437 403.3 1446.7 399.2 1455.6 394.4 1465 388.5 1473.4 381.4 1479.1 373.2 1485.5 364.3 1488.8 354.8 1494.3 344.9 1495.5 334.8 1499.7 324.6 1500.9 314.4 1503.4 304.1 1504.2 293.9 1508 283.7 1509.6 273.4 1511.6 263.2 1513.4 252.9 1515.1 242.6 1519.8 232.3 1520.9 221.9 1522.9 211.6 1525.3 201.2 1525.3 190.8 1528.3 180.4 1528.6 170 1528.9 140 1530.7 110 1533.9 80 1532.6 39.6 1624.7 39.6 1647.4 32.3 1670.5 26 1701 21.5"/><path d="M1286.4 421.4 1294.4 420.4 1304 421.4 1317.4 419.8 1325.5 420.9 1335.6 419.4 1347.6 415.9 1357.1 417.8 1367.4 417 1376.8 415.3 1390.4 412.8 1404.7 415.1 1417.1 409.8 1428.3 406.9 1440.9 403.3 1449.8 399.2 1457.4 394.4 1467.2 388.5 1474 381.4 1481.5 373.2 1487.4 364.3 1492 354.8 1493.7 344.9 1497.3 334.8 1499.8 324.6 1501.4 314.4 1505.1 304.1 1507.6 293.9 1508.3 283.7 1511.4 273.4 1513.2 263.2 1515.3 252.9 1517.5 242.6 1521.3 232.3 1521.5 221.9 1523.4 211.6 1526.1 201.2 1527.7 190.8 1529.5 180.4 1528.3 170 1531.3 140 1534.9 110 1537.9 80 1541.4 34.5 1641.3 34.5 1654.8 30.4 1671.3 23.9 1701 21.5"/><path d="M1284.3 423.1 1294.2 424.7 1307 423.1 1316.7 418.5 1325.1 420.4 1336.1 420.1 1345.6 422.5 1357.9 417.8 1368.7 415.3 1378.1 415.4 1390.1 415.3 1401.6 413.7 1414.9 409.8 1426.6 406.9 1437.6 403.3 1446.2 399.2 1454 394.4 1464.3 388.5 1472.2 381.4 1479.4 373.2 1483.6 364.3 1488.7 354.8 1492.8 344.9 1494.6 334.8 1497.4 324.6 1499.3 314.4 1501.6 304.1 1505 293.9 1507.6 283.7 1509.3 273.4 1511.3 263.2 1513.5 252.9 1515.1 242.6 1517.6 232.3 1519.3 221.9 1522.2 211.6 1522.7 201.2 1524.2 190.8 1525.6 180.4 1527.3 170 1529.9 140 1531.7 110 1534.9 80 1533.5 39.3 1635.8 39.3 1653.4 34.9 1676.6 24.5 1701 21.5"/><path d="M1283.9 424.6 1292.9 417.7 1304.6 421.5 1314.9 419.1 1325.3 419.7 1336.6 419.3 1345.9 418.5 1358.6 416.9 1367.9 418.6 1377.6 415.1 1392.4 416.1 1401.7 412.5 1414.2 409.8 1426 406.9 1436.7 403.3 1445.8 399.2 1453.1 394.4 1462.8 388.5 1471.4 381.4 1476.8 373.2 1483.1 364.3 1489 354.8 1491.6 344.9 1493.6 334.8 1496.7 324.6 1499.9 314.4 1500.1 304.1 1502.9 293.9 1505.7 283.7 1508.2 273.4 1510.8 263.2 1512.7 252.9 1515.2 242.6 1517.1 232.3 1517.8 221.9 1520 211.6 1521.1 201.2 1523.9 190.8 1525.4 180.4 1527.2 170 1528.4 140 1535.4 110 1536.7 80 1542.1 40.4 1630.4 40.4 1650.6 35.9 1674.5 24.2 1701 21.5"/><path d="M1284.7 424.2 1294.2 422.2 1305.3 420 1316.5 418.1 1325.5 418.9 1335.7 417.2 1347.6 418.3 1357.5 418.6 1369.2 418.1 1378.4 414.3 1388.9 412.1 1401.6 410.5 1413.5 409.8 1425.1 406.9 1434.9 403.3 1445.4 399.2 1453.2 394.4 1461.4 388.5 1470.6 381.4 1477.2 373.2 1481.7 364.3 1485 354.8 1490.6 344.9 1492.9 334.8 1494.6 324.6 1497.2 314.4 1499.4 304.1 1501.4 293.9 1505.8 283.7 1505.9 273.4 1510.7 263.2 1510 252.9 1513.7 242.6 1516 232.3 1517.8 221.9 1520.5 211.6 1520.9 201.2 1522.8 190.8 1523.1 180.4 1523.1 170 1528.3 140 1533.3 110 1537.3 80 1537.6 39.8 1630.8 39.8 1646.5 31.1 1664.5 23.8 1701 21.5"/><path d="M1284.6 421.8 1293.5 423.3 1305.2 422.7 1314.4 416.8 1326.8 421.9 1336.2 419.8 1347.3 420.1 1357.2 417.5 1367.1 418.7 1378.3 410.9 1387.6 413.4 1395.2 411.5 1403.9 409.8 1413.2 406.9 1422.4 403.3 1432.9 399.2 1441.5 394.4 1449.6 388.5 1458.2 381.4 1464.2 373.2 1471.4 364.3 1475.1 354.8 1477.4 344.9 1480.9 334.8 1484 324.6 1486.5 314.4 1487.5 304.1 1491.2 293.9 1493.9 283.7 1496.8 273.4 1499.2 263.2 1500.4 252.9 1501.5 242.6 1504.1 232.3 1506.7 221.9 1507.2 211.6 1510.5 201.2 1510.4 190.8 1511.7 180.4 1514.8 170 1518.2 140 1522 110 1524.3 80 1527.8 44.5 1640.8 44.5 1647.3 37.1 1673.9 24.8 1701 21.5"/><path d="M1284.1 424 1295.3 422.1 1306.1 423 1316.1 421.3 1325.8 420.7 1336.7 420.9 1345.9 419.2 1359.1 419 1368.7 416.9 1377.2 416.3 1387.1 415.7 1397.2 413.2 1403.4 409.8 1413.1 406.9 1421.6 403.3 1431.4 399.2 1442.4 394.4 1450.7 388.5 1456.5 381.4 1464 373.2 1467.9 364.3 1474.1 354.8 1476.6 344.9 1480 334.8 1482.4 324.6 1484.7 314.4 1486.6 304.1 1491.1 293.9 1492 283.7 1493.3 273.4 1497.2 263.2 1498.1 252.9 1500.5 242.6 1503.5 232.3 1504.7 221.9 1506.3 211.6 1509.3 201.2 1510.6 190.8 1510.5 180.4 1512.7 170 1523.5 140 1528.7 110 1538 80 1545.8 45.3 1618.6 45.3 1645.4 37.7 1675 24.5 1701 21.5"/><path d="M1285.4 425.2 1295.8 422.5 1303.9 424.6 1315.4 421.4 1325.7 419.1 1336.9 417.8 1345.8 419.8 1357.1 417 1368.2 419.2 1378 415.7 1391.8 415.6 1405.7 413.2 1417.8 409.8 1432 406.9 1442.7 403.3 1451 399.2 1461.8 394.4 1469.9 388.5 1478.2 381.4 1483.7 373.2 1489.9 364.3 1493.7 354.8 1497.4 344.9 1500.8 334.8 1502.6 324.6 1505.5 314.4 1507.4 304.1 1510.7 293.9 1512.6 283.7 1513.2 273.4 1518.1 263.2 1519.4 252.9 1520.6 242.6 1522.4 232.3 1526.3 221.9 1526.4 211.6 1528.4 201.2 1530 190.8 1530.6 180.4 1534 170 1543.7 140 1546.4 110 1555 80 1560.8 39.3 1628.4 39.3 1651.3 33.2 1673.6 24.4 1701 21.5"/><path d="M1284.2 423.7 1294 419.4 1304.9 424.1 1315.6 420.8 1325.9 422.5 1335.5 422.9 1348.1 417.1 1356.8 418.3 1368 416.5 1377 416.1 1388.4 413.1 1397.7 410.5 1409.1 409.8 1417 406.9 1426.9 403.3 1436.4 399.2 1445 394.4 1453.1 388.5 1461.8 381.4 1468.1 373.2 1475 364.3 1479.9 354.8 1483 344.9 1485.3 334.8 1488.8 324.6 1490.1 314.4 1492.9 304.1 1495.1 293.9 1497.3 283.7 1499.9 273.4 1503.3 263.2 1505.2 252.9 1506.6 242.6 1508.9 232.3 1508.9 221.9 1511.5 211.6 1513.8 201.2 1515.1 190.8 1515 180.4 1518.8 170 1522.9 140 1528.3 110 1534.1 80 1534.6 35.7 1618.3 35.7 1656.6 29.1 1670.1 23.6 1701 21.5"/><path d="M1283 425 1294 421.7 1305.8 420.7 1316.6 420.8 1325.9 419.1 1337.3 419.7 1346.5 417.7 1356.9 418.1 1367.3 418.3 1378.2 415 1386.8 416.3 1392.4 412.7 1402.5 409.8 1409.2 406.9 1418.7 403.3 1426.6 399.2 1437.2 394.4 1447.3 388.5 1454.1 381.4 1460.8 373.2 1466.8 364.3 1471.1 354.8 1474.7 344.9 1476.7 334.8 1479.3 324.6 1483 314.4 1484.1 304.1 1485.7 293.9 1488.9 283.7 1492.2 273.4 1495.3 263.2 1496.2 252.9 1497.6 242.6 1500.4 232.3 1502 221.9 1504.3 211.6 1505.5 201.2 1507.2 190.8 1508.6 180.4 1510 170 1520.6 140 1527 110 1533.4 80 1537.4 42.2 1630.6 42.2 1650 34.4 1670.8 25 1701 21.5"/><path d="M1283.4 424.7 1293.8 421.4 1305.2 422.5 1313.7 421.3 1327.5 419.3 1337.1 420.9 1347 419.1 1357.9 419.9 1366.1 416 1379.6 415.3 1388.8 415.4 1398.7 410.2 1406.1 409.8 1415.5 406.9 1423.9 403.3 1433.2 399.2 1444.2 394.4 1451.7 388.5 1460.6 381.4 1466.9 373.2 1473.1 364.3 1477.4 354.8 1482.7 344.9 1483.2 334.8 1485.8 324.6 1488.7 314.4 1491.7 304.1 1490.7 293.9 1495.3 283.7 1498.1 273.4 1500 263.2 1503.1 252.9 1502.2 242.6 1506.2 232.3 1506 221.9 1508.9 211.6 1512.1 201.2 1512.3 190.8 1513.1 180.4 1515.6 170 1528.9 140 1532.6 110 1542.7 80 1552.2 38.4 1623.6 38.4 1654.5 35.2 1666.8 23.8 1701 21.5"/><path d="M1283.5 425 1295.6 422.8 1305.4 422.4 1315.3 423 1325.6 416.9 1336.5 420.4 1347.6 417.5 1358.5 417 1368.4 418.2 1378.4 417.5 1386.7 417.2 1395.8 411.6 1405.8 409.8 1411.9 406.9 1419.9 403.3 1431.9 399.2 1441.9 394.4 1448.9 388.5 1456.4 381.4 1464.5 373.2 1469.3 364.3 1473 354.8 1476.9 344.9 1480 334.8 1483.3 324.6 1486.1 314.4 1486.9 304.1 1490.8 293.9 1490.9 283.7 1495 273.4 1496.7 263.2 1499.3 252.9 1500.7 242.6 1502.3 232.3 1504.9 221.9 1507.2 211.6 1506.3 201.2 1509.6 190.8 1510.8 180.4 1511.8 170 1522.2 140 1530.2 110 1534.4 80 1543.6 45.5 1617.9 45.5 1645.6 35.1 1679 23.6 1701 21.5"/><path d="M1284.8 423.1 1293.9 423.5 1303.8 422.1 1314.4 421.1 1326.2 420.3 1336.4 417.2 1346.7 420.1 1358 417.4 1367.7 417.8 1379.3 416.3 1390 414.9 1403 412.8 1412.3 409.8 1423 406.9 1433.7 403.3 1444.3 399.2 1452.8 394.4 1461.3 388.5 1469 381.4 1476.3 373.2 1481.1 364.3 1484.6 354.8 1490.8 344.9 1492.3 334.8 1494.8 324.6 1496.3 314.4 1499.5 304.1 1501.2 293.9 1505 283.7 1507.2 273.4 1508.5 263.2 1511.7 252.9 1513.2 242.6 1515.4 232.3 1515.9 221.9 1518.9 211.6 1520.2 201.2 1521.6 190.8 1523.8 180.4 1524.1 170 1530.9 140 1539.1 110 1545.6 80 1548.3 42.7 1636.8 42.7 1652.1 32.4 1677.5 25.3 1701 21.5"/><path d="M1284.8 420.6 1293.2 422.9 1306.6 420.7 1314.8 419.5 1325.2 422.2 1337 421.1 1347.2 419.4 1357 416.8 1368.3 420.7 1378 417.7 1390.2 414.3 1404.8 412.1 1416.7 409.8 1428.2 406.9 1440.9 403.3 1448.1 399.2 1458.2 394.4 1466.2 388.5 1474.3 381.4 1480.9 373.2 1487.3 364.3 1491.4 354.8 1495.1 344.9 1497.3 334.8 1498.7 324.6 1503 314.4 1505.6 304.1 1507 293.9 1509.7 283.7 1511.2 273.4 1512.7 263.2 1516.7 252.9 1517.5 242.6 1521.3 232.3 1522.2 221.9 1523.3 211.6 1524.5 201.2 1526.6 190.8 1527.3 180.4 1529.3 170 1539.1 140 1542.1 110 1548.8 80 1552.9 41.6 1621.9 41.6 1645.5 33.8 1666.8 25.8 1701 21.5"/><path d="M1283.9 421.3 1295.1 421.4 1304.6 422.9 1314.9 421.5 1324.7 422.2 1336.3 417.6 1346.2 419.1 1357.6 419.1 1366.7 417.2 1376.8 416.8 1392 411.9 1401.5 409.4 1414.9 409.8 1428.1 406.9 1438.5 403.3 1446.9 399.2 1456.3 394.4 1465.1 388.5 1473.3 381.4 1479.9 373.2 1485 364.3 1490.1 354.8 1492.8 344.9 1495.7 334.8 1497.4 324.6 1501 314.4 1504.1 304.1 1505.7 293.9 1509 283.7 1510.2 273.4 1513.7 263.2 1514.9 252.9 1517.4 242.6 1518.6 232.3 1520 221.9 1523.1 211.6 1523.7 201.2 1525.4 190.8 1528.3 180.4 1529.2 170 1530.6 140 1535.4 110 1536.4 80 1538.2 42.5 1628.6 42.5 1639.9 34.8 1670.5 23.8 1701 21.5"/><path d="M1283.7 423.7 1293.3 421.8 1306.6 422.3 1315.4 422.8 1326.2 422.7 1335.6 420.9 1346.1 420 1359.3 420.4 1367.2 417.8 1378.6 414.9 1391.9 412.7 1406.4 413.5 1419.3 409.8 1433.6 406.9 1446.1 403.3 1453.8 399.2 1460.8 394.4 1471.2 388.5 1478.3 381.4 1484.6 373.2 1491.5 364.3 1496 354.8 1499.2 344.9 1502.8 334.8 1503.5 324.6 1506.2 314.4 1509.2 304.1 1509.1 293.9 1511.5 283.7 1516.2 273.4 1518.1 263.2 1520.5 252.9 1521.8 242.6 1524.6 232.3 1527 221.9 1527.4 211.6 1529.9 201.2 1530.9 190.8 1532.5 180.4 1534.2 170 1540.8 140 1544.7 110 1546 80 1552.9 45.5 1634.3 45.5 1648.6 36.3 1670.1 22.5 1701 21.5"/><path d="M1285.4 425.6 1293.9 420.1 1304.6 423.3 1316.3 420.3 1326.5 420.2 1336.7 420.7 1345.6 420.8 1357.4 420.1 1368 419.1 1380 415.1 1394 414 1410.5 413.5 1424.3 409.8 1439.7 406.9 1452.6 403.3 1459.8 399.2 1470 394.4 1477.3 388.5 1485.6 381.4 1491.5 373.2 1497.4 364.3 1502.4 354.8 1506.1 344.9 1507.6 334.8 1510.3 324.6 1513.5 314.4 1516.3 304.1 1516.9 293.9 1520.5 283.7 1522.3 273.4 1524.5 263.2 1527.4 252.9 1529.1 242.6 1531.3 232.3 1531.5 221.9 1534.8 211.6 1536.6 201.2 1537 190.8 1540.8 180.4 1539.6 170 1541.6 140 1543.1 110 1546.3 80 1545.4 44.2 1614.6 44.2 1651.9 37 1666.7 26.5 1701 21.5"/><path d="M1284.7 423.8 1295.2 424 1304.6 421.7 1316.2 421.9 1325.4 419.4 1335.3 420.2 1346.5 416.8 1357 418.7 1368 416.9 1378.4 416.8 1387.6 413.1 1399.4 413.3 1407.6 409.8 1418.1 406.9 1429.6 403.3 1438.7 399.2 1447.4 394.4 1457 388.5 1465 381.4 1471.5 373.2 1475 364.3 1479.5 354.8 1483.6 344.9 1486.8 334.8 1489 324.6 1491.9 314.4 1495.3 304.1 1497.3 293.9 1499.6 283.7 1501.2 273.4 1504.9 263.2 1506.1 252.9 1508 242.6 1509.6 232.3 1510 221.9 1514.8 211.6 1514.7 201.2 1517 190.8 1519.6 180.4 1519.2 170 1526.9 140 1531.3 110 1540.2 80 1543.6 47.9 1628.1 47.9 1633.5 35.6 1668.2 24.4 1701 21.5"/><path d="M1284.7 426.2 1293.5 422.5 1305 421.4 1315.9 421.5 1324.3 417 1335.9 419.9 1347.4 417.8 1358 419.3 1369.5 417.2 1377.6 416.1 1383.2 412.5 1386.4 412.8 1386.8 409.8 1392.2 406.9 1399.4 403.3 1407.3 399.2 1421.5 394.4 1427.6 388.5 1436.8 381.4 1443.5 373.2 1447.9 364.3 1452.1 354.8 1457.6 344.9 1457.8 334.8 1459.9 324.6 1464.1 314.4 1468.7 304.1 1467.5 293.9 1471.6 283.7 1473.2 273.4 1475.4 263.2 1478.6 252.9 1480.1 242.6 1482.1 232.3 1484.9 221.9 1485.9 211.6 1486.9 201.2 1489 190.8 1490.1 180.4 1491.5 170 1502.1 140 1515.6 110 1522.7 80 1532.8 41.7 1621.7 41.7 1638.7 36 1677.2 23.8 1701 21.5"/><path d="M1284 425.7 1294.3 421.3 1303.5 423.3 1316 420.9 1326.2 420.3 1337.1 419.8 1347.1 418.9 1356.7 415 1368.3 415.4 1378.6 416.8 1391.9 413.2 1403 413.6 1414.7 409.8 1427 406.9 1438.4 403.3 1449.3 399.2 1457.3 394.4 1465.9 388.5 1472.1 381.4 1479.9 373.2 1485.9 364.3 1488.5 354.8 1493 344.9 1495.6 334.8 1498.8 324.6 1499.4 314.4 1503.7 304.1 1505.5 293.9 1507.6 283.7 1508.6 273.4 1510.9 263.2 1514.3 252.9 1517.3 242.6 1518.9 232.3 1521 221.9 1520.8 211.6 1523.9 201.2 1526.3 190.8 1525.6 180.4 1528.8 170 1532.4 140 1532.8 110 1536.4 80 1540.2 45.6 1636.5 45.6 1655.1 36.1 1673.4 24.8 1701 21.5"/><path d="M1284.2 422.2 1295.1 419.2 1304.9 422.5 1314.9 421.5 1326.2 422.4 1335.5 419.5 1345.2 418.3 1357.7 419.5 1368.3 417.2 1377.9 415.3 1387.6 414.7 1397.4 410.1 1403.8 409.8 1413.8 406.9 1424 403.3 1433.6 399.2 1443.1 394.4 1451.6 388.5 1459.3 381.4 1466.6 373.2 1472.1 364.3 1474.2 354.8 1479.9 344.9 1481.8 334.8 1484.7 324.6 1487.9 314.4 1490.5 304.1 1493.2 293.9 1494.1 283.7 1496.7 273.4 1499.7 263.2 1500.3 252.9 1503.5 242.6 1504.9 232.3 1507.2 221.9 1510.1 211.6 1510.4 201.2 1513.9 190.8 1512.9 180.4 1513.9 170 1522.8 140 1530.2 110 1535.7 80 1541.1 43.7 1630.5 43.7 1648.7 33 1676.6 23.4 1701 21.5"/><path d="M1284.8 422.3 1295.8 422.2 1306.2 424.2 1315.2 419.6 1326.4 422.5 1336.8 421.3 1347.4 420.3 1358.4 417.8 1366.7 417 1377.6 414.2 1388 415.3 1396.4 410.1 1408.1 409.8 1416.3 406.9 1426.3 403.3 1437.3 399.2 1446.7 394.4 1454.7 388.5 1462.6 381.4 1466.7 373.2 1474.8 364.3 1479.1 354.8 1481.2 344.9 1485.2 334.8 1487.9 324.6 1490 314.4 1493.1 304.1 1495.4 293.9 1497.2 283.7 1499.3 273.4 1500.9 263.2 1504.9 252.9 1505.6 242.6 1508.2 232.3 1510.9 221.9 1512 211.6 1512.1 201.2 1514.5 190.8 1515.6 180.4 1516.4 170 1523.5 140 1528.1 110 1534.2 80 1538.2 45.8 1620.3 45.8 1647.1 34.9 1675.2 23.7 1701 21.5"/><path d="M1284.3 423.2 1294.3 423.1 1305.5 423.5 1315.6 422.5 1324.9 416.3 1336.4 419.3 1347.6 418.8 1358.5 417.4 1367.9 413.3 1378.4 417.4 1387.4 415.4 1397.2 409.9 1407.7 409.8 1417.5 406.9 1427.9 403.3 1435.9 399.2 1446 394.4 1454.2 388.5 1462.4 381.4 1468.8 373.2 1474.3 364.3 1478.8 354.8 1482.6 344.9 1485 334.8 1487.7 324.6 1490.3 314.4 1492.5 304.1 1495.2 293.9 1496.7 283.7 1500.4 273.4 1501.9 263.2 1505 252.9 1507.3 242.6 1508.2 232.3 1511.4 221.9 1511 211.6 1513.4 201.2 1514.4 190.8 1516.1 180.4 1517.9 170 1523.5 140 1527.1 110 1531.4 80 1533.2 43.3 1619.1 43.3 1639.4 36 1670.1 23.1 1701 21.5"/><path d="M1284.4 423.9 1296.2 422.6 1305.6 420.7 1316 419.5 1327.5 419.1 1336.1 420.8 1345.2 420.9 1356.6 418.5 1368.6 417.4 1379 415.2 1386.9 411.2 1395.2 411.3 1400.9 409.8 1409.1 406.9 1419.4 403.3 1427.2 399.2 1437.8 394.4 1446.2 388.5 1453.4 381.4 1459.8 373.2 1466.8 364.3 1471.3 354.8 1473.7 344.9 1477.2 334.8 1479.9 324.6 1482.3 314.4 1484.3 304.1 1486.8 293.9 1489.3 283.7 1490.7 273.4 1493.7 263.2 1496.6 252.9 1497.6 242.6 1500.9 232.3 1501.5 221.9 1502.6 211.6 1504.8 201.2 1505.6 190.8 1508.6 180.4 1508.5 170 1513.1 140 1518.4 110 1522.5 80 1525.4 41.9 1624.3 41.9 1645.5 36.1 1675.6 25.3 1701 21.5"/><path d="M1284.7 421.8 1293.8 421 1303.8 423.8 1315.2 419.5 1326.4 418.8 1337.7 417.6 1346.6 420 1356.3 419.5 1367.3 416.1 1376.7 413.1 1389.9 414.1 1401.9 413.4 1412.2 409.8 1425.5 406.9 1434.5 403.3 1444.4 399.2 1453.8 394.4 1462.6 388.5 1469.4 381.4 1476.9 373.2 1482.8 364.3 1486.2 354.8 1488.9 344.9 1494 334.8 1495.6 324.6 1497.3 314.4 1499.4 304.1 1503.2 293.9 1504.3 283.7 1507.2 273.4 1509.1 263.2 1511.2 252.9 1514.9 242.6 1515 232.3 1516.2 221.9 1518.9 211.6 1520.5 201.2 1522.4 190.8 1523.6 180.4 1525.3 170 1530.1 140 1533.4 110 1538.5 80 1541.3 40.8 1624.7 40.8 1656.2 35.5 1676.7 24.7 1701 21.5"/><path d="M1282.4 425 1294.1 424.1 1304.2 421.5 1316.3 421 1326.2 418.8 1335.5 422.1 1347 418.9 1356.3 416.7 1367 417.1 1378.2 415 1388.5 414.4 1400.7 410.2 1409.4 409.8 1421.8 406.9 1429.9 403.3 1440.4 399.2 1450 394.4 1460 388.5 1464.7 381.4 1470.7 373.2 1478.4 364.3 1483.7 354.8 1486.5 344.9 1488.6 334.8 1491.8 324.6 1492.6 314.4 1497.2 304.1 1500 293.9 1501.1 283.7 1504.3 273.4 1505.1 263.2 1509.3 252.9 1509.7 242.6 1511.5 232.3 1513.2 221.9 1514.2 211.6 1517.7 201.2 1520.2 190.8 1519.1 180.4 1521.6 170 1523.3 140 1529.3 110 1533.6 80 1534.7 40.3 1628.7 40.3 1646.3 31.6 1664.4 23.9 1701 21.5"/><path d="M1284.8 424.4 1294.9 423.5 1305.6 422.5 1316.2 424.4 1328 420.9 1337.3 418 1346.2 421 1358.5 417.8 1368.1 415.3 1378.7 414.3 1393.3 413.2 1408.3 414.7 1420.8 409.8 1436.5 406.9 1447.5 403.3 1456.1 399.2 1464.8 394.4 1474.1 388.5 1482.3 381.4 1488.3 373.2 1493.8 364.3 1495.6 354.8 1502.8 344.9 1502.7 334.8 1508.1 324.6 1508.7 314.4 1510.6 304.1 1514.9 293.9 1515.8 283.7 1518.6 273.4 1520.1 263.2 1523.7 252.9 1523.7 242.6 1529 232.3 1528.9 221.9 1531.7 211.6 1532.5 201.2 1535 190.8 1535.9 180.4 1536.4 170 1535.3 140 1537.3 110 1535.1 80 1535.8 45.1 1620.9 45.1 1648.4 35.3 1668.3 23.3 1701 21.5"/><path d="M1284.5 423.7 1294.3 424.6 1305.3 422.4 1316.6 420.8 1327.3 422 1336.5 417.7 1347.9 418.6 1357.5 418.4 1368.6 418.1 1376.8 415 1388.7 414.5 1399.2 413 1409.8 409.8 1417.9 406.9 1429.3 403.3 1438.2 399.2 1447.5 394.4 1456.5 388.5 1463.4 381.4 1470.8 373.2 1475.7 364.3 1480.8 354.8 1483.2 344.9 1487.5 334.8 1487.8 324.6 1491 314.4 1493.9 304.1 1496.4 293.9 1498 283.7 1500.7 273.4 1503.5 263.2 1506.3 252.9 1508.6 242.6 1509.1 232.3 1511.1 221.9 1512.7 211.6 1513.3 201.2 1515.8 190.8 1518.5 180.4 1518.1 170 1535.4 140 1545.4 110 1554 80 1567.2 47.6 1630.9 47.6 1644.7 40.5 1677 24.7 1701 21.5"/><path d="M1284.6 422.8 1294.7 421.7 1304.9 421.8 1316.8 420.6 1327 421.9 1335.6 421.2 1345.2 419.1 1357.9 421.6 1367.8 415.7 1379.9 416.8 1391.3 414.7 1403.8 412.9 1416.7 409.8 1430 406.9 1440.4 403.3 1449.4 399.2 1459 394.4 1466.2 388.5 1474.8 381.4 1483.2 373.2 1487.8 364.3 1492.6 354.8 1494.7 344.9 1498.4 334.8 1502.2 324.6 1502.7 314.4 1505.9 304.1 1508.2 293.9 1509 283.7 1513.1 273.4 1514.2 263.2 1517.4 252.9 1519.3 242.6 1520.9 232.3 1522.8 221.9 1524.3 211.6 1525.9 201.2 1527.8 190.8 1529.2 180.4 1530.7 170 1533.5 140 1533 110 1538 80 1540.3 48.7 1624.1 48.7 1647.5 43.1 1673.1 23.8 1701 21.5"/><path d="M1285.6 424.3 1294.7 419.9 1305.2 421.7 1314.8 418.4 1326.3 421.9 1337 423 1345.4 419.5 1357.4 420.2 1367.8 415.8 1378.2 416.5 1390.9 413.1 1405.4 413.5 1418.6 409.8 1432.5 406.9 1442.8 403.3 1452.6 399.2 1461.5 394.4 1470.7 388.5 1478.9 381.4 1484.2 373.2 1490.2 364.3 1495.8 354.8 1498.5 344.9 1500.3 334.8 1503.4 324.6 1504.5 314.4 1506.3 304.1 1509.7 293.9 1512.1 283.7 1514 273.4 1518.2 263.2 1519.2 252.9 1521.7 242.6 1523.5 232.3 1525.1 221.9 1526 211.6 1530.1 201.2 1528.6 190.8 1531.6 180.4 1533.7 170 1534.3 140 1534.4 110 1533.7 80 1534.3 42.5 1635.2 42.5 1656.6 35.8 1672.4 22.1 1701 21.5"/><path d="M1283.6 422.8 1293.8 419.9 1304.3 421.8 1316.2 423.1 1326 421.7 1337 420.1 1347.3 420.1 1356.9 420.6 1367.5 415.7 1377.8 414.3 1382.6 414.9 1389.2 412.1 1393.3 409.8 1397.5 406.9 1406.4 403.3 1415.5 399.2 1425.3 394.4 1434.6 388.5 1442.5 381.4 1448.4 373.2 1454.9 364.3 1459.4 354.8 1461.5 344.9 1463.8 334.8 1467.5 324.6 1470.2 314.4 1473 304.1 1474.4 293.9 1477.1 283.7 1479 273.4 1482.7 263.2 1483.4 252.9 1485.6 242.6 1488.8 232.3 1490 221.9 1491.3 211.6 1493 201.2 1495.7 190.8 1495.7 180.4 1498.2 170 1503.8 140 1513.5 110 1520.5 80 1526.5 44.2 1627 44.2 1640.8 37.5 1674 24.3 1701 21.5"/><path d="M1283.7 423.4 1294.5 422.7 1305.3 420.8 1314.4 421 1326.9 420.9 1336.6 418.7 1346 417.3 1356.7 417.7 1366.6 417 1377.1 416.8 1392.6 411.7 1407.2 412.6 1422.8 409.8 1437.7 406.9 1448.4 403.3 1458.2 399.2 1466.2 394.4 1475.5 388.5 1482.2 381.4 1489.2 373.2 1495 364.3 1499.1 354.8 1502 344.9 1506.7 334.8 1508.5 324.6 1509.9 314.4 1514.5 304.1 1514.8 293.9 1517 283.7 1519.8 273.4 1522.8 263.2 1525.8 252.9 1527.7 242.6 1528.9 232.3 1530.3 221.9 1532.5 211.6 1533 201.2 1534.6 190.8 1537.1 180.4 1538.4 170 1538.2 140 1535.3 110 1538.3 80 1536.5 38.2 1628.1 38.2 1645.4 31.4 1682.8 27 1701 21.5"/><path d="M1285 424.1 1294.4 424.5 1305.2 420.7 1314 421.8 1326.3 419.3 1336.5 420.4 1347.2 420.6 1357.6 418.4 1368 419.1 1379 415 1386.1 414.4 1394.3 409.2 1403.3 409.8 1410.6 406.9 1419.4 403.3 1428.2 399.2 1439 394.4 1449 388.5 1455.9 381.4 1462.1 373.2 1466.4 364.3 1471 354.8 1475.9 344.9 1477.1 334.8 1480.6 324.6 1482.5 314.4 1486.9 304.1 1487.3 293.9 1490.2 283.7 1491.4 273.4 1494.2 263.2 1496.4 252.9 1499.2 242.6 1499.9 232.3 1502.5 221.9 1505.2 211.6 1507.7 201.2 1507 190.8 1509.7 180.4 1509.4 170 1515.9 140 1519.5 110 1524.5 80 1528.3 44.5 1624.6 44.5 1649.8 36.2 1675.6 25.1 1701 21.5"/><path d="M1283.4 421.6 1295.3 422.4 1304.5 419.1 1315.6 421.1 1325.2 420.3 1335 420.7 1346 419.8 1357.5 415.2 1367 416.2 1378.9 416.8 1386.6 416.6 1393.2 411.5 1399.2 409.8 1407 406.9 1417 403.3 1425.6 399.2 1435.8 394.4 1445.8 388.5 1450.9 381.4 1460.4 373.2 1466 364.3 1468 354.8 1473.3 344.9 1475.7 334.8 1478.9 324.6 1480.4 314.4 1483 304.1 1486.5 293.9 1487.3 283.7 1490.5 273.4 1493 263.2 1494.6 252.9 1497.4 242.6 1499 232.3 1501 221.9 1500.7 211.6 1502.9 201.2 1505.5 190.8 1507.7 180.4 1509.4 170 1512.6 140 1515.3 110 1521.4 80 1525.2 39.5 1631.9 39.5 1639.6 33.2 1671.7 24.1 1701 21.5"/><path d="M1285.1 420.4 1294.6 421.9 1305.3 420.7 1314.4 418.6 1324.8 419.2 1337.1 417 1347.4 418.5 1357.9 416.3 1368.9 417.1 1377.7 417.7 1384.4 412.9 1395.5 411.5 1401 409.8 1409.7 406.9 1418.7 403.3 1428.8 399.2 1437.8 394.4 1447.7 388.5 1453.3 381.4 1462.1 373.2 1465.9 364.3 1471.1 354.8 1473.4 344.9 1479.3 334.8 1479.5 324.6 1483.1 314.4 1484.5 304.1 1487.6 293.9 1489.5 283.7 1492.7 273.4 1495.9 263.2 1494.7 252.9 1498.1 242.6 1500.4 232.3 1502.5 221.9 1505 211.6 1507 201.2 1507.5 190.8 1507.9 180.4 1510.1 170 1515.1 140 1520.7 110 1526.4 80 1528.4 46.8 1620 46.8 1647.3 37.2 1669.5 24.2 1701 21.5"/><path d="M1285 421.5 1294.3 419.7 1304.3 422.4 1313.9 420.7 1326.5 422.5 1334.5 420.3 1346.5 415.7 1356.6 419.1 1367.8 418.2 1378 416.8 1385.3 412.9 1393.2 409.7 1401.4 409.8 1407.4 406.9 1415.6 403.3 1425.4 399.2 1435.5 394.4 1445 388.5 1452.3 381.4 1459.8 373.2 1463.9 364.3 1469.2 354.8 1471.6 344.9 1475.2 334.8 1479 324.6 1480.4 314.4 1483.6 304.1 1485.2 293.9 1486.7 283.7 1489.3 273.4 1491.4 263.2 1494.7 252.9 1496.7 242.6 1500.6 232.3 1501.4 221.9 1502.5 211.6 1502.7 201.2 1505.1 190.8 1505.9 180.4 1509.9 170 1515.2 140 1524.3 110 1527.5 80 1534.1 48.6 1625 48.6 1648.9 38.2 1671.8 23.9 1701 21.5"/><path d="M1344.5 417.7H1356.4V413.5H1386.9V407.9H1407.9V398.2H1430.9V387.6H1448.1V379.3H1455.5V373.4H1458.7V367.2H1462.1V362.3H1463.2V356.4H1463.6V349.3H1468V343.5H1469.6V338.3H1472.2V331.3H1473.6V323.3H1473.6V317.5H1476.6V312.8H1476.6V303H1483.2V299.5H1483.2V290.2H1485.3V281.7H1487.7V271.8H1490.9V262.3H1490.9V257.2H1494.2V246.7H1495V241.3H1496.2V231.7H1497V224.4H1497"/><path d="M1302.8 420.1H1322V413.9H1384.3V407.2H1414V396.8H1439.5V392.1H1445.8V383.1H1458.6V377.6H1464.7V373.6H1467.4V364H1474.4V354.5H1475.7V347.5H1480V339.1H1480V334H1482.3V330.2H1483V321.8H1483.6V315.8H1483.6V309.9H1489.2V299H1489.2V296H1492.2V286.6H1492.5V281.9H1492.5V273.2H1495.4V264.6H1500.8V261.2H1500.8V251.6H1500.8V246.8H1500.9V237.5H1503.5V227.1H1504.1"/><path d="M1313.9 419.5H1321.7V416.7H1360.7V412.6H1385.1V405.7H1409V401.9H1418.3V394.7H1428.3V389.6H1432.9V383.2H1442.8V376.1H1446.6V366.3H1448.4V362.8H1449.8V357.6H1450.3V353.9H1454.9V344.6H1454.9V337.6H1459.2V327.4H1461.5V318.6H1466.9V308H1466.9V300.3H1469.1V292.3H1469.1V289.3H1469.1V285.8H1470.2V277.4H1472.2V273.1H1472.2V267.9H1474.5V262.7H1477.3V252.4H1478.7V244.4H1479.3V237.8H1481.7V232.6H1482.1V223.2H1483.1"/><path d="M1302.7 416.1H1376.6V409.8H1419.1V399.4H1450V395H1459.7V391.7H1464.5V388.5H1471.5V383.3H1473.8V377.5H1481.6V372.1H1489.6V365.4H1492.6V361.3H1495.2V353.1H1500.3V346.6H1502.6V336.8H1503.6V326H1506.8V321.4H1508.5V311.2H1512.2V303.5H1515V297.8H1515V289.1H1516.5V281.1H1520.4V271.9H1520.8V264.5H1524.9V256.5H1525.7V252.8H1526V244.7H1526.9V238.3H1526.9V230.3H1526.9V220.5H1529.3"/><path d="M1303.3 416H1373V407.7H1412.7V399.4H1435.1V392.6H1446.8V386.9H1453.9V377.2H1464.1V370.6H1466.9V363.1H1471.3V355H1475.9V349.9H1477.8V342.5H1483V336.4H1483V326H1485.8V315.8H1486.4V309.3H1486.4V303.8H1490.2V298.8H1491.7V291.9H1491.7V285.2H1493.6V279.9H1493.6V274.4H1495V268.1H1497.2V264.1H1497.2V258.5H1497.9V253.8H1500V243.7H1503.1V237.1H1503.1V226.4H1504.8"/><path d="M1340.8 420.6H1363.6V408.4H1410.3V403.7H1420.8V394.5H1444.2V385.2H1453.8V377H1461V369.3H1466.6V362.1H1470.2V351.8H1472.9V348H1477.2V337.9H1479.2V329.2H1479.6V320.3H1479.7V316.9H1484.7V311.6H1486.7V302.7H1488.6V297.9H1488.6V290.3H1488.6V284H1489.2V278.4H1491.5V272.5H1494.8V262.9H1497.7V258.1H1497.7V253.6H1497.7V250.1H1501V246.1H1501V240.8H1501V233.2H1501.7V226.4H1503.3"/><path d="M1320.1 413H1392.9V405.7H1431.6V402.4H1440.9V396.9H1455V393.1H1463.1V383.5H1478.3V378.6H1483.5V371.4H1488.2V364.7H1495.2V359.5H1499.7V355.5H1499.7V346.6H1504.7V337.4H1508.2V327H1508.2V317.6H1510.6V308.1H1510.7V299.2H1513.3V293.1H1514.7V282.7H1521.1V276.7H1522.8V268.1H1522.8V262.4H1523.5V253.9H1526.7V247.2H1527V237.7H1529.5V233.2H1530.3V229.8H1531.7"/><path d="M1351.5 417.7H1347.1V412H1395V408.9H1410.1V405.8H1414.6V398.3H1435.8V387.6H1448.6V377.4H1461V366.4H1466.4V355.6H1469.5V350.5H1471V344H1476.8V333.1H1479.5V324.4H1479.5V319.7H1482V313.3H1482.8V305.7H1486.7V299.5H1486.7V292.5H1487.2V285.6H1491.4V277.9H1491.4V268.9H1493.2V263.4H1495.6V259.2H1496V251.1H1496V246.4H1500.1V238.8H1501.6V234.6H1503V223.9H1503"/><path d="M1355.7 418.2H1372.6V411.9H1410.8V404.6H1437.5V399.4H1451.1V390.2H1471.7V379.8H1483.3V369.7H1494.3V363.7H1497.8V355.4H1504.6V351.4H1504.6V343H1509.1V339.6H1509.1V332.5H1512.2V326.2H1513.7V316.7H1513.7V312.8H1519.5V309.1H1519.5V299.4H1519.5V296.2H1519.7V289.7H1521.7V280.1H1522.4V274H1523.4V264.9H1525.8V259H1527.5V255.8H1527.5V250.4H1529.9V244.7H1531.1V241H1531.1V236.9H1531.1V226.5H1534.6"/><path d="M1307.9 414.6H1373.5V411.6H1399.9V402.5H1427.6V391.9H1453.8V387.5H1457.5V381.4H1461.2V374.2H1470.2V366.7H1472.6V359.8H1479.6V355.9H1479.6V345.7H1484.4V340.7H1484.4V332.2H1484.4V322.6H1486.7V311.7H1491.9V304.9H1493.4V294.4H1494.2V287.3H1497.3V281.7H1500.4V275.1H1500.8V265.3H1502.8V261.4H1503.5V251.6H1503.5V248.2H1506.1V241.7H1506.1V236.8H1509.1V225.9H1509.1"/><path d="M1303.4 416.4H1381.8V412.9H1405.6V405H1429.9V400.9H1443.3V397.6H1451.7V391.9H1461V382.2H1475.5V374.7H1482.7V371.2H1484.5V362.1H1490.7V356.1H1491.6V346.6H1499.8V338H1501.7V330.5H1501.7V324.1H1502.6V317.3H1503.1V311.6H1504.9V304.1H1507.8V295.5H1511.1V292.4H1511.5V288.1H1511.8V279.1H1513.1V272.2H1516.4V261.8H1517.4V251.2H1519.3V246.2H1523.5V236.8H1524.6V227.4H1524.6"/><path d="M1356.5 419.2H1360V408.6H1421.3V399.9H1443.6V394H1453.7V385H1471.6V374.5H1481V364.2H1489.2V353.8H1494.8V348.7H1494.8V339.9H1499.3V336.8H1499.8V330.4H1500.9V322H1503.8V313.6H1507V308.2H1507V302.5H1507V292.7H1509.8V283.4H1510.3V278.1H1510.8V272.8H1513.9V261.9H1515.7V257.7H1517.9V247.5H1521.8V243.2H1521.9V239.2H1521.9V231.8H1522.5V223.8H1525.8"/><path d="M1351.7 413.4H1395.4V404.2H1432.8V394.5H1453.9V383.8H1473.3V379.2H1478.6V371.8H1486.9V365.5H1488.8V359.1H1494V351.4H1497.4V347.6H1497.4V342.9H1497.6V337.7H1501.8V328.8H1503.9V319H1507.4V314.4H1508.3V311.2H1508.3V304.4H1508.8V298.4H1510.8V291.6H1510.8V285.5H1514.5V275.3H1515.6V271.1H1519.7V263.4H1519.7V260H1519.7V251H1523.9V245.6H1525.9V235.8H1526.8V228.5H1529.6"/><path d="M1347.4 422.2H1296.5V417.5H1365.3V409.4H1414.7V400.7H1436.4V397.2H1444.9V390H1458.9V381.6H1468.2V376.2H1473.1V370.9H1476.2V366.3H1481V361.6H1481V356.8H1485.7V346.1H1487.9V336.1H1489.6V327H1495.4V319H1496V313.1H1498.5V304.9H1500.9V300.9H1503.1V291.3H1504.7V288.1H1504.7V280.8H1505.5V270H1509V263.4H1511V254.6H1511V250.8H1511V239.9H1514.3V236.9H1514.3V227.4H1516.6"/><path d="M1330.7 419.9H1318.1V417.2H1359.5V410.7H1398V405H1417V401.2H1423.9V396.2H1435.8V390.4H1441.9V380.4H1454.3V376.3H1455.3V370.7H1460.9V362H1464.2V356.4H1464.2V345.5H1465.9V341.1H1467.4V334.5H1471.7V327.3H1471.7V319.7H1475.2V313.6H1475.8V304.3H1479.9V300.1H1479.9V289.7H1482V286.6H1482V277.9H1487.7V273H1487.7V269.3H1487.7V265.4H1488.6V259.1H1489.1V248.4H1492.5V240H1492.5V232.1H1494.6V223.9H1494.6"/><path d="M1316 418.7H1342.7V411.6H1403.3V408.3H1414.8V398.9H1442.4V389.6H1454.9V386.4H1461.6V376H1469.2V372.2H1471.2V365.9H1476.7V356.8H1485V352.5H1485V348.5H1485.2V341H1485.2V337.6H1490V327.3H1490.8V323.1H1490.9V314.5H1495.5V310.8H1495.5V305H1499.4V297.6H1499.4V289.5H1499.4V279.8H1500.3V269.1H1506V258.5H1506.7V253.5H1509.8V250.1H1510.3V240.1H1513.5V235.1H1513.5V227.8H1514.5"/><path d="M1309.5 418H1354.8V412.7H1397.7V407.2H1421.9V403.6H1429.9V395.7H1447.4V390.1H1460.2V382.7H1465.4V376.6H1473.4V370.2H1476V362.7H1483.7V359H1484.6V348.7H1488.3V344H1488.9V335.7H1490.4V329.4H1493V324.6H1494.2V321.1H1495.7V316.2H1497.7V311.6H1497.9V305.8H1497.9V297.1H1498.5V287.6H1500.9V279.5H1504.2V276.4H1505.3V268H1508.4V262H1508.4V251.3H1511.8V246.1H1513.4V240.5H1514.6V236H1514.6V232.9H1514.6V222.3H1518.9"/><path d="M1346 420.4H1332.6V417.5H1373.4V408.9H1424V404.9H1434.4V395.6H1457.9V387.5H1469.8V380.5H1480.9V375.4H1484.3V366.6H1491.9V356H1499.6V348.2H1503V339.8H1504.4V330.7H1505.2V324.9H1508.2V317.3H1508.2V307.1H1512.9V301.4H1515.1V297.9H1515.1V293.5H1515.1V289.5H1516.6V283.8H1516.6V276.9H1518V273.6H1521.3V268.3H1522.4V259.7H1522.7V251.8H1522.7V243.2H1526.9V235.6H1528.1V230.7H1528.1V224.1H1530.2"/><path d="M1353.7 420.3H1322V415.9H1369.2V408.6H1403.7V399.5H1426.6V392.9H1439V382H1450.6V377.3H1452.7V370.5H1456.6V362.8H1457.3V358H1458.1V352.3H1462.3V349.2H1465.8V338.4H1466.9V330.6H1468.7V320.1H1472.5V311H1473.7V305.6H1475V299.2H1478.1V292.4H1479.1V287.8H1479.1V277.8H1481V268.2H1483.4V261.4H1486.3V251H1487.7V241.2H1490V238.1H1490V230.5H1491V227.4H1491"/><path d="M1327.7 417.3H1371.7V410.8H1415.4V405.3H1435.4V399.1H1452.4V389H1470V385.8H1474V382.3H1479.3V377H1484.1V371.7H1487.9V362.9H1496.1V354.3H1498.9V350.6H1504V340.6H1504V332.4H1510.6V325.4H1512.3V316.6H1513.2V313.4H1513.2V302.9H1516V296.2H1516.6V286.4H1517.9V275.4H1520.6V272.2H1522V261.5H1525.6V253.8H1526.4V243.5H1531.7V236.6H1531.7V228.1H1531.7"/><path d="M1342.2 418.9H1364.4V412.8H1397.8V406.7H1425.9V396.8H1450.7V391.5H1460V384.7H1467.4V376.4H1477.7V370.6H1477.9V364.4H1485.6V355.1H1487.8V350H1494.1V342.2H1494.1V336.6H1496.3V327.6H1498V321.3H1500.2V315.4H1500.2V309.9H1502V304.8H1504V296.7H1507V289.5H1510.7V283.9H1510.7V277.7H1511.3V273.7H1511.3V263.2H1517.2V252.9H1518V242.1H1518V234H1518.6V225.8H1521.3"/><path d="M1358.4 415.5H1382V406H1438.4V397.2H1463.1V389.7H1473.4V379.7H1487.7V373.3H1498.7V368.5H1502.3V360.5H1505.5V353.7H1511.3V345.4H1517.4V337H1517.4V327.7H1518.8V317.8H1521.8V307.9H1524.2V302.8H1524.2V298.3H1525.3V291.3H1530.5V281.4H1531V274.9H1531.7V265.5H1532.8V256H1535.6V250.6H1536.4V242.3H1539.3V233.8H1539.3V227.2H1540"/><path d="M1333.2 421.2H1341.8V413.7H1388.5V406.5H1418.2V402.3H1426.7V396.2H1441.2V390.2H1453V384.8H1457V375.8H1464.9V370H1466.8V361.6H1473.2V353.4H1474.2V349.6H1475.6V341.4H1480.4V335.3H1480.4V330.3H1480.4V323.1H1484.4V315.5H1486V305.9H1488.5V297.6H1491.9V288H1493.3V283.8H1493.3V274.6H1494.2V263.7H1496.2V253.5H1498.6V244.4H1501.9V238.6H1503.1V228.8H1503.1"/><path d="M1318.9 419.9H1325.9V414.2H1382.6V408.4H1405.3V401.4H1424.6V390.8H1446V384.7H1453.4V380H1454.4V373.1H1460.9V366.1H1463.9V359.9H1463.9V350.8H1468.8V341.2H1471.9V331.1H1473.6V320.8H1475.8V310H1479.4V302.8H1481.2V298.2H1481.2V293.5H1484V289.9H1484V282.7H1486.1V273.2H1492.3V267.5H1492.3V260.9H1492.3V250.4H1492.8V241.3H1496.5V234.3H1496.5V227.1H1498.5"/><path d="M1303.8 413.6H1383.7V409.8H1410.7V404.7H1428.8V400.3H1439.7V395.1H1451.3V391.5H1458.3V384.6H1464.4V379H1470.8V369.3H1477.9V359.5H1485.2V353.6H1489.4V342.8H1491.4V338H1493.1V327.4H1493.4V320.5H1495.2V311.9H1497.3V303.7H1501.7V294.3H1505V284.7H1505V280.4H1507.2V276.9H1510.2V270.2H1510.2V264.8H1511.7V254.6H1514.3V243.9H1515.9V237.7H1516.1V232.9H1516.1V225.7H1518.3"/><path d="M1353.1 419.4H1349.2V412.1H1404.5V406.6H1423V399.7H1439.8V396.4H1452.6V391.8H1458V385.7H1467.7V381.7H1467.9V374.4H1475V368.7H1480.2V365.3H1483.6V359.9H1484.8V353.6H1491.4V343.6H1494V339.2H1495.2V329.9H1497.6V322.9H1500V314H1500V303.4H1502.7V296.5H1505.5V289.4H1507.7V285.7H1508.7V276.9H1509.5V271H1509.7V262.2H1511.5V252.9H1511.5V246.6H1514.9V240.6H1518.2V231.5H1518.5V222.3H1518.5"/><path d="M1331.3 417.3H1367.5V407.7H1420.1V400.7H1439.3V392.8H1453.6V382.4H1469.2V371.4H1478.5V365.9H1481.3V360.7H1486.1V353.3H1486.6V349.6H1490.3V344.8H1490.3V339.4H1495.1V334.5H1495.1V330.2H1496.1V323.6H1496.1V318.7H1498.6V309.8H1499.1V301.7H1499.1V295.4H1505.4V290.3H1505.4V283.7H1505.9V273.2H1507.7V267.8H1507.8V258.4H1511.8V253.4H1511.8V248.3H1514V239.9H1514V231.5H1517V228.3H1517"/><path d="M1351.3 415.4H1369.2V408.2H1410.5V398.4H1437.9V388.8H1448.9V383.8H1457.3V374.8H1463.1V367.3H1468.5V362.9H1470.9V358.8H1475.4V348.5H1478.7V342.7H1478.7V334.2H1481.5V330.5H1482.3V326.6H1482.8V317.8H1483.9V310.3H1488.6V303.5H1488.6V297.3H1489.5V288.1H1489.5V284.3H1491.1V278.9H1494.4V271.6H1495.8V264.9H1497.6V260.3H1499V250.2H1499V242.6H1501.3V236.2H1502.4V225.3H1504.9"/><path d="M1354 416.7H1365.5V411.6H1391.3V407.2H1406.9V397.6H1429.6V389.8H1439V379.4H1446.2V369.4H1454.6V358.8H1457.9V349.2H1458.5V345.5H1460.7V340.3H1463.1V331.1H1465.3V324.1H1465.3V318.5H1469.8V308.2H1470.6V303.5H1472.6V292.8H1474.7V282.4H1475.7V279.1H1476.6V274.3H1476.7V266.5H1480.4V257.6H1483.9V251.2H1486V246.8H1486V242.1H1486.6V238.5H1486.6V233.1H1488V228H1488.9"/><path d="M1321.3 416H1382.8V412.9H1404.8V403.4H1441.6V398.5H1453.5V393.8H1462.8V383.3H1479.2V378.4H1483V367.9H1492.4V357.8H1497.1V349H1503.9V338.8H1506.6V335.2H1508V325.5H1512V315.4H1512.5V305.1H1514.3V295.9H1519.8V287.6H1519.8V281.9H1521.1V276.7H1521.1V270.5H1523.1V265H1525.3V256.7H1527.3V251.5H1529.9V244.8H1529.9V239.4H1529.9V229.9H1529.9"/><path d="M1302.9 420.1H1343.7V413.2H1394.8V404.1H1427.8V400.9H1438.5V394.7H1451.8V389.4H1457.7V379.9H1467.6V374.5H1471.3V365.1H1477.7V361.1H1479V356.7H1481.5V348.5H1487.1V338.6H1487.9V331.3H1488.7V323.4H1492.8V316.1H1494.3V309.6H1496.4V303.9H1496.4V298.8H1496.6V295H1496.8V289H1499.4V279.8H1500.3V275.5H1503.2V265.4H1504.3V260.8H1508.6V253H1508.6V248.6H1508.6V238.5H1512.5V234.2H1512.5V226.9H1514.1"/><path d="M1314 418.5H1364.6V409.3H1411.7V400H1436.5V389.1H1454.9V386H1460.2V377.8H1469.1V371.7H1471V366.2H1473.7V360.7H1477.4V352H1482V347.6H1482V338.1H1484.4V328.6H1489.4V325.5H1491.6V320.7H1491.6V309.8H1495.1V305.1H1495.1V296.3H1496V293.2H1497.7V288.8H1497.7V279.2H1499.6V269.2H1499.6V262.5H1501.4V255.6H1506.4V250.6H1506.4V241.5H1507V231.5H1510V224.1H1510.6"/><path d="M1317.3 419.8H1355.6V413.5H1390.6V409.1H1410.4V400.6H1432.1V392.3H1448.1V387.5H1454.2V378H1462.6V371H1469.2V367.7H1469.7V357H1472.8V351.5H1476.2V341.6H1477.5V334.9H1484.3V327.4H1484.3V319.8H1486.7V312.7H1489.2V303.4H1489.2V292.7H1492V289H1493.9V278.2H1497.1V271.5H1497.1V266.6H1500.1V257.2H1502.4V246.7H1503.7V238.9H1504.3V229.4H1506.9"/><path d="M1325.8 423.9H1289.1V413.7H1391.5V405.3H1423.2V398.4H1438.4V388.1H1456.1V382.3H1461.7V374.3H1465.9V367.4H1471.9V360H1476.4V355H1477.5V349.8H1478.5V343.9H1482.1V335.4H1483.8V331.8H1488V326.4H1488V321H1488V315.7H1488V306.3H1489V296H1494.1V291.1H1495.7V283.6H1497.3V273.6H1497.3V267.9H1498.9V262H1502.4V254.8H1502.4V246.9H1504.8V243H1504.8V234.5H1506.7V230.3H1506.7V223.1H1510.9"/><path d="M1331 418.5H1349.6V414.3H1380.9V409.8H1401.6V399.4H1428.3V394.6H1438.2V389.3H1444.3V380.6H1453.4V374H1459.1V367.6H1465.3V361.4H1466.2V355.5H1466.7V351H1468.5V347.5H1468.5V337.7H1471.3V332.6H1474.1V329.1H1474.1V324.5H1476.1V315.6H1480.2V312.1H1480.2V304H1480.9V297.6H1484.2V292.3H1484.2V287.1H1484.2V277.8H1486.1V273.2H1488.5V267.1H1488.5V256.4H1489.4V245.6H1495.2V235.5H1496.6V226.3H1496.6"/><path d="M1327.2 418.1H1375.6V411.1H1405.3V401.9H1436.8V394.3H1452.8V388.9H1462.2V381H1469.3V372.7H1476.5V369.3H1479.2V362H1484.2V355H1486.8V349H1488.5V341.8H1490.3V335.4H1493.9V325H1498.4V314.3H1498.4V305.7H1500.3V295.5H1501.5V286H1505.5V278.6H1505.5V271.4H1506.5V261.9H1507.7V258.8H1509.8V251.9H1513.5V243.4H1513.5V236.2H1515.7V230.9H1515.8V226.6H1519.6"/><path d="M1314.8 419.4H1339.5V410.7H1389.5V401.1H1414.4V394.5H1425.4V387.9H1434.3V384.6H1440.7V379.3H1441.1V373.5H1444V369.7H1444V359.8H1444.5V354.4H1449.2V350.4H1450V343.1H1454.4V334.8H1454.4V326.3H1454.4V321.8H1457.9V312H1461V307.3H1461.2V298.4H1461.2V294.5H1465.5V289.8H1466.7V286.6H1466.7V277H1466.7V268.3H1468.5V257.9H1471.2V252.7H1472.4V245.1H1474.8V236.6H1474.8V233.3H1476.6V225.2H1480.6"/><path d="M1339.6 413.7H1386.3V406H1424.3V398.3H1447.7V390.9H1455.4V382.8H1469.4V375.4H1472.3V364.5H1480.3V359.9H1485.8V353.4H1487.2V344.6H1491.1V339.1H1491.1V331.9H1492.4V326.5H1495.4V323.4H1497.2V313.1H1497.9V305H1501.1V299H1502.3V294.5H1504.8V287.5H1505.9V283.3H1505.9V273.6H1507.4V267.1H1509.2V259.4H1511.2V252.2H1513.5V248.8H1513.5V241.5H1514V236.3H1514.3V231.8H1517.3V226.6H1517.3"/><path d="M1301.4 420H1341.8V413.7H1386V407.9H1413V399.3H1433.3V389H1449.8V383.4H1458.9V372.6H1465.1V364H1469.9V358.3H1469.9V354H1474.1V349.2H1474.2V342.6H1476.4V337.8H1477V334.4H1477.6V325.1H1482.7V315.8H1483.3V310.4H1488.1V301.7H1488.1V295.4H1488.1V285.4H1491.6V274.9H1492.4V269.2H1492.4V265.6H1492.4V257.8H1497.9V248.1H1498.2V241.2H1499.2V236.3H1499.2V225.9H1505.6"/><path d="M1319.4 414.6H1369.9V412.4H1386.6V401.6H1422.4V398.4H1429V392.1H1438.6V381.6H1447.9V372.5H1456.1V367.8H1458.6V359.1H1462V353.3H1462.5V344.8H1466.2V338.7H1467.1V334.5H1467.1V331.2H1470.1V320.5H1470.1V311H1475.3V303.3H1475.3V296.8H1475.3V287.3H1477.2V276.4H1481.2V272.2H1484.4V267.8H1484.4V257.7H1487.6V247H1488.1V237.9H1491.2V229.1H1491.2"/><path d="M1322.1 415.9H1391.4V411.6H1414.5V401.4H1444.3V397.5H1459.2V390.9H1469.3V382.2H1481.8V377.1H1491.4V369.8H1496V364.2H1500.3V358.7H1503.5V351.8H1508.4V345.1H1508.4V337.1H1513V332.6H1513V325.3H1515.3V317H1517.5V310.4H1518.2V299.6H1520.8V289.9H1521.6V283.1H1523V272.3H1530.6V264.1H1530.6V255.9H1531.6V248.9H1531.6V241.4H1532.6V233.7H1536.7V223.3H1536.7"/><path d="M1301.8 417.8H1362.6V414.6H1390.1V405.6H1422.7V400.5H1437.1V393.2H1451.7V386H1461.8V375.6H1471.3V367.9H1478.2V359H1482.4V349.5H1487.4V343.9H1488.1V333.7H1490.6V325.9H1492V320.5H1494.2V311.7H1495.5V305.5H1498.2V296.1H1500.7V285.6H1502.6V275.5H1504.4V267.5H1506V258.7H1508.6V251.5H1510.2V247.8H1512.4V237.3H1513.9V226.3H1513.9"/><path d="M1357.3 421.2H1334.8V416.2H1377.9V409.2H1412.8V403.9H1430.5V399.2H1442.5V388.5H1462.6V384.1H1467.9V380.1H1474.9V376.8H1474.9V368.6H1481.3V358.6H1486.2V349.2H1489.7V344.4H1489.7V340.5H1490.7V333.1H1495.7V325H1495.7V315.9H1498.1V307.3H1501.1V304.2H1502.8V296.7H1502.8V292.6H1502.8V284.4H1505.5V280.6H1506.3V271.4H1510.7V263.1H1514.2V257H1514.2V248.9H1516.6V243H1516.6V238H1516.6V233.9H1516.6V226H1518.4"/><path d="M1312.7 415.3H1373V406.3H1418.2V402.7H1427.8V392.6H1445.1V384.3H1457.5V375.9H1462V369.4H1464.7V361.6H1469.2V355.8H1470.4V347.8H1476.4V341.6H1477.8V333.1H1478.7V324.5H1481.5V319H1482.8V308.4H1485.1V301.4H1486.9V293.9H1488.7V287.4H1491.5V280.4H1491.9V272.7H1493.3V264.7H1495.1V261.7H1495.1V251.8H1497.7V244.5H1499.7V235H1501.6V230.1H1501.6V224.7H1501.9"/><path d="M1321.6 419.6H1326V410.3H1401.1V399.5H1429.3V393.4H1437.1V384.6H1447.8V379.7H1449.8V376.6H1453.4V371.1H1458.7V360.3H1464.1V350.5H1469.1V339.6H1469.1V335.5H1473.1V328.5H1474.9V321.2H1476.9V317.7H1477.5V307.9H1477.9V297.6H1479.2V289.1H1481.6V282.2H1484.1V273H1486.3V262.7H1488.2V253H1488.8V247.3H1491.3V237.3H1496.3V229.8H1496.3"/><path d="M1304.2 417.1H1373V408.7H1411.8V400.1H1433.2V391.2H1450.1V384.7H1457.5V376.8H1465.3V373H1467.5V368.5H1470.9V361.2H1473.5V355.8H1476.1V350.6H1477.2V343.3H1483.3V336.1H1483.3V327.3H1487.2V319.4H1487.2V310.2H1490.7V305.1H1491.7V298.1H1493.1V291H1494.3V281.5H1499.9V273.5H1499.9V264H1499.9V258.6H1501.6V250.2H1502.2V245.4H1503.5V236.9H1506.9V229.8H1506.9"/><path d="M1340.4 414.2H1384.4V410.4H1414.2V407H1428.5V403.2H1436.7V392.6H1460.6V389H1468.3V384.8H1474.4V377.3H1479.5V370H1486.6V359.2H1498.1V355.5H1498.1V347H1503.5V337.7H1504.6V331H1506.5V327.8H1506.5V320.8H1507.4V311.6H1512.9V302.7H1514V296.8H1515.3V290.3H1516.1V279.3H1516.1V273.6H1519.1V269.4H1519.1V262.4H1521.9V257.4H1521.9V249H1521.9V243.7H1527.5V237.5H1527.5V226.7H1529.7"/><path d="M1323.6 418.4H1351.6V414H1399.3V407.8H1423V398.2H1451.6V391.3H1461.5V381.6H1473.4V374.9H1481.2V368.7H1484.8V365.4H1488.4V362.3H1490.2V352.6H1495.2V344.3H1496.7V338.8H1498.5V328.1H1503.9V322.3H1503.9V314.1H1504.8V306.8H1508.7V299.1H1509.3V293.8H1509.8V286.7H1510.6V279.7H1514.1V272.2H1514.1V264.6H1517.3V256.6H1517.8V252.7H1517.8V246.8H1518.4V236.6H1520.1V227.7H1521.7"/><path d="M1321.9 419H1357.7V412H1394.4V401.3H1430.2V395.8H1436.7V386.2H1449.9V381.1H1455.1V374H1458.4V365.4H1461V356.6H1465.1V349.7H1468.5V343.1H1472.7V333.5H1475.5V324.9H1476.6V321H1477.7V310.9H1478.4V306.1H1481.3V300.4H1481.3V292.9H1484.4V285.3H1484.4V275.2H1491.1V270.5H1491.1V263.9H1491.1V260.1H1491.1V252.5H1494.7V248H1494.7V242.6H1496.3V238.9H1496.3V233.6H1496.3V226.7H1497.4"/><path d="M1316.6 418.7H1346.4V413.9H1381.4V406.4H1405.7V401.9H1420.6V394.7H1431.9V390.6H1438.2V383.1H1442.2V374.7H1449.1V371.1H1454.5V366H1454.5V361.6H1454.5V353.5H1456.2V348H1459.6V341.1H1460.8V337.1H1463.7V327.8H1466V323.5H1466.2V318.2H1466.6V313.2H1467.8V310.1H1470.6V300.6H1472.3V292.5H1472.3V288.4H1473.3V277.9H1476.7V270.1H1477.2V261.1H1477.3V250.3H1482.7V243.6H1484.7V235.7H1484.7V230.2H1485.8V221.8H1489.7"/><path d="M1352.4 420.3H1340.9V415.3H1386.2V411.4H1407.7V403.5H1436V393.2H1456.6V387.6H1464.6V383.2H1468.5V374.3H1479.4V370.2H1484.5V360H1489.5V350.2H1495.6V344H1495.6V334.7H1497.7V328.1H1501.1V317.1H1502.2V314H1504.4V304H1504.4V299.8H1509.2V293.4H1509.8V288.2H1510.8V283.6H1510.8V275.9H1512.1V268.8H1513.9V261H1517.1V255H1520.1V247.5H1520.1V236.7H1522.2V230.6H1522.2V224.3H1523.1"/><path d="M1356.1 424H1280.7V412.8H1393.9V404.5H1422.3V394.2H1442.2V384.9H1453.5V376.1H1459.8V365.5H1467.6V357.5H1471V353.9H1474.5V343H1474.5V338.9H1476.5V330.3H1479.4V326.4H1480.9V322.1H1481.8V312.1H1485.6V303.5H1485.6V297H1487.3V293.4H1488.8V289.7H1488.8V286.1H1491.4V278.6H1491.4V275H1492.1V268.7H1495V260.1H1495V254.6H1497.9V251H1499.7V244.3H1499.7V240.9H1500.1V235.4H1500.1V225.9H1501.2"/><path d="M1313.5 413.8H1378.5V409.9H1396.6V404.7H1409.2V399.3H1422.2V390.1H1435.4V382.8H1438.8V375.1H1443.8V369.5H1447V359.7H1449V350.4H1454.8V345.1H1455.3V340.8H1457V334.7H1460.8V330.6H1460.8V322.1H1460.8V318.1H1463.9V310.9H1463.9V304.1H1467.5V296.7H1469.3V293.3H1469.3V287.5H1470.9V278.5H1473V268.8H1475.9V264.1H1476.1V258.1H1478V252H1478.6V244.8H1480.5V236.1H1483V227.7H1483.8"/><path d="M1301 417.9H1355.3V409.1H1400.2V401.3H1417.7V395H1432.9V391.1H1437V385.8H1442.2V375.6H1446.7V365.7H1452.2V361.5H1452.2V352.6H1455.6V348.6H1457V341.6H1462.5V331.2H1462.5V322H1466.8V312.2H1468.4V303.4H1468.4V297.3H1471.3V291.3H1471.6V283.6H1475.7V279.4H1476.4V271.8H1479V264.9H1479V253.9H1480.9V248.5H1480.9V240.7H1483.4V235.2H1484.2V229.5H1485.9"/><path d="M1346.3 419.6H1341.4V413.9H1381.4V407.2H1409.9V398.4H1425.3V387.9H1439.9V383.8H1445.5V375H1451V370.2H1455.4V363.1H1455.4V355.9H1460.2V346.8H1461.6V339.5H1465.6V334.1H1465.6V329.8H1466.4V324.2H1466.7V315.5H1467.9V311.8H1471.3V307.7H1474.9V303.3H1474.9V293.3H1474.9V283.5H1475.7V276.9H1477.8V266H1482.5V256.9H1484.3V248.5H1487.2V238.1H1488.4V229.1H1489.9"/></g>
<g stroke="#2CA6E3" stroke-opacity="0.065" stroke-width="1.3" fill="none"><path d="M1284 427 1449.6 427 1458.8 421.5 1470.3 413.7 1480.5 405 1489.8 395.8 1497.5 386.8 1504.1 377.8 1510.1 368.8 1515.7 359.9 1521.2 351.2 1526.7 342 1532 331.8 1537.8 320 1545 305.5 1552.7 290 1560.2 275 1567.5 260 1573.3 246.2 1580.1 230 1591.5 205.6 1603.7 180 1613.3 159 1622.5 140 1633.1 121 1642.3 105.5 1645.8 99.2 1649.4 93 1659.4 77 1670.4 60 1678.4 49.1 1686 40 1695.3 29.5 1701 21.5"/><path d="M1284 427 1430.4 427 1439.6 421.5 1451.2 413.7 1461.3 405 1470.7 395.8 1478.3 386.8 1485 377.8 1491 368.8 1496.7 359.9 1502.3 351.2 1507.8 342 1513.2 331.8 1519.2 320 1526.5 305.5 1534.5 290 1542.3 275 1550 260 1556.1 246.2 1563.4 230 1575.7 205.6 1588.9 180 1599.5 159 1609.7 140 1621.6 121 1631.8 105.5 1635.7 99.2 1639.8 93 1651.1 77 1663.6 60 1672.8 49.1 1681.5 40 1692.4 29.5 1701 21.5"/><path d="M1284 427 1411.1 427 1420.5 421.5 1432.4 413.7 1443.1 405 1452.9 395.8 1461 386.8 1468.1 377.8 1474.6 368.8 1480.7 359.9 1486.7 351.2 1492.7 342 1498.6 331.8 1505.1 320 1513.2 305.5 1521.8 290 1530.2 275 1538.5 260 1545.1 246.2 1553 230 1566.1 205.6 1580.1 180 1591.3 159 1602 140 1614.4 121 1625.1 105.5 1629.2 99.2 1633.5 93 1645.4 77 1658.7 60 1668.5 49.1 1677.8 40 1689.9 29.5 1701 21.5"/><path d="M1284 427 1430.2 427 1439.5 421.5 1451.2 413.7 1461.6 405 1471.1 395.8 1479 386.8 1485.8 377.8 1492 368.8 1497.8 359.9 1503.6 351.2 1509.3 342 1514.9 331.8 1521 320 1528.6 305.5 1536.7 290 1544.7 275 1552.4 260 1558.6 246.2 1566 230 1578.2 205.6 1591.3 180 1601.8 159 1611.8 140 1623.4 121 1633.3 105.5 1637.2 99.2 1641.2 93 1652.2 77 1664.4 60 1673.3 49.1 1681.8 40 1692.5 29.5 1701 21.5"/><path d="M1284 427 1418.8 427 1428 421.5 1439.6 413.7 1449.9 405 1459.3 395.8 1467.1 386.8 1473.8 377.8 1479.9 368.8 1485.7 359.9 1491.4 351.2 1497 342 1502.6 331.8 1508.7 320 1516.2 305.5 1524.4 290 1532.5 275 1540.4 260 1546.7 246.2 1554.4 230 1567.1 205.6 1581 180 1592.1 159 1602.9 140 1615.3 121 1626.1 105.5 1630.2 99.2 1634.6 93 1646.5 77 1659.8 60 1669.6 49.1 1678.9 40 1690.7 29.5 1701 21.5"/><path d="M1284 427 1437.3 427 1446.4 421.5 1457.9 413.7 1468 405 1477.3 395.8 1484.9 386.8 1491.6 377.8 1497.5 368.8 1503.1 359.9 1508.6 351.2 1514.1 342 1519.5 331.8 1525.3 320 1532.6 305.5 1540.3 290 1548.1 275 1555.5 260 1561.5 246.2 1568.6 230 1580.6 205.6 1593.5 180 1603.8 159 1613.7 140 1625.2 121 1635.1 105.5 1638.9 99.2 1642.9 93 1653.8 77 1665.8 60 1674.7 49.1 1683 40 1693.4 29.5 1701 21.5"/><path d="M1284 427 1414.2 427 1423.4 421.5 1435.2 413.7 1445.5 405 1455 395.8 1462.9 386.8 1469.7 377.8 1475.9 368.8 1481.8 359.9 1487.6 351.2 1493.3 342 1499 331.8 1505.2 320 1512.9 305.5 1521.2 290 1529.4 275 1537.4 260 1543.9 246.2 1551.7 230 1564.6 205.6 1578.7 180 1590 159 1600.9 140 1613.4 121 1624.3 105.5 1628.5 99.2 1633 93 1645.1 77 1658.6 60 1668.6 49.1 1678 40 1690.1 29.5 1701 21.5"/><path d="M1284 427 1411.1 427 1420.3 421.5 1432 413.7 1442.3 405 1451.8 395.8 1459.6 386.8 1466.5 377.8 1472.6 368.8 1478.4 359.9 1484.2 351.2 1489.9 342 1495.6 331.8 1501.7 320 1509.4 305.5 1517.7 290 1526 275 1534 260 1540.5 246.2 1548.4 230 1561.5 205.6 1575.7 180 1587.3 159 1598.4 140 1611.2 121 1622.3 105.5 1626.6 99.2 1631.1 93 1643.5 77 1657.3 60 1667.5 49.1 1677.2 40 1689.6 29.5 1701 21.5"/><path d="M1284 427 1418.1 427 1427.9 421.5 1440.4 413.7 1451.6 405 1462 395.8 1470.7 386.8 1478.4 377.8 1485.4 368.8 1492 359.9 1498.5 351.2 1505 342 1511.4 331.8 1518.3 320 1526.9 305.5 1536 290 1544.8 275 1553.2 260 1559.9 246.2 1567.8 230 1580.4 205.6 1593.6 180 1603.9 159 1613.6 140 1624.7 121 1634.2 105.5 1637.8 99.2 1641.6 93 1652.1 77 1663.7 60 1672.4 49.1 1680.7 40 1691.5 29.5 1701 21.5"/><path d="M1284 427 1428.1 427 1437.2 421.5 1448.7 413.7 1458.9 405 1468.2 395.8 1475.8 386.8 1482.4 377.8 1488.4 368.8 1493.9 359.9 1499.5 351.2 1505 342 1510.4 331.8 1516.3 320 1523.6 305.5 1531.5 290 1539.4 275 1547 260 1553.2 246.2 1560.5 230 1572.9 205.6 1586.3 180 1597.1 159 1607.5 140 1619.6 121 1630 105.5 1634 99.2 1638.2 93 1649.8 77 1662.6 60 1672 49.1 1680.8 40 1692 29.5 1701 21.5"/><path d="M1284 427 1413.6 427 1422.9 421.5 1434.7 413.7 1445.2 405 1454.9 395.8 1462.8 386.8 1469.8 377.8 1476.1 368.8 1482.1 359.9 1487.9 351.2 1493.8 342 1499.6 331.8 1505.9 320 1513.7 305.5 1522.1 290 1530.5 275 1538.6 260 1545.1 246.2 1552.9 230 1565.9 205.6 1579.9 180 1591.1 159 1601.9 140 1614.3 121 1625.1 105.5 1629.2 99.2 1633.6 93 1645.5 77 1658.9 60 1668.8 49.1 1678.1 40 1690.1 29.5 1701 21.5"/><path d="M1284 427 1438.8 427 1448.1 421.5 1459.8 413.7 1470.2 405 1479.7 395.8 1487.6 386.8 1494.4 377.8 1500.6 368.8 1506.4 359.9 1512.1 351.2 1517.8 342 1523.3 331.8 1529.4 320 1536.9 305.5 1544.9 290 1552.7 275 1560.3 260 1566.3 246.2 1573.5 230 1585.4 205.6 1598 180 1608 159 1617.5 140 1628.6 121 1638.1 105.5 1641.7 99.2 1645.5 93 1655.9 77 1667.4 60 1675.9 49.1 1683.8 40 1693.8 29.5 1701 21.5"/><path d="M1284 427 1416.3 427 1425.8 421.5 1437.8 413.7 1448.5 405 1458.3 395.8 1466.5 386.8 1473.7 377.8 1480.2 368.8 1486.3 359.9 1492.4 351.2 1498.4 342 1504.4 331.8 1510.8 320 1518.9 305.5 1527.5 290 1535.9 275 1544.1 260 1550.6 246.2 1558.4 230 1571.2 205.6 1584.9 180 1595.8 159 1606.2 140 1618.1 121 1628.5 105.5 1632.4 99.2 1636.6 93 1648 77 1660.8 60 1670.2 49.1 1679.2 40 1690.7 29.5 1701 21.5"/><path d="M1284 427 1477.4 427 1486.3 421.5 1497.5 413.7 1507.2 405 1516 395.8 1523.2 386.8 1529.3 377.8 1534.8 368.8 1539.9 359.9 1545 351.2 1550.1 342 1554.8 331.8 1560 320 1566.5 305.5 1573.3 290 1580.1 275 1586.7 260 1591.8 246.2 1597.8 230 1608 205.6 1618.9 180 1627.5 159 1635.7 140 1645.3 121 1653.6 105.5 1656.7 99.2 1659.9 93 1668.8 77 1678.3 60 1685.2 49.1 1691.6 40 1699.1 29.5 1701 21.5"/><path d="M1284 427 1427.3 427 1436.5 421.5 1448.1 413.7 1458.3 405 1467.8 395.8 1475.5 386.8 1482.2 377.8 1488.3 368.8 1494 359.9 1499.7 351.2 1505.3 342 1510.8 331.8 1516.8 320 1524.3 305.5 1532.3 290 1540.3 275 1548 260 1554.2 246.2 1561.6 230 1574 205.6 1587.4 180 1598.1 159 1608.4 140 1620.3 121 1630.6 105.5 1634.6 99.2 1638.8 93 1650.2 77 1662.8 60 1672.1 49.1 1680.9 40 1692 29.5 1701 21.5"/><path d="M1284 427 1429 427 1438.3 421.5 1450.1 413.7 1460.5 405 1470.1 395.8 1478 386.8 1484.9 377.8 1491.2 368.8 1497 359.9 1502.8 351.2 1508.6 342 1514.2 331.8 1520.4 320 1528.1 305.5 1536.2 290 1544.3 275 1552.1 260 1558.3 246.2 1565.7 230 1578 205.6 1591.1 180 1601.6 159 1611.6 140 1623.2 121 1633.2 105.5 1637 99.2 1641 93 1652 77 1664.2 60 1673.1 49.1 1681.6 40 1692.4 29.5 1701 21.5"/><path d="M1284 427 1453.6 427 1463 421.5 1475 413.7 1485.5 405 1495.3 395.8 1503.4 386.8 1510.5 377.8 1516.9 368.8 1522.8 359.9 1528.7 351.2 1534.6 342 1540.3 331.8 1546.5 320 1554.1 305.5 1562.1 290 1570 275 1577.4 260 1583.2 246.2 1590.1 230 1601.2 205.6 1612.9 180 1621.8 159 1630.3 140 1640.1 121 1648.4 105.5 1651.5 99.2 1654.9 93 1663.9 77 1673.7 60 1681 49.1 1687.9 40 1696.3 29.5 1701 21.5"/><path d="M1284 427 1435.5 427 1444.8 421.5 1456.5 413.7 1466.8 405 1476.4 395.8 1484.2 386.8 1491 377.8 1497.2 368.8 1503 359.9 1508.7 351.2 1514.4 342 1519.9 331.8 1526 320 1533.5 305.5 1541.5 290 1549.4 275 1557.1 260 1563.1 246.2 1570.4 230 1582.4 205.6 1595.2 180 1605.4 159 1615.1 140 1626.4 121 1636.1 105.5 1639.8 99.2 1643.7 93 1654.4 77 1666.2 60 1674.8 49.1 1683 40 1693.3 29.5 1701 21.5"/><path d="M1284 427 1439.3 427 1448.6 421.5 1460.5 413.7 1470.9 405 1480.6 395.8 1488.5 386.8 1495.4 377.8 1501.7 368.8 1507.6 359.9 1513.4 351.2 1519.2 342 1524.8 331.8 1531 320 1538.6 305.5 1546.6 290 1554.6 275 1562.2 260 1568.3 246.2 1575.4 230 1587.3 205.6 1599.8 180 1609.7 159 1619 140 1629.9 121 1639.3 105.5 1642.8 99.2 1646.5 93 1656.8 77 1668 60 1676.3 49.1 1684.2 40 1694 29.5 1701 21.5"/><path d="M1284 427 1422 427 1431.7 421.5 1444 413.7 1455.1 405 1465.4 395.8 1473.9 386.8 1481.4 377.8 1488.3 368.8 1494.8 359.9 1501.1 351.2 1507.5 342 1513.7 331.8 1520.5 320 1528.9 305.5 1537.8 290 1546.5 275 1554.7 260 1561.3 246.2 1569 230 1581.6 205.6 1594.6 180 1604.9 159 1614.5 140 1625.5 121 1635 105.5 1638.6 99.2 1642.4 93 1652.9 77 1664.5 60 1673.1 49.1 1681.3 40 1691.9 29.5 1701 21.5"/><path d="M1284 427 1419 427 1428.3 421.5 1440.2 413.7 1450.7 405 1460.4 395.8 1468.4 386.8 1475.5 377.8 1481.8 368.8 1487.8 359.9 1493.7 351.2 1499.6 342 1505.4 331.8 1511.7 320 1519.5 305.5 1527.9 290 1536.2 275 1544.2 260 1550.7 246.2 1558.4 230 1571.1 205.6 1584.7 180 1595.7 159 1606.1 140 1618.1 121 1628.5 105.5 1632.5 99.2 1636.7 93 1648.2 77 1661 60 1670.5 49.1 1679.5 40 1691 29.5 1701 21.5"/><path d="M1284 427 1425 427 1434.4 421.5 1446.3 413.7 1456.8 405 1466.6 395.8 1474.6 386.8 1481.7 377.8 1488.1 368.8 1494 359.9 1500 351.2 1505.9 342 1511.7 331.8 1518 320 1525.8 305.5 1534.2 290 1542.4 275 1550.3 260 1556.7 246.2 1564.2 230 1576.7 205.6 1589.9 180 1600.5 159 1610.6 140 1622.2 121 1632.2 105.5 1636 99.2 1640 93 1651.1 77 1663.3 60 1672.4 49.1 1681 40 1691.9 29.5 1701 21.5"/><path d="M1284 427 1420.8 427 1429.9 421.5 1441.5 413.7 1451.6 405 1460.9 395.8 1468.6 386.8 1475.2 377.8 1481.2 368.8 1486.9 359.9 1492.5 351.2 1498.1 342 1503.5 331.8 1509.4 320 1516.9 305.5 1524.9 290 1532.9 275 1540.7 260 1547 246.2 1554.5 230 1567.2 205.6 1581 180 1592.2 159 1603 140 1615.4 121 1626.2 105.5 1630.4 99.2 1634.7 93 1646.7 77 1660.1 60 1669.9 49.1 1679.1 40 1690.9 29.5 1701 21.5"/><path d="M1284 427 1455.9 427 1464.7 421.5 1475.9 413.7 1485.6 405 1494.5 395.8 1501.6 386.8 1507.8 377.8 1513.4 368.8 1518.5 359.9 1523.7 351.2 1528.8 342 1533.6 331.8 1539 320 1545.6 305.5 1552.8 290 1559.9 275 1566.8 260 1572.3 246.2 1578.9 230 1590.1 205.6 1602.2 180 1611.9 159 1621.3 140 1632.2 121 1641.7 105.5 1645.3 99.2 1649.1 93 1659.4 77 1670.7 60 1678.9 49.1 1686.5 40 1695.8 29.5 1701 21.5"/><path d="M1284 427 1423.7 427 1433.1 421.5 1445.1 413.7 1455.7 405 1465.6 395.8 1473.7 386.8 1480.8 377.8 1487.3 368.8 1493.4 359.9 1499.4 351.2 1505.4 342 1511.2 331.8 1517.6 320 1525.5 305.5 1534 290 1542.3 275 1550.3 260 1556.7 246.2 1564.3 230 1576.8 205.6 1590.1 180 1600.6 159 1610.6 140 1622.2 121 1632.2 105.5 1636 99.2 1640 93 1651 77 1663.2 60 1672.3 49.1 1680.9 40 1691.8 29.5 1701 21.5"/><path d="M1284 427 1434 427 1443 421.5 1454.3 413.7 1464.1 405 1473.2 395.8 1480.5 386.8 1486.9 377.8 1492.6 368.8 1497.9 359.9 1503.3 351.2 1508.5 342 1513.7 331.8 1519.3 320 1526.3 305.5 1533.9 290 1541.4 275 1548.8 260 1554.8 246.2 1561.9 230 1574.1 205.6 1587.3 180 1598.1 159 1608.5 140 1620.5 121 1631 105.5 1635 99.2 1639.2 93 1650.8 77 1663.6 60 1672.9 49.1 1681.7 40 1692.7 29.5 1701 21.5"/><path d="M1284 427 1394.5 427 1404.2 421.5 1416.5 413.7 1427.5 405 1437.8 395.8 1446.3 386.8 1453.9 377.8 1460.8 368.8 1467.2 359.9 1473.7 351.2 1480.1 342 1486.4 331.8 1493.4 320 1502 305.5 1511.2 290 1520.3 275 1529 260 1536.1 246.2 1544.5 230 1558.3 205.6 1572.9 180 1584.6 159 1595.8 140 1608.6 121 1619.6 105.5 1623.9 99.2 1628.4 93 1640.7 77 1654.6 60 1664.9 49.1 1674.8 40 1687.8 29.5 1701 21.5"/><path d="M1284 427 1441.2 427 1450.5 421.5 1462.2 413.7 1472.5 405 1482.1 395.8 1489.9 386.8 1496.7 377.8 1502.9 368.8 1508.6 359.9 1514.3 351.2 1520 342 1525.5 331.8 1531.5 320 1539 305.5 1546.9 290 1554.7 275 1562.3 260 1568.2 246.2 1575.3 230 1587.1 205.6 1599.6 180 1609.5 159 1618.9 140 1629.8 121 1639.2 105.5 1642.8 99.2 1646.6 93 1656.9 77 1668.2 60 1676.5 49.1 1684.4 40 1694.2 29.5 1701 21.5"/><path d="M1284 427 1430.9 427 1440.1 421.5 1451.8 413.7 1462 405 1471.5 395.8 1479.2 386.8 1485.9 377.8 1492 368.8 1497.7 359.9 1503.4 351.2 1509.1 342 1514.5 331.8 1520.5 320 1528 305.5 1536 290 1543.9 275 1551.6 260 1557.7 246.2 1565 230 1577.3 205.6 1590.4 180 1600.9 159 1611 140 1622.7 121 1632.8 105.5 1636.6 99.2 1640.7 93 1651.8 77 1664.2 60 1673.2 49.1 1681.8 40 1692.6 29.5 1701 21.5"/><path d="M1284 427 1416 427 1425.3 421.5 1437.1 413.7 1447.5 405 1457.1 395.8 1465 386.8 1471.9 377.8 1478.2 368.8 1484.1 359.9 1489.9 351.2 1495.7 342 1501.4 331.8 1507.7 320 1515.4 305.5 1523.8 290 1532 275 1540 260 1546.5 246.2 1554.2 230 1567.1 205.6 1581 180 1592.2 159 1602.9 140 1615.2 121 1625.9 105.5 1630.1 99.2 1634.4 93 1646.3 77 1659.5 60 1669.3 49.1 1678.6 40 1690.5 29.5 1701 21.5"/><path d="M1284 427 1425.2 427 1434.6 421.5 1446.4 413.7 1456.8 405 1466.5 395.8 1474.4 386.8 1481.4 377.8 1487.7 368.8 1493.6 359.9 1499.4 351.2 1505.3 342 1511 331.8 1517.2 320 1524.9 305.5 1533.2 290 1541.3 275 1549.2 260 1555.5 246.2 1563 230 1575.5 205.6 1588.8 180 1599.5 159 1609.6 140 1621.3 121 1631.5 105.5 1635.3 99.2 1639.4 93 1650.6 77 1663 60 1672.2 49.1 1680.8 40 1691.9 29.5 1701 21.5"/><path d="M1284 427 1427.4 427 1436.8 421.5 1448.9 413.7 1459.5 405 1469.4 395.8 1477.6 386.8 1484.7 377.8 1491.2 368.8 1497.3 359.9 1503.3 351.2 1509.4 342 1515.2 331.8 1521.7 320 1529.6 305.5 1538 290 1546.3 275 1554.3 260 1560.6 246.2 1568.1 230 1580.5 205.6 1593.5 180 1603.8 159 1613.6 140 1624.9 121 1634.6 105.5 1638.3 99.2 1642.2 93 1652.9 77 1664.7 60 1673.5 49.1 1681.8 40 1692.4 29.5 1701 21.5"/><path d="M1284 427 1434.9 427 1444.2 421.5 1455.9 413.7 1466.3 405 1475.9 395.8 1483.7 386.8 1490.6 377.8 1496.8 368.8 1502.6 359.9 1508.4 351.2 1514.1 342 1519.7 331.8 1525.8 320 1533.4 305.5 1541.4 290 1549.4 275 1557.1 260 1563.1 246.2 1570.4 230 1582.4 205.6 1595.3 180 1605.5 159 1615.2 140 1626.4 121 1636.1 105.5 1639.8 99.2 1643.7 93 1654.4 77 1666.1 60 1674.8 49.1 1683 40 1693.3 29.5 1701 21.5"/><path d="M1284 427 1430.7 427 1440 421.5 1451.9 413.7 1462.4 405 1472.1 395.8 1480 386.8 1487 377.8 1493.3 368.8 1499.2 359.9 1505.1 351.2 1511 342 1516.7 331.8 1522.9 320 1530.6 305.5 1538.8 290 1546.9 275 1554.7 260 1560.9 246.2 1568.3 230 1580.5 205.6 1593.5 180 1603.8 159 1613.6 140 1625 121 1634.8 105.5 1638.5 99.2 1642.4 93 1653.2 77 1665.1 60 1673.9 49.1 1682.2 40 1692.7 29.5 1701 21.5"/><path d="M1284 427 1427.8 427 1437.1 421.5 1448.7 413.7 1459 405 1468.5 395.8 1476.2 386.8 1483 377.8 1489.2 368.8 1494.9 359.9 1500.6 351.2 1506.3 342 1511.8 331.8 1517.8 320 1525.3 305.5 1533.4 290 1541.4 275 1549.1 260 1555.3 246.2 1562.7 230 1575.1 205.6 1588.4 180 1599.1 159 1609.3 140 1621.1 121 1631.3 105.5 1635.2 99.2 1639.4 93 1650.7 77 1663.2 60 1672.4 49.1 1681.1 40 1692.1 29.5 1701 21.5"/><path d="M1284 427 1438.7 427 1447.5 421.5 1458.7 413.7 1468.3 405 1477.1 395.8 1484.3 386.8 1490.4 377.8 1495.9 368.8 1501.1 359.9 1506.2 351.2 1511.3 342 1516.2 331.8 1521.6 320 1528.3 305.5 1535.6 290 1543 275 1550.2 260 1555.9 246.2 1563 230 1574.9 205.6 1588.1 180 1598.8 159 1609.1 140 1621.2 121 1631.7 105.5 1635.7 99.2 1639.9 93 1651.5 77 1664.3 60 1673.6 49.1 1682.3 40 1693.2 29.5 1701 21.5"/><path d="M1284 427 1447.5 427 1456.8 421.5 1468.6 413.7 1478.9 405 1488.5 395.8 1496.4 386.8 1503.2 377.8 1509.4 368.8 1515.2 359.9 1521 351.2 1526.7 342 1532.2 331.8 1538.2 320 1545.7 305.5 1553.6 290 1561.4 275 1568.8 260 1574.7 246.2 1581.6 230 1593.1 205.6 1605.2 180 1614.7 159 1623.7 140 1634.2 121 1643.2 105.5 1646.6 99.2 1650.1 93 1659.9 77 1670.7 60 1678.5 49.1 1686 40 1695.2 29.5 1701 21.5"/><path d="M1284 427 1411.8 427 1421.1 421.5 1432.9 413.7 1443.3 405 1452.9 395.8 1460.9 386.8 1467.8 377.8 1474.1 368.8 1480 359.9 1485.8 351.2 1491.7 342 1497.4 331.8 1503.7 320 1511.5 305.5 1519.9 290 1528.2 275 1536.3 260 1542.9 246.2 1550.7 230 1563.8 205.6 1577.9 180 1589.3 159 1600.2 140 1612.8 121 1623.7 105.5 1627.9 99.2 1632.4 93 1644.5 77 1658.1 60 1668.1 49.1 1677.6 40 1689.8 29.5 1701 21.5"/><path d="M1284 427 1415.9 427 1425.5 421.5 1437.8 413.7 1448.7 405 1458.8 395.8 1467.3 386.8 1474.7 377.8 1481.4 368.8 1487.8 359.9 1494.1 351.2 1500.3 342 1506.5 331.8 1513.2 320 1521.6 305.5 1530.4 290 1539 275 1547.4 260 1554 246.2 1561.8 230 1574.7 205.6 1588.2 180 1598.8 159 1608.9 140 1620.5 121 1630.5 105.5 1634.4 99.2 1638.4 93 1649.4 77 1661.8 60 1670.9 49.1 1679.6 40 1690.9 29.5 1701 21.5"/><path d="M1284 427 1438.5 427 1447.5 421.5 1458.8 413.7 1468.6 405 1477.6 395.8 1484.9 386.8 1491.3 377.8 1497 368.8 1502.3 359.9 1507.6 351.2 1512.9 342 1517.9 331.8 1523.5 320 1530.5 305.5 1538 290 1545.5 275 1552.8 260 1558.6 246.2 1565.7 230 1577.6 205.6 1590.6 180 1601.1 159 1611.3 140 1623.1 121 1633.3 105.5 1637.2 99.2 1641.4 93 1652.6 77 1665.1 60 1674.2 49.1 1682.7 40 1693.3 29.5 1701 21.5"/><path d="M1284 427 1390.4 427 1399.7 421.5 1411.5 413.7 1421.9 405 1431.6 395.8 1439.5 386.8 1446.5 377.8 1452.9 368.8 1458.8 359.9 1464.7 351.2 1470.7 342 1476.5 331.8 1482.9 320 1491 305.5 1499.7 290 1508.3 275 1516.8 260 1523.7 246.2 1532.1 230 1546.2 205.6 1561.5 180 1574 159 1586.1 140 1599.9 121 1612 105.5 1616.7 99.2 1621.7 93 1635.2 77 1650.5 60 1661.8 49.1 1672.6 40 1686.6 29.5 1701 21.5"/><path d="M1284 427 1417.1 427 1426.1 421.5 1437.5 413.7 1447.5 405 1456.7 395.8 1464.2 386.8 1470.7 377.8 1476.6 368.8 1482.1 359.9 1487.6 351.2 1493.1 342 1498.4 331.8 1504.3 320 1511.6 305.5 1519.5 290 1527.4 275 1535.2 260 1541.5 246.2 1549.1 230 1562 205.6 1576.1 180 1587.7 159 1598.8 140 1611.7 121 1622.9 105.5 1627.2 99.2 1631.7 93 1644.2 77 1658.1 60 1668.3 49.1 1677.9 40 1690.2 29.5 1701 21.5"/><path d="M1284 427 1424.4 427 1433.5 421.5 1445 413.7 1455 405 1464.2 395.8 1471.8 386.8 1478.3 377.8 1484.2 368.8 1489.7 359.9 1495.2 351.2 1500.7 342 1506 331.8 1511.9 320 1519.2 305.5 1527 290 1534.9 275 1542.6 260 1548.7 246.2 1556.2 230 1568.8 205.6 1582.4 180 1593.5 159 1604.2 140 1616.6 121 1627.3 105.5 1631.4 99.2 1635.8 93 1647.7 77 1660.9 60 1670.6 49.1 1679.8 40 1691.4 29.5 1701 21.5"/><path d="M1284 427 1442.7 427 1451.9 421.5 1463.5 413.7 1473.7 405 1483.1 395.8 1490.9 386.8 1497.6 377.8 1503.6 368.8 1509.3 359.9 1514.9 351.2 1520.5 342 1525.9 331.8 1531.8 320 1539.2 305.5 1547 290 1554.7 275 1562.2 260 1568.1 246.2 1575.1 230 1586.8 205.6 1599.3 180 1609.2 159 1618.7 140 1629.7 121 1639.1 105.5 1642.7 99.2 1646.5 93 1656.9 77 1668.3 60 1676.6 49.1 1684.5 40 1694.3 29.5 1701 21.5"/><path d="M1284 427 1437.2 427 1446.4 421.5 1458 413.7 1468.3 405 1477.8 395.8 1485.5 386.8 1492.3 377.8 1498.4 368.8 1504.1 359.9 1509.8 351.2 1515.4 342 1520.9 331.8 1526.9 320 1534.3 305.5 1542.2 290 1550.1 275 1557.7 260 1563.7 246.2 1570.9 230 1582.8 205.6 1595.6 180 1605.8 159 1615.5 140 1626.7 121 1636.4 105.5 1640.1 99.2 1644 93 1654.7 77 1666.5 60 1675.1 49.1 1683.3 40 1693.5 29.5 1701 21.5"/><path d="M1284 427 1417.3 427 1426.8 421.5 1439 413.7 1449.8 405 1459.9 395.8 1468.2 386.8 1475.6 377.8 1482.2 368.8 1488.5 359.9 1494.7 351.2 1500.9 342 1507 331.8 1513.6 320 1521.8 305.5 1530.6 290 1539.1 275 1547.4 260 1554 246.2 1561.8 230 1574.5 205.6 1588 180 1598.7 159 1608.8 140 1620.5 121 1630.5 105.5 1634.4 99.2 1638.4 93 1649.5 77 1661.9 60 1671 49.1 1679.8 40 1691 29.5 1701 21.5"/><path d="M1284 427 1426.7 427 1436 421.5 1447.8 413.7 1458.2 405 1467.9 395.8 1475.8 386.8 1482.7 377.8 1488.9 368.8 1494.8 359.9 1500.6 351.2 1506.4 342 1512.1 331.8 1518.2 320 1525.9 305.5 1534.1 290 1542.2 275 1550.1 260 1556.3 246.2 1563.8 230 1576.2 205.6 1589.5 180 1600.1 159 1610.2 140 1621.9 121 1631.9 105.5 1635.8 99.2 1639.9 93 1651 77 1663.4 60 1672.5 49.1 1681.1 40 1692.1 29.5 1701 21.5"/><path d="M1284 427 1429.8 427 1439 421.5 1450.7 413.7 1460.9 405 1470.3 395.8 1478.1 386.8 1484.8 377.8 1490.9 368.8 1496.6 359.9 1502.3 351.2 1507.9 342 1513.4 331.8 1519.4 320 1526.8 305.5 1534.8 290 1542.8 275 1550.4 260 1556.6 246.2 1563.9 230 1576.2 205.6 1589.4 180 1600 159 1610.2 140 1621.9 121 1632.1 105.5 1636 99.2 1640.1 93 1651.3 77 1663.7 60 1672.9 49.1 1681.5 40 1692.4 29.5 1701 21.5"/><path d="M1284 427 1430.8 427 1440.2 421.5 1452.2 413.7 1462.8 405 1472.7 395.8 1480.8 386.8 1487.9 377.8 1494.4 368.8 1500.4 359.9 1506.4 351.2 1512.4 342 1518.2 331.8 1524.6 320 1532.4 305.5 1540.8 290 1549 275 1556.9 260 1563.1 246.2 1570.6 230 1582.7 205.6 1595.6 180 1605.8 159 1615.4 140 1626.5 121 1636.1 105.5 1639.8 99.2 1643.6 93 1654.1 77 1665.8 60 1674.4 49.1 1682.5 40 1692.9 29.5 1701 21.5"/><path d="M1284 427 1415.3 427 1424.9 421.5 1437.2 413.7 1448.2 405 1458.4 395.8 1466.9 386.8 1474.4 377.8 1481.3 368.8 1487.7 359.9 1494 351.2 1500.3 342 1506.6 331.8 1513.4 320 1521.8 305.5 1530.7 290 1539.4 275 1547.8 260 1554.4 246.2 1562.3 230 1575.1 205.6 1588.6 180 1599.3 159 1609.3 140 1620.9 121 1630.8 105.5 1634.6 99.2 1638.6 93 1649.6 77 1661.8 60 1670.9 49.1 1679.6 40 1690.9 29.5 1701 21.5"/><path d="M1284 427 1444.7 427 1453.8 421.5 1465.4 413.7 1475.7 405 1485.1 395.8 1492.8 386.8 1499.5 377.8 1505.5 368.8 1511.1 359.9 1516.8 351.2 1522.3 342 1527.7 331.8 1533.6 320 1540.9 305.5 1548.7 290 1556.4 275 1563.8 260 1569.6 246.2 1576.6 230 1588.2 205.6 1600.6 180 1610.5 159 1619.8 140 1630.7 121 1640.1 105.5 1643.6 99.2 1647.4 93 1657.6 77 1668.9 60 1677.2 49.1 1684.9 40 1694.6 29.5 1701 21.5"/><path d="M1284 427 1402.3 427 1411.7 421.5 1423.7 413.7 1434.3 405 1444.1 395.8 1452.2 386.8 1459.3 377.8 1465.8 368.8 1471.9 359.9 1477.9 351.2 1484 342 1489.9 331.8 1496.4 320 1504.5 305.5 1513.2 290 1521.8 275 1530.2 260 1537 246.2 1545.1 230 1558.6 205.6 1573.1 180 1584.8 159 1596 140 1608.9 121 1620.1 105.5 1624.4 99.2 1629 93 1641.5 77 1655.5 60 1665.9 49.1 1675.7 40 1688.6 29.5 1701 21.5"/><path d="M1284 427 1451.2 427 1460.3 421.5 1471.7 413.7 1481.7 405 1491 395.8 1498.5 386.8 1505 377.8 1510.9 368.8 1516.3 359.9 1521.8 351.2 1527.1 342 1532.3 331.8 1538 320 1545.1 305.5 1552.6 290 1560 275 1567.2 260 1572.9 246.2 1579.7 230 1591 205.6 1603.2 180 1612.9 159 1622.1 140 1632.8 121 1642.1 105.5 1645.6 99.2 1649.3 93 1659.4 77 1670.4 60 1678.5 49.1 1686.1 40 1695.4 29.5 1701 21.5"/><path d="M1284 427 1435.2 427 1444.4 421.5 1456.1 413.7 1466.3 405 1475.7 395.8 1483.5 386.8 1490.2 377.8 1496.3 368.8 1502 359.9 1507.6 351.2 1513.2 342 1518.7 331.8 1524.6 320 1532 305.5 1540 290 1547.8 275 1555.4 260 1561.4 246.2 1568.7 230 1580.7 205.6 1593.6 180 1603.9 159 1613.8 140 1625.2 121 1635.1 105.5 1638.8 99.2 1642.8 93 1653.7 77 1665.7 60 1674.5 49.1 1682.8 40 1693.2 29.5 1701 21.5"/><path d="M1284 427 1417.2 427 1426.5 421.5 1438.5 413.7 1449 405 1458.8 395.8 1466.8 386.8 1473.9 377.8 1480.3 368.8 1486.3 359.9 1492.3 351.2 1498.3 342 1504.1 331.8 1510.5 320 1518.4 305.5 1526.8 290 1535.2 275 1543.3 260 1549.8 246.2 1557.5 230 1570.3 205.6 1584 180 1595 159 1605.5 140 1617.5 121 1627.9 105.5 1631.9 99.2 1636.2 93 1647.7 77 1660.6 60 1670.1 49.1 1679.2 40 1690.8 29.5 1701 21.5"/><path d="M1284 427 1413.5 427 1422.9 421.5 1435 413.7 1445.6 405 1455.5 395.8 1463.7 386.8 1470.8 377.8 1477.3 368.8 1483.5 359.9 1489.5 351.2 1495.6 342 1501.5 331.8 1508 320 1516.1 305.5 1524.7 290 1533.2 275 1541.4 260 1548 246.2 1555.8 230 1568.8 205.6 1582.6 180 1593.7 159 1604.2 140 1616.4 121 1626.9 105.5 1630.9 99.2 1635.1 93 1646.8 77 1659.8 60 1669.4 49.1 1678.5 40 1690.3 29.5 1701 21.5"/><path d="M1284 427 1424.9 427 1434.4 421.5 1446.6 413.7 1457.3 405 1467.4 395.8 1475.6 386.8 1482.9 377.8 1489.5 368.8 1495.8 359.9 1501.9 351.2 1508 342 1514 331.8 1520.6 320 1528.7 305.5 1537.3 290 1545.7 275 1553.8 260 1560.2 246.2 1567.8 230 1580.2 205.6 1593.3 180 1603.6 159 1613.4 140 1624.7 121 1634.3 105.5 1638 99.2 1641.9 93 1652.6 77 1664.4 60 1673.1 49.1 1681.5 40 1692.2 29.5 1701 21.5"/><path d="M1284 427 1441.3 427 1450.6 421.5 1462.4 413.7 1472.9 405 1482.5 395.8 1490.5 386.8 1497.4 377.8 1503.7 368.8 1509.6 359.9 1515.4 351.2 1521.2 342 1526.8 331.8 1532.9 320 1540.5 305.5 1548.6 290 1556.5 275 1564.1 260 1570.1 246.2 1577.2 230 1589 205.6 1601.4 180 1611.2 159 1620.4 140 1631.2 121 1640.4 105.5 1643.9 99.2 1647.6 93 1657.7 77 1668.8 60 1676.9 49.1 1684.7 40 1694.3 29.5 1701 21.5"/><path d="M1284 427 1430.9 427 1440.2 421.5 1452.1 413.7 1462.5 405 1472.2 395.8 1480.2 386.8 1487.2 377.8 1493.5 368.8 1499.4 359.9 1505.3 351.2 1511.1 342 1516.8 331.8 1523 320 1530.8 305.5 1539 290 1547.1 275 1554.9 260 1561.1 246.2 1568.4 230 1580.6 205.6 1593.6 180 1603.9 159 1613.7 140 1625.1 121 1634.8 105.5 1638.6 99.2 1642.5 93 1653.3 77 1665.2 60 1673.9 49.1 1682.2 40 1692.8 29.5 1701 21.5"/><path d="M1284 427 1415.2 427 1424.4 421.5 1436.1 413.7 1446.4 405 1455.9 395.8 1463.7 386.8 1470.6 377.8 1476.8 368.8 1482.5 359.9 1488.3 351.2 1494 342 1499.7 331.8 1505.8 320 1513.5 305.5 1521.7 290 1529.9 275 1537.9 260 1544.3 246.2 1552.1 230 1565 205.6 1579 180 1590.3 159 1601.2 140 1613.7 121 1624.6 105.5 1628.8 99.2 1633.2 93 1645.3 77 1658.8 60 1668.8 49.1 1678.2 40 1690.2 29.5 1701 21.5"/><path d="M1284 427 1404.6 427 1414 421.5 1426 413.7 1436.5 405 1446.3 395.8 1454.4 386.8 1461.5 377.8 1468 368.8 1474 359.9 1480 351.2 1486 342 1491.9 331.8 1498.4 320 1506.5 305.5 1515.1 290 1523.6 275 1532 260 1538.7 246.2 1546.8 230 1560.1 205.6 1574.5 180 1586.1 159 1597.3 140 1610.1 121 1621.2 105.5 1625.5 99.2 1630 93 1642.3 77 1656.2 60 1666.5 49.1 1676.2 40 1688.9 29.5 1701 21.5"/><path d="M1284 427 1430.5 427 1439.7 421.5 1451.4 413.7 1461.7 405 1471.2 395.8 1479 386.8 1485.8 377.8 1491.9 368.8 1497.7 359.9 1503.4 351.2 1509.1 342 1514.6 331.8 1520.6 320 1528.2 305.5 1536.2 290 1544.2 275 1551.9 260 1558 246.2 1565.4 230 1577.6 205.6 1590.8 180 1601.3 159 1611.3 140 1622.9 121 1633 105.5 1636.8 99.2 1640.9 93 1651.9 77 1664.2 60 1673.2 49.1 1681.8 40 1692.5 29.5 1701 21.5"/><path d="M1284 427 1446.1 427 1455.3 421.5 1467 413.7 1477.2 405 1486.7 395.8 1494.5 386.8 1501.3 377.8 1507.4 368.8 1513.1 359.9 1518.8 351.2 1524.4 342 1529.8 331.8 1535.8 320 1543.2 305.5 1551 290 1558.7 275 1566.1 260 1572 246.2 1579 230 1590.5 205.6 1602.8 180 1612.5 159 1621.6 140 1632.3 121 1641.5 105.5 1645 99.2 1648.7 93 1658.7 77 1669.7 60 1677.8 49.1 1685.4 40 1694.9 29.5 1701 21.5"/><path d="M1284 427 1417.2 427 1426.8 421.5 1438.9 413.7 1449.7 405 1459.7 395.8 1467.9 386.8 1475.2 377.8 1481.9 368.8 1488.1 359.9 1494.2 351.2 1500.4 342 1506.4 331.8 1513 320 1521.2 305.5 1529.8 290 1538.4 275 1546.6 260 1553.1 246.2 1560.9 230 1573.7 205.6 1587.2 180 1598 159 1608.2 140 1619.9 121 1630 105.5 1633.9 99.2 1638 93 1649.2 77 1661.6 60 1670.9 49.1 1679.7 40 1691 29.5 1701 21.5"/><path d="M1284 427 1422.9 427 1432.3 421.5 1444.2 413.7 1454.8 405 1464.5 395.8 1472.6 386.8 1479.6 377.8 1486 368.8 1492 359.9 1497.9 351.2 1503.9 342 1509.6 331.8 1516 320 1523.8 305.5 1532.2 290 1540.5 275 1548.4 260 1554.8 246.2 1562.4 230 1575 205.6 1588.3 180 1599 159 1609.2 140 1620.9 121 1631 105.5 1634.9 99.2 1639 93 1650.2 77 1662.6 60 1671.8 49.1 1680.5 40 1691.6 29.5 1701 21.5"/><path d="M1284 427 1407.9 427 1417.3 421.5 1429.2 413.7 1439.7 405 1449.5 395.8 1457.6 386.8 1464.7 377.8 1471.1 368.8 1477.2 359.9 1483.2 351.2 1489.2 342 1495 331.8 1501.5 320 1509.5 305.5 1518.1 290 1526.6 275 1534.8 260 1541.5 246.2 1549.5 230 1562.7 205.6 1576.9 180 1588.4 159 1599.3 140 1612 121 1622.9 105.5 1627.1 99.2 1631.5 93 1643.7 77 1657.3 60 1667.4 49.1 1677 40 1689.4 29.5 1701 21.5"/><path d="M1284 427 1424.1 427 1433.4 421.5 1445.1 413.7 1455.5 405 1465.1 395.8 1472.9 386.8 1479.8 377.8 1486 368.8 1491.8 359.9 1497.6 351.2 1503.4 342 1509 331.8 1515.2 320 1522.8 305.5 1531 290 1539.1 275 1547 260 1553.3 246.2 1560.8 230 1573.3 205.6 1586.8 180 1597.5 159 1607.9 140 1619.8 121 1630.1 105.5 1634 99.2 1638.2 93 1649.6 77 1662.3 60 1671.6 49.1 1680.4 40 1691.6 29.5 1701 21.5"/><path d="M1284 427 1435.1 427 1444.5 421.5 1456.5 413.7 1467.1 405 1476.9 395.8 1485 386.8 1492.1 377.8 1498.5 368.8 1504.5 359.9 1510.5 351.2 1516.4 342 1522.2 331.8 1528.5 320 1536.3 305.5 1544.6 290 1552.7 275 1560.5 260 1566.7 246.2 1574 230 1586 205.6 1598.6 180 1608.6 159 1618 140 1628.9 121 1638.3 105.5 1641.8 99.2 1645.6 93 1655.9 77 1667.2 60 1675.6 49.1 1683.5 40 1693.5 29.5 1701 21.5"/><path d="M1284 427 1427.8 427 1437 421.5 1448.8 413.7 1459.1 405 1468.7 395.8 1476.5 386.8 1483.4 377.8 1489.6 368.8 1495.4 359.9 1501.1 351.2 1506.9 342 1512.5 331.8 1518.6 320 1526.2 305.5 1534.3 290 1542.4 275 1550.1 260 1556.4 246.2 1563.8 230 1576.2 205.6 1589.4 180 1600 159 1610.1 140 1621.8 121 1632 105.5 1635.8 99.2 1639.9 93 1651.1 77 1663.5 60 1672.6 49.1 1681.2 40 1692.2 29.5 1701 21.5"/><path d="M1284 427 1434.6 427 1443.9 421.5 1455.7 413.7 1466.1 405 1475.7 395.8 1483.5 386.8 1490.4 377.8 1496.7 368.8 1502.5 359.9 1508.3 351.2 1514 342 1519.6 331.8 1525.7 320 1533.3 305.5 1541.4 290 1549.3 275 1557 260 1563.1 246.2 1570.4 230 1582.5 205.6 1595.3 180 1605.5 159 1615.2 140 1626.4 121 1636.1 105.5 1639.8 99.2 1643.7 93 1654.3 77 1666.1 60 1674.8 49.1 1682.9 40 1693.2 29.5 1701 21.5"/><path d="M1284 427 1420 427 1429.5 421.5 1441.6 413.7 1452.2 405 1462.2 395.8 1470.4 386.8 1477.6 377.8 1484.1 368.8 1490.3 359.9 1496.4 351.2 1502.4 342 1508.4 331.8 1514.9 320 1522.9 305.5 1531.5 290 1539.9 275 1548 260 1554.5 246.2 1562.2 230 1574.9 205.6 1588.3 180 1599 159 1609.1 140 1620.8 121 1630.8 105.5 1634.7 99.2 1638.8 93 1649.9 77 1662.3 60 1671.4 49.1 1680.1 40 1691.3 29.5 1701 21.5"/><path d="M1284 427 1418 427 1427.4 421.5 1439.3 413.7 1449.9 405 1459.7 395.8 1467.8 386.8 1474.8 377.8 1481.3 368.8 1487.3 359.9 1493.3 351.2 1499.2 342 1505.1 331.8 1511.5 320 1519.4 305.5 1527.9 290 1536.2 275 1544.3 260 1550.8 246.2 1558.5 230 1571.3 205.6 1584.9 180 1595.8 159 1606.2 140 1618.2 121 1628.6 105.5 1632.5 99.2 1636.7 93 1648.2 77 1661 60 1670.4 49.1 1679.4 40 1690.9 29.5 1701 21.5"/><path d="M1284 427 1424.5 427 1433.6 421.5 1445.2 413.7 1455.4 405 1464.7 395.8 1472.4 386.8 1479.1 377.8 1485.1 368.8 1490.8 359.9 1496.4 351.2 1502 342 1507.4 331.8 1513.4 320 1520.8 305.5 1528.8 290 1536.8 275 1544.5 260 1550.7 246.2 1558.2 230 1570.7 205.6 1584.3 180 1595.3 159 1605.8 140 1618 121 1628.5 105.5 1632.6 99.2 1636.8 93 1648.5 77 1661.5 60 1671.1 49.1 1680.1 40 1691.5 29.5 1701 21.5"/><path d="M1284 427 1420.3 427 1429.7 421.5 1441.7 413.7 1452.3 405 1462.1 395.8 1470.2 386.8 1477.3 377.8 1483.8 368.8 1489.8 359.9 1495.8 351.2 1501.8 342 1507.6 331.8 1514.1 320 1522 305.5 1530.5 290 1538.8 275 1546.9 260 1553.3 246.2 1561 230 1573.6 205.6 1587.1 180 1597.9 159 1608.1 140 1619.9 121 1630.1 105.5 1634 99.2 1638.1 93 1649.4 77 1661.9 60 1671.2 49.1 1680 40 1691.3 29.5 1701 21.5"/><path d="M1284 427 1404.3 427 1413.7 421.5 1425.6 413.7 1436.2 405 1446 395.8 1454.1 386.8 1461.2 377.8 1467.7 368.8 1473.8 359.9 1479.8 351.2 1485.8 342 1491.7 331.8 1498.2 320 1506.3 305.5 1514.9 290 1523.5 275 1531.9 260 1538.6 246.2 1546.7 230 1560 205.6 1574.4 180 1586.1 159 1597.2 140 1610 121 1621.1 105.5 1625.4 99.2 1629.9 93 1642.3 77 1656.2 60 1666.4 49.1 1676.2 40 1688.9 29.5 1701 21.5"/><path d="M1284 427 1421 427 1430.2 421.5 1442 413.7 1452.3 405 1461.9 395.8 1469.8 386.8 1476.6 377.8 1482.8 368.8 1488.7 359.9 1494.5 351.2 1500.2 342 1505.9 331.8 1512 320 1519.7 305.5 1527.9 290 1536.1 275 1544 260 1550.4 246.2 1558 230 1570.6 205.6 1584.3 180 1595.2 159 1605.7 140 1617.8 121 1628.3 105.5 1632.3 99.2 1636.6 93 1648.2 77 1661.1 60 1670.6 49.1 1679.6 40 1691.2 29.5 1701 21.5"/><path d="M1284 427 1439.3 427 1448.6 421.5 1460.5 413.7 1471 405 1480.8 395.8 1488.8 386.8 1495.8 377.8 1502.1 368.8 1508.1 359.9 1513.9 351.2 1519.8 342 1525.5 331.8 1531.7 320 1539.4 305.5 1547.5 290 1555.5 275 1563.2 260 1569.3 246.2 1576.4 230 1588.3 205.6 1600.7 180 1610.6 159 1619.8 140 1630.6 121 1639.9 105.5 1643.4 99.2 1647.1 93 1657.2 77 1668.3 60 1676.5 49.1 1684.3 40 1694.1 29.5 1701 21.5"/><path d="M1284 427 1439.4 427 1448.7 421.5 1460.7 413.7 1471.2 405 1480.9 395.8 1489 386.8 1496 377.8 1502.4 368.8 1508.3 359.9 1514.2 351.2 1520.1 342 1525.8 331.8 1532 320 1539.7 305.5 1547.9 290 1555.9 275 1563.6 260 1569.7 246.2 1576.9 230 1588.7 205.6 1601.1 180 1610.9 159 1620.2 140 1630.9 121 1640.1 105.5 1643.6 99.2 1647.3 93 1657.4 77 1668.5 60 1676.6 49.1 1684.4 40 1694.1 29.5 1701 21.5"/><path d="M1284 427 1428.1 427 1437.4 421.5 1449.3 413.7 1459.8 405 1469.5 395.8 1477.5 386.8 1484.4 377.8 1490.8 368.8 1496.7 359.9 1502.6 351.2 1508.5 342 1514.2 331.8 1520.4 320 1528.2 305.5 1536.4 290 1544.6 275 1552.4 260 1558.7 246.2 1566.1 230 1578.5 205.6 1591.6 180 1602.1 159 1612 140 1623.5 121 1633.4 105.5 1637.2 99.2 1641.2 93 1652.1 77 1664.2 60 1673.1 49.1 1681.6 40 1692.4 29.5 1701 21.5"/><path d="M1284 427 1414.9 427 1424.5 421.5 1436.9 413.7 1447.9 405 1458.1 395.8 1466.6 386.8 1474.2 377.8 1481 368.8 1487.4 359.9 1493.8 351.2 1500.1 342 1506.4 331.8 1513.2 320 1521.6 305.5 1530.6 290 1539.3 275 1547.7 260 1554.4 246.2 1562.3 230 1575.1 205.6 1588.6 180 1599.2 159 1609.3 140 1620.8 121 1630.8 105.5 1634.6 99.2 1638.6 93 1649.5 77 1661.8 60 1670.9 49.1 1679.6 40 1690.8 29.5 1701 21.5"/><path d="M1284 427 1441.3 427 1450.5 421.5 1462.2 413.7 1472.5 405 1482 395.8 1489.8 386.8 1496.6 377.8 1502.8 368.8 1508.5 359.9 1514.2 351.2 1519.9 342 1525.4 331.8 1531.4 320 1538.8 305.5 1546.7 290 1554.5 275 1562.1 260 1568 246.2 1575.1 230 1586.9 205.6 1599.4 180 1609.3 159 1618.7 140 1629.7 121 1639.1 105.5 1642.7 99.2 1646.5 93 1656.8 77 1668.1 60 1676.5 49.1 1684.3 40 1694.2 29.5 1701 21.5"/><path d="M1284 427 1426.7 427 1436 421.5 1447.7 413.7 1458 405 1467.5 395.8 1475.3 386.8 1482.1 377.8 1488.3 368.8 1494 359.9 1499.8 351.2 1505.5 342 1511 331.8 1517.1 320 1524.7 305.5 1532.8 290 1540.8 275 1548.6 260 1554.8 246.2 1562.3 230 1574.7 205.6 1588 180 1598.7 159 1608.9 140 1620.8 121 1631 105.5 1634.9 99.2 1639.1 93 1650.4 77 1662.9 60 1672.2 49.1 1680.9 40 1692 29.5 1701 21.5"/><path d="M1284 427 1435.1 427 1444.5 421.5 1456.5 413.7 1467.1 405 1476.8 395.8 1484.9 386.8 1492 377.8 1498.4 368.8 1504.4 359.9 1510.3 351.2 1516.2 342 1522 331.8 1528.3 320 1536 305.5 1544.3 290 1552.4 275 1560.2 260 1566.3 246.2 1573.6 230 1585.6 205.6 1598.3 180 1608.3 159 1617.7 140 1628.7 121 1638.1 105.5 1641.6 99.2 1645.4 93 1655.7 77 1667.1 60 1675.5 49.1 1683.5 40 1693.5 29.5 1701 21.5"/><path d="M1284 427 1437.3 427 1446.3 421.5 1457.8 413.7 1467.8 405 1476.9 395.8 1484.4 386.8 1490.9 377.8 1496.8 368.8 1502.3 359.9 1507.7 351.2 1513.1 342 1518.3 331.8 1524.1 320 1531.2 305.5 1538.9 290 1546.5 275 1553.9 260 1559.8 246.2 1567 230 1578.9 205.6 1591.9 180 1602.3 159 1612.4 140 1624 121 1634.1 105.5 1637.9 99.2 1642 93 1653.1 77 1665.4 60 1674.3 49.1 1682.7 40 1693.3 29.5 1701 21.5"/><path d="M1284 427 1446.9 427 1455.7 421.5 1466.8 413.7 1476.5 405 1485.3 395.8 1492.5 386.8 1498.7 377.8 1504.2 368.8 1509.4 359.9 1514.5 351.2 1519.6 342 1524.5 331.8 1529.8 320 1536.6 305.5 1543.8 290 1551 275 1558.1 260 1563.7 246.2 1570.5 230 1582.2 205.6 1594.8 180 1605.1 159 1614.9 140 1626.5 121 1636.5 105.5 1640.3 99.2 1644.3 93 1655.3 77 1667.3 60 1676.1 49.1 1684.3 40 1694.4 29.5 1701 21.5"/><path d="M1284 427 1413.2 427 1422.3 421.5 1434 413.7 1444.2 405 1453.6 395.8 1461.4 386.8 1468.1 377.8 1474.2 368.8 1479.9 359.9 1485.6 351.2 1491.3 342 1496.9 331.8 1503 320 1510.6 305.5 1518.8 290 1526.9 275 1534.9 260 1541.3 246.2 1549.1 230 1562.2 205.6 1576.3 180 1587.8 159 1598.9 140 1611.7 121 1622.8 105.5 1627.1 99.2 1631.6 93 1643.9 77 1657.8 60 1667.9 49.1 1677.5 40 1689.9 29.5 1701 21.5"/><path d="M1284 427 1418.7 427 1428.2 421.5 1440.2 413.7 1450.9 405 1460.8 395.8 1468.9 386.8 1476.1 377.8 1482.6 368.8 1488.7 359.9 1494.8 351.2 1500.9 342 1506.8 331.8 1513.3 320 1521.3 305.5 1529.8 290 1538.2 275 1546.4 260 1552.9 246.2 1560.6 230 1573.3 205.6 1586.9 180 1597.6 159 1607.9 140 1619.7 121 1629.8 105.5 1633.7 99.2 1637.9 93 1649.1 77 1661.7 60 1670.9 49.1 1679.8 40 1691.1 29.5 1701 21.5"/><path d="M1284 427 1428.2 427 1437.5 421.5 1449.3 413.7 1459.8 405 1469.4 395.8 1477.3 386.8 1484.3 377.8 1490.6 368.8 1496.4 359.9 1502.3 351.2 1508.1 342 1513.7 331.8 1519.9 320 1527.6 305.5 1535.8 290 1543.9 275 1551.8 260 1558 246.2 1565.4 230 1577.8 205.6 1590.9 180 1601.4 159 1611.4 140 1623 121 1633 105.5 1636.8 99.2 1640.8 93 1651.8 77 1664 60 1673 49.1 1681.5 40 1692.3 29.5 1701 21.5"/><path d="M1284 427 1416.7 427 1426.4 421.5 1438.8 413.7 1449.8 405 1460.1 395.8 1468.6 386.8 1476.1 377.8 1483 368.8 1489.4 359.9 1495.8 351.2 1502.1 342 1508.4 331.8 1515.2 320 1523.6 305.5 1532.5 290 1541.3 275 1549.6 260 1556.3 246.2 1564.1 230 1576.9 205.6 1590.3 180 1600.8 159 1610.7 140 1622.1 121 1631.9 105.5 1635.7 99.2 1639.6 93 1650.5 77 1662.5 60 1671.5 49.1 1680.1 40 1691.1 29.5 1701 21.5"/><path d="M1284 427 1427.5 427 1436.7 421.5 1448.5 413.7 1458.8 405 1468.4 395.8 1476.2 386.8 1483.1 377.8 1489.3 368.8 1495.1 359.9 1500.9 351.2 1506.6 342 1512.2 331.8 1518.3 320 1525.9 305.5 1534.1 290 1542.1 275 1549.9 260 1556.1 246.2 1563.6 230 1576 205.6 1589.2 180 1599.8 159 1610 140 1621.7 121 1631.8 105.5 1635.7 99.2 1639.8 93 1651 77 1663.4 60 1672.5 49.1 1681.2 40 1692.1 29.5 1701 21.5"/><path d="M1284 427 1429.9 427 1439.5 421.5 1451.6 413.7 1462.4 405 1472.4 395.8 1480.7 386.8 1488 377.8 1494.6 368.8 1500.8 359.9 1506.9 351.2 1513 342 1519 331.8 1525.5 320 1533.6 305.5 1542.1 290 1550.4 275 1558.4 260 1564.7 246.2 1572.2 230 1584.4 205.6 1597.2 180 1607.3 159 1616.8 140 1627.7 121 1637.1 105.5 1640.7 99.2 1644.4 93 1654.8 77 1666.2 60 1674.6 49.1 1682.7 40 1692.9 29.5 1701 21.5"/><path d="M1284 427 1426.6 427 1435.8 421.5 1447.5 413.7 1457.8 405 1467.3 395.8 1475.1 386.8 1481.9 377.8 1488.1 368.8 1493.9 359.9 1499.6 351.2 1505.3 342 1510.9 331.8 1516.9 320 1524.5 305.5 1532.6 290 1540.7 275 1548.4 260 1554.7 246.2 1562.1 230 1574.5 205.6 1587.9 180 1598.6 159 1608.8 140 1620.7 121 1630.9 105.5 1634.8 99.2 1639 93 1650.3 77 1662.9 60 1672.1 49.1 1680.9 40 1692 29.5 1701 21.5"/><path d="M1284 427 1425.2 427 1434.5 421.5 1446.3 413.7 1456.7 405 1466.4 395.8 1474.4 386.8 1481.3 377.8 1487.6 368.8 1493.5 359.9 1499.4 351.2 1505.2 342 1510.9 331.8 1517.1 320 1524.9 305.5 1533.1 290 1541.3 275 1549.2 260 1555.5 246.2 1563 230 1575.5 205.6 1588.8 180 1599.4 159 1609.6 140 1621.3 121 1631.4 105.5 1635.3 99.2 1639.4 93 1650.6 77 1663 60 1672.2 49.1 1680.8 40 1691.9 29.5 1701 21.5"/><path d="M1284 427 1428.2 427 1437.5 421.5 1449.3 413.7 1459.8 405 1469.5 395.8 1477.5 386.8 1484.5 377.8 1490.8 368.8 1496.7 359.9 1502.6 351.2 1508.4 342 1514.1 331.8 1520.4 320 1528.1 305.5 1536.3 290 1544.5 275 1552.3 260 1558.6 246.2 1566 230 1578.4 205.6 1591.5 180 1602 159 1611.9 140 1623.4 121 1633.3 105.5 1637.1 99.2 1641.1 93 1652.1 77 1664.2 60 1673.1 49.1 1681.6 40 1692.4 29.5 1701 21.5"/><path d="M1284 427 1427.9 427 1437.3 421.5 1449.2 413.7 1459.7 405 1469.4 395.8 1477.4 386.8 1484.5 377.8 1490.8 368.8 1496.8 359.9 1502.7 351.2 1508.6 342 1514.3 331.8 1520.6 320 1528.4 305.5 1536.7 290 1544.9 275 1552.8 260 1559 246.2 1566.5 230 1578.8 205.6 1592 180 1602.4 159 1612.3 140 1623.7 121 1633.6 105.5 1637.4 99.2 1641.4 93 1652.2 77 1664.3 60 1673.2 49.1 1681.6 40 1692.4 29.5 1701 21.5"/><path d="M1284 427 1408.8 427 1418 421.5 1429.7 413.7 1440 405 1449.4 395.8 1457.2 386.8 1464 377.8 1470.2 368.8 1476 359.9 1481.7 351.2 1487.4 342 1493.1 331.8 1499.2 320 1506.9 305.5 1515.2 290 1523.5 275 1531.6 260 1538.1 246.2 1546 230 1559.2 205.6 1573.6 180 1585.3 159 1596.5 140 1609.5 121 1620.8 105.5 1625.2 99.2 1629.7 93 1642.3 77 1656.4 60 1666.8 49.1 1676.6 40 1689.3 29.5 1701 21.5"/><path d="M1284 427 1422.4 427 1432 421.5 1444.1 413.7 1454.9 405 1465 395.8 1473.3 386.8 1480.6 377.8 1487.2 368.8 1493.5 359.9 1499.6 351.2 1505.8 342 1511.8 331.8 1518.4 320 1526.6 305.5 1535.2 290 1543.7 275 1551.8 260 1558.3 246.2 1566 230 1578.5 205.6 1591.7 180 1602.2 159 1612 140 1623.4 121 1633.2 105.5 1636.9 99.2 1640.8 93 1651.6 77 1663.6 60 1672.5 49.1 1680.9 40 1691.8 29.5 1701 21.5"/><path d="M1284 427 1426.7 427 1436 421.5 1447.8 413.7 1458.2 405 1467.8 395.8 1475.8 386.8 1482.7 377.8 1488.9 368.8 1494.8 359.9 1500.6 351.2 1506.4 342 1512 331.8 1518.2 320 1525.9 305.5 1534.1 290 1542.2 275 1550 260 1556.3 246.2 1563.8 230 1576.2 205.6 1589.4 180 1600 159 1610.1 140 1621.8 121 1631.9 105.5 1635.8 99.2 1639.9 93 1651 77 1663.4 60 1672.5 49.1 1681.1 40 1692.1 29.5 1701 21.5"/><path d="M1284 427 1441.6 427 1450.8 421.5 1462.5 413.7 1472.7 405 1482.2 395.8 1490 386.8 1496.7 377.8 1502.8 368.8 1508.5 359.9 1514.2 351.2 1519.8 342 1525.3 331.8 1531.2 320 1538.6 305.5 1546.5 290 1554.3 275 1561.8 260 1567.7 246.2 1574.8 230 1586.5 205.6 1599.1 180 1609 159 1618.5 140 1629.4 121 1638.9 105.5 1642.5 99.2 1646.3 93 1656.7 77 1668.1 60 1676.4 49.1 1684.3 40 1694.2 29.5 1701 21.5"/><path d="M1284 427 1415.4 427 1425 421.5 1437.2 413.7 1448.1 405 1458.2 395.8 1466.6 386.8 1474 377.8 1480.7 368.8 1487 359.9 1493.2 351.2 1499.5 342 1505.6 331.8 1512.3 320 1520.6 305.5 1529.4 290 1538 275 1546.3 260 1553 246.2 1560.8 230 1573.7 205.6 1587.2 180 1598 159 1608.1 140 1619.8 121 1629.9 105.5 1633.8 99.2 1637.8 93 1649 77 1661.4 60 1670.6 49.1 1679.4 40 1690.8 29.5 1701 21.5"/><path d="M1284 427 1438.9 427 1448.2 421.5 1460.1 413.7 1470.7 405 1480.4 395.8 1488.4 386.8 1495.4 377.8 1501.8 368.8 1507.7 359.9 1513.6 351.2 1519.5 342 1525.2 331.8 1531.4 320 1539.1 305.5 1547.3 290 1555.3 275 1563 260 1569 246.2 1576.2 230 1588.1 205.6 1600.6 180 1610.4 159 1619.7 140 1630.5 121 1639.7 105.5 1643.2 99.2 1646.9 93 1657.1 77 1668.2 60 1676.5 49.1 1684.2 40 1694 29.5 1701 21.5"/><path d="M1284 427 1429.7 427 1439.1 421.5 1451 413.7 1461.5 405 1471.3 395.8 1479.4 386.8 1486.4 377.8 1492.8 368.8 1498.8 359.9 1504.7 351.2 1510.6 342 1516.4 331.8 1522.7 320 1530.5 305.5 1538.8 290 1547 275 1554.8 260 1561.1 246.2 1568.5 230 1580.7 205.6 1593.7 180 1604 159 1613.8 140 1625.1 121 1634.9 105.5 1638.6 99.2 1642.5 93 1653.2 77 1665.1 60 1673.8 49.1 1682.1 40 1692.7 29.5 1701 21.5"/><path d="M1284 427 1427.9 427 1437.2 421.5 1449.1 413.7 1459.5 405 1469.2 395.8 1477.2 386.8 1484.1 377.8 1490.5 368.8 1496.4 359.9 1502.3 351.2 1508.1 342 1513.8 331.8 1520 320 1527.8 305.5 1536 290 1544.1 275 1552 260 1558.3 246.2 1565.7 230 1578.1 205.6 1591.2 180 1601.7 159 1611.7 140 1623.2 121 1633.1 105.5 1636.9 99.2 1640.9 93 1651.9 77 1664.1 60 1673 49.1 1681.5 40 1692.3 29.5 1701 21.5"/><path d="M1284 427 1432.6 427 1441.9 421.5 1453.7 413.7 1464.1 405 1473.8 395.8 1481.7 386.8 1488.6 377.8 1494.9 368.8 1500.7 359.9 1506.6 351.2 1512.3 342 1518 331.8 1524.1 320 1531.8 305.5 1539.9 290 1547.9 275 1555.7 260 1561.8 246.2 1569.2 230 1581.3 205.6 1594.2 180 1604.5 159 1614.3 140 1625.6 121 1635.3 105.5 1639 99.2 1642.9 93 1653.7 77 1665.5 60 1674.3 49.1 1682.5 40 1693 29.5 1701 21.5"/><path d="M1284 427 1412.2 427 1421.6 421.5 1433.6 413.7 1444.1 405 1453.9 395.8 1462 386.8 1469 377.8 1475.5 368.8 1481.5 359.9 1487.5 351.2 1493.4 342 1499.3 331.8 1505.7 320 1513.7 305.5 1522.2 290 1530.6 275 1538.8 260 1545.4 246.2 1553.3 230 1566.3 205.6 1580.3 180 1591.5 159 1602.2 140 1614.6 121 1625.3 105.5 1629.4 99.2 1633.7 93 1645.6 77 1658.9 60 1668.7 49.1 1678 40 1690 29.5 1701 21.5"/><path d="M1284 427 1421.6 427 1430.8 421.5 1442.4 413.7 1452.6 405 1462.1 395.8 1469.8 386.8 1476.5 377.8 1482.6 368.8 1488.3 359.9 1494 351.2 1499.6 342 1505.1 331.8 1511.2 320 1518.7 305.5 1526.8 290 1534.8 275 1542.6 260 1548.9 246.2 1556.5 230 1569.2 205.6 1582.8 180 1593.9 159 1604.5 140 1616.8 121 1627.4 105.5 1631.5 99.2 1635.8 93 1647.6 77 1660.7 60 1670.4 49.1 1679.5 40 1691.1 29.5 1701 21.5"/><path d="M1284 427 1427.2 427 1436.5 421.5 1448.2 413.7 1458.6 405 1468.2 395.8 1476 386.8 1482.9 377.8 1489.1 368.8 1495 359.9 1500.8 351.2 1506.5 342 1512.1 331.8 1518.3 320 1525.9 305.5 1534 290 1542.1 275 1549.9 260 1556.1 246.2 1563.6 230 1576 205.6 1589.3 180 1599.9 159 1610 140 1621.7 121 1631.8 105.5 1635.7 99.2 1639.8 93 1651 77 1663.4 60 1672.5 49.1 1681.1 40 1692.1 29.5 1701 21.5"/><path d="M1284 427 1431 427 1440.6 421.5 1452.8 413.7 1463.7 405 1473.8 395.8 1482.2 386.8 1489.6 377.8 1496.3 368.8 1502.6 359.9 1508.8 351.2 1515 342 1521.1 331.8 1527.7 320 1535.9 305.5 1544.5 290 1552.9 275 1561 260 1567.3 246.2 1574.8 230 1586.9 205.6 1599.6 180 1609.5 159 1618.8 140 1629.5 121 1638.7 105.5 1642.2 99.2 1645.8 93 1655.9 77 1667 60 1675.3 49.1 1683.2 40 1693.2 29.5 1701 21.5"/><path d="M1284 427 1453.3 427 1462.2 421.5 1473.3 413.7 1483.1 405 1492 395.8 1499.2 386.8 1505.4 377.8 1511 368.8 1516.1 359.9 1521.3 351.2 1526.4 342 1531.4 331.8 1536.7 320 1543.4 305.5 1550.6 290 1557.8 275 1564.8 260 1570.3 246.2 1577 230 1588.3 205.6 1600.6 180 1610.4 159 1619.9 140 1630.9 121 1640.5 105.5 1644.1 99.2 1648 93 1658.4 77 1669.9 60 1678.2 49.1 1686 40 1695.4 29.5 1701 21.5"/><path d="M1284 427 1453.6 427 1462.5 421.5 1473.8 413.7 1483.7 405 1492.7 395.8 1500.1 386.8 1506.4 377.8 1512.1 368.8 1517.5 359.9 1522.8 351.2 1528 342 1533 331.8 1538.5 320 1545.4 305.5 1552.7 290 1560 275 1567.1 260 1572.6 246.2 1579.3 230 1590.6 205.6 1602.8 180 1612.4 159 1621.7 140 1632.6 121 1641.9 105.5 1645.5 99.2 1649.2 93 1659.4 77 1670.6 60 1678.7 49.1 1686.3 40 1695.6 29.5 1701 21.5"/><path d="M1284 427 1426.4 427 1435.6 421.5 1447.2 413.7 1457.4 405 1466.8 395.8 1474.5 386.8 1481.3 377.8 1487.3 368.8 1493 359.9 1498.7 351.2 1504.3 342 1509.7 331.8 1515.7 320 1523.2 305.5 1531.2 290 1539.2 275 1546.9 260 1553.1 246.2 1560.5 230 1573 205.6 1586.4 180 1597.2 159 1607.6 140 1619.6 121 1630 105.5 1633.9 99.2 1638.1 93 1649.6 77 1662.4 60 1671.8 49.1 1680.6 40 1691.8 29.5 1701 21.5"/><path d="M1284 427 1423 427 1432.2 421.5 1444 413.7 1454.3 405 1463.8 395.8 1471.7 386.8 1478.5 377.8 1484.7 368.8 1490.5 359.9 1496.3 351.2 1502.1 342 1507.7 331.8 1513.8 320 1521.5 305.5 1529.6 290 1537.7 275 1545.6 260 1551.9 246.2 1559.5 230 1572 205.6 1585.6 180 1596.4 159 1606.8 140 1618.9 121 1629.2 105.5 1633.2 99.2 1637.4 93 1649 77 1661.8 60 1671.2 49.1 1680.1 40 1691.5 29.5 1701 21.5"/><path d="M1284 427 1438.3 427 1447.2 421.5 1458.6 413.7 1468.5 405 1477.6 395.8 1485 386.8 1491.4 377.8 1497.2 368.8 1502.6 359.9 1508 351.2 1513.3 342 1518.4 331.8 1524.1 320 1531.1 305.5 1538.7 290 1546.2 275 1553.6 260 1559.5 246.2 1566.6 230 1578.5 205.6 1591.5 180 1601.9 159 1612 140 1623.7 121 1633.9 105.5 1637.7 99.2 1641.8 93 1653 77 1665.3 60 1674.3 49.1 1682.8 40 1693.4 29.5 1701 21.5"/><path d="M1284 427 1421.7 427 1431.2 421.5 1443.3 413.7 1454.1 405 1464.1 395.8 1472.3 386.8 1479.6 377.8 1486.2 368.8 1492.4 359.9 1498.5 351.2 1504.6 342 1510.6 331.8 1517.2 320 1525.3 305.5 1533.9 290 1542.4 275 1550.5 260 1557 246.2 1564.6 230 1577.2 205.6 1590.5 180 1601 159 1611 140 1622.5 121 1632.4 105.5 1636.1 99.2 1640.1 93 1651 77 1663.1 60 1672.1 49.1 1680.7 40 1691.6 29.5 1701 21.5"/><path d="M1284 427 1434.6 427 1444.2 421.5 1456.4 413.7 1467.2 405 1477.2 395.8 1485.6 386.8 1492.9 377.8 1499.5 368.8 1505.7 359.9 1511.9 351.2 1518 342 1524 331.8 1530.6 320 1538.6 305.5 1547.1 290 1555.4 275 1563.4 260 1569.6 246.2 1577 230 1589 205.6 1601.5 180 1611.2 159 1620.4 140 1631 121 1640.1 105.5 1643.5 99.2 1647.2 93 1657.1 77 1668 60 1676.2 49.1 1683.9 40 1693.7 29.5 1701 21.5"/><path d="M1284 427 1441.3 427 1451 421.5 1463.2 413.7 1474.2 405 1484.3 395.8 1492.7 386.8 1500.2 377.8 1506.9 368.8 1513.2 359.9 1519.4 351.2 1525.6 342 1531.7 331.8 1538.3 320 1546.4 305.5 1554.9 290 1563.2 275 1571.1 260 1577.2 246.2 1584.4 230 1596.1 205.6 1608.2 180 1617.5 159 1626.2 140 1636.2 121 1644.8 105.5 1648 99.2 1651.4 93 1660.7 77 1670.9 60 1678.5 49.1 1685.7 40 1694.8 29.5 1701 21.5"/><path d="M1284 427 1434.1 427 1443.5 421.5 1455.5 413.7 1466.1 405 1476 395.8 1484.1 386.8 1491.2 377.8 1497.7 368.8 1503.8 359.9 1509.8 351.2 1515.7 342 1521.5 331.8 1527.9 320 1535.8 305.5 1544.1 290 1552.2 275 1560.1 260 1566.3 246.2 1573.6 230 1585.7 205.6 1598.4 180 1608.3 159 1617.8 140 1628.7 121 1638.1 105.5 1641.6 99.2 1645.4 93 1655.6 77 1667 60 1675.4 49.1 1683.3 40 1693.4 29.5 1701 21.5"/><path d="M1284 427 1401.7 427 1411.2 421.5 1423.1 413.7 1433.7 405 1443.5 395.8 1451.7 386.8 1458.8 377.8 1465.3 368.8 1471.4 359.9 1477.4 351.2 1483.4 342 1489.4 331.8 1495.9 320 1504 305.5 1512.7 290 1521.3 275 1529.7 260 1536.5 246.2 1544.6 230 1558.1 205.6 1572.7 180 1584.4 159 1595.7 140 1608.6 121 1619.8 105.5 1624.2 99.2 1628.7 93 1641.3 77 1655.3 60 1665.7 49.1 1675.6 40 1688.5 29.5 1701 21.5"/><path d="M1284 427 1441.5 427 1450.7 421.5 1462.2 413.7 1472.4 405 1481.7 395.8 1489.4 386.8 1496 377.8 1502 368.8 1507.6 359.9 1513.2 351.2 1518.7 342 1524 331.8 1529.9 320 1537.1 305.5 1544.9 290 1552.6 275 1560 260 1565.9 246.2 1573 230 1584.7 205.6 1597.3 180 1607.4 159 1617 140 1628.2 121 1637.8 105.5 1641.5 99.2 1645.3 93 1655.9 77 1667.5 60 1676 49.1 1684.1 40 1694.1 29.5 1701 21.5"/><path d="M1284 427 1418.8 427 1427.8 421.5 1439.3 413.7 1449.4 405 1458.6 395.8 1466.2 386.8 1472.8 377.8 1478.8 368.8 1484.3 359.9 1489.9 351.2 1495.4 342 1500.8 331.8 1506.7 320 1514.1 305.5 1522 290 1530 275 1537.8 260 1544 246.2 1551.7 230 1564.5 205.6 1578.4 180 1589.8 159 1600.7 140 1613.4 121 1624.4 105.5 1628.7 99.2 1633.1 93 1645.4 77 1659 60 1669.1 49.1 1678.5 40 1690.6 29.5 1701 21.5"/><path d="M1284 427 1439 427 1448 421.5 1459.2 413.7 1469.1 405 1478.1 395.8 1485.4 386.8 1491.7 377.8 1497.4 368.8 1502.7 359.9 1508 351.2 1513.3 342 1518.3 331.8 1523.9 320 1530.8 305.5 1538.3 290 1545.8 275 1553.1 260 1558.9 246.2 1566 230 1577.9 205.6 1590.9 180 1601.4 159 1611.5 140 1623.3 121 1633.5 105.5 1637.4 99.2 1641.5 93 1652.8 77 1665.2 60 1674.3 49.1 1682.8 40 1693.4 29.5 1701 21.5"/><path d="M1284 427 1452.3 427 1461.5 421.5 1473.1 413.7 1483.4 405 1492.8 395.8 1500.5 386.8 1507.2 377.8 1513.3 368.8 1518.9 359.9 1524.6 351.2 1530.1 342 1535.5 331.8 1541.3 320 1548.6 305.5 1556.3 290 1563.9 275 1571.2 260 1576.9 246.2 1583.7 230 1595 205.6 1606.9 180 1616.3 159 1625.2 140 1635.6 121 1644.5 105.5 1647.9 99.2 1651.4 93 1661.1 77 1671.7 60 1679.5 49.1 1686.8 40 1695.8 29.5 1701 21.5"/><path d="M1284 427 1428.5 427 1437.6 421.5 1449.2 413.7 1459.3 405 1468.7 395.8 1476.4 386.8 1483.1 377.8 1489.1 368.8 1494.7 359.9 1500.3 351.2 1505.9 342 1511.3 331.8 1517.3 320 1524.7 305.5 1532.6 290 1540.5 275 1548.2 260 1554.3 246.2 1561.7 230 1574.1 205.6 1587.4 180 1598.2 159 1608.5 140 1620.4 121 1630.7 105.5 1634.7 99.2 1638.9 93 1650.3 77 1663 60 1672.2 49.1 1681 40 1692.1 29.5 1701 21.5"/><path d="M1284 427 1407.1 427 1416.4 421.5 1428.1 413.7 1438.5 405 1448.1 395.8 1455.9 386.8 1462.8 377.8 1469 368.8 1474.9 359.9 1480.7 351.2 1486.5 342 1492.2 331.8 1498.4 320 1506.2 305.5 1514.6 290 1523 275 1531.1 260 1537.7 246.2 1545.7 230 1559 205.6 1573.4 180 1585.1 159 1596.3 140 1609.3 121 1620.6 105.5 1624.9 99.2 1629.5 93 1642.1 77 1656.2 60 1666.5 49.1 1676.3 40 1689.1 29.5 1701 21.5"/><path d="M1284 427 1443.8 427 1452.7 421.5 1464 413.7 1473.8 405 1482.7 395.8 1490 386.8 1496.3 377.8 1502 368.8 1507.3 359.9 1512.5 351.2 1517.7 342 1522.8 331.8 1528.2 320 1535.1 305.5 1542.5 290 1549.9 275 1557.1 260 1562.8 246.2 1569.7 230 1581.5 205.6 1594.2 180 1604.5 159 1614.4 140 1625.9 121 1635.9 105.5 1639.7 99.2 1643.7 93 1654.7 77 1666.8 60 1675.6 49.1 1683.9 40 1694.1 29.5 1701 21.5"/><path d="M1284 427 1423.3 427 1432.4 421.5 1444 413.7 1454.2 405 1463.6 395.8 1471.2 386.8 1477.9 377.8 1484 368.8 1489.6 359.9 1495.3 351.2 1500.9 342 1506.3 331.8 1512.3 320 1519.8 305.5 1527.8 290 1535.8 275 1543.6 260 1549.8 246.2 1557.3 230 1569.9 205.6 1583.5 180 1594.5 159 1605.1 140 1617.4 121 1628 105.5 1632 99.2 1636.3 93 1648.1 77 1661.2 60 1670.7 49.1 1679.8 40 1691.3 29.5 1701 21.5"/><path d="M1284 427 1423.8 427 1432.9 421.5 1444.5 413.7 1454.7 405 1464 395.8 1471.7 386.8 1478.3 377.8 1484.4 368.8 1490 359.9 1495.6 351.2 1501.2 342 1506.6 331.8 1512.6 320 1520 305.5 1528 290 1536 275 1543.7 260 1549.9 246.2 1557.4 230 1570 205.6 1583.6 180 1594.6 159 1605.2 140 1617.4 121 1628 105.5 1632.1 99.2 1636.4 93 1648.2 77 1661.2 60 1670.8 49.1 1679.9 40 1691.4 29.5 1701 21.5"/><path d="M1284 427 1446.4 427 1455.5 421.5 1467 413.7 1477 405 1486.2 395.8 1493.7 386.8 1500.2 377.8 1506.1 368.8 1511.6 359.9 1517 351.2 1522.4 342 1527.7 331.8 1533.3 320 1540.4 305.5 1548 290 1555.5 275 1562.8 260 1568.6 246.2 1575.5 230 1587.1 205.6 1599.5 180 1609.4 159 1618.9 140 1629.9 121 1639.4 105.5 1643 99.2 1646.9 93 1657.3 77 1668.7 60 1677.1 49.1 1685 40 1694.7 29.5 1701 21.5"/><path d="M1284 427 1435 427 1444.4 421.5 1456.3 413.7 1466.8 405 1476.6 395.8 1484.6 386.8 1491.6 377.8 1498 368.8 1504 359.9 1509.9 351.2 1515.7 342 1521.5 331.8 1527.7 320 1535.4 305.5 1543.6 290 1551.7 275 1559.5 260 1565.6 246.2 1572.9 230 1584.9 205.6 1597.7 180 1607.7 159 1617.2 140 1628.2 121 1637.7 105.5 1641.2 99.2 1645 93 1655.4 77 1666.9 60 1675.3 49.1 1683.3 40 1693.4 29.5 1701 21.5"/><path d="M1284 427 1432.6 427 1441.8 421.5 1453.5 413.7 1463.7 405 1473.2 395.8 1481 386.8 1487.8 377.8 1493.9 368.8 1499.7 359.9 1505.4 351.2 1511 342 1516.5 331.8 1522.6 320 1530.1 305.5 1538.1 290 1546 275 1553.7 260 1559.8 246.2 1567.1 230 1579.2 205.6 1592.2 180 1602.6 159 1612.6 140 1624.1 121 1634 105.5 1637.8 99.2 1641.8 93 1652.8 77 1664.9 60 1673.8 49.1 1682.2 40 1692.8 29.5 1701 21.5"/><path d="M1284 427 1425.9 427 1435.3 421.5 1447.2 413.7 1457.8 405 1467.6 395.8 1475.6 386.8 1482.7 377.8 1489.1 368.8 1495.1 359.9 1501 351.2 1507 342 1512.8 331.8 1519.1 320 1526.9 305.5 1535.3 290 1543.5 275 1551.5 260 1557.8 246.2 1565.3 230 1577.7 205.6 1590.9 180 1601.4 159 1611.4 140 1622.9 121 1632.8 105.5 1636.6 99.2 1640.6 93 1651.6 77 1663.8 60 1672.7 49.1 1681.2 40 1692.1 29.5 1701 21.5"/><path d="M1284 427 1430.7 427 1439.9 421.5 1451.7 413.7 1462 405 1471.6 395.8 1479.4 386.8 1486.3 377.8 1492.5 368.8 1498.3 359.9 1504 351.2 1509.7 342 1515.3 331.8 1521.4 320 1529 305.5 1537.1 290 1545.1 275 1552.8 260 1559 246.2 1566.3 230 1578.6 205.6 1591.7 180 1602.1 159 1612.1 140 1623.6 121 1633.6 105.5 1637.4 99.2 1641.4 93 1652.4 77 1664.5 60 1673.5 49.1 1681.9 40 1692.6 29.5 1701 21.5"/><path d="M1284 427 1421.7 427 1431.1 421.5 1443.1 413.7 1453.7 405 1463.5 395.8 1471.6 386.8 1478.6 377.8 1485.1 368.8 1491.1 359.9 1497.1 351.2 1503 342 1508.9 331.8 1515.3 320 1523.2 305.5 1531.6 290 1539.9 275 1547.9 260 1554.3 246.2 1562 230 1574.6 205.6 1588 180 1598.7 159 1608.9 140 1620.6 121 1630.7 105.5 1634.6 99.2 1638.7 93 1649.9 77 1662.4 60 1671.6 49.1 1680.3 40 1691.5 29.5 1701 21.5"/><path d="M1284 427 1429.9 427 1439.4 421.5 1451.5 413.7 1462.3 405 1472.3 395.8 1480.5 386.8 1487.8 377.8 1494.4 368.8 1500.6 359.9 1506.7 351.2 1512.8 342 1518.8 331.8 1525.3 320 1533.3 305.5 1541.8 290 1550.1 275 1558.1 260 1564.5 246.2 1571.9 230 1584.1 205.6 1597 180 1607 159 1616.5 140 1627.5 121 1636.9 105.5 1640.5 99.2 1644.3 93 1654.6 77 1666.1 60 1674.6 49.1 1682.6 40 1692.9 29.5 1701 21.5"/><path d="M1284 427 1438.1 427 1447.4 421.5 1459.2 413.7 1469.6 405 1479.2 395.8 1487.1 386.8 1493.9 377.8 1500.2 368.8 1506 359.9 1511.8 351.2 1517.5 342 1523.1 331.8 1529.2 320 1536.7 305.5 1544.8 290 1552.7 275 1560.3 260 1566.4 246.2 1573.5 230 1585.4 205.6 1598.1 180 1608.1 159 1617.6 140 1628.6 121 1638.1 105.5 1641.7 99.2 1645.5 93 1655.9 77 1667.4 60 1675.8 49.1 1683.8 40 1693.8 29.5 1701 21.5"/><path d="M1284 427 1418 427 1427.8 421.5 1440.2 413.7 1451.2 405 1461.6 395.8 1470.1 386.8 1477.7 377.8 1484.6 368.8 1491.1 359.9 1497.6 351.2 1504 342 1510.3 331.8 1517.1 320 1525.6 305.5 1534.6 290 1543.3 275 1551.7 260 1558.3 246.2 1566.2 230 1578.9 205.6 1592.1 180 1602.5 159 1612.3 140 1623.6 121 1633.2 105.5 1636.9 99.2 1640.8 93 1651.4 77 1663.2 60 1672.1 49.1 1680.5 40 1691.4 29.5 1701 21.5"/><path d="M1284 427 1433.5 427 1442.5 421.5 1453.9 413.7 1463.8 405 1473 395.8 1480.5 386.8 1487 377.8 1492.8 368.8 1498.2 359.9 1503.7 351.2 1509.1 342 1514.3 331.8 1520 320 1527.2 305.5 1534.8 290 1542.5 275 1550 260 1556 246.2 1563.2 230 1575.4 205.6 1588.5 180 1599.2 159 1609.5 140 1621.4 121 1631.7 105.5 1635.7 99.2 1639.8 93 1651.2 77 1663.9 60 1673.1 49.1 1681.8 40 1692.7 29.5 1701 21.5"/><path d="M1284 427 1412.2 427 1421.4 421.5 1433.1 413.7 1443.4 405 1452.8 395.8 1460.6 386.8 1467.4 377.8 1473.6 368.8 1479.4 359.9 1485.1 351.2 1490.8 342 1496.4 331.8 1502.6 320 1510.2 305.5 1518.5 290 1526.7 275 1534.7 260 1541.2 246.2 1549 230 1562.1 205.6 1576.3 180 1587.8 159 1598.8 140 1611.6 121 1622.7 105.5 1627 99.2 1631.5 93 1643.8 77 1657.6 60 1667.8 49.1 1677.4 40 1689.8 29.5 1701 21.5"/><path d="M1284 427 1444.3 427 1453.6 421.5 1465.4 413.7 1475.9 405 1485.5 395.8 1493.4 386.8 1500.3 377.8 1506.5 368.8 1512.3 359.9 1518.1 351.2 1523.8 342 1529.4 331.8 1535.5 320 1543 305.5 1551 290 1558.8 275 1566.4 260 1572.3 246.2 1579.3 230 1590.9 205.6 1603.2 180 1612.8 159 1622 140 1632.6 121 1641.7 105.5 1645.2 99.2 1648.8 93 1658.7 77 1669.7 60 1677.7 49.1 1685.3 40 1694.7 29.5 1701 21.5"/><path d="M1284 427 1422.9 427 1432 421.5 1443.5 413.7 1453.5 405 1462.8 395.8 1470.3 386.8 1476.9 377.8 1482.8 368.8 1488.4 359.9 1493.9 351.2 1499.4 342 1504.7 331.8 1510.6 320 1517.9 305.5 1525.8 290 1533.7 275 1541.4 260 1547.6 246.2 1555.1 230 1567.8 205.6 1581.5 180 1592.6 159 1603.4 140 1615.8 121 1626.6 105.5 1630.8 99.2 1635.2 93 1647.1 77 1660.5 60 1670.2 49.1 1679.5 40 1691.2 29.5 1701 21.5"/><path d="M1284 427 1428.5 427 1437.9 421.5 1449.8 413.7 1460.3 405 1470 395.8 1478.1 386.8 1485.1 377.8 1491.5 368.8 1497.4 359.9 1503.4 351.2 1509.3 342 1515 331.8 1521.3 320 1529.1 305.5 1537.4 290 1545.6 275 1553.5 260 1559.7 246.2 1567.2 230 1579.5 205.6 1592.6 180 1602.9 159 1612.8 140 1624.2 121 1634 105.5 1637.8 99.2 1641.7 93 1652.6 77 1664.6 60 1673.4 49.1 1681.8 40 1692.5 29.5 1701 21.5"/><path d="M1284 427 1415.3 427 1424.7 421.5 1436.6 413.7 1447.2 405 1457 395.8 1465 386.8 1472.1 377.8 1478.5 368.8 1484.6 359.9 1490.5 351.2 1496.5 342 1502.4 331.8 1508.8 320 1516.7 305.5 1525.2 290 1533.6 275 1541.7 260 1548.3 246.2 1556.1 230 1569 205.6 1582.8 180 1593.8 159 1604.4 140 1616.5 121 1627 105.5 1631.1 99.2 1635.3 93 1647 77 1660 60 1669.6 49.1 1678.7 40 1690.5 29.5 1701 21.5"/><path d="M1284 427 1410.1 427 1419.6 421.5 1431.7 413.7 1442.5 405 1452.5 395.8 1460.8 386.8 1468.1 377.8 1474.7 368.8 1481 359.9 1487.1 351.2 1493.3 342 1499.4 331.8 1506 320 1514.2 305.5 1523 290 1531.6 275 1539.9 260 1546.6 246.2 1554.6 230 1567.7 205.6 1581.6 180 1592.8 159 1603.3 140 1615.5 121 1626 105.5 1630.1 99.2 1634.3 93 1646 77 1659.1 60 1668.7 49.1 1678 40 1689.9 29.5 1701 21.5"/><path d="M1284 427 1439.3 427 1448.4 421.5 1459.9 413.7 1470.1 405 1479.4 395.8 1487 386.8 1493.6 377.8 1499.5 368.8 1505.1 359.9 1510.6 351.2 1516.1 342 1521.5 331.8 1527.3 320 1534.5 305.5 1542.3 290 1550 275 1557.4 260 1563.3 246.2 1570.4 230 1582.3 205.6 1595.1 180 1605.3 159 1615.1 140 1626.4 121 1636.2 105.5 1640 99.2 1643.9 93 1654.7 77 1666.6 60 1675.3 49.1 1683.5 40 1693.7 29.5 1701 21.5"/><path d="M1284 427 1433 427 1442.2 421.5 1453.9 413.7 1464.2 405 1473.7 395.8 1481.5 386.8 1488.2 377.8 1494.4 368.8 1500.1 359.9 1505.8 351.2 1511.5 342 1517 331.8 1523 320 1530.5 305.5 1538.5 290 1546.4 275 1554.1 260 1560.2 246.2 1567.5 230 1579.6 205.6 1592.6 180 1603 159 1612.9 140 1624.4 121 1634.3 105.5 1638.1 99.2 1642.1 93 1653 77 1665.1 60 1674 49.1 1682.3 40 1692.9 29.5 1701 21.5"/><path d="M1284 427 1426.3 427 1435.5 421.5 1447.1 413.7 1457.3 405 1466.7 395.8 1474.4 386.8 1481.2 377.8 1487.3 368.8 1492.9 359.9 1498.6 351.2 1504.2 342 1509.7 331.8 1515.7 320 1523.2 305.5 1531.2 290 1539.2 275 1546.9 260 1553.1 246.2 1560.6 230 1573 205.6 1586.4 180 1597.3 159 1607.6 140 1619.6 121 1630 105.5 1634 99.2 1638.2 93 1649.6 77 1662.4 60 1671.8 49.1 1680.6 40 1691.8 29.5 1701 21.5"/><path d="M1284 427 1430.6 427 1439.8 421.5 1451.6 413.7 1461.9 405 1471.4 395.8 1479.2 386.8 1486 377.8 1492.2 368.8 1498 359.9 1503.7 351.2 1509.4 342 1515 331.8 1521.1 320 1528.6 305.5 1536.7 290 1544.7 275 1552.4 260 1558.5 246.2 1565.9 230 1578.1 205.6 1591.2 180 1601.7 159 1611.7 140 1623.3 121 1633.3 105.5 1637.1 99.2 1641.1 93 1652.2 77 1664.4 60 1673.4 49.1 1681.8 40 1692.6 29.5 1701 21.5"/><path d="M1284 427 1424.7 427 1433.8 421.5 1445.5 413.7 1455.7 405 1465.1 395.8 1472.8 386.8 1479.5 377.8 1485.6 368.8 1491.3 359.9 1496.9 351.2 1502.6 342 1508 331.8 1514 320 1521.5 305.5 1529.6 290 1537.5 275 1545.3 260 1551.5 246.2 1559 230 1571.5 205.6 1585.1 180 1596 159 1606.4 140 1618.5 121 1629 105.5 1633 99.2 1637.3 93 1648.9 77 1661.8 60 1671.3 49.1 1680.2 40 1691.6 29.5 1701 21.5"/><path d="M1284 427 1415.6 427 1424.9 421.5 1436.7 413.7 1447.2 405 1456.8 395.8 1464.8 386.8 1471.7 377.8 1478 368.8 1484 359.9 1489.8 351.2 1495.7 342 1501.4 331.8 1507.7 320 1515.5 305.5 1523.9 290 1532.2 275 1540.2 260 1546.7 246.2 1554.5 230 1567.4 205.6 1581.2 180 1592.4 159 1603.1 140 1615.4 121 1626.1 105.5 1630.2 99.2 1634.5 93 1646.3 77 1659.6 60 1669.3 49.1 1678.5 40 1690.4 29.5 1701 21.5"/><path d="M1284 427 1439 427 1448 421.5 1459.5 413.7 1469.5 405 1478.7 395.8 1486.2 386.8 1492.7 377.8 1498.6 368.8 1504.1 359.9 1509.5 351.2 1514.9 342 1520.2 331.8 1525.9 320 1533.1 305.5 1540.7 290 1548.4 275 1555.8 260 1561.7 246.2 1568.7 230 1580.7 205.6 1593.5 180 1603.8 159 1613.7 140 1625.2 121 1635.2 105.5 1639 99.2 1643 93 1654 77 1666 60 1674.9 49.1 1683.2 40 1693.6 29.5 1701 21.5"/><path d="M1284 427 1429.9 427 1439.3 421.5 1451.3 413.7 1461.9 405 1471.7 395.8 1479.8 386.8 1486.9 377.8 1493.3 368.8 1499.4 359.9 1505.3 351.2 1511.3 342 1517.1 331.8 1523.4 320 1531.3 305.5 1539.6 290 1547.8 275 1555.7 260 1562 246.2 1569.4 230 1581.6 205.6 1594.6 180 1604.8 159 1614.5 140 1625.8 121 1635.4 105.5 1639.1 99.2 1643 93 1653.6 77 1665.4 60 1674 49.1 1682.3 40 1692.7 29.5 1701 21.5"/><path d="M1284 427 1438.4 427 1447.6 421.5 1459.2 413.7 1469.5 405 1478.9 395.8 1486.6 386.8 1493.3 377.8 1499.4 368.8 1505.1 359.9 1510.7 351.2 1516.3 342 1521.8 331.8 1527.7 320 1535.1 305.5 1543 290 1550.8 275 1558.3 260 1564.3 246.2 1571.4 230 1583.3 205.6 1596 180 1606.2 159 1615.9 140 1627.1 121 1636.8 105.5 1640.5 99.2 1644.4 93 1655 77 1666.8 60 1675.4 49.1 1683.5 40 1693.7 29.5 1701 21.5"/><path d="M1284 427 1428.1 427 1437.4 421.5 1449.1 413.7 1459.5 405 1469.1 395.8 1477 386.8 1483.9 377.8 1490.1 368.8 1495.9 359.9 1501.7 351.2 1507.5 342 1513.1 331.8 1519.3 320 1526.9 305.5 1535 290 1543.1 275 1550.9 260 1557.1 246.2 1564.6 230 1576.9 205.6 1590.1 180 1600.7 159 1610.7 140 1622.4 121 1632.4 105.5 1636.3 99.2 1640.3 93 1651.4 77 1663.8 60 1672.8 49.1 1681.4 40 1692.3 29.5 1701 21.5"/><path d="M1284 427 1431.7 427 1440.9 421.5 1452.6 413.7 1462.9 405 1472.4 395.8 1480.2 386.8 1487 377.8 1493.2 368.8 1498.9 359.9 1504.6 351.2 1510.3 342 1515.9 331.8 1521.9 320 1529.4 305.5 1537.4 290 1545.4 275 1553.1 260 1559.2 246.2 1566.5 230 1578.7 205.6 1591.8 180 1602.2 159 1612.2 140 1623.7 121 1633.7 105.5 1637.5 99.2 1641.5 93 1652.5 77 1664.7 60 1673.6 49.1 1682.1 40 1692.7 29.5 1701 21.5"/><path d="M1284 427 1428.7 427 1438 421.5 1449.7 413.7 1460 405 1469.5 395.8 1477.3 386.8 1484.2 377.8 1490.3 368.8 1496.1 359.9 1501.9 351.2 1507.6 342 1513.1 331.8 1519.2 320 1526.8 305.5 1534.9 290 1542.9 275 1550.6 260 1556.8 246.2 1564.2 230 1576.5 205.6 1589.8 180 1600.3 159 1610.4 140 1622.1 121 1632.2 105.5 1636.1 99.2 1640.2 93 1651.3 77 1663.7 60 1672.8 49.1 1681.4 40 1692.3 29.5 1701 21.5"/><path d="M1284 427 1429.7 427 1439 421.5 1450.8 413.7 1461.2 405 1470.8 395.8 1478.7 386.8 1485.6 377.8 1491.8 368.8 1497.7 359.9 1503.5 351.2 1509.3 342 1514.9 331.8 1521.1 320 1528.7 305.5 1536.8 290 1544.9 275 1552.7 260 1558.9 246.2 1566.3 230 1578.5 205.6 1591.6 180 1602.1 159 1612 140 1623.6 121 1633.5 105.5 1637.3 99.2 1641.3 93 1652.3 77 1664.4 60 1673.3 49.1 1681.8 40 1692.5 29.5 1701 21.5"/><path d="M1284 427 1428.6 427 1437.9 421.5 1449.9 413.7 1460.4 405 1470.2 395.8 1478.2 386.8 1485.2 377.8 1491.6 368.8 1497.6 359.9 1503.5 351.2 1509.4 342 1515.2 331.8 1521.5 320 1529.3 305.5 1537.6 290 1545.8 275 1553.7 260 1559.9 246.2 1567.4 230 1579.7 205.6 1592.8 180 1603.1 159 1613 140 1624.4 121 1634.2 105.5 1637.9 99.2 1641.9 93 1652.7 77 1664.6 60 1673.5 49.1 1681.8 40 1692.5 29.5 1701 21.5"/><path d="M1284 427 1435.9 427 1445.5 421.5 1457.8 413.7 1468.7 405 1478.9 395.8 1487.4 386.8 1494.8 377.8 1501.6 368.8 1507.9 359.9 1514.1 351.2 1520.4 342 1526.5 331.8 1533.1 320 1541.3 305.5 1549.9 290 1558.2 275 1566.2 260 1572.5 246.2 1579.9 230 1591.8 205.6 1604.1 180 1613.7 159 1622.7 140 1633 121 1641.9 105.5 1645.2 99.2 1648.7 93 1658.4 77 1669 60 1676.9 49.1 1684.4 40 1694 29.5 1701 21.5"/><path d="M1284 427 1434.3 427 1443.5 421.5 1455.1 413.7 1465.3 405 1474.7 395.8 1482.4 386.8 1489.1 377.8 1495.2 368.8 1500.9 359.9 1506.5 351.2 1512.1 342 1517.5 331.8 1523.5 320 1530.9 305.5 1538.8 290 1546.6 275 1554.2 260 1560.3 246.2 1567.5 230 1579.6 205.6 1592.6 180 1603 159 1612.9 140 1624.4 121 1634.4 105.5 1638.1 99.2 1642.2 93 1653.1 77 1665.2 60 1674.1 49.1 1682.5 40 1693 29.5 1701 21.5"/><path d="M1284 427 1444.1 427 1453.3 421.5 1464.9 413.7 1475.1 405 1484.6 395.8 1492.3 386.8 1499.1 377.8 1505.1 368.8 1510.8 359.9 1516.5 351.2 1522.1 342 1527.5 331.8 1533.4 320 1540.7 305.5 1548.6 290 1556.3 275 1563.7 260 1569.6 246.2 1576.6 230 1588.3 205.6 1600.7 180 1610.5 159 1619.8 140 1630.7 121 1640.1 105.5 1643.6 99.2 1647.4 93 1657.6 77 1668.8 60 1677.1 49.1 1684.9 40 1694.5 29.5 1701 21.5"/><path d="M1284 427 1421.2 427 1430.4 421.5 1442.2 413.7 1452.6 405 1462.2 395.8 1470.1 386.8 1477 377.8 1483.2 368.8 1489.1 359.9 1494.9 351.2 1500.7 342 1506.4 331.8 1512.6 320 1520.3 305.5 1528.5 290 1536.7 275 1544.6 260 1551 246.2 1558.6 230 1571.3 205.6 1584.8 180 1595.8 159 1606.2 140 1618.3 121 1628.7 105.5 1632.7 99.2 1636.9 93 1648.5 77 1661.3 60 1670.8 49.1 1679.8 40 1691.2 29.5 1701 21.5"/><path d="M1284 427 1413.6 427 1422.9 421.5 1434.8 413.7 1445.3 405 1455 395.8 1463 386.8 1470 377.8 1476.3 368.8 1482.3 359.9 1488.2 351.2 1494.1 342 1499.9 331.8 1506.2 320 1514.1 305.5 1522.5 290 1530.9 275 1539 260 1545.5 246.2 1553.3 230 1566.3 205.6 1580.3 180 1591.5 159 1602.2 140 1614.6 121 1625.3 105.5 1629.5 99.2 1633.8 93 1645.7 77 1659 60 1668.8 49.1 1678.2 40 1690.2 29.5 1701 21.5"/><path d="M1284 427 1427 427 1436.1 421.5 1447.7 413.7 1457.9 405 1467.3 395.8 1475 386.8 1481.7 377.8 1487.8 368.8 1493.4 359.9 1499.1 351.2 1504.7 342 1510.1 331.8 1516.1 320 1523.5 305.5 1531.5 290 1539.5 275 1547.2 260 1553.4 246.2 1560.8 230 1573.2 205.6 1586.6 180 1597.4 159 1607.8 140 1619.7 121 1630.1 105.5 1634.1 99.2 1638.3 93 1649.8 77 1662.5 60 1671.9 49.1 1680.7 40 1691.9 29.5 1701 21.5"/><path d="M1284 427 1429.5 427 1438.7 421.5 1450.3 413.7 1460.6 405 1470 395.8 1477.8 386.8 1484.6 377.8 1490.7 368.8 1496.4 359.9 1502.1 351.2 1507.7 342 1513.2 331.8 1519.3 320 1526.8 305.5 1534.8 290 1542.7 275 1550.4 260 1556.6 246.2 1564 230 1576.3 205.6 1589.5 180 1600.1 159 1610.2 140 1622 121 1632.1 105.5 1636 99.2 1640.1 93 1651.3 77 1663.7 60 1672.8 49.1 1681.4 40 1692.4 29.5 1701 21.5"/><path d="M1284 427 1398.5 427 1407.6 421.5 1419.1 413.7 1429.2 405 1438.5 395.8 1446.1 386.8 1452.7 377.8 1458.7 368.8 1464.3 359.9 1469.9 351.2 1475.5 342 1481 331.8 1487 320 1494.6 305.5 1502.9 290 1511.1 275 1519.3 260 1526 246.2 1534.1 230 1547.8 205.6 1562.9 180 1575.3 159 1587.4 140 1601.3 121 1613.4 105.5 1618.1 99.2 1623 93 1636.6 77 1651.9 60 1663.1 49.1 1673.7 40 1687.5 29.5 1701 21.5"/><path d="M1284 427 1450.7 427 1459.5 421.5 1470.6 413.7 1480.2 405 1488.9 395.8 1496 386.8 1502.1 377.8 1507.5 368.8 1512.6 359.9 1517.6 351.2 1522.7 342 1527.5 331.8 1532.7 320 1539.3 305.5 1546.4 290 1553.5 275 1560.5 260 1566 246.2 1572.7 230 1584.1 205.6 1596.6 180 1606.7 159 1616.5 140 1627.9 121 1637.8 105.5 1641.6 99.2 1645.6 93 1656.4 77 1668.3 60 1677 49.1 1685.1 40 1694.9 29.5 1701 21.5"/><path d="M1284 427 1456 427 1464.9 421.5 1476.1 413.7 1485.8 405 1494.8 395.8 1502 386.8 1508.3 377.8 1513.9 368.8 1519.1 359.9 1524.3 351.2 1529.4 342 1534.4 331.8 1539.7 320 1546.5 305.5 1553.7 290 1560.8 275 1567.8 260 1573.3 246.2 1579.9 230 1591.1 205.6 1603.1 180 1612.8 159 1622.1 140 1632.9 121 1642.3 105.5 1645.8 99.2 1649.6 93 1659.8 77 1671 60 1679.1 49.1 1686.7 40 1695.9 29.5 1701 21.5"/><path d="M1284 427 1426.6 427 1435.8 421.5 1447.6 413.7 1458 405 1467.6 395.8 1475.4 386.8 1482.3 377.8 1488.6 368.8 1494.4 359.9 1500.2 351.2 1506 342 1511.6 331.8 1517.7 320 1525.4 305.5 1533.5 290 1541.6 275 1549.5 260 1555.7 246.2 1563.2 230 1575.6 205.6 1588.9 180 1599.5 159 1609.7 140 1621.4 121 1631.6 105.5 1635.4 99.2 1639.5 93 1650.8 77 1663.2 60 1672.3 49.1 1681 40 1692 29.5 1701 21.5"/><path d="M1284 427 1418.9 427 1428.3 421.5 1440.2 413.7 1450.8 405 1460.6 395.8 1468.6 386.8 1475.7 377.8 1482.2 368.8 1488.2 359.9 1494.2 351.2 1500.1 342 1505.9 331.8 1512.3 320 1520.3 305.5 1528.7 290 1537.1 275 1545.1 260 1551.6 246.2 1559.3 230 1572 205.6 1585.6 180 1596.5 159 1606.8 140 1618.7 121 1629.1 105.5 1633 99.2 1637.2 93 1648.6 77 1661.3 60 1670.7 49.1 1679.6 40 1691 29.5 1701 21.5"/><path d="M1284 427 1428 427 1437.2 421.5 1448.8 413.7 1459.1 405 1468.5 395.8 1476.2 386.8 1483 377.8 1489.1 368.8 1494.8 359.9 1500.5 351.2 1506.1 342 1511.6 331.8 1517.7 320 1525.1 305.5 1533.2 290 1541.1 275 1548.9 260 1555 246.2 1562.4 230 1574.8 205.6 1588.1 180 1598.8 159 1609 140 1620.9 121 1631.1 105.5 1635.1 99.2 1639.2 93 1650.5 77 1663.1 60 1672.3 49.1 1681.1 40 1692.1 29.5 1701 21.5"/><path d="M1284 427 1416 427 1425.3 421.5 1437.2 413.7 1447.6 405 1457.3 395.8 1465.3 386.8 1472.3 377.8 1478.6 368.8 1484.6 359.9 1490.5 351.2 1496.4 342 1502.1 331.8 1508.5 320 1516.3 305.5 1524.7 290 1533 275 1541.1 260 1547.6 246.2 1555.3 230 1568.2 205.6 1582 180 1593.1 159 1603.7 140 1616 121 1626.6 105.5 1630.7 99.2 1635 93 1646.7 77 1659.9 60 1669.5 49.1 1678.7 40 1690.5 29.5 1701 21.5"/><path d="M1284 427 1420.7 427 1429.6 421.5 1440.9 413.7 1450.7 405 1459.7 395.8 1467 386.8 1473.4 377.8 1479.1 368.8 1484.5 359.9 1489.8 351.2 1495.1 342 1500.3 331.8 1505.9 320 1513.1 305.5 1520.8 290 1528.5 275 1536.1 260 1542.3 246.2 1549.8 230 1562.6 205.6 1576.6 180 1588.1 159 1599.2 140 1612.1 121 1623.3 105.5 1627.7 99.2 1632.3 93 1644.8 77 1658.7 60 1668.9 49.1 1678.4 40 1690.6 29.5 1701 21.5"/><path d="M1284 427 1442.7 427 1451.9 421.5 1463.6 413.7 1473.9 405 1483.4 395.8 1491.2 386.8 1498 377.8 1504.1 368.8 1509.8 359.9 1515.5 351.2 1521.2 342 1526.7 331.8 1532.6 320 1540 305.5 1547.9 290 1555.7 275 1563.2 260 1569.1 246.2 1576.2 230 1587.9 205.6 1600.3 180 1610.2 159 1619.5 140 1630.4 121 1639.8 105.5 1643.3 99.2 1647.1 93 1657.3 77 1668.6 60 1676.9 49.1 1684.7 40 1694.4 29.5 1701 21.5"/><path d="M1284 427 1451.8 427 1460.8 421.5 1472.3 413.7 1482.3 405 1491.5 395.8 1499 386.8 1505.5 377.8 1511.3 368.8 1516.8 359.9 1522.2 351.2 1527.6 342 1532.8 331.8 1538.4 320 1545.4 305.5 1552.9 290 1560.4 275 1567.6 260 1573.2 246.2 1580 230 1591.3 205.6 1603.4 180 1613.1 159 1622.3 140 1633 121 1642.3 105.5 1645.8 99.2 1649.5 93 1659.5 77 1670.6 60 1678.6 49.1 1686.2 40 1695.5 29.5 1701 21.5"/><path d="M1284 427 1434.1 427 1443.5 421.5 1455.3 413.7 1465.8 405 1475.5 395.8 1483.5 386.8 1490.4 377.8 1496.7 368.8 1502.6 359.9 1508.5 351.2 1514.3 342 1520 331.8 1526.2 320 1533.9 305.5 1542.1 290 1550.1 275 1557.9 260 1564 246.2 1571.3 230 1583.4 205.6 1596.2 180 1606.3 159 1615.9 140 1627.1 121 1636.6 105.5 1640.3 99.2 1644.1 93 1654.7 77 1666.3 60 1674.9 49.1 1683 40 1693.3 29.5 1701 21.5"/><path d="M1284 427 1430.7 427 1439.8 421.5 1451.3 413.7 1461.4 405 1470.7 395.8 1478.3 386.8 1484.9 377.8 1490.8 368.8 1496.4 359.9 1501.9 351.2 1507.4 342 1512.8 331.8 1518.6 320 1526 305.5 1533.8 290 1541.6 275 1549.2 260 1555.3 246.2 1562.6 230 1574.8 205.6 1588.1 180 1598.8 159 1609.1 140 1621 121 1631.3 105.5 1635.2 99.2 1639.4 93 1650.8 77 1663.4 60 1672.7 49.1 1681.4 40 1692.4 29.5 1701 21.5"/><path d="M1284 427 1407.1 427 1416.9 421.5 1429.4 413.7 1440.6 405 1451.1 395.8 1459.8 386.8 1467.5 377.8 1474.6 368.8 1481.2 359.9 1487.8 351.2 1494.3 342 1500.8 331.8 1507.9 320 1516.6 305.5 1525.8 290 1534.8 275 1543.5 260 1550.4 246.2 1558.5 230 1571.7 205.6 1585.5 180 1596.3 159 1606.5 140 1618.3 121 1628.3 105.5 1632.2 99.2 1636.3 93 1647.4 77 1659.9 60 1669.2 49.1 1678.2 40 1689.9 29.5 1701 21.5"/><path d="M1284 427 1422.8 427 1432.1 421.5 1443.9 413.7 1454.3 405 1463.9 395.8 1471.8 386.8 1478.7 377.8 1484.9 368.8 1490.8 359.9 1496.6 351.2 1502.4 342 1508.1 331.8 1514.3 320 1522 305.5 1530.2 290 1538.3 275 1546.2 260 1552.6 246.2 1560.1 230 1572.7 205.6 1586.2 180 1597 159 1607.4 140 1619.3 121 1629.7 105.5 1633.6 99.2 1637.8 93 1649.2 77 1661.9 60 1671.3 49.1 1680.2 40 1691.5 29.5 1701 21.5"/><path d="M1284 427 1434 427 1442.9 421.5 1454.1 413.7 1463.9 405 1472.9 395.8 1480.2 386.8 1486.5 377.8 1492.1 368.8 1497.4 359.9 1502.7 351.2 1507.9 342 1513 331.8 1518.5 320 1525.4 305.5 1532.9 290 1540.5 275 1547.8 260 1553.7 246.2 1560.9 230 1573 205.6 1586.4 180 1597.2 159 1607.6 140 1619.8 121 1630.3 105.5 1634.4 99.2 1638.7 93 1650.3 77 1663.2 60 1672.7 49.1 1681.5 40 1692.6 29.5 1701 21.5"/><path d="M1284 427 1451.9 427 1461.1 421.5 1472.8 413.7 1483.1 405 1492.6 395.8 1500.4 386.8 1507.2 377.8 1513.3 368.8 1519 359.9 1524.7 351.2 1530.3 342 1535.8 331.8 1541.7 320 1549 305.5 1556.8 290 1564.5 275 1571.8 260 1577.5 246.2 1584.4 230 1595.6 205.6 1607.6 180 1616.9 159 1625.8 140 1636.1 121 1644.9 105.5 1648.2 99.2 1651.8 93 1661.4 77 1671.9 60 1679.6 49.1 1686.9 40 1695.8 29.5 1701 21.5"/><path d="M1284 427 1425.9 427 1435.2 421.5 1446.9 413.7 1457.2 405 1466.8 395.8 1474.6 386.8 1481.5 377.8 1487.7 368.8 1493.5 359.9 1499.2 351.2 1505 342 1510.5 331.8 1516.7 320 1524.3 305.5 1532.4 290 1540.5 275 1548.3 260 1554.5 246.2 1562 230 1574.5 205.6 1587.8 180 1598.5 159 1608.8 140 1620.6 121 1630.9 105.5 1634.8 99.2 1638.9 93 1650.2 77 1662.8 60 1672 49.1 1680.8 40 1691.9 29.5 1701 21.5"/><path d="M1284 427 1416.4 427 1425.8 421.5 1437.8 413.7 1448.3 405 1458.1 395.8 1466.2 386.8 1473.2 377.8 1479.7 368.8 1485.7 359.9 1491.7 351.2 1497.6 342 1503.4 331.8 1509.8 320 1517.8 305.5 1526.2 290 1534.6 275 1542.7 260 1549.2 246.2 1557 230 1569.8 205.6 1583.6 180 1594.6 159 1605 140 1617.1 121 1627.6 105.5 1631.6 99.2 1635.9 93 1647.4 77 1660.4 60 1669.9 49.1 1679 40 1690.7 29.5 1701 21.5"/><path d="M1284 427 1424.1 427 1433.7 421.5 1446 413.7 1456.9 405 1467 395.8 1475.4 386.8 1482.8 377.8 1489.5 368.8 1495.8 359.9 1502.1 351.2 1508.3 342 1514.4 331.8 1521.1 320 1529.3 305.5 1538 290 1546.5 275 1554.7 260 1561.2 246.2 1568.8 230 1581.3 205.6 1594.3 180 1604.6 159 1614.2 140 1625.4 121 1634.9 105.5 1638.6 99.2 1642.4 93 1652.9 77 1664.6 60 1673.3 49.1 1681.5 40 1692.1 29.5 1701 21.5"/><path d="M1284 427 1427 427 1436.2 421.5 1447.9 413.7 1458.1 405 1467.6 395.8 1475.4 386.8 1482.2 377.8 1488.3 368.8 1494 359.9 1499.7 351.2 1505.4 342 1510.9 331.8 1517 320 1524.5 305.5 1532.6 290 1540.6 275 1548.3 260 1554.5 246.2 1562 230 1574.4 205.6 1587.7 180 1598.4 159 1608.7 140 1620.6 121 1630.8 105.5 1634.8 99.2 1638.9 93 1650.3 77 1662.9 60 1672.1 49.1 1680.9 40 1692 29.5 1701 21.5"/><path d="M1284 427 1426 427 1435.3 421.5 1447 413.7 1457.3 405 1466.8 395.8 1474.6 386.8 1481.5 377.8 1487.7 368.8 1493.4 359.9 1499.2 351.2 1504.9 342 1510.5 331.8 1516.6 320 1524.2 305.5 1532.3 290 1540.4 275 1548.2 260 1554.4 246.2 1561.9 230 1574.3 205.6 1587.7 180 1598.4 159 1608.7 140 1620.5 121 1630.8 105.5 1634.7 99.2 1638.8 93 1650.2 77 1662.8 60 1672 49.1 1680.8 40 1691.9 29.5 1701 21.5"/><path d="M1284 427 1436.6 427 1445.8 421.5 1457.4 413.7 1467.7 405 1477.1 395.8 1484.9 386.8 1491.6 377.8 1497.7 368.8 1503.4 359.9 1509.1 351.2 1514.7 342 1520.2 331.8 1526.2 320 1533.6 305.5 1541.5 290 1549.4 275 1557 260 1563 246.2 1570.2 230 1582.1 205.6 1595 180 1605.2 159 1614.9 140 1626.3 121 1636 105.5 1639.7 99.2 1643.7 93 1654.4 77 1666.2 60 1674.9 49.1 1683.1 40 1693.4 29.5 1701 21.5"/><path d="M1284 427 1436.2 427 1445.1 421.5 1456.3 413.7 1466 405 1474.9 395.8 1482.1 386.8 1488.4 377.8 1494 368.8 1499.2 359.9 1504.4 351.2 1509.6 342 1514.6 331.8 1520.1 320 1526.9 305.5 1534.4 290 1541.8 275 1549.1 260 1555 246.2 1562.1 230 1574.1 205.6 1587.3 180 1598.1 159 1608.5 140 1620.6 121 1631.1 105.5 1635.1 99.2 1639.4 93 1651 77 1663.8 60 1673.2 49.1 1681.9 40 1692.9 29.5 1701 21.5"/><path d="M1284 427 1424 427 1433.4 421.5 1445.4 413.7 1456 405 1465.9 395.8 1474 386.8 1481.1 377.8 1487.6 368.8 1493.7 359.9 1499.7 351.2 1505.7 342 1511.6 331.8 1518 320 1525.9 305.5 1534.4 290 1542.7 275 1550.7 260 1557.1 246.2 1564.7 230 1577.2 205.6 1590.4 180 1600.9 159 1610.9 140 1622.5 121 1632.4 105.5 1636.2 99.2 1640.2 93 1651.2 77 1663.4 60 1672.4 49.1 1680.9 40 1691.9 29.5 1701 21.5"/><path d="M1284 427 1422.3 427 1431.5 421.5 1443.1 413.7 1453.3 405 1462.8 395.8 1470.5 386.8 1477.3 377.8 1483.4 368.8 1489.1 359.9 1494.8 351.2 1500.4 342 1505.9 331.8 1512 320 1519.5 305.5 1527.6 290 1535.6 275 1543.4 260 1549.7 246.2 1557.3 230 1569.9 205.6 1583.5 180 1594.5 159 1605.1 140 1617.3 121 1627.9 105.5 1632 99.2 1636.2 93 1648 77 1661 60 1670.6 49.1 1679.7 40 1691.2 29.5 1701 21.5"/><path d="M1284 427 1418.6 427 1428.1 421.5 1440.2 413.7 1450.9 405 1460.9 395.8 1469.1 386.8 1476.3 377.8 1482.9 368.8 1489.1 359.9 1495.2 351.2 1501.3 342 1507.2 331.8 1513.8 320 1521.9 305.5 1530.4 290 1538.9 275 1547.1 260 1553.6 246.2 1561.3 230 1574.1 205.6 1587.6 180 1598.3 159 1608.4 140 1620.2 121 1630.3 105.5 1634.2 99.2 1638.2 93 1649.4 77 1661.9 60 1671.1 49.1 1679.9 40 1691.1 29.5 1701 21.5"/><path d="M1284 427 1437.8 427 1447.1 421.5 1458.9 413.7 1469.4 405 1479 395.8 1486.9 386.8 1493.8 377.8 1500.1 368.8 1505.9 359.9 1511.7 351.2 1517.5 342 1523.1 331.8 1529.2 320 1536.8 305.5 1544.9 290 1552.8 275 1560.5 260 1566.6 246.2 1573.7 230 1585.6 205.6 1598.3 180 1608.3 159 1617.7 140 1628.7 121 1638.2 105.5 1641.8 99.2 1645.6 93 1656 77 1667.4 60 1675.8 49.1 1683.8 40 1693.8 29.5 1701 21.5"/><path d="M1284 427 1424.1 427 1433.3 421.5 1444.8 413.7 1455 405 1464.4 395.8 1472.1 386.8 1478.7 377.8 1484.8 368.8 1490.4 359.9 1496.1 351.2 1501.7 342 1507.1 331.8 1513.1 320 1520.5 305.5 1528.5 290 1536.5 275 1544.2 260 1550.5 246.2 1557.9 230 1570.5 205.6 1584.1 180 1595.1 159 1605.6 140 1617.8 121 1628.3 105.5 1632.4 99.2 1636.7 93 1648.4 77 1661.4 60 1671 49.1 1680 40 1691.5 29.5 1701 21.5"/><path d="M1284 427 1437.2 427 1446.5 421.5 1458.4 413.7 1468.8 405 1478.5 395.8 1486.5 386.8 1493.5 377.8 1499.8 368.8 1505.7 359.9 1511.5 351.2 1517.4 342 1523 331.8 1529.2 320 1536.9 305.5 1545 290 1553 275 1560.7 260 1566.8 246.2 1574 230 1585.9 205.6 1598.6 180 1608.5 159 1618 140 1628.9 121 1638.4 105.5 1641.9 99.2 1645.7 93 1656 77 1667.4 60 1675.8 49.1 1683.7 40 1693.7 29.5 1701 21.5"/><path d="M1284 427 1433.7 427 1442.6 421.5 1453.8 413.7 1463.6 405 1472.5 395.8 1479.7 386.8 1486 377.8 1491.6 368.8 1496.9 359.9 1502.1 351.2 1507.3 342 1512.3 331.8 1517.9 320 1524.8 305.5 1532.2 290 1539.8 275 1547.1 260 1553 246.2 1560.2 230 1572.3 205.6 1585.7 180 1596.6 159 1607.1 140 1619.3 121 1629.9 105.5 1634 99.2 1638.3 93 1650 77 1663 60 1672.5 49.1 1681.4 40 1692.5 29.5 1701 21.5"/><path d="M1284 427 1426.7 427 1435.8 421.5 1447.4 413.7 1457.6 405 1467 395.8 1474.7 386.8 1481.3 377.8 1487.4 368.8 1493 359.9 1498.7 351.2 1504.2 342 1509.7 331.8 1515.6 320 1523.1 305.5 1531 290 1539 275 1546.7 260 1552.9 246.2 1560.3 230 1572.7 205.6 1586.2 180 1597 159 1607.4 140 1619.4 121 1629.8 105.5 1633.8 99.2 1638 93 1649.6 77 1662.4 60 1671.7 49.1 1680.6 40 1691.9 29.5 1701 21.5"/><path d="M1284 427 1406.2 427 1415.5 421.5 1427.3 413.7 1437.7 405 1447.3 395.8 1455.3 386.8 1462.2 377.8 1468.5 368.8 1474.5 359.9 1480.3 351.2 1486.2 342 1492 331.8 1498.3 320 1506.2 305.5 1514.7 290 1523.1 275 1531.3 260 1537.9 246.2 1545.9 230 1559.2 205.6 1573.7 180 1585.3 159 1596.6 140 1609.5 121 1620.7 105.5 1625 99.2 1629.6 93 1642.1 77 1656.1 60 1666.5 49.1 1676.3 40 1689 29.5 1701 21.5"/><path d="M1284 427 1433.2 427 1442.6 421.5 1454.7 413.7 1465.4 405 1475.3 395.8 1483.5 386.8 1490.7 377.8 1497.2 368.8 1503.3 359.9 1509.3 351.2 1515.4 342 1521.2 331.8 1527.7 320 1535.6 305.5 1544 290 1552.2 275 1560.1 260 1566.3 246.2 1573.7 230 1585.7 205.6 1598.4 180 1608.4 159 1617.8 140 1628.7 121 1638.1 105.5 1641.6 99.2 1645.4 93 1655.6 77 1666.9 60 1675.3 49.1 1683.2 40 1693.3 29.5 1701 21.5"/><path d="M1284 427 1424.8 427 1434.2 421.5 1446.1 413.7 1456.7 405 1466.4 395.8 1474.5 386.8 1481.5 377.8 1487.9 368.8 1493.9 359.9 1499.9 351.2 1505.8 342 1511.6 331.8 1517.9 320 1525.7 305.5 1534.1 290 1542.3 275 1550.3 260 1556.6 246.2 1564.2 230 1576.6 205.6 1589.9 180 1600.5 159 1610.5 140 1622.1 121 1632.1 105.5 1636 99.2 1640 93 1651 77 1663.3 60 1672.4 49.1 1681 40 1691.9 29.5 1701 21.5"/><path d="M1284 427 1419.5 427 1428.9 421.5 1440.8 413.7 1451.3 405 1461 395.8 1469 386.8 1476 377.8 1482.4 368.8 1488.3 359.9 1494.3 351.2 1500.2 342 1505.9 331.8 1512.3 320 1520.1 305.5 1528.5 290 1536.8 275 1544.8 260 1551.2 246.2 1558.9 230 1571.6 205.6 1585.2 180 1596.1 159 1606.5 140 1618.5 121 1628.8 105.5 1632.8 99.2 1637 93 1648.5 77 1661.3 60 1670.7 49.1 1679.6 40 1691.1 29.5 1701 21.5"/><path d="M1284 427 1420 427 1429.3 421.5 1441.2 413.7 1451.7 405 1461.5 395.8 1469.5 386.8 1476.6 377.8 1482.9 368.8 1488.9 359.9 1494.9 351.2 1500.8 342 1506.6 331.8 1512.9 320 1520.8 305.5 1529.2 290 1537.5 275 1545.5 260 1551.9 246.2 1559.6 230 1572.3 205.6 1585.8 180 1596.7 159 1607 140 1618.9 121 1629.2 105.5 1633.2 99.2 1637.4 93 1648.8 77 1661.5 60 1670.9 49.1 1679.8 40 1691.2 29.5 1701 21.5"/></g>
<path d="M1284 422.3 1353 418.8 1410 411.7 1430 408.3 1450 403.3 1462 398.7 1476 393.3 1489.7 380.8 1497.6 365.9 1500.8 350 1502.4 315 1503.1 278.7 1504 245 1506.5 215 1512.6 180 1519.4 144.6 1521.7 140 1523.4 130 1527.2 104 1528 90 1530.4 42.4 1600 41.7 1629 41 1629.5 37 1640 36.5 1641 31 1654 30.5 1655 26.1 1670 25.5 1671 23.4 1697 22.5 1701 21.5" stroke="#542A1E" stroke-width="5.8" fill="none" stroke-linejoin="round"/>
<path d="M1284 427 1428.9 427 1431.77 425.26 1435.84 422.86 1440.57 419.99 1445.43 416.87 1449.9 413.7 1454.03 410.42 1458.19 406.88 1462.27 403.19 1466.17 399.46 1469.8 395.8 1473.12 392.2 1476.18 388.6 1479.06 385 1481.82 381.4 1484.5 377.8 1487.08 374.21 1489.52 370.63 1491.87 367.06 1494.18 363.48 1496.5 359.9 1498.83 356.39 1501.13 352.94 1503.41 349.46 1505.7 345.84 1508 342 1510.26 337.99 1512.47 333.88 1514.72 329.57 1517.1 324.98 1519.7 320 1522.58 314.51 1525.69 308.58 1528.92 302.38 1532.19 296.13 1535.4 290 1538.59 284 1541.82 278 1545.03 272 1548.18 266 1551.2 260 1553.87 254.32 1556.23 248.96 1558.61 243.44 1561.35 237.28 1564.8 230 1569.22 221.12 1574.38 210.96 1579.88 200.24 1585.32 189.68 1590.3 180 1594.72 171.27 1598.84 163.02 1602.82 155.12 1606.79 147.49 1610.9 140 1615.39 132.4 1620.16 124.75 1624.86 117.45 1629.13 110.9 1632.6 105.5 1634.82 101.92 1636.01 99.9 1636.89 98.42 1638.15 96.46 1640.5 93 1644.28 87.5 1649.02 80.65 1654.21 73.25 1659.34 66.1 1663.9 60 1667.76 55.14 1671.27 50.99 1674.6 47.27 1677.95 43.7 1681.5 40 1685.59 35.91 1690.1 31.6 1694.51 27.5 1698.32 23.99 1701 21.5" stroke="#039CD9" stroke-width="5.4" fill="none" stroke-linejoin="round"/>
</g>
<path d="M1553.6 341.5H1603.5" stroke="#542A1E" stroke-width="6.5" stroke-linecap="round"/>
<path d="M1553.6 394.1H1603.5" stroke="#039CD9" stroke-width="6.5" stroke-linecap="round"/>
<text x="1623.5" y="350.2" font-size="25.6" fill="#262626"><tspan font-style="italic">CH</tspan><tspan font-size="17.92" dx="1.54" dy="4.28">4</tspan><tspan dy="-4.28"> (Mg/y)</tspan></text>
<text x="1623.5" y="387.2" font-size="25.6" fill="#262626"><tspan font-style="italic">CH</tspan><tspan font-size="17.92" dx="1.54" dy="4.28">4</tspan><tspan dy="-4.28"> loss</tspan></text>
<text x="1623.5" y="413" font-size="25.6" fill="#262626">&#160;rate (%)</text>
<path d="M1272.2 443.6H1285.0M1272.2 359.18H1285.0M1272.2 274.76H1285.0M1272.2 190.34H1285.0M1272.2 105.92H1285.0M1272.2 21.5H1285.0M1284.7 465.1V477.6M1381.72 465.1V477.6M1423.5 465.1V477.6M1478.73 465.1V477.6M1520.52 465.1V477.6M1562.3 465.1V477.6M1617.53 465.1V477.6M1659.32 465.1V477.6M1701.1 465.1V477.6" stroke="#262626" stroke-width="3" fill="none"/>
<text x="1265" y="454.2" text-anchor="end" font-size="29.5" fill="#262626">0%</text>
<text x="1265" y="369.78" text-anchor="end" font-size="29.5" fill="#262626">20%</text>
<text x="1265" y="285.36" text-anchor="end" font-size="29.5" fill="#262626">40%</text>
<text x="1265" y="200.94" text-anchor="end" font-size="29.5" fill="#262626">60%</text>
<text x="1265" y="116.52" text-anchor="end" font-size="29.5" fill="#262626">80%</text>
<text x="1265" y="32.1" text-anchor="end" font-size="29.5" fill="#262626">100%</text>
<text x="1284.7" y="505.8" text-anchor="middle" font-size="29.5" fill="#262626">0.1</text>
<text x="1381.72" y="505.8" text-anchor="middle" font-size="29.5" fill="#262626">0.5</text>
<text x="1423.5" y="505.8" text-anchor="middle" font-size="29.5" fill="#262626">1</text>
<text x="1478.73" y="505.8" text-anchor="middle" font-size="29.5" fill="#262626">2.5</text>
<text x="1520.52" y="505.8" text-anchor="middle" font-size="29.5" fill="#262626">5</text>
<text x="1562.3" y="505.8" text-anchor="middle" font-size="29.5" fill="#262626">10</text>
<text x="1617.53" y="505.8" text-anchor="middle" font-size="29.5" fill="#262626">25</text>
<text x="1659.32" y="505.8" text-anchor="middle" font-size="29.5" fill="#262626">50</text>
<text x="1701.1" y="505.8" text-anchor="middle" font-size="29.5" fill="#262626">100</text>
<text transform="translate(1175.5 232.3) rotate(-90)" text-anchor="middle" font-size="33.5" fill="#262626">Fraction of sites</text>
<text x="1493" y="544.2" text-anchor="middle" font-size="33.8" fill="#262626"><tspan font-style="italic">CH</tspan><tspan font-size="23.66" dx="2.03" dy="5.64">4</tspan><tspan dy="-5.64"> (Mg/y/site) or % <tspan font-style="italic">CH</tspan><tspan font-size="23.66" dx="2.03" dy="5.64">4</tspan><tspan dy="-5.64"> loss rate</tspan></tspan></text>
<text x="1308.8" y="45.2" font-size="47" font-weight="bold" fill="#262626">c</text>
</svg>
</body></html>
